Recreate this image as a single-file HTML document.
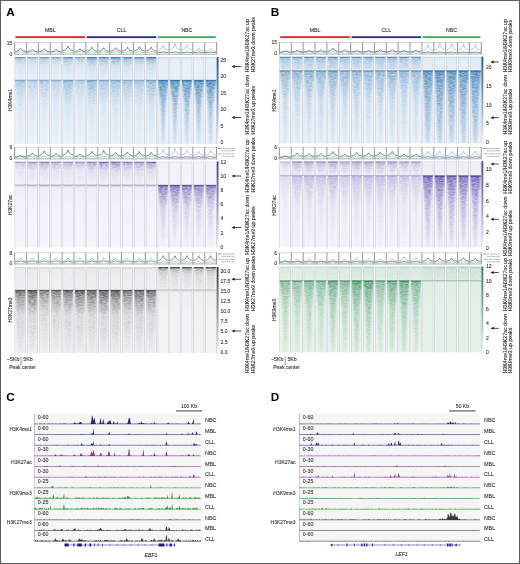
<!DOCTYPE html>
<html><head><meta charset="utf-8"><style>
html,body{margin:0;padding:0;background:#fff;}
svg{display:block;font-family:"Liberation Sans", sans-serif;will-change:transform;}
</style></head><body>
<svg xmlns="http://www.w3.org/2000/svg" width="520" height="564" viewBox="0 0 520 564">
<defs>
<filter id="blur1" x="-50%" y="-10%" width="200%" height="120%"><feGaussianBlur stdDeviation="0.9"/></filter>
<filter id="texmul" x="0" y="0" width="100%" height="100%"><feTurbulence type="fractalNoise" baseFrequency="0.32 0.85" numOctaves="2" seed="4" result="n"/><feColorMatrix in="n" type="matrix" values="0 0 0 0 0  0 0 0 0 0  0 0 0 0 0  1.0 0 0 0 0.25" result="na"/><feComposite in="SourceGraphic" in2="na" operator="in"/></filter>
<clipPath id="cp1"><rect x="14.60" y="57.00" width="201.96" height="87.00"/></clipPath><clipPath id="cc2"><rect x="14.60" y="57.00" width="11.88" height="23.00"/></clipPath><linearGradient id="l3" x2="0" y2="1"><stop offset="0" stop-color="rgb(35,110,170)" stop-opacity="0.54"/><stop offset="0.15" stop-color="rgb(35,110,170)" stop-opacity="0.34"/><stop offset="0.4" stop-color="rgb(35,110,170)" stop-opacity="0.14"/><stop offset="1" stop-color="rgb(35,110,170)" stop-opacity="0.04"/></linearGradient><clipPath id="cc4"><rect x="14.60" y="80.00" width="11.88" height="64.00"/></clipPath><linearGradient id="l5" x2="0" y2="1"><stop offset="0" stop-color="rgb(35,110,170)" stop-opacity="0.41"/><stop offset="0.15" stop-color="rgb(35,110,170)" stop-opacity="0.27"/><stop offset="0.4" stop-color="rgb(35,110,170)" stop-opacity="0.11"/><stop offset="1" stop-color="rgb(35,110,170)" stop-opacity="0.03"/></linearGradient><clipPath id="cc6"><rect x="26.48" y="57.00" width="11.88" height="23.00"/></clipPath><linearGradient id="l7" x2="0" y2="1"><stop offset="0" stop-color="rgb(35,110,170)" stop-opacity="0.43"/><stop offset="0.15" stop-color="rgb(35,110,170)" stop-opacity="0.27"/><stop offset="0.4" stop-color="rgb(35,110,170)" stop-opacity="0.11"/><stop offset="1" stop-color="rgb(35,110,170)" stop-opacity="0.03"/></linearGradient><clipPath id="cc8"><rect x="26.48" y="80.00" width="11.88" height="64.00"/></clipPath><linearGradient id="l9" x2="0" y2="1"><stop offset="0" stop-color="rgb(35,110,170)" stop-opacity="0.32"/><stop offset="0.15" stop-color="rgb(35,110,170)" stop-opacity="0.22"/><stop offset="0.4" stop-color="rgb(35,110,170)" stop-opacity="0.09"/><stop offset="1" stop-color="rgb(35,110,170)" stop-opacity="0.02"/></linearGradient><clipPath id="cc10"><rect x="38.36" y="57.00" width="11.88" height="23.00"/></clipPath><linearGradient id="l11" x2="0" y2="1"><stop offset="0" stop-color="rgb(35,110,170)" stop-opacity="0.51"/><stop offset="0.15" stop-color="rgb(35,110,170)" stop-opacity="0.32"/><stop offset="0.4" stop-color="rgb(35,110,170)" stop-opacity="0.13"/><stop offset="1" stop-color="rgb(35,110,170)" stop-opacity="0.04"/></linearGradient><clipPath id="cc12"><rect x="38.36" y="80.00" width="11.88" height="64.00"/></clipPath><linearGradient id="l13" x2="0" y2="1"><stop offset="0" stop-color="rgb(35,110,170)" stop-opacity="0.38"/><stop offset="0.15" stop-color="rgb(35,110,170)" stop-opacity="0.26"/><stop offset="0.4" stop-color="rgb(35,110,170)" stop-opacity="0.1"/><stop offset="1" stop-color="rgb(35,110,170)" stop-opacity="0.03"/></linearGradient><clipPath id="cc14"><rect x="50.24" y="57.00" width="11.88" height="23.00"/></clipPath><linearGradient id="l15" x2="0" y2="1"><stop offset="0" stop-color="rgb(35,110,170)" stop-opacity="0.46"/><stop offset="0.15" stop-color="rgb(35,110,170)" stop-opacity="0.29"/><stop offset="0.4" stop-color="rgb(35,110,170)" stop-opacity="0.11"/><stop offset="1" stop-color="rgb(35,110,170)" stop-opacity="0.03"/></linearGradient><clipPath id="cc16"><rect x="50.24" y="80.00" width="11.88" height="64.00"/></clipPath><linearGradient id="l17" x2="0" y2="1"><stop offset="0" stop-color="rgb(35,110,170)" stop-opacity="0.34"/><stop offset="0.15" stop-color="rgb(35,110,170)" stop-opacity="0.23"/><stop offset="0.4" stop-color="rgb(35,110,170)" stop-opacity="0.09"/><stop offset="1" stop-color="rgb(35,110,170)" stop-opacity="0.02"/></linearGradient><clipPath id="cc18"><rect x="62.12" y="57.00" width="11.88" height="23.00"/></clipPath><linearGradient id="l19" x2="0" y2="1"><stop offset="0" stop-color="rgb(35,110,170)" stop-opacity="0.68"/><stop offset="0.15" stop-color="rgb(35,110,170)" stop-opacity="0.42"/><stop offset="0.4" stop-color="rgb(35,110,170)" stop-opacity="0.17"/><stop offset="1" stop-color="rgb(35,110,170)" stop-opacity="0.05"/></linearGradient><clipPath id="cc20"><rect x="62.12" y="80.00" width="11.88" height="64.00"/></clipPath><linearGradient id="l21" x2="0" y2="1"><stop offset="0" stop-color="rgb(35,110,170)" stop-opacity="0.51"/><stop offset="0.15" stop-color="rgb(35,110,170)" stop-opacity="0.34"/><stop offset="0.4" stop-color="rgb(35,110,170)" stop-opacity="0.14"/><stop offset="1" stop-color="rgb(35,110,170)" stop-opacity="0.03"/></linearGradient><clipPath id="cc22"><rect x="74.00" y="57.00" width="11.88" height="23.00"/></clipPath><clipPath id="cc23"><rect x="74.00" y="80.00" width="11.88" height="64.00"/></clipPath><clipPath id="cc24"><rect x="85.88" y="57.00" width="11.88" height="23.00"/></clipPath><linearGradient id="l25" x2="0" y2="1"><stop offset="0" stop-color="rgb(35,110,170)" stop-opacity="0.81"/><stop offset="0.15" stop-color="rgb(35,110,170)" stop-opacity="0.52"/><stop offset="0.4" stop-color="rgb(35,110,170)" stop-opacity="0.21"/><stop offset="1" stop-color="rgb(35,110,170)" stop-opacity="0.06"/></linearGradient><clipPath id="cc26"><rect x="85.88" y="80.00" width="11.88" height="64.00"/></clipPath><linearGradient id="l27" x2="0" y2="1"><stop offset="0" stop-color="rgb(35,110,170)" stop-opacity="0.53"/><stop offset="0.15" stop-color="rgb(35,110,170)" stop-opacity="0.36"/><stop offset="0.4" stop-color="rgb(35,110,170)" stop-opacity="0.15"/><stop offset="1" stop-color="rgb(35,110,170)" stop-opacity="0.03"/></linearGradient><clipPath id="cc28"><rect x="97.76" y="57.00" width="11.88" height="23.00"/></clipPath><linearGradient id="l29" x2="0" y2="1"><stop offset="0" stop-color="rgb(35,110,170)" stop-opacity="0.68"/><stop offset="0.15" stop-color="rgb(35,110,170)" stop-opacity="0.43"/><stop offset="0.4" stop-color="rgb(35,110,170)" stop-opacity="0.18"/><stop offset="1" stop-color="rgb(35,110,170)" stop-opacity="0.05"/></linearGradient><clipPath id="cc30"><rect x="97.76" y="80.00" width="11.88" height="64.00"/></clipPath><linearGradient id="l31" x2="0" y2="1"><stop offset="0" stop-color="rgb(35,110,170)" stop-opacity="0.45"/><stop offset="0.15" stop-color="rgb(35,110,170)" stop-opacity="0.3"/><stop offset="0.4" stop-color="rgb(35,110,170)" stop-opacity="0.12"/><stop offset="1" stop-color="rgb(35,110,170)" stop-opacity="0.03"/></linearGradient><clipPath id="cc32"><rect x="109.64" y="57.00" width="11.88" height="23.00"/></clipPath><linearGradient id="l33" x2="0" y2="1"><stop offset="0" stop-color="rgb(35,110,170)" stop-opacity="0.78"/><stop offset="0.15" stop-color="rgb(35,110,170)" stop-opacity="0.5"/><stop offset="0.4" stop-color="rgb(35,110,170)" stop-opacity="0.2"/><stop offset="1" stop-color="rgb(35,110,170)" stop-opacity="0.06"/></linearGradient><clipPath id="cc34"><rect x="109.64" y="80.00" width="11.88" height="64.00"/></clipPath><clipPath id="cc35"><rect x="121.52" y="57.00" width="11.88" height="23.00"/></clipPath><clipPath id="cc36"><rect x="121.52" y="80.00" width="11.88" height="64.00"/></clipPath><clipPath id="cc37"><rect x="133.40" y="57.00" width="11.88" height="23.00"/></clipPath><linearGradient id="l38" x2="0" y2="1"><stop offset="0" stop-color="rgb(35,110,170)" stop-opacity="0.64"/><stop offset="0.15" stop-color="rgb(35,110,170)" stop-opacity="0.41"/><stop offset="0.4" stop-color="rgb(35,110,170)" stop-opacity="0.17"/><stop offset="1" stop-color="rgb(35,110,170)" stop-opacity="0.05"/></linearGradient><clipPath id="cc39"><rect x="133.40" y="80.00" width="11.88" height="64.00"/></clipPath><linearGradient id="l40" x2="0" y2="1"><stop offset="0" stop-color="rgb(35,110,170)" stop-opacity="0.42"/><stop offset="0.15" stop-color="rgb(35,110,170)" stop-opacity="0.28"/><stop offset="0.4" stop-color="rgb(35,110,170)" stop-opacity="0.12"/><stop offset="1" stop-color="rgb(35,110,170)" stop-opacity="0.03"/></linearGradient><clipPath id="cc41"><rect x="145.28" y="57.00" width="11.88" height="23.00"/></clipPath><clipPath id="cc42"><rect x="145.28" y="80.00" width="11.88" height="64.00"/></clipPath><clipPath id="cc43"><rect x="157.16" y="57.00" width="11.88" height="23.00"/></clipPath><linearGradient id="l44" x2="0" y2="1"><stop offset="0" stop-color="rgb(35,110,170)" stop-opacity="0.05"/><stop offset="0.15" stop-color="rgb(35,110,170)" stop-opacity="0.04"/><stop offset="0.4" stop-color="rgb(35,110,170)" stop-opacity="0.03"/><stop offset="1" stop-color="rgb(35,110,170)" stop-opacity="0.03"/></linearGradient><clipPath id="cc45"><rect x="157.16" y="80.00" width="11.88" height="64.00"/></clipPath><linearGradient id="l46" x2="0" y2="1"><stop offset="0" stop-color="rgb(35,110,170)" stop-opacity="0.84"/><stop offset="0.15" stop-color="rgb(35,110,170)" stop-opacity="0.7"/><stop offset="0.4" stop-color="rgb(35,110,170)" stop-opacity="0.51"/><stop offset="1" stop-color="rgb(35,110,170)" stop-opacity="0.18"/></linearGradient><clipPath id="cc47"><rect x="169.04" y="57.00" width="11.88" height="23.00"/></clipPath><clipPath id="cc48"><rect x="169.04" y="80.00" width="11.88" height="64.00"/></clipPath><clipPath id="cc49"><rect x="180.92" y="57.00" width="11.88" height="23.00"/></clipPath><clipPath id="cc50"><rect x="180.92" y="80.00" width="11.88" height="64.00"/></clipPath><clipPath id="cc51"><rect x="192.80" y="57.00" width="11.88" height="23.00"/></clipPath><clipPath id="cc52"><rect x="192.80" y="80.00" width="11.88" height="64.00"/></clipPath><clipPath id="cc53"><rect x="204.68" y="57.00" width="11.88" height="23.00"/></clipPath><clipPath id="cc54"><rect x="204.68" y="80.00" width="11.88" height="64.00"/></clipPath><linearGradient id="cb55" x1="0" y1="0" x2="0" y2="1"><stop offset="0" stop-color="rgb(40,80,140)"/><stop offset="0.5" stop-color="rgb(40,80,140)" stop-opacity="0.55"/><stop offset="1" stop-color="rgb(40,80,140)" stop-opacity="0.06"/></linearGradient><clipPath id="cp56"><rect x="14.60" y="161.50" width="201.96" height="86.00"/></clipPath><clipPath id="cc57"><rect x="14.60" y="161.50" width="11.88" height="23.50"/></clipPath><linearGradient id="l58" x2="0" y2="1"><stop offset="0" stop-color="rgb(80,62,162)" stop-opacity="0.41"/><stop offset="0.15" stop-color="rgb(80,62,162)" stop-opacity="0.27"/><stop offset="0.4" stop-color="rgb(80,62,162)" stop-opacity="0.11"/><stop offset="1" stop-color="rgb(80,62,162)" stop-opacity="0.03"/></linearGradient><clipPath id="cc59"><rect x="14.60" y="185.00" width="11.88" height="62.50"/></clipPath><linearGradient id="l60" x2="0" y2="1"><stop offset="0" stop-color="rgb(80,62,162)" stop-opacity="0.06"/><stop offset="0.15" stop-color="rgb(80,62,162)" stop-opacity="0.03"/><stop offset="0.4" stop-color="rgb(80,62,162)" stop-opacity="0.01"/><stop offset="1" stop-color="rgb(80,62,162)" stop-opacity="0.0"/></linearGradient><clipPath id="cc61"><rect x="26.48" y="161.50" width="11.88" height="23.50"/></clipPath><linearGradient id="l62" x2="0" y2="1"><stop offset="0" stop-color="rgb(80,62,162)" stop-opacity="0.51"/><stop offset="0.15" stop-color="rgb(80,62,162)" stop-opacity="0.34"/><stop offset="0.4" stop-color="rgb(80,62,162)" stop-opacity="0.14"/><stop offset="1" stop-color="rgb(80,62,162)" stop-opacity="0.04"/></linearGradient><clipPath id="cc63"><rect x="26.48" y="185.00" width="11.88" height="62.50"/></clipPath><linearGradient id="l64" x2="0" y2="1"><stop offset="0" stop-color="rgb(80,62,162)" stop-opacity="0.08"/><stop offset="0.15" stop-color="rgb(80,62,162)" stop-opacity="0.04"/><stop offset="0.4" stop-color="rgb(80,62,162)" stop-opacity="0.01"/><stop offset="1" stop-color="rgb(80,62,162)" stop-opacity="0.0"/></linearGradient><clipPath id="cc65"><rect x="38.36" y="161.50" width="11.88" height="23.50"/></clipPath><linearGradient id="l66" x2="0" y2="1"><stop offset="0" stop-color="rgb(80,62,162)" stop-opacity="0.59"/><stop offset="0.15" stop-color="rgb(80,62,162)" stop-opacity="0.39"/><stop offset="0.4" stop-color="rgb(80,62,162)" stop-opacity="0.16"/><stop offset="1" stop-color="rgb(80,62,162)" stop-opacity="0.05"/></linearGradient><clipPath id="cc67"><rect x="38.36" y="185.00" width="11.88" height="62.50"/></clipPath><linearGradient id="l68" x2="0" y2="1"><stop offset="0" stop-color="rgb(80,62,162)" stop-opacity="0.09"/><stop offset="0.15" stop-color="rgb(80,62,162)" stop-opacity="0.05"/><stop offset="0.4" stop-color="rgb(80,62,162)" stop-opacity="0.02"/><stop offset="1" stop-color="rgb(80,62,162)" stop-opacity="0.0"/></linearGradient><clipPath id="cc69"><rect x="50.24" y="161.50" width="11.88" height="23.50"/></clipPath><clipPath id="cc70"><rect x="50.24" y="185.00" width="11.88" height="62.50"/></clipPath><clipPath id="cc71"><rect x="62.12" y="161.50" width="11.88" height="23.50"/></clipPath><clipPath id="cc72"><rect x="62.12" y="185.00" width="11.88" height="62.50"/></clipPath><clipPath id="cc73"><rect x="74.00" y="161.50" width="11.88" height="23.50"/></clipPath><linearGradient id="l74" x2="0" y2="1"><stop offset="0" stop-color="rgb(80,62,162)" stop-opacity="0.46"/><stop offset="0.15" stop-color="rgb(80,62,162)" stop-opacity="0.3"/><stop offset="0.4" stop-color="rgb(80,62,162)" stop-opacity="0.12"/><stop offset="1" stop-color="rgb(80,62,162)" stop-opacity="0.04"/></linearGradient><clipPath id="cc75"><rect x="74.00" y="185.00" width="11.88" height="62.50"/></clipPath><linearGradient id="l76" x2="0" y2="1"><stop offset="0" stop-color="rgb(80,62,162)" stop-opacity="0.07"/><stop offset="0.15" stop-color="rgb(80,62,162)" stop-opacity="0.04"/><stop offset="0.4" stop-color="rgb(80,62,162)" stop-opacity="0.01"/><stop offset="1" stop-color="rgb(80,62,162)" stop-opacity="0.0"/></linearGradient><clipPath id="cc77"><rect x="85.88" y="161.50" width="11.88" height="23.50"/></clipPath><linearGradient id="l78" x2="0" y2="1"><stop offset="0" stop-color="rgb(80,62,162)" stop-opacity="0.68"/><stop offset="0.15" stop-color="rgb(80,62,162)" stop-opacity="0.43"/><stop offset="0.4" stop-color="rgb(80,62,162)" stop-opacity="0.18"/><stop offset="1" stop-color="rgb(80,62,162)" stop-opacity="0.04"/></linearGradient><clipPath id="cc79"><rect x="85.88" y="185.00" width="11.88" height="62.50"/></clipPath><clipPath id="cc80"><rect x="97.76" y="161.50" width="11.88" height="23.50"/></clipPath><linearGradient id="l81" x2="0" y2="1"><stop offset="0" stop-color="rgb(80,62,162)" stop-opacity="0.74"/><stop offset="0.15" stop-color="rgb(80,62,162)" stop-opacity="0.48"/><stop offset="0.4" stop-color="rgb(80,62,162)" stop-opacity="0.19"/><stop offset="1" stop-color="rgb(80,62,162)" stop-opacity="0.04"/></linearGradient><clipPath id="cc82"><rect x="97.76" y="185.00" width="11.88" height="62.50"/></clipPath><linearGradient id="l83" x2="0" y2="1"><stop offset="0" stop-color="rgb(80,62,162)" stop-opacity="0.09"/><stop offset="0.15" stop-color="rgb(80,62,162)" stop-opacity="0.04"/><stop offset="0.4" stop-color="rgb(80,62,162)" stop-opacity="0.01"/><stop offset="1" stop-color="rgb(80,62,162)" stop-opacity="0.0"/></linearGradient><clipPath id="cc84"><rect x="109.64" y="161.50" width="11.88" height="23.50"/></clipPath><linearGradient id="l85" x2="0" y2="1"><stop offset="0" stop-color="rgb(80,62,162)" stop-opacity="0.81"/><stop offset="0.15" stop-color="rgb(80,62,162)" stop-opacity="0.52"/><stop offset="0.4" stop-color="rgb(80,62,162)" stop-opacity="0.21"/><stop offset="1" stop-color="rgb(80,62,162)" stop-opacity="0.05"/></linearGradient><clipPath id="cc86"><rect x="109.64" y="185.00" width="11.88" height="62.50"/></clipPath><linearGradient id="l87" x2="0" y2="1"><stop offset="0" stop-color="rgb(80,62,162)" stop-opacity="0.1"/><stop offset="0.15" stop-color="rgb(80,62,162)" stop-opacity="0.05"/><stop offset="0.4" stop-color="rgb(80,62,162)" stop-opacity="0.02"/><stop offset="1" stop-color="rgb(80,62,162)" stop-opacity="0.0"/></linearGradient><clipPath id="cc88"><rect x="121.52" y="161.50" width="11.88" height="23.50"/></clipPath><clipPath id="cc89"><rect x="121.52" y="185.00" width="11.88" height="62.50"/></clipPath><clipPath id="cc90"><rect x="133.40" y="161.50" width="11.88" height="23.50"/></clipPath><clipPath id="cc91"><rect x="133.40" y="185.00" width="11.88" height="62.50"/></clipPath><clipPath id="cc92"><rect x="145.28" y="161.50" width="11.88" height="23.50"/></clipPath><clipPath id="cc93"><rect x="145.28" y="185.00" width="11.88" height="62.50"/></clipPath><clipPath id="cc94"><rect x="157.16" y="161.50" width="11.88" height="23.50"/></clipPath><linearGradient id="l95" x2="0" y2="1"><stop offset="0" stop-color="rgb(80,62,162)" stop-opacity="0.03"/><stop offset="0.15" stop-color="rgb(80,62,162)" stop-opacity="0.01"/><stop offset="0.4" stop-color="rgb(80,62,162)" stop-opacity="0.01"/><stop offset="1" stop-color="rgb(80,62,162)" stop-opacity="0.01"/></linearGradient><clipPath id="cc96"><rect x="157.16" y="185.00" width="11.88" height="62.50"/></clipPath><linearGradient id="l97" x2="0" y2="1"><stop offset="0" stop-color="rgb(80,62,162)" stop-opacity="0.85"/><stop offset="0.15" stop-color="rgb(80,62,162)" stop-opacity="0.54"/><stop offset="0.4" stop-color="rgb(80,62,162)" stop-opacity="0.26"/><stop offset="1" stop-color="rgb(80,62,162)" stop-opacity="0.04"/></linearGradient><clipPath id="cc98"><rect x="169.04" y="161.50" width="11.88" height="23.50"/></clipPath><clipPath id="cc99"><rect x="169.04" y="185.00" width="11.88" height="62.50"/></clipPath><linearGradient id="l100" x2="0" y2="1"><stop offset="0" stop-color="rgb(80,62,162)" stop-opacity="0.89"/><stop offset="0.15" stop-color="rgb(80,62,162)" stop-opacity="0.56"/><stop offset="0.4" stop-color="rgb(80,62,162)" stop-opacity="0.27"/><stop offset="1" stop-color="rgb(80,62,162)" stop-opacity="0.04"/></linearGradient><clipPath id="cc101"><rect x="180.92" y="161.50" width="11.88" height="23.50"/></clipPath><clipPath id="cc102"><rect x="180.92" y="185.00" width="11.88" height="62.50"/></clipPath><linearGradient id="l103" x2="0" y2="1"><stop offset="0" stop-color="rgb(80,62,162)" stop-opacity="0.81"/><stop offset="0.15" stop-color="rgb(80,62,162)" stop-opacity="0.51"/><stop offset="0.4" stop-color="rgb(80,62,162)" stop-opacity="0.24"/><stop offset="1" stop-color="rgb(80,62,162)" stop-opacity="0.04"/></linearGradient><clipPath id="cc104"><rect x="192.80" y="161.50" width="11.88" height="23.50"/></clipPath><clipPath id="cc105"><rect x="192.80" y="185.00" width="11.88" height="62.50"/></clipPath><linearGradient id="l106" x2="0" y2="1"><stop offset="0" stop-color="rgb(80,62,162)" stop-opacity="0.77"/><stop offset="0.15" stop-color="rgb(80,62,162)" stop-opacity="0.49"/><stop offset="0.4" stop-color="rgb(80,62,162)" stop-opacity="0.23"/><stop offset="1" stop-color="rgb(80,62,162)" stop-opacity="0.04"/></linearGradient><clipPath id="cc107"><rect x="204.68" y="161.50" width="11.88" height="23.50"/></clipPath><clipPath id="cc108"><rect x="204.68" y="185.00" width="11.88" height="62.50"/></clipPath><linearGradient id="cb109" x1="0" y1="0" x2="0" y2="1"><stop offset="0" stop-color="rgb(70,60,160)"/><stop offset="0.5" stop-color="rgb(70,60,160)" stop-opacity="0.55"/><stop offset="1" stop-color="rgb(70,60,160)" stop-opacity="0.06"/></linearGradient><clipPath id="cp110"><rect x="14.60" y="267.00" width="201.96" height="86.00"/></clipPath><clipPath id="cc111"><rect x="14.60" y="267.00" width="11.88" height="23.00"/></clipPath><linearGradient id="l112" x2="0" y2="1"><stop offset="0" stop-color="rgb(30,30,30)" stop-opacity="0.07"/><stop offset="0.15" stop-color="rgb(30,30,30)" stop-opacity="0.05"/><stop offset="0.4" stop-color="rgb(30,30,30)" stop-opacity="0.04"/><stop offset="1" stop-color="rgb(30,30,30)" stop-opacity="0.03"/></linearGradient><clipPath id="cc113"><rect x="14.60" y="290.00" width="11.88" height="63.00"/></clipPath><linearGradient id="l114" x2="0" y2="1"><stop offset="0" stop-color="rgb(30,30,30)" stop-opacity="0.78"/><stop offset="0.15" stop-color="rgb(30,30,30)" stop-opacity="0.47"/><stop offset="0.4" stop-color="rgb(30,30,30)" stop-opacity="0.18"/><stop offset="1" stop-color="rgb(30,30,30)" stop-opacity="0.05"/></linearGradient><clipPath id="cc115"><rect x="26.48" y="267.00" width="11.88" height="23.00"/></clipPath><linearGradient id="l116" x2="0" y2="1"><stop offset="0" stop-color="rgb(30,30,30)" stop-opacity="0.08"/><stop offset="0.15" stop-color="rgb(30,30,30)" stop-opacity="0.06"/><stop offset="0.4" stop-color="rgb(30,30,30)" stop-opacity="0.05"/><stop offset="1" stop-color="rgb(30,30,30)" stop-opacity="0.03"/></linearGradient><clipPath id="cc117"><rect x="26.48" y="290.00" width="11.88" height="63.00"/></clipPath><linearGradient id="l118" x2="0" y2="1"><stop offset="0" stop-color="rgb(30,30,30)" stop-opacity="0.9"/><stop offset="0.15" stop-color="rgb(30,30,30)" stop-opacity="0.54"/><stop offset="0.4" stop-color="rgb(30,30,30)" stop-opacity="0.2"/><stop offset="1" stop-color="rgb(30,30,30)" stop-opacity="0.05"/></linearGradient><clipPath id="cc119"><rect x="38.36" y="267.00" width="11.88" height="23.00"/></clipPath><linearGradient id="l120" x2="0" y2="1"><stop offset="0" stop-color="rgb(30,30,30)" stop-opacity="0.06"/><stop offset="0.15" stop-color="rgb(30,30,30)" stop-opacity="0.05"/><stop offset="0.4" stop-color="rgb(30,30,30)" stop-opacity="0.03"/><stop offset="1" stop-color="rgb(30,30,30)" stop-opacity="0.02"/></linearGradient><clipPath id="cc121"><rect x="38.36" y="290.00" width="11.88" height="63.00"/></clipPath><linearGradient id="l122" x2="0" y2="1"><stop offset="0" stop-color="rgb(30,30,30)" stop-opacity="0.67"/><stop offset="0.15" stop-color="rgb(30,30,30)" stop-opacity="0.4"/><stop offset="0.4" stop-color="rgb(30,30,30)" stop-opacity="0.15"/><stop offset="1" stop-color="rgb(30,30,30)" stop-opacity="0.04"/></linearGradient><clipPath id="cc123"><rect x="50.24" y="267.00" width="11.88" height="23.00"/></clipPath><linearGradient id="l124" x2="0" y2="1"><stop offset="0" stop-color="rgb(30,30,30)" stop-opacity="0.06"/><stop offset="0.15" stop-color="rgb(30,30,30)" stop-opacity="0.05"/><stop offset="0.4" stop-color="rgb(30,30,30)" stop-opacity="0.04"/><stop offset="1" stop-color="rgb(30,30,30)" stop-opacity="0.02"/></linearGradient><clipPath id="cc125"><rect x="50.24" y="290.00" width="11.88" height="63.00"/></clipPath><linearGradient id="l126" x2="0" y2="1"><stop offset="0" stop-color="rgb(30,30,30)" stop-opacity="0.7"/><stop offset="0.15" stop-color="rgb(30,30,30)" stop-opacity="0.43"/><stop offset="0.4" stop-color="rgb(30,30,30)" stop-opacity="0.16"/><stop offset="1" stop-color="rgb(30,30,30)" stop-opacity="0.04"/></linearGradient><clipPath id="cc127"><rect x="62.12" y="267.00" width="11.88" height="23.00"/></clipPath><clipPath id="cc128"><rect x="62.12" y="290.00" width="11.88" height="63.00"/></clipPath><clipPath id="cc129"><rect x="74.00" y="267.00" width="11.88" height="23.00"/></clipPath><linearGradient id="l130" x2="0" y2="1"><stop offset="0" stop-color="rgb(30,30,30)" stop-opacity="0.07"/><stop offset="0.15" stop-color="rgb(30,30,30)" stop-opacity="0.06"/><stop offset="0.4" stop-color="rgb(30,30,30)" stop-opacity="0.04"/><stop offset="1" stop-color="rgb(30,30,30)" stop-opacity="0.03"/></linearGradient><clipPath id="cc131"><rect x="74.00" y="290.00" width="11.88" height="63.00"/></clipPath><linearGradient id="l132" x2="0" y2="1"><stop offset="0" stop-color="rgb(30,30,30)" stop-opacity="0.86"/><stop offset="0.15" stop-color="rgb(30,30,30)" stop-opacity="0.52"/><stop offset="0.4" stop-color="rgb(30,30,30)" stop-opacity="0.19"/><stop offset="1" stop-color="rgb(30,30,30)" stop-opacity="0.05"/></linearGradient><clipPath id="cc133"><rect x="85.88" y="267.00" width="11.88" height="23.00"/></clipPath><clipPath id="cc134"><rect x="85.88" y="290.00" width="11.88" height="63.00"/></clipPath><linearGradient id="l135" x2="0" y2="1"><stop offset="0" stop-color="rgb(30,30,30)" stop-opacity="0.85"/><stop offset="0.15" stop-color="rgb(30,30,30)" stop-opacity="0.52"/><stop offset="0.4" stop-color="rgb(30,30,30)" stop-opacity="0.2"/><stop offset="1" stop-color="rgb(30,30,30)" stop-opacity="0.05"/></linearGradient><clipPath id="cc136"><rect x="97.76" y="267.00" width="11.88" height="23.00"/></clipPath><clipPath id="cc137"><rect x="97.76" y="290.00" width="11.88" height="63.00"/></clipPath><linearGradient id="l138" x2="0" y2="1"><stop offset="0" stop-color="rgb(30,30,30)" stop-opacity="0.89"/><stop offset="0.15" stop-color="rgb(30,30,30)" stop-opacity="0.55"/><stop offset="0.4" stop-color="rgb(30,30,30)" stop-opacity="0.21"/><stop offset="1" stop-color="rgb(30,30,30)" stop-opacity="0.05"/></linearGradient><clipPath id="cc139"><rect x="109.64" y="267.00" width="11.88" height="23.00"/></clipPath><clipPath id="cc140"><rect x="109.64" y="290.00" width="11.88" height="63.00"/></clipPath><clipPath id="cc141"><rect x="121.52" y="267.00" width="11.88" height="23.00"/></clipPath><linearGradient id="l142" x2="0" y2="1"><stop offset="0" stop-color="rgb(30,30,30)" stop-opacity="0.06"/><stop offset="0.15" stop-color="rgb(30,30,30)" stop-opacity="0.05"/><stop offset="0.4" stop-color="rgb(30,30,30)" stop-opacity="0.04"/><stop offset="1" stop-color="rgb(30,30,30)" stop-opacity="0.03"/></linearGradient><clipPath id="cc143"><rect x="121.52" y="290.00" width="11.88" height="63.00"/></clipPath><linearGradient id="l144" x2="0" y2="1"><stop offset="0" stop-color="rgb(30,30,30)" stop-opacity="0.77"/><stop offset="0.15" stop-color="rgb(30,30,30)" stop-opacity="0.47"/><stop offset="0.4" stop-color="rgb(30,30,30)" stop-opacity="0.18"/><stop offset="1" stop-color="rgb(30,30,30)" stop-opacity="0.04"/></linearGradient><clipPath id="cc145"><rect x="133.40" y="267.00" width="11.88" height="23.00"/></clipPath><clipPath id="cc146"><rect x="133.40" y="290.00" width="11.88" height="63.00"/></clipPath><clipPath id="cc147"><rect x="145.28" y="267.00" width="11.88" height="23.00"/></clipPath><clipPath id="cc148"><rect x="145.28" y="290.00" width="11.88" height="63.00"/></clipPath><clipPath id="cc149"><rect x="157.16" y="267.00" width="11.88" height="23.00"/></clipPath><linearGradient id="l150" x2="0" y2="1"><stop offset="0" stop-color="rgb(30,30,30)" stop-opacity="0.68"/><stop offset="0.15" stop-color="rgb(30,30,30)" stop-opacity="0.34"/><stop offset="0.4" stop-color="rgb(30,30,30)" stop-opacity="0.14"/><stop offset="1" stop-color="rgb(30,30,30)" stop-opacity="0.07"/></linearGradient><clipPath id="cc151"><rect x="157.16" y="290.00" width="11.88" height="63.00"/></clipPath><linearGradient id="l152" x2="0" y2="1"><stop offset="0" stop-color="rgb(30,30,30)" stop-opacity="0.04"/><stop offset="0.15" stop-color="rgb(30,30,30)" stop-opacity="0.03"/><stop offset="0.4" stop-color="rgb(30,30,30)" stop-opacity="0.01"/><stop offset="1" stop-color="rgb(30,30,30)" stop-opacity="0.01"/></linearGradient><clipPath id="cc153"><rect x="169.04" y="267.00" width="11.88" height="23.00"/></clipPath><clipPath id="cc154"><rect x="169.04" y="290.00" width="11.88" height="63.00"/></clipPath><clipPath id="cc155"><rect x="180.92" y="267.00" width="11.88" height="23.00"/></clipPath><clipPath id="cc156"><rect x="180.92" y="290.00" width="11.88" height="63.00"/></clipPath><clipPath id="cc157"><rect x="192.80" y="267.00" width="11.88" height="23.00"/></clipPath><clipPath id="cc158"><rect x="192.80" y="290.00" width="11.88" height="63.00"/></clipPath><clipPath id="cc159"><rect x="204.68" y="267.00" width="11.88" height="23.00"/></clipPath><clipPath id="cc160"><rect x="204.68" y="290.00" width="11.88" height="63.00"/></clipPath><linearGradient id="cb161" x1="0" y1="0" x2="0" y2="1"><stop offset="0" stop-color="rgb(60,60,60)"/><stop offset="0.5" stop-color="rgb(60,60,60)" stop-opacity="0.55"/><stop offset="1" stop-color="rgb(60,60,60)" stop-opacity="0.06"/></linearGradient><clipPath id="cp162"><rect x="279.40" y="56.60" width="201.89" height="86.90"/></clipPath><clipPath id="cc163"><rect x="279.40" y="56.60" width="11.88" height="14.00"/></clipPath><linearGradient id="l164" x2="0" y2="1"><stop offset="0" stop-color="rgb(35,110,170)" stop-opacity="0.61"/><stop offset="0.15" stop-color="rgb(35,110,170)" stop-opacity="0.47"/><stop offset="0.4" stop-color="rgb(35,110,170)" stop-opacity="0.34"/><stop offset="1" stop-color="rgb(35,110,170)" stop-opacity="0.19"/></linearGradient><clipPath id="cc165"><rect x="279.40" y="70.60" width="11.88" height="72.90"/></clipPath><linearGradient id="l166" x2="0" y2="1"><stop offset="0" stop-color="rgb(35,110,170)" stop-opacity="0.57"/><stop offset="0.15" stop-color="rgb(35,110,170)" stop-opacity="0.43"/><stop offset="0.4" stop-color="rgb(35,110,170)" stop-opacity="0.27"/><stop offset="1" stop-color="rgb(35,110,170)" stop-opacity="0.09"/></linearGradient><clipPath id="cc167"><rect x="291.28" y="56.60" width="11.88" height="14.00"/></clipPath><linearGradient id="l168" x2="0" y2="1"><stop offset="0" stop-color="rgb(35,110,170)" stop-opacity="0.58"/><stop offset="0.15" stop-color="rgb(35,110,170)" stop-opacity="0.45"/><stop offset="0.4" stop-color="rgb(35,110,170)" stop-opacity="0.32"/><stop offset="1" stop-color="rgb(35,110,170)" stop-opacity="0.18"/></linearGradient><clipPath id="cc169"><rect x="291.28" y="70.60" width="11.88" height="72.90"/></clipPath><linearGradient id="l170" x2="0" y2="1"><stop offset="0" stop-color="rgb(35,110,170)" stop-opacity="0.54"/><stop offset="0.15" stop-color="rgb(35,110,170)" stop-opacity="0.41"/><stop offset="0.4" stop-color="rgb(35,110,170)" stop-opacity="0.26"/><stop offset="1" stop-color="rgb(35,110,170)" stop-opacity="0.09"/></linearGradient><clipPath id="cc171"><rect x="303.15" y="56.60" width="11.88" height="14.00"/></clipPath><linearGradient id="l172" x2="0" y2="1"><stop offset="0" stop-color="rgb(35,110,170)" stop-opacity="0.64"/><stop offset="0.15" stop-color="rgb(35,110,170)" stop-opacity="0.5"/><stop offset="0.4" stop-color="rgb(35,110,170)" stop-opacity="0.35"/><stop offset="1" stop-color="rgb(35,110,170)" stop-opacity="0.2"/></linearGradient><clipPath id="cc173"><rect x="303.15" y="70.60" width="11.88" height="72.90"/></clipPath><linearGradient id="l174" x2="0" y2="1"><stop offset="0" stop-color="rgb(35,110,170)" stop-opacity="0.6"/><stop offset="0.15" stop-color="rgb(35,110,170)" stop-opacity="0.45"/><stop offset="0.4" stop-color="rgb(35,110,170)" stop-opacity="0.28"/><stop offset="1" stop-color="rgb(35,110,170)" stop-opacity="0.1"/></linearGradient><clipPath id="cc175"><rect x="315.03" y="56.60" width="11.88" height="14.00"/></clipPath><clipPath id="cc176"><rect x="315.03" y="70.60" width="11.88" height="72.90"/></clipPath><clipPath id="cc177"><rect x="326.90" y="56.60" width="11.88" height="14.00"/></clipPath><linearGradient id="l178" x2="0" y2="1"><stop offset="0" stop-color="rgb(35,110,170)" stop-opacity="0.67"/><stop offset="0.15" stop-color="rgb(35,110,170)" stop-opacity="0.52"/><stop offset="0.4" stop-color="rgb(35,110,170)" stop-opacity="0.37"/><stop offset="1" stop-color="rgb(35,110,170)" stop-opacity="0.21"/></linearGradient><clipPath id="cc179"><rect x="326.90" y="70.60" width="11.88" height="72.90"/></clipPath><linearGradient id="l180" x2="0" y2="1"><stop offset="0" stop-color="rgb(35,110,170)" stop-opacity="0.62"/><stop offset="0.15" stop-color="rgb(35,110,170)" stop-opacity="0.48"/><stop offset="0.4" stop-color="rgb(35,110,170)" stop-opacity="0.3"/><stop offset="1" stop-color="rgb(35,110,170)" stop-opacity="0.1"/></linearGradient><clipPath id="cc181"><rect x="338.78" y="56.60" width="11.88" height="14.00"/></clipPath><clipPath id="cc182"><rect x="338.78" y="70.60" width="11.88" height="72.90"/></clipPath><clipPath id="cc183"><rect x="350.66" y="56.60" width="11.88" height="14.00"/></clipPath><clipPath id="cc184"><rect x="350.66" y="70.60" width="11.88" height="72.90"/></clipPath><linearGradient id="l185" x2="0" y2="1"><stop offset="0" stop-color="rgb(35,110,170)" stop-opacity="0.54"/><stop offset="0.15" stop-color="rgb(35,110,170)" stop-opacity="0.42"/><stop offset="0.4" stop-color="rgb(35,110,170)" stop-opacity="0.26"/><stop offset="1" stop-color="rgb(35,110,170)" stop-opacity="0.09"/></linearGradient><clipPath id="cc186"><rect x="362.53" y="56.60" width="11.88" height="14.00"/></clipPath><clipPath id="cc187"><rect x="362.53" y="70.60" width="11.88" height="72.90"/></clipPath><linearGradient id="l188" x2="0" y2="1"><stop offset="0" stop-color="rgb(35,110,170)" stop-opacity="0.51"/><stop offset="0.15" stop-color="rgb(35,110,170)" stop-opacity="0.4"/><stop offset="0.4" stop-color="rgb(35,110,170)" stop-opacity="0.24"/><stop offset="1" stop-color="rgb(35,110,170)" stop-opacity="0.09"/></linearGradient><clipPath id="cc189"><rect x="374.41" y="56.60" width="11.88" height="14.00"/></clipPath><clipPath id="cc190"><rect x="374.41" y="70.60" width="11.88" height="72.90"/></clipPath><clipPath id="cc191"><rect x="386.28" y="56.60" width="11.88" height="14.00"/></clipPath><clipPath id="cc192"><rect x="386.28" y="70.60" width="11.88" height="72.90"/></clipPath><linearGradient id="l193" x2="0" y2="1"><stop offset="0" stop-color="rgb(35,110,170)" stop-opacity="0.57"/><stop offset="0.15" stop-color="rgb(35,110,170)" stop-opacity="0.44"/><stop offset="0.4" stop-color="rgb(35,110,170)" stop-opacity="0.27"/><stop offset="1" stop-color="rgb(35,110,170)" stop-opacity="0.1"/></linearGradient><clipPath id="cc194"><rect x="398.16" y="56.60" width="11.88" height="14.00"/></clipPath><clipPath id="cc195"><rect x="398.16" y="70.60" width="11.88" height="72.90"/></clipPath><clipPath id="cc196"><rect x="410.04" y="56.60" width="11.88" height="14.00"/></clipPath><clipPath id="cc197"><rect x="410.04" y="70.60" width="11.88" height="72.90"/></clipPath><clipPath id="cc198"><rect x="421.91" y="56.60" width="11.88" height="14.00"/></clipPath><linearGradient id="l199" x2="0" y2="1"><stop offset="0" stop-color="rgb(35,110,170)" stop-opacity="0.08"/><stop offset="0.15" stop-color="rgb(35,110,170)" stop-opacity="0.07"/><stop offset="0.4" stop-color="rgb(35,110,170)" stop-opacity="0.05"/><stop offset="1" stop-color="rgb(35,110,170)" stop-opacity="0.05"/></linearGradient><clipPath id="cc200"><rect x="421.91" y="70.60" width="11.88" height="72.90"/></clipPath><linearGradient id="l201" x2="0" y2="1"><stop offset="0" stop-color="rgb(35,110,170)" stop-opacity="0.84"/><stop offset="0.15" stop-color="rgb(35,110,170)" stop-opacity="0.7"/><stop offset="0.4" stop-color="rgb(35,110,170)" stop-opacity="0.54"/><stop offset="1" stop-color="rgb(35,110,170)" stop-opacity="0.24"/></linearGradient><clipPath id="cc202"><rect x="433.79" y="56.60" width="11.88" height="14.00"/></clipPath><linearGradient id="l203" x2="0" y2="1"><stop offset="0" stop-color="rgb(35,110,170)" stop-opacity="0.09"/><stop offset="0.15" stop-color="rgb(35,110,170)" stop-opacity="0.07"/><stop offset="0.4" stop-color="rgb(35,110,170)" stop-opacity="0.06"/><stop offset="1" stop-color="rgb(35,110,170)" stop-opacity="0.06"/></linearGradient><clipPath id="cc204"><rect x="433.79" y="70.60" width="11.88" height="72.90"/></clipPath><linearGradient id="l205" x2="0" y2="1"><stop offset="0" stop-color="rgb(35,110,170)" stop-opacity="0.88"/><stop offset="0.15" stop-color="rgb(35,110,170)" stop-opacity="0.74"/><stop offset="0.4" stop-color="rgb(35,110,170)" stop-opacity="0.57"/><stop offset="1" stop-color="rgb(35,110,170)" stop-opacity="0.26"/></linearGradient><clipPath id="cc206"><rect x="445.66" y="56.60" width="11.88" height="14.00"/></clipPath><clipPath id="cc207"><rect x="445.66" y="70.60" width="11.88" height="72.90"/></clipPath><clipPath id="cc208"><rect x="457.54" y="56.60" width="11.88" height="14.00"/></clipPath><clipPath id="cc209"><rect x="457.54" y="70.60" width="11.88" height="72.90"/></clipPath><clipPath id="cc210"><rect x="469.42" y="56.60" width="11.88" height="14.00"/></clipPath><clipPath id="cc211"><rect x="469.42" y="70.60" width="11.88" height="72.90"/></clipPath><linearGradient id="cb212" x1="0" y1="0" x2="0" y2="1"><stop offset="0" stop-color="rgb(40,80,140)"/><stop offset="0.5" stop-color="rgb(40,80,140)" stop-opacity="0.55"/><stop offset="1" stop-color="rgb(40,80,140)" stop-opacity="0.06"/></linearGradient><clipPath id="cp213"><rect x="279.40" y="161.20" width="201.89" height="86.30"/></clipPath><clipPath id="cc214"><rect x="279.40" y="161.20" width="11.88" height="14.30"/></clipPath><linearGradient id="l215" x2="0" y2="1"><stop offset="0" stop-color="rgb(80,62,162)" stop-opacity="0.31"/><stop offset="0.15" stop-color="rgb(80,62,162)" stop-opacity="0.24"/><stop offset="0.4" stop-color="rgb(80,62,162)" stop-opacity="0.15"/><stop offset="1" stop-color="rgb(80,62,162)" stop-opacity="0.05"/></linearGradient><clipPath id="cc216"><rect x="279.40" y="175.50" width="11.88" height="72.00"/></clipPath><linearGradient id="l217" x2="0" y2="1"><stop offset="0" stop-color="rgb(80,62,162)" stop-opacity="0.19"/><stop offset="0.15" stop-color="rgb(80,62,162)" stop-opacity="0.13"/><stop offset="0.4" stop-color="rgb(80,62,162)" stop-opacity="0.07"/><stop offset="1" stop-color="rgb(80,62,162)" stop-opacity="0.01"/></linearGradient><clipPath id="cc218"><rect x="291.28" y="161.20" width="11.88" height="14.30"/></clipPath><linearGradient id="l219" x2="0" y2="1"><stop offset="0" stop-color="rgb(80,62,162)" stop-opacity="0.6"/><stop offset="0.15" stop-color="rgb(80,62,162)" stop-opacity="0.45"/><stop offset="0.4" stop-color="rgb(80,62,162)" stop-opacity="0.28"/><stop offset="1" stop-color="rgb(80,62,162)" stop-opacity="0.1"/></linearGradient><clipPath id="cc220"><rect x="291.28" y="175.50" width="11.88" height="72.00"/></clipPath><linearGradient id="l221" x2="0" y2="1"><stop offset="0" stop-color="rgb(80,62,162)" stop-opacity="0.37"/><stop offset="0.15" stop-color="rgb(80,62,162)" stop-opacity="0.26"/><stop offset="0.4" stop-color="rgb(80,62,162)" stop-opacity="0.14"/><stop offset="1" stop-color="rgb(80,62,162)" stop-opacity="0.03"/></linearGradient><clipPath id="cc222"><rect x="303.15" y="161.20" width="11.88" height="14.30"/></clipPath><linearGradient id="l223" x2="0" y2="1"><stop offset="0" stop-color="rgb(80,62,162)" stop-opacity="0.62"/><stop offset="0.15" stop-color="rgb(80,62,162)" stop-opacity="0.48"/><stop offset="0.4" stop-color="rgb(80,62,162)" stop-opacity="0.3"/><stop offset="1" stop-color="rgb(80,62,162)" stop-opacity="0.1"/></linearGradient><clipPath id="cc224"><rect x="303.15" y="175.50" width="11.88" height="72.00"/></clipPath><linearGradient id="l225" x2="0" y2="1"><stop offset="0" stop-color="rgb(80,62,162)" stop-opacity="0.39"/><stop offset="0.15" stop-color="rgb(80,62,162)" stop-opacity="0.27"/><stop offset="0.4" stop-color="rgb(80,62,162)" stop-opacity="0.15"/><stop offset="1" stop-color="rgb(80,62,162)" stop-opacity="0.03"/></linearGradient><clipPath id="cc226"><rect x="315.03" y="161.20" width="11.88" height="14.30"/></clipPath><linearGradient id="l227" x2="0" y2="1"><stop offset="0" stop-color="rgb(80,62,162)" stop-opacity="0.57"/><stop offset="0.15" stop-color="rgb(80,62,162)" stop-opacity="0.43"/><stop offset="0.4" stop-color="rgb(80,62,162)" stop-opacity="0.27"/><stop offset="1" stop-color="rgb(80,62,162)" stop-opacity="0.09"/></linearGradient><clipPath id="cc228"><rect x="315.03" y="175.50" width="11.88" height="72.00"/></clipPath><linearGradient id="l229" x2="0" y2="1"><stop offset="0" stop-color="rgb(80,62,162)" stop-opacity="0.35"/><stop offset="0.15" stop-color="rgb(80,62,162)" stop-opacity="0.24"/><stop offset="0.4" stop-color="rgb(80,62,162)" stop-opacity="0.14"/><stop offset="1" stop-color="rgb(80,62,162)" stop-opacity="0.03"/></linearGradient><clipPath id="cc230"><rect x="326.90" y="161.20" width="11.88" height="14.30"/></clipPath><linearGradient id="l231" x2="0" y2="1"><stop offset="0" stop-color="rgb(80,62,162)" stop-opacity="0.68"/><stop offset="0.15" stop-color="rgb(80,62,162)" stop-opacity="0.52"/><stop offset="0.4" stop-color="rgb(80,62,162)" stop-opacity="0.32"/><stop offset="1" stop-color="rgb(80,62,162)" stop-opacity="0.11"/></linearGradient><clipPath id="cc232"><rect x="326.90" y="175.50" width="11.88" height="72.00"/></clipPath><linearGradient id="l233" x2="0" y2="1"><stop offset="0" stop-color="rgb(80,62,162)" stop-opacity="0.42"/><stop offset="0.15" stop-color="rgb(80,62,162)" stop-opacity="0.29"/><stop offset="0.4" stop-color="rgb(80,62,162)" stop-opacity="0.16"/><stop offset="1" stop-color="rgb(80,62,162)" stop-opacity="0.03"/></linearGradient><clipPath id="cc234"><rect x="338.78" y="161.20" width="11.88" height="14.30"/></clipPath><linearGradient id="l235" x2="0" y2="1"><stop offset="0" stop-color="rgb(80,62,162)" stop-opacity="0.51"/><stop offset="0.15" stop-color="rgb(80,62,162)" stop-opacity="0.39"/><stop offset="0.4" stop-color="rgb(80,62,162)" stop-opacity="0.24"/><stop offset="1" stop-color="rgb(80,62,162)" stop-opacity="0.09"/></linearGradient><clipPath id="cc236"><rect x="338.78" y="175.50" width="11.88" height="72.00"/></clipPath><linearGradient id="l237" x2="0" y2="1"><stop offset="0" stop-color="rgb(80,62,162)" stop-opacity="0.32"/><stop offset="0.15" stop-color="rgb(80,62,162)" stop-opacity="0.22"/><stop offset="0.4" stop-color="rgb(80,62,162)" stop-opacity="0.12"/><stop offset="1" stop-color="rgb(80,62,162)" stop-opacity="0.02"/></linearGradient><clipPath id="cc238"><rect x="350.66" y="161.20" width="11.88" height="14.30"/></clipPath><clipPath id="cc239"><rect x="350.66" y="175.50" width="11.88" height="72.00"/></clipPath><clipPath id="cc240"><rect x="362.53" y="161.20" width="11.88" height="14.30"/></clipPath><clipPath id="cc241"><rect x="362.53" y="175.50" width="11.88" height="72.00"/></clipPath><clipPath id="cc242"><rect x="374.41" y="161.20" width="11.88" height="14.30"/></clipPath><clipPath id="cc243"><rect x="374.41" y="175.50" width="11.88" height="72.00"/></clipPath><clipPath id="cc244"><rect x="386.28" y="161.20" width="11.88" height="14.30"/></clipPath><clipPath id="cc245"><rect x="386.28" y="175.50" width="11.88" height="72.00"/></clipPath><clipPath id="cc246"><rect x="398.16" y="161.20" width="11.88" height="14.30"/></clipPath><linearGradient id="l247" x2="0" y2="1"><stop offset="0" stop-color="rgb(80,62,162)" stop-opacity="0.54"/><stop offset="0.15" stop-color="rgb(80,62,162)" stop-opacity="0.41"/><stop offset="0.4" stop-color="rgb(80,62,162)" stop-opacity="0.26"/><stop offset="1" stop-color="rgb(80,62,162)" stop-opacity="0.09"/></linearGradient><clipPath id="cc248"><rect x="398.16" y="175.50" width="11.88" height="72.00"/></clipPath><linearGradient id="l249" x2="0" y2="1"><stop offset="0" stop-color="rgb(80,62,162)" stop-opacity="0.33"/><stop offset="0.15" stop-color="rgb(80,62,162)" stop-opacity="0.23"/><stop offset="0.4" stop-color="rgb(80,62,162)" stop-opacity="0.13"/><stop offset="1" stop-color="rgb(80,62,162)" stop-opacity="0.03"/></linearGradient><clipPath id="cc250"><rect x="410.04" y="161.20" width="11.88" height="14.30"/></clipPath><clipPath id="cc251"><rect x="410.04" y="175.50" width="11.88" height="72.00"/></clipPath><clipPath id="cc252"><rect x="421.91" y="161.20" width="11.88" height="14.30"/></clipPath><linearGradient id="l253" x2="0" y2="1"><stop offset="0" stop-color="rgb(80,62,162)" stop-opacity="0.04"/><stop offset="0.15" stop-color="rgb(80,62,162)" stop-opacity="0.03"/><stop offset="0.4" stop-color="rgb(80,62,162)" stop-opacity="0.03"/><stop offset="1" stop-color="rgb(80,62,162)" stop-opacity="0.03"/></linearGradient><clipPath id="cc254"><rect x="421.91" y="175.50" width="11.88" height="72.00"/></clipPath><linearGradient id="l255" x2="0" y2="1"><stop offset="0" stop-color="rgb(80,62,162)" stop-opacity="0.88"/><stop offset="0.15" stop-color="rgb(80,62,162)" stop-opacity="0.68"/><stop offset="0.4" stop-color="rgb(80,62,162)" stop-opacity="0.43"/><stop offset="1" stop-color="rgb(80,62,162)" stop-opacity="0.11"/></linearGradient><clipPath id="cc256"><rect x="433.79" y="161.20" width="11.88" height="14.30"/></clipPath><clipPath id="cc257"><rect x="433.79" y="175.50" width="11.88" height="72.00"/></clipPath><linearGradient id="l258" x2="0" y2="1"><stop offset="0" stop-color="rgb(80,62,162)" stop-opacity="0.92"/><stop offset="0.15" stop-color="rgb(80,62,162)" stop-opacity="0.71"/><stop offset="0.4" stop-color="rgb(80,62,162)" stop-opacity="0.45"/><stop offset="1" stop-color="rgb(80,62,162)" stop-opacity="0.11"/></linearGradient><clipPath id="cc259"><rect x="445.66" y="161.20" width="11.88" height="14.30"/></clipPath><clipPath id="cc260"><rect x="445.66" y="175.50" width="11.88" height="72.00"/></clipPath><clipPath id="cc261"><rect x="457.54" y="161.20" width="11.88" height="14.30"/></clipPath><clipPath id="cc262"><rect x="457.54" y="175.50" width="11.88" height="72.00"/></clipPath><clipPath id="cc263"><rect x="469.42" y="161.20" width="11.88" height="14.30"/></clipPath><clipPath id="cc264"><rect x="469.42" y="175.50" width="11.88" height="72.00"/></clipPath><linearGradient id="cb265" x1="0" y1="0" x2="0" y2="1"><stop offset="0" stop-color="rgb(70,60,160)"/><stop offset="0.5" stop-color="rgb(70,60,160)" stop-opacity="0.55"/><stop offset="1" stop-color="rgb(70,60,160)" stop-opacity="0.06"/></linearGradient><clipPath id="cp266"><rect x="279.40" y="266.40" width="201.89" height="86.10"/></clipPath><clipPath id="cc267"><rect x="279.40" y="266.40" width="11.88" height="14.10"/></clipPath><linearGradient id="l268" x2="0" y2="1"><stop offset="0" stop-color="rgb(45,138,82)" stop-opacity="0.16"/><stop offset="0.15" stop-color="rgb(45,138,82)" stop-opacity="0.13"/><stop offset="0.4" stop-color="rgb(45,138,82)" stop-opacity="0.11"/><stop offset="1" stop-color="rgb(45,138,82)" stop-opacity="0.09"/></linearGradient><clipPath id="cc269"><rect x="279.40" y="280.50" width="11.88" height="72.00"/></clipPath><linearGradient id="l270" x2="0" y2="1"><stop offset="0" stop-color="rgb(45,138,82)" stop-opacity="0.65"/><stop offset="0.15" stop-color="rgb(45,138,82)" stop-opacity="0.49"/><stop offset="0.4" stop-color="rgb(45,138,82)" stop-opacity="0.32"/><stop offset="1" stop-color="rgb(45,138,82)" stop-opacity="0.13"/></linearGradient><clipPath id="cc271"><rect x="291.28" y="266.40" width="11.88" height="14.10"/></clipPath><linearGradient id="l272" x2="0" y2="1"><stop offset="0" stop-color="rgb(45,138,82)" stop-opacity="0.15"/><stop offset="0.15" stop-color="rgb(45,138,82)" stop-opacity="0.12"/><stop offset="0.4" stop-color="rgb(45,138,82)" stop-opacity="0.1"/><stop offset="1" stop-color="rgb(45,138,82)" stop-opacity="0.08"/></linearGradient><clipPath id="cc273"><rect x="291.28" y="280.50" width="11.88" height="72.00"/></clipPath><linearGradient id="l274" x2="0" y2="1"><stop offset="0" stop-color="rgb(45,138,82)" stop-opacity="0.61"/><stop offset="0.15" stop-color="rgb(45,138,82)" stop-opacity="0.46"/><stop offset="0.4" stop-color="rgb(45,138,82)" stop-opacity="0.3"/><stop offset="1" stop-color="rgb(45,138,82)" stop-opacity="0.12"/></linearGradient><clipPath id="cc275"><rect x="303.15" y="266.40" width="11.88" height="14.10"/></clipPath><linearGradient id="l276" x2="0" y2="1"><stop offset="0" stop-color="rgb(45,138,82)" stop-opacity="0.17"/><stop offset="0.15" stop-color="rgb(45,138,82)" stop-opacity="0.14"/><stop offset="0.4" stop-color="rgb(45,138,82)" stop-opacity="0.11"/><stop offset="1" stop-color="rgb(45,138,82)" stop-opacity="0.09"/></linearGradient><clipPath id="cc277"><rect x="303.15" y="280.50" width="11.88" height="72.00"/></clipPath><linearGradient id="l278" x2="0" y2="1"><stop offset="0" stop-color="rgb(45,138,82)" stop-opacity="0.69"/><stop offset="0.15" stop-color="rgb(45,138,82)" stop-opacity="0.52"/><stop offset="0.4" stop-color="rgb(45,138,82)" stop-opacity="0.34"/><stop offset="1" stop-color="rgb(45,138,82)" stop-opacity="0.14"/></linearGradient><clipPath id="cc279"><rect x="315.03" y="266.40" width="11.88" height="14.10"/></clipPath><clipPath id="cc280"><rect x="315.03" y="280.50" width="11.88" height="72.00"/></clipPath><clipPath id="cc281"><rect x="326.90" y="266.40" width="11.88" height="14.10"/></clipPath><linearGradient id="l282" x2="0" y2="1"><stop offset="0" stop-color="rgb(45,138,82)" stop-opacity="0.2"/><stop offset="0.15" stop-color="rgb(45,138,82)" stop-opacity="0.16"/><stop offset="0.4" stop-color="rgb(45,138,82)" stop-opacity="0.14"/><stop offset="1" stop-color="rgb(45,138,82)" stop-opacity="0.11"/></linearGradient><clipPath id="cc283"><rect x="326.90" y="280.50" width="11.88" height="72.00"/></clipPath><linearGradient id="l284" x2="0" y2="1"><stop offset="0" stop-color="rgb(45,138,82)" stop-opacity="0.81"/><stop offset="0.15" stop-color="rgb(45,138,82)" stop-opacity="0.61"/><stop offset="0.4" stop-color="rgb(45,138,82)" stop-opacity="0.41"/><stop offset="1" stop-color="rgb(45,138,82)" stop-opacity="0.16"/></linearGradient><clipPath id="cc285"><rect x="338.78" y="266.40" width="11.88" height="14.10"/></clipPath><clipPath id="cc286"><rect x="338.78" y="280.50" width="11.88" height="72.00"/></clipPath><clipPath id="cc287"><rect x="350.66" y="266.40" width="11.88" height="14.10"/></clipPath><linearGradient id="l288" x2="0" y2="1"><stop offset="0" stop-color="rgb(45,138,82)" stop-opacity="0.22"/><stop offset="0.15" stop-color="rgb(45,138,82)" stop-opacity="0.18"/><stop offset="0.4" stop-color="rgb(45,138,82)" stop-opacity="0.15"/><stop offset="1" stop-color="rgb(45,138,82)" stop-opacity="0.12"/></linearGradient><clipPath id="cc289"><rect x="350.66" y="280.50" width="11.88" height="72.00"/></clipPath><linearGradient id="l290" x2="0" y2="1"><stop offset="0" stop-color="rgb(45,138,82)" stop-opacity="0.89"/><stop offset="0.15" stop-color="rgb(45,138,82)" stop-opacity="0.67"/><stop offset="0.4" stop-color="rgb(45,138,82)" stop-opacity="0.45"/><stop offset="1" stop-color="rgb(45,138,82)" stop-opacity="0.18"/></linearGradient><clipPath id="cc291"><rect x="362.53" y="266.40" width="11.88" height="14.10"/></clipPath><linearGradient id="l292" x2="0" y2="1"><stop offset="0" stop-color="rgb(45,138,82)" stop-opacity="0.23"/><stop offset="0.15" stop-color="rgb(45,138,82)" stop-opacity="0.19"/><stop offset="0.4" stop-color="rgb(45,138,82)" stop-opacity="0.16"/><stop offset="1" stop-color="rgb(45,138,82)" stop-opacity="0.12"/></linearGradient><clipPath id="cc293"><rect x="362.53" y="280.50" width="11.88" height="72.00"/></clipPath><linearGradient id="l294" x2="0" y2="1"><stop offset="0" stop-color="rgb(45,138,82)" stop-opacity="0.93"/><stop offset="0.15" stop-color="rgb(45,138,82)" stop-opacity="0.7"/><stop offset="0.4" stop-color="rgb(45,138,82)" stop-opacity="0.47"/><stop offset="1" stop-color="rgb(45,138,82)" stop-opacity="0.19"/></linearGradient><clipPath id="cc295"><rect x="374.41" y="266.40" width="11.88" height="14.10"/></clipPath><clipPath id="cc296"><rect x="374.41" y="280.50" width="11.88" height="72.00"/></clipPath><clipPath id="cc297"><rect x="386.28" y="266.40" width="11.88" height="14.10"/></clipPath><clipPath id="cc298"><rect x="386.28" y="280.50" width="11.88" height="72.00"/></clipPath><clipPath id="cc299"><rect x="398.16" y="266.40" width="11.88" height="14.10"/></clipPath><clipPath id="cc300"><rect x="398.16" y="280.50" width="11.88" height="72.00"/></clipPath><clipPath id="cc301"><rect x="410.04" y="266.40" width="11.88" height="14.10"/></clipPath><linearGradient id="l302" x2="0" y2="1"><stop offset="0" stop-color="rgb(45,138,82)" stop-opacity="0.18"/><stop offset="0.15" stop-color="rgb(45,138,82)" stop-opacity="0.15"/><stop offset="0.4" stop-color="rgb(45,138,82)" stop-opacity="0.12"/><stop offset="1" stop-color="rgb(45,138,82)" stop-opacity="0.1"/></linearGradient><clipPath id="cc303"><rect x="410.04" y="280.50" width="11.88" height="72.00"/></clipPath><linearGradient id="l304" x2="0" y2="1"><stop offset="0" stop-color="rgb(45,138,82)" stop-opacity="0.73"/><stop offset="0.15" stop-color="rgb(45,138,82)" stop-opacity="0.55"/><stop offset="0.4" stop-color="rgb(45,138,82)" stop-opacity="0.36"/><stop offset="1" stop-color="rgb(45,138,82)" stop-opacity="0.15"/></linearGradient><clipPath id="cc305"><rect x="421.91" y="266.40" width="11.88" height="14.10"/></clipPath><linearGradient id="l306" x2="0" y2="1"><stop offset="0" stop-color="rgb(45,138,82)" stop-opacity="0.3"/><stop offset="0.15" stop-color="rgb(45,138,82)" stop-opacity="0.22"/><stop offset="0.4" stop-color="rgb(45,138,82)" stop-opacity="0.16"/><stop offset="1" stop-color="rgb(45,138,82)" stop-opacity="0.14"/></linearGradient><clipPath id="cc307"><rect x="421.91" y="280.50" width="11.88" height="72.00"/></clipPath><linearGradient id="l308" x2="0" y2="1"><stop offset="0" stop-color="rgb(45,138,82)" stop-opacity="0.09"/><stop offset="0.15" stop-color="rgb(45,138,82)" stop-opacity="0.07"/><stop offset="0.4" stop-color="rgb(45,138,82)" stop-opacity="0.05"/><stop offset="1" stop-color="rgb(45,138,82)" stop-opacity="0.04"/></linearGradient><clipPath id="cc309"><rect x="433.79" y="266.40" width="11.88" height="14.10"/></clipPath><clipPath id="cc310"><rect x="433.79" y="280.50" width="11.88" height="72.00"/></clipPath><clipPath id="cc311"><rect x="445.66" y="266.40" width="11.88" height="14.10"/></clipPath><clipPath id="cc312"><rect x="445.66" y="280.50" width="11.88" height="72.00"/></clipPath><clipPath id="cc313"><rect x="457.54" y="266.40" width="11.88" height="14.10"/></clipPath><clipPath id="cc314"><rect x="457.54" y="280.50" width="11.88" height="72.00"/></clipPath><clipPath id="cc315"><rect x="469.42" y="266.40" width="11.88" height="14.10"/></clipPath><clipPath id="cc316"><rect x="469.42" y="280.50" width="11.88" height="72.00"/></clipPath><linearGradient id="cb317" x1="0" y1="0" x2="0" y2="1"><stop offset="0" stop-color="rgb(40,120,70)"/><stop offset="0.5" stop-color="rgb(40,120,70)" stop-opacity="0.55"/><stop offset="1" stop-color="rgb(40,120,70)" stop-opacity="0.06"/></linearGradient>
</defs>
<rect x="0" y="0" width="520" height="564" fill="#fff"/>
<text x="6.30" y="16.20" font-size="11.8" text-anchor="start" fill="#000" font-weight="bold" font-style="normal">A</text>
<rect x="15.40" y="36.2" width="69.68" height="1.9" fill="#d42a30"/>
<text x="50.24" y="32.20" font-size="5.2" text-anchor="middle" fill="#333" font-weight="normal" font-style="normal" stroke="#333" stroke-width="0.1">MBL</text>
<rect x="86.68" y="36.2" width="69.68" height="1.9" fill="#2e3187"/>
<text x="121.52" y="32.20" font-size="5.2" text-anchor="middle" fill="#333" font-weight="normal" font-style="normal" stroke="#333" stroke-width="0.1">CLL</text>
<rect x="157.96" y="36.2" width="57.80" height="1.9" fill="#3daa5c"/>
<text x="186.86" y="32.20" font-size="5.2" text-anchor="middle" fill="#333" font-weight="normal" font-style="normal" stroke="#333" stroke-width="0.1">NBC</text>
<rect x="14.60" y="42.20" width="201.96" height="12.40" fill="#fff"/>
<rect x="14.60" y="42.20" width="201.96" height="0.8" fill="#d9c9c9"/>
<polyline points="15.1,52.4 15.9,52.4 16.7,52.3 17.4,52.3 18.2,52.2 19.0,52.0 19.8,51.7 20.5,51.3 21.3,51.7 22.1,52.0 22.9,52.2 23.6,52.3 24.4,52.3 25.2,52.4 26.0,52.4" fill="none" stroke="#6cc08e" stroke-width="0.7" opacity="0.9"/>
<polyline points="15.1,51.4 15.9,51.3 16.7,51.2 17.4,51.0 18.2,50.7 19.0,50.2 19.8,49.4 20.5,48.2 21.3,49.4 22.1,50.2 22.9,50.7 23.6,51.0 24.4,51.2 25.2,51.3 26.0,51.4" fill="none" stroke="#38447a" stroke-width="0.75" opacity="0.9"/>
<polyline points="27.0,52.4 27.8,52.4 28.5,52.3 29.3,52.3 30.1,52.2 30.9,52.0 31.6,51.7 32.4,51.3 33.2,51.7 34.0,52.0 34.8,52.2 35.5,52.3 36.3,52.3 37.1,52.4 37.9,52.4" fill="none" stroke="#6cc08e" stroke-width="0.7" opacity="0.9"/>
<polyline points="27.0,51.7 27.8,51.6 28.5,51.5 29.3,51.4 30.1,51.2 30.9,50.8 31.6,50.2 32.4,49.3 33.2,50.2 34.0,50.8 34.8,51.2 35.5,51.4 36.3,51.5 37.1,51.6 37.9,51.7" fill="none" stroke="#38447a" stroke-width="0.75" opacity="0.9"/>
<polyline points="38.9,52.4 39.6,52.4 40.4,52.3 41.2,52.3 42.0,52.2 42.7,52.0 43.5,51.7 44.3,51.3 45.1,51.7 45.9,52.0 46.6,52.2 47.4,52.3 48.2,52.3 49.0,52.4 49.7,52.4" fill="none" stroke="#6cc08e" stroke-width="0.7" opacity="0.9"/>
<polyline points="38.9,51.5 39.6,51.5 40.4,51.4 41.2,51.2 42.0,50.9 42.7,50.5 43.5,49.8 44.3,48.7 45.1,49.8 45.9,50.5 46.6,50.9 47.4,51.2 48.2,51.4 49.0,51.5 49.7,51.5" fill="none" stroke="#38447a" stroke-width="0.75" opacity="0.9"/>
<polyline points="50.7,52.4 51.5,52.4 52.3,52.3 53.1,52.3 53.8,52.2 54.6,52.0 55.4,51.7 56.2,51.3 57.0,51.7 57.7,52.0 58.5,52.2 59.3,52.3 60.1,52.3 60.8,52.4 61.6,52.4" fill="none" stroke="#6cc08e" stroke-width="0.7" opacity="0.9"/>
<polyline points="50.7,51.7 51.5,51.6 52.3,51.5 53.1,51.4 53.8,51.2 54.6,50.8 55.4,50.2 56.2,49.3 57.0,50.2 57.7,50.8 58.5,51.2 59.3,51.4 60.1,51.5 60.8,51.6 61.6,51.7" fill="none" stroke="#38447a" stroke-width="0.75" opacity="0.9"/>
<polyline points="62.6,52.4 63.4,52.4 64.2,52.3 65.0,52.3 65.7,52.2 66.5,52.0 67.3,51.7 68.1,51.3 68.8,51.7 69.6,52.0 70.4,52.2 71.2,52.3 71.9,52.3 72.7,52.4 73.5,52.4" fill="none" stroke="#6cc08e" stroke-width="0.7" opacity="0.9"/>
<polyline points="62.6,50.7 63.4,50.6 64.2,50.4 65.0,50.1 65.7,49.7 66.5,49.0 67.3,47.9 68.1,46.1 68.8,47.9 69.6,49.0 70.4,49.7 71.2,50.1 71.9,50.4 72.7,50.6 73.5,50.7" fill="none" stroke="#38447a" stroke-width="0.75" opacity="0.9"/>
<polyline points="74.5,52.4 75.3,52.4 76.1,52.3 76.8,52.3 77.6,52.2 78.4,52.0 79.2,51.7 79.9,51.3 80.7,51.7 81.5,52.0 82.3,52.2 83.0,52.3 83.8,52.3 84.6,52.4 85.4,52.4" fill="none" stroke="#6cc08e" stroke-width="0.7" opacity="0.9"/>
<polyline points="74.5,51.5 75.3,51.5 76.1,51.4 76.8,51.2 77.6,50.9 78.4,50.5 79.2,49.8 79.9,48.7 80.7,49.8 81.5,50.5 82.3,50.9 83.0,51.2 83.8,51.4 84.6,51.5 85.4,51.5" fill="none" stroke="#38447a" stroke-width="0.75" opacity="0.9"/>
<polyline points="86.4,52.4 87.2,52.4 87.9,52.3 88.7,52.3 89.5,52.2 90.3,52.0 91.0,51.7 91.8,51.3 92.6,51.7 93.4,52.0 94.2,52.2 94.9,52.3 95.7,52.3 96.5,52.4 97.3,52.4" fill="none" stroke="#6cc08e" stroke-width="0.7" opacity="0.9"/>
<polyline points="86.4,51.0 87.2,50.9 87.9,50.8 88.7,50.5 89.5,50.2 90.3,49.6 91.0,48.7 91.8,47.2 92.6,48.7 93.4,49.6 94.2,50.2 94.9,50.5 95.7,50.8 96.5,50.9 97.3,51.0" fill="none" stroke="#38447a" stroke-width="0.75" opacity="0.9"/>
<polyline points="98.3,52.4 99.0,52.4 99.8,52.3 100.6,52.3 101.4,52.2 102.1,52.0 102.9,51.7 103.7,51.3 104.5,51.7 105.3,52.0 106.0,52.2 106.8,52.3 107.6,52.3 108.4,52.4 109.1,52.4" fill="none" stroke="#6cc08e" stroke-width="0.7" opacity="0.9"/>
<polyline points="98.3,51.2 99.0,51.1 99.8,51.0 100.6,50.8 101.4,50.4 102.1,49.9 102.9,49.0 103.7,47.7 104.5,49.0 105.3,49.9 106.0,50.4 106.8,50.8 107.6,51.0 108.4,51.1 109.1,51.2" fill="none" stroke="#38447a" stroke-width="0.75" opacity="0.9"/>
<polyline points="110.1,52.4 110.9,52.4 111.7,52.3 112.5,52.3 113.2,52.2 114.0,52.0 114.8,51.7 115.6,51.3 116.4,51.7 117.1,52.0 117.9,52.2 118.7,52.3 119.5,52.3 120.2,52.4 121.0,52.4" fill="none" stroke="#6cc08e" stroke-width="0.7" opacity="0.9"/>
<polyline points="110.1,51.2 110.9,51.1 111.7,51.0 112.5,50.8 113.2,50.4 114.0,49.9 114.8,49.0 115.6,47.7 116.4,49.0 117.1,49.9 117.9,50.4 118.7,50.8 119.5,51.0 120.2,51.1 121.0,51.2" fill="none" stroke="#38447a" stroke-width="0.75" opacity="0.9"/>
<polyline points="122.0,52.4 122.8,52.4 123.6,52.3 124.4,52.3 125.1,52.2 125.9,52.0 126.7,51.7 127.5,51.3 128.2,51.7 129.0,52.0 129.8,52.2 130.6,52.3 131.3,52.3 132.1,52.4 132.9,52.4" fill="none" stroke="#6cc08e" stroke-width="0.7" opacity="0.9"/>
<polyline points="122.0,51.0 122.8,50.9 123.6,50.8 124.4,50.5 125.1,50.2 125.9,49.6 126.7,48.7 127.5,47.2 128.2,48.7 129.0,49.6 129.8,50.2 130.6,50.5 131.3,50.8 132.1,50.9 132.9,51.0" fill="none" stroke="#38447a" stroke-width="0.75" opacity="0.9"/>
<polyline points="133.9,52.4 134.7,52.4 135.5,52.3 136.2,52.3 137.0,52.2 137.8,52.0 138.6,51.7 139.3,51.3 140.1,51.7 140.9,52.0 141.7,52.2 142.4,52.3 143.2,52.3 144.0,52.4 144.8,52.4" fill="none" stroke="#6cc08e" stroke-width="0.7" opacity="0.9"/>
<polyline points="133.9,50.9 134.7,50.7 135.5,50.6 136.2,50.3 137.0,49.9 137.8,49.3 138.6,48.3 139.3,46.7 140.1,48.3 140.9,49.3 141.7,49.9 142.4,50.3 143.2,50.6 144.0,50.7 144.8,50.9" fill="none" stroke="#38447a" stroke-width="0.75" opacity="0.9"/>
<polyline points="145.8,52.4 146.6,52.4 147.3,52.3 148.1,52.3 148.9,52.2 149.7,52.0 150.4,51.7 151.2,51.3 152.0,51.7 152.8,52.0 153.6,52.2 154.3,52.3 155.1,52.3 155.9,52.4 156.7,52.4" fill="none" stroke="#6cc08e" stroke-width="0.7" opacity="0.9"/>
<polyline points="145.8,51.0 146.6,50.9 147.3,50.8 148.1,50.5 148.9,50.2 149.7,49.6 150.4,48.7 151.2,47.2 152.0,48.7 152.8,49.6 153.6,50.2 154.3,50.5 155.1,50.8 155.9,50.9 156.7,51.0" fill="none" stroke="#38447a" stroke-width="0.75" opacity="0.9"/>
<polyline points="157.7,50.3 158.4,50.2 159.2,50.0 160.0,49.7 160.8,49.2 161.5,48.4 162.3,47.1 163.1,45.1 163.9,47.1 164.7,48.4 165.4,49.2 166.2,49.7 167.0,50.0 167.8,50.2 168.5,50.3" fill="none" stroke="#6cc08e" stroke-width="0.7" opacity="0.9"/>
<polyline points="157.7,52.6 158.4,52.5 159.2,52.5 160.0,52.5 160.8,52.4 161.5,52.3 162.3,52.1 163.1,51.9 163.9,52.1 164.7,52.3 165.4,52.4 166.2,52.5 167.0,52.5 167.8,52.5 168.5,52.6" fill="none" stroke="#38447a" stroke-width="0.75" opacity="0.9"/>
<polyline points="169.5,49.8 170.3,49.7 171.1,49.4 171.9,49.0 172.6,48.4 173.4,47.5 174.2,45.9 175.0,43.5 175.8,45.9 176.5,47.5 177.3,48.4 178.1,49.0 178.9,49.4 179.6,49.7 180.4,49.8" fill="none" stroke="#6cc08e" stroke-width="0.7" opacity="0.9"/>
<polyline points="169.5,52.6 170.3,52.5 171.1,52.5 171.9,52.5 172.6,52.4 173.4,52.3 174.2,52.1 175.0,51.9 175.8,52.1 176.5,52.3 177.3,52.4 178.1,52.5 178.9,52.5 179.6,52.5 180.4,52.6" fill="none" stroke="#38447a" stroke-width="0.75" opacity="0.9"/>
<polyline points="181.4,50.2 182.2,50.0 183.0,49.8 183.8,49.5 184.5,48.9 185.3,48.1 186.1,46.7 186.9,44.6 187.6,46.7 188.4,48.1 189.2,48.9 190.0,49.5 190.7,49.8 191.5,50.0 192.3,50.2" fill="none" stroke="#6cc08e" stroke-width="0.7" opacity="0.9"/>
<polyline points="181.4,52.6 182.2,52.5 183.0,52.5 183.8,52.5 184.5,52.4 185.3,52.3 186.1,52.1 186.9,51.9 187.6,52.1 188.4,52.3 189.2,52.4 190.0,52.5 190.7,52.5 191.5,52.5 192.3,52.6" fill="none" stroke="#38447a" stroke-width="0.75" opacity="0.9"/>
<polyline points="193.3,51.2 194.1,51.1 194.9,51.0 195.6,50.8 196.4,50.4 197.2,49.9 198.0,49.0 198.7,47.7 199.5,49.0 200.3,49.9 201.1,50.4 201.8,50.8 202.6,51.0 203.4,51.1 204.2,51.2" fill="none" stroke="#6cc08e" stroke-width="0.7" opacity="0.9"/>
<polyline points="193.3,52.6 194.1,52.5 194.9,52.5 195.6,52.5 196.4,52.4 197.2,52.3 198.0,52.1 198.7,51.9 199.5,52.1 200.3,52.3 201.1,52.4 201.8,52.5 202.6,52.5 203.4,52.5 204.2,52.6" fill="none" stroke="#38447a" stroke-width="0.75" opacity="0.9"/>
<polyline points="205.2,51.4 206.0,51.3 206.7,51.2 207.5,51.0 208.3,50.7 209.1,50.2 209.8,49.4 210.6,48.2 211.4,49.4 212.2,50.2 213.0,50.7 213.7,51.0 214.5,51.2 215.3,51.3 216.1,51.4" fill="none" stroke="#6cc08e" stroke-width="0.7" opacity="0.9"/>
<polyline points="205.2,52.6 206.0,52.5 206.7,52.5 207.5,52.5 208.3,52.4 209.1,52.3 209.8,52.1 210.6,51.9 211.4,52.1 212.2,52.3 213.0,52.4 213.7,52.5 214.5,52.5 215.3,52.5 216.1,52.6" fill="none" stroke="#38447a" stroke-width="0.75" opacity="0.9"/>
<rect x="14.05" y="42.20" width="1.1" height="12.40" fill="#a39d9d"/>
<rect x="25.93" y="42.20" width="1.1" height="12.40" fill="#a39d9d"/>
<rect x="37.81" y="42.20" width="1.1" height="12.40" fill="#a39d9d"/>
<rect x="49.69" y="42.20" width="1.1" height="12.40" fill="#a39d9d"/>
<rect x="61.57" y="42.20" width="1.1" height="12.40" fill="#a39d9d"/>
<rect x="73.45" y="42.20" width="1.1" height="12.40" fill="#a39d9d"/>
<rect x="85.33" y="42.20" width="1.1" height="12.40" fill="#a39d9d"/>
<rect x="97.21" y="42.20" width="1.1" height="12.40" fill="#a39d9d"/>
<rect x="109.09" y="42.20" width="1.1" height="12.40" fill="#a39d9d"/>
<rect x="120.97" y="42.20" width="1.1" height="12.40" fill="#a39d9d"/>
<rect x="132.85" y="42.20" width="1.1" height="12.40" fill="#a39d9d"/>
<rect x="144.73" y="42.20" width="1.1" height="12.40" fill="#a39d9d"/>
<rect x="156.61" y="42.20" width="1.1" height="12.40" fill="#a39d9d"/>
<rect x="168.49" y="42.20" width="1.1" height="12.40" fill="#a39d9d"/>
<rect x="180.37" y="42.20" width="1.1" height="12.40" fill="#a39d9d"/>
<rect x="192.25" y="42.20" width="1.1" height="12.40" fill="#a39d9d"/>
<rect x="204.13" y="42.20" width="1.1" height="12.40" fill="#a39d9d"/>
<rect x="216.01" y="42.20" width="1.1" height="12.40" fill="#a39d9d"/>
<rect x="14.60" y="53.70" width="201.96" height="0.9" fill="#a3aaa6"/>
<text x="12.30" y="44.50" font-size="5.0" text-anchor="end" fill="#333" font-weight="normal" font-style="normal" stroke="#333" stroke-width="0.1">15</text>
<text x="12.30" y="55.50" font-size="5.0" text-anchor="end" fill="#333" font-weight="normal" font-style="normal" stroke="#333" stroke-width="0.1">0</text>
<rect x="14.60" y="57.00" width="201.96" height="87.00" fill="rgb(237,243,250)"/>
<g clip-path="url(#cp1)"><g filter="url(#texmul)">
<g clip-path="url(#cc2)">
<polygon points="13.8,56.0 27.3,56.0 26.5,57.9 25.7,60.5 25.0,66.2 24.1,80.0 17.0,80.0 16.1,66.2 15.3,60.5 14.6,57.9" fill="url(#l3)" filter="url(#blur1)"/>
</g>
<g clip-path="url(#cc4)">
<polygon points="13.8,79.0 27.3,79.0 26.5,82.6 25.3,89.6 24.1,105.6 22.9,144.0 18.2,144.0 17.0,105.6 15.8,89.6 14.6,82.6" fill="url(#l5)" filter="url(#blur1)"/>
</g>
<g clip-path="url(#cc6)">
<polygon points="25.7,56.0 39.2,56.0 38.4,57.9 37.6,60.5 36.9,66.2 36.0,80.0 28.9,80.0 28.0,66.2 27.2,60.5 26.5,57.9" fill="url(#l7)" filter="url(#blur1)"/>
</g>
<g clip-path="url(#cc8)">
<polygon points="25.7,79.0 39.2,79.0 38.4,82.6 37.2,89.6 36.0,105.6 34.8,144.0 30.0,144.0 28.9,105.6 27.7,89.6 26.5,82.6" fill="url(#l9)" filter="url(#blur1)"/>
</g>
<g clip-path="url(#cc10)">
<polygon points="37.6,56.0 51.0,56.0 50.2,57.9 49.5,60.5 48.8,66.2 47.9,80.0 40.7,80.0 39.8,66.2 39.1,60.5 38.4,57.9" fill="url(#l11)" filter="url(#blur1)"/>
</g>
<g clip-path="url(#cc12)">
<polygon points="37.6,79.0 51.0,79.0 50.2,82.6 49.1,89.6 47.9,105.6 46.7,144.0 41.9,144.0 40.7,105.6 39.5,89.6 38.4,82.6" fill="url(#l13)" filter="url(#blur1)"/>
</g>
<g clip-path="url(#cc14)">
<polygon points="49.4,56.0 62.9,56.0 62.1,57.9 61.4,60.5 60.6,66.2 59.7,80.0 52.6,80.0 51.7,66.2 51.0,60.5 50.2,57.9" fill="url(#l15)" filter="url(#blur1)"/>
</g>
<g clip-path="url(#cc16)">
<polygon points="49.4,79.0 62.9,79.0 62.1,82.6 60.9,89.6 59.7,105.6 58.6,144.0 53.8,144.0 52.6,105.6 51.4,89.6 50.2,82.6" fill="url(#l17)" filter="url(#blur1)"/>
</g>
<g clip-path="url(#cc18)">
<polygon points="61.3,56.0 74.8,56.0 74.0,57.9 73.3,60.5 72.5,66.2 71.6,80.0 64.5,80.0 63.6,66.2 62.9,60.5 62.1,57.9" fill="url(#l19)" filter="url(#blur1)"/>
</g>
<g clip-path="url(#cc20)">
<polygon points="61.3,79.0 74.8,79.0 74.0,82.6 72.8,89.6 71.6,105.6 70.4,144.0 65.7,144.0 64.5,105.6 63.3,89.6 62.1,82.6" fill="url(#l21)" filter="url(#blur1)"/>
</g>
<g clip-path="url(#cc22)">
<polygon points="73.2,56.0 86.7,56.0 85.9,57.9 85.1,60.5 84.4,66.2 83.5,80.0 76.4,80.0 75.5,66.2 74.7,60.5 74.0,57.9" fill="url(#l15)" filter="url(#blur1)"/>
</g>
<g clip-path="url(#cc23)">
<polygon points="73.2,79.0 86.7,79.0 85.9,82.6 84.7,89.6 83.5,105.6 82.3,144.0 77.6,144.0 76.4,105.6 75.2,89.6 74.0,82.6" fill="url(#l17)" filter="url(#blur1)"/>
</g>
<g clip-path="url(#cc24)">
<polygon points="85.1,56.0 98.6,56.0 97.8,57.9 97.0,60.5 96.3,66.2 95.4,80.0 88.3,80.0 87.4,66.2 86.6,60.5 85.9,57.9" fill="url(#l25)" filter="url(#blur1)"/>
</g>
<g clip-path="url(#cc26)">
<polygon points="85.1,79.0 98.6,79.0 97.8,82.6 96.6,89.6 95.4,105.6 94.2,144.0 89.4,144.0 88.3,105.6 87.1,89.6 85.9,82.6" fill="url(#l27)" filter="url(#blur1)"/>
</g>
<g clip-path="url(#cc28)">
<polygon points="97.0,56.0 110.4,56.0 109.6,57.9 108.9,60.5 108.2,66.2 107.3,80.0 100.1,80.0 99.2,66.2 98.5,60.5 97.8,57.9" fill="url(#l29)" filter="url(#blur1)"/>
</g>
<g clip-path="url(#cc30)">
<polygon points="97.0,79.0 110.4,79.0 109.6,82.6 108.5,89.6 107.3,105.6 106.1,144.0 101.3,144.0 100.1,105.6 98.9,89.6 97.8,82.6" fill="url(#l31)" filter="url(#blur1)"/>
</g>
<g clip-path="url(#cc32)">
<polygon points="108.8,56.0 122.3,56.0 121.5,57.9 120.8,60.5 120.0,66.2 119.1,80.0 112.0,80.0 111.1,66.2 110.4,60.5 109.6,57.9" fill="url(#l33)" filter="url(#blur1)"/>
</g>
<g clip-path="url(#cc34)">
<polygon points="108.8,79.0 122.3,79.0 121.5,82.6 120.3,89.6 119.1,105.6 118.0,144.0 113.2,144.0 112.0,105.6 110.8,89.6 109.6,82.6" fill="url(#l21)" filter="url(#blur1)"/>
</g>
<g clip-path="url(#cc35)">
<polygon points="120.7,56.0 134.2,56.0 133.4,57.9 132.7,60.5 131.9,66.2 131.0,80.0 123.9,80.0 123.0,66.2 122.3,60.5 121.5,57.9" fill="url(#l29)" filter="url(#blur1)"/>
</g>
<g clip-path="url(#cc36)">
<polygon points="120.7,79.0 134.2,79.0 133.4,82.6 132.2,89.6 131.0,105.6 129.8,144.0 125.1,144.0 123.9,105.6 122.7,89.6 121.5,82.6" fill="url(#l31)" filter="url(#blur1)"/>
</g>
<g clip-path="url(#cc37)">
<polygon points="132.6,56.0 146.1,56.0 145.3,57.9 144.5,60.5 143.8,66.2 142.9,80.0 135.8,80.0 134.9,66.2 134.1,60.5 133.4,57.9" fill="url(#l38)" filter="url(#blur1)"/>
</g>
<g clip-path="url(#cc39)">
<polygon points="132.6,79.0 146.1,79.0 145.3,82.6 144.1,89.6 142.9,105.6 141.7,144.0 137.0,144.0 135.8,105.6 134.6,89.6 133.4,82.6" fill="url(#l40)" filter="url(#blur1)"/>
</g>
<g clip-path="url(#cc41)">
<polygon points="144.5,56.0 158.0,56.0 157.2,57.9 156.4,60.5 155.7,66.2 154.8,80.0 147.7,80.0 146.8,66.2 146.0,60.5 145.3,57.9" fill="url(#l25)" filter="url(#blur1)"/>
</g>
<g clip-path="url(#cc42)">
<polygon points="144.5,79.0 158.0,79.0 157.2,82.6 156.0,89.6 154.8,105.6 153.6,144.0 148.8,144.0 147.7,105.6 146.5,89.6 145.3,82.6" fill="url(#l27)" filter="url(#blur1)"/>
</g>
<g clip-path="url(#cc43)">
<polygon points="156.4,56.0 169.8,56.0 169.0,57.9 169.0,60.5 169.0,66.2 169.0,80.0 157.2,80.0 157.2,66.2 157.2,60.5 157.2,57.9" fill="url(#l44)" filter="url(#blur1)"/>
</g>
<g clip-path="url(#cc45)">
<polygon points="156.4,79.0 169.8,79.0 169.0,82.6 167.3,89.6 165.5,105.6 164.4,144.0 161.8,144.0 160.7,105.6 158.9,89.6 157.2,82.6" fill="url(#l46)" filter="url(#blur1)"/>
</g>
<g clip-path="url(#cc47)">
<polygon points="168.2,56.0 181.7,56.0 180.9,57.9 180.9,60.5 180.9,66.2 180.9,80.0 169.0,80.0 169.0,66.2 169.0,60.5 169.0,57.9" fill="url(#l44)" filter="url(#blur1)"/>
</g>
<g clip-path="url(#cc48)">
<polygon points="168.2,79.0 181.7,79.0 180.9,82.6 179.1,89.6 177.4,105.6 176.3,144.0 173.7,144.0 172.6,105.6 170.8,89.6 169.0,82.6" fill="url(#l46)" filter="url(#blur1)"/>
</g>
<g clip-path="url(#cc49)">
<polygon points="180.1,56.0 193.6,56.0 192.8,57.9 192.8,60.5 192.8,66.2 192.8,80.0 180.9,80.0 180.9,66.2 180.9,60.5 180.9,57.9" fill="url(#l44)" filter="url(#blur1)"/>
</g>
<g clip-path="url(#cc50)">
<polygon points="180.1,79.0 193.6,79.0 192.8,82.6 191.0,89.6 189.2,105.6 188.2,144.0 185.6,144.0 184.5,105.6 182.7,89.6 180.9,82.6" fill="url(#l46)" filter="url(#blur1)"/>
</g>
<g clip-path="url(#cc51)">
<polygon points="192.0,56.0 205.5,56.0 204.7,57.9 204.7,60.5 204.7,66.2 204.7,80.0 192.8,80.0 192.8,66.2 192.8,60.5 192.8,57.9" fill="url(#l44)" filter="url(#blur1)"/>
</g>
<g clip-path="url(#cc52)">
<polygon points="192.0,79.0 205.5,79.0 204.7,82.6 202.9,89.6 201.1,105.6 200.0,144.0 197.4,144.0 196.4,105.6 194.6,89.6 192.8,82.6" fill="url(#l46)" filter="url(#blur1)"/>
</g>
<g clip-path="url(#cc53)">
<polygon points="203.9,56.0 217.4,56.0 216.6,57.9 216.6,60.5 216.6,66.2 216.6,80.0 204.7,80.0 204.7,66.2 204.7,60.5 204.7,57.9" fill="url(#l44)" filter="url(#blur1)"/>
</g>
<g clip-path="url(#cc54)">
<polygon points="203.9,79.0 217.4,79.0 216.6,82.6 214.8,89.6 213.0,105.6 211.9,144.0 209.3,144.0 208.2,105.6 206.5,89.6 204.7,82.6" fill="url(#l46)" filter="url(#blur1)"/>
</g>
</g>
<rect x="14.60" y="57.00" width="11.88" height="1.3" fill="rgb(35,110,170)" opacity="0.45"/>
<rect x="14.60" y="80.00" width="11.88" height="1.3" fill="rgb(35,110,170)" opacity="0.30"/>
<rect x="26.48" y="57.00" width="11.88" height="1.3" fill="rgb(35,110,170)" opacity="0.36"/>
<rect x="26.48" y="80.00" width="11.88" height="1.3" fill="rgb(35,110,170)" opacity="0.24"/>
<rect x="38.36" y="57.00" width="11.88" height="1.3" fill="rgb(35,110,170)" opacity="0.43"/>
<rect x="38.36" y="80.00" width="11.88" height="1.3" fill="rgb(35,110,170)" opacity="0.28"/>
<rect x="50.24" y="57.00" width="11.88" height="1.3" fill="rgb(35,110,170)" opacity="0.38"/>
<rect x="50.24" y="80.00" width="11.88" height="1.3" fill="rgb(35,110,170)" opacity="0.26"/>
<rect x="62.12" y="57.00" width="11.88" height="1.3" fill="rgb(35,110,170)" opacity="0.56"/>
<rect x="62.12" y="80.00" width="11.88" height="1.3" fill="rgb(35,110,170)" opacity="0.38"/>
<rect x="74.00" y="57.00" width="11.88" height="1.3" fill="rgb(35,110,170)" opacity="0.38"/>
<rect x="74.00" y="80.00" width="11.88" height="1.3" fill="rgb(35,110,170)" opacity="0.26"/>
<rect x="85.88" y="57.00" width="11.88" height="1.3" fill="rgb(35,110,170)" opacity="0.72"/>
<rect x="85.88" y="80.00" width="11.88" height="1.3" fill="rgb(35,110,170)" opacity="0.38"/>
<rect x="97.76" y="57.00" width="11.88" height="1.3" fill="rgb(35,110,170)" opacity="0.60"/>
<rect x="97.76" y="80.00" width="11.88" height="1.3" fill="rgb(35,110,170)" opacity="0.32"/>
<rect x="109.64" y="57.00" width="11.88" height="1.3" fill="rgb(35,110,170)" opacity="0.69"/>
<rect x="109.64" y="80.00" width="11.88" height="1.3" fill="rgb(35,110,170)" opacity="0.37"/>
<rect x="121.52" y="57.00" width="11.88" height="1.3" fill="rgb(35,110,170)" opacity="0.60"/>
<rect x="121.52" y="80.00" width="11.88" height="1.3" fill="rgb(35,110,170)" opacity="0.32"/>
<rect x="133.40" y="57.00" width="11.88" height="1.3" fill="rgb(35,110,170)" opacity="0.57"/>
<rect x="133.40" y="80.00" width="11.88" height="1.3" fill="rgb(35,110,170)" opacity="0.30"/>
<rect x="145.28" y="57.00" width="11.88" height="1.3" fill="rgb(35,110,170)" opacity="0.72"/>
<rect x="145.28" y="80.00" width="11.88" height="1.3" fill="rgb(35,110,170)" opacity="0.38"/>
<rect x="157.16" y="57.00" width="11.88" height="1.3" fill="rgb(35,110,170)" opacity="0.15"/>
<rect x="157.16" y="80.00" width="11.88" height="1.3" fill="rgb(35,110,170)" opacity="0.85"/>
<rect x="169.04" y="57.00" width="11.88" height="1.3" fill="rgb(35,110,170)" opacity="0.15"/>
<rect x="169.04" y="80.00" width="11.88" height="1.3" fill="rgb(35,110,170)" opacity="0.85"/>
<rect x="180.92" y="57.00" width="11.88" height="1.3" fill="rgb(35,110,170)" opacity="0.15"/>
<rect x="180.92" y="80.00" width="11.88" height="1.3" fill="rgb(35,110,170)" opacity="0.85"/>
<rect x="192.80" y="57.00" width="11.88" height="1.3" fill="rgb(35,110,170)" opacity="0.15"/>
<rect x="192.80" y="80.00" width="11.88" height="1.3" fill="rgb(35,110,170)" opacity="0.85"/>
<rect x="204.68" y="57.00" width="11.88" height="1.3" fill="rgb(35,110,170)" opacity="0.15"/>
<rect x="204.68" y="80.00" width="11.88" height="1.3" fill="rgb(35,110,170)" opacity="0.85"/>
<rect x="14.10" y="57.00" width="1" height="87.00" fill="#c3c8d0"/>
<rect x="25.43" y="57.00" width="2.1" height="87.00" fill="#c3c8d0"/>
<rect x="25.93" y="57.00" width="1.1" height="87.00" fill="#f6f6f8"/>
<rect x="37.31" y="57.00" width="2.1" height="87.00" fill="#c3c8d0"/>
<rect x="37.81" y="57.00" width="1.1" height="87.00" fill="#f6f6f8"/>
<rect x="49.19" y="57.00" width="2.1" height="87.00" fill="#c3c8d0"/>
<rect x="49.69" y="57.00" width="1.1" height="87.00" fill="#f6f6f8"/>
<rect x="61.07" y="57.00" width="2.1" height="87.00" fill="#c3c8d0"/>
<rect x="61.57" y="57.00" width="1.1" height="87.00" fill="#f6f6f8"/>
<rect x="72.95" y="57.00" width="2.1" height="87.00" fill="#c3c8d0"/>
<rect x="73.45" y="57.00" width="1.1" height="87.00" fill="#f6f6f8"/>
<rect x="84.83" y="57.00" width="2.1" height="87.00" fill="#c3c8d0"/>
<rect x="85.33" y="57.00" width="1.1" height="87.00" fill="#f6f6f8"/>
<rect x="96.71" y="57.00" width="2.1" height="87.00" fill="#c3c8d0"/>
<rect x="97.21" y="57.00" width="1.1" height="87.00" fill="#f6f6f8"/>
<rect x="108.59" y="57.00" width="2.1" height="87.00" fill="#c3c8d0"/>
<rect x="109.09" y="57.00" width="1.1" height="87.00" fill="#f6f6f8"/>
<rect x="120.47" y="57.00" width="2.1" height="87.00" fill="#c3c8d0"/>
<rect x="120.97" y="57.00" width="1.1" height="87.00" fill="#f6f6f8"/>
<rect x="132.35" y="57.00" width="2.1" height="87.00" fill="#c3c8d0"/>
<rect x="132.85" y="57.00" width="1.1" height="87.00" fill="#f6f6f8"/>
<rect x="144.23" y="57.00" width="2.1" height="87.00" fill="#c3c8d0"/>
<rect x="144.73" y="57.00" width="1.1" height="87.00" fill="#f6f6f8"/>
<rect x="156.11" y="57.00" width="2.1" height="87.00" fill="#c3c8d0"/>
<rect x="156.61" y="57.00" width="1.1" height="87.00" fill="#f6f6f8"/>
<rect x="167.99" y="57.00" width="2.1" height="87.00" fill="#c3c8d0"/>
<rect x="168.49" y="57.00" width="1.1" height="87.00" fill="#f6f6f8"/>
<rect x="179.87" y="57.00" width="2.1" height="87.00" fill="#c3c8d0"/>
<rect x="180.37" y="57.00" width="1.1" height="87.00" fill="#f6f6f8"/>
<rect x="191.75" y="57.00" width="2.1" height="87.00" fill="#c3c8d0"/>
<rect x="192.25" y="57.00" width="1.1" height="87.00" fill="#f6f6f8"/>
<rect x="203.63" y="57.00" width="2.1" height="87.00" fill="#c3c8d0"/>
<rect x="204.13" y="57.00" width="1.1" height="87.00" fill="#f6f6f8"/>
<rect x="216.06" y="57.00" width="1" height="87.00" fill="#c3c8d0"/>
<rect x="14.60" y="79.50" width="201.96" height="0.8" fill="#7d8790" opacity="0.45"/>
</g>
<rect x="216.76" y="57.00" width="1.8" height="87.00" fill="url(#cb55)"/>
<text x="220.50" y="61.80" font-size="5.0" text-anchor="start" fill="#333" font-weight="normal" font-style="normal" stroke="#333" stroke-width="0.1">25</text>
<text x="220.50" y="78.24" font-size="5.0" text-anchor="start" fill="#333" font-weight="normal" font-style="normal" stroke="#333" stroke-width="0.1">20</text>
<text x="220.50" y="94.68" font-size="5.0" text-anchor="start" fill="#333" font-weight="normal" font-style="normal" stroke="#333" stroke-width="0.1">15</text>
<text x="220.50" y="111.12" font-size="5.0" text-anchor="start" fill="#333" font-weight="normal" font-style="normal" stroke="#333" stroke-width="0.1">10</text>
<text x="220.50" y="127.56" font-size="5.0" text-anchor="start" fill="#333" font-weight="normal" font-style="normal" stroke="#333" stroke-width="0.1">5</text>
<text x="220.50" y="144.00" font-size="5.0" text-anchor="start" fill="#333" font-weight="normal" font-style="normal" stroke="#333" stroke-width="0.1">0</text>
<text x="12.40" y="100.00" font-size="5.0" text-anchor="middle" fill="#333" font-weight="normal" font-style="normal" stroke="#333" stroke-width="0.1" transform="rotate(-90 12.40 100.00)">H3K4me1</text>
<rect x="233.40" y="66.10" width="7.90" height="0.8" fill="#222"/>
<path d="M231.40,66.50L235.00,65.00L234.40,66.50L235.00,68.00Z" fill="#111"/>
<rect x="233.40" y="117.00" width="7.90" height="0.8" fill="#222"/>
<path d="M231.40,117.40L235.00,115.90L234.40,117.40L235.00,118.90Z" fill="#111"/>
<text x="248.60" y="72.20" font-size="5.2" text-anchor="start" fill="#333" font-weight="normal" font-style="normal" stroke="#333" stroke-width="0.1" transform="rotate(-90 248.60 72.20)">H3K4me1/H3K27ac up</text>
<text x="254.80" y="72.20" font-size="5.2" text-anchor="start" fill="#333" font-weight="normal" font-style="normal" stroke="#333" stroke-width="0.1" transform="rotate(-90 254.80 72.20)">H3K27me3 down peaks</text>
<text x="248.60" y="134.40" font-size="5.2" text-anchor="start" fill="#333" font-weight="normal" font-style="normal" stroke="#333" stroke-width="0.1" transform="rotate(-90 248.60 134.40)">H3K4me1/H3K27ac down</text>
<text x="254.80" y="134.40" font-size="5.2" text-anchor="start" fill="#333" font-weight="normal" font-style="normal" stroke="#333" stroke-width="0.1" transform="rotate(-90 254.80 134.40)">H3K27me3 up peaks</text>
<rect x="14.60" y="146.90" width="201.96" height="12.40" fill="#fff"/>
<rect x="14.60" y="146.90" width="201.96" height="0.8" fill="#d9c9c9"/>
<polyline points="15.1,157.1 15.9,157.1 16.7,157.0 17.4,157.0 18.2,156.9 19.0,156.7 19.8,156.4 20.5,156.0 21.3,156.4 22.1,156.7 22.9,156.9 23.6,157.0 24.4,157.0 25.2,157.1 26.0,157.1" fill="none" stroke="#6cc08e" stroke-width="0.7" opacity="0.9"/>
<polyline points="15.1,156.9 15.9,156.9 16.7,156.8 17.4,156.7 18.2,156.6 19.0,156.4 19.8,156.1 20.5,155.5 21.3,156.1 22.1,156.4 22.9,156.6 23.6,156.7 24.4,156.8 25.2,156.9 26.0,156.9" fill="none" stroke="#38447a" stroke-width="0.75" opacity="0.9"/>
<polyline points="27.0,157.1 27.8,157.1 28.5,157.0 29.3,157.0 30.1,156.9 30.9,156.7 31.6,156.4 32.4,156.0 33.2,156.4 34.0,156.7 34.8,156.9 35.5,157.0 36.3,157.0 37.1,157.1 37.9,157.1" fill="none" stroke="#6cc08e" stroke-width="0.7" opacity="0.9"/>
<polyline points="27.0,156.1 27.8,156.0 28.5,155.9 29.3,155.7 30.1,155.4 30.9,154.9 31.6,154.1 32.4,152.9 33.2,154.1 34.0,154.9 34.8,155.4 35.5,155.7 36.3,155.9 37.1,156.0 37.9,156.1" fill="none" stroke="#38447a" stroke-width="0.75" opacity="0.9"/>
<polyline points="38.9,157.1 39.6,157.1 40.4,157.0 41.2,157.0 42.0,156.9 42.7,156.7 43.5,156.4 44.3,156.0 45.1,156.4 45.9,156.7 46.6,156.9 47.4,157.0 48.2,157.0 49.0,157.1 49.7,157.1" fill="none" stroke="#6cc08e" stroke-width="0.7" opacity="0.9"/>
<polyline points="38.9,155.4 39.6,155.3 40.4,155.1 41.2,154.8 42.0,154.4 42.7,153.7 43.5,152.6 44.3,150.8 45.1,152.6 45.9,153.7 46.6,154.4 47.4,154.8 48.2,155.1 49.0,155.3 49.7,155.4" fill="none" stroke="#38447a" stroke-width="0.75" opacity="0.9"/>
<polyline points="50.7,157.1 51.5,157.1 52.3,157.0 53.1,157.0 53.8,156.9 54.6,156.7 55.4,156.4 56.2,156.0 57.0,156.4 57.7,156.7 58.5,156.9 59.3,157.0 60.1,157.0 60.8,157.1 61.6,157.1" fill="none" stroke="#6cc08e" stroke-width="0.7" opacity="0.9"/>
<polyline points="50.7,156.2 51.5,156.2 52.3,156.1 53.1,155.9 53.8,155.6 54.6,155.2 55.4,154.5 56.2,153.4 57.0,154.5 57.7,155.2 58.5,155.6 59.3,155.9 60.1,156.1 60.8,156.2 61.6,156.2" fill="none" stroke="#38447a" stroke-width="0.75" opacity="0.9"/>
<polyline points="62.6,157.1 63.4,157.1 64.2,157.0 65.0,157.0 65.7,156.9 66.5,156.7 67.3,156.4 68.1,156.0 68.8,156.4 69.6,156.7 70.4,156.9 71.2,157.0 71.9,157.0 72.7,157.1 73.5,157.1" fill="none" stroke="#6cc08e" stroke-width="0.7" opacity="0.9"/>
<polyline points="62.6,155.0 63.4,154.9 64.2,154.7 65.0,154.4 65.7,153.9 66.5,153.1 67.3,151.8 68.1,149.8 68.8,151.8 69.6,153.1 70.4,153.9 71.2,154.4 71.9,154.7 72.7,154.9 73.5,155.0" fill="none" stroke="#38447a" stroke-width="0.75" opacity="0.9"/>
<polyline points="74.5,157.1 75.3,157.1 76.1,157.0 76.8,157.0 77.6,156.9 78.4,156.7 79.2,156.4 79.9,156.0 80.7,156.4 81.5,156.7 82.3,156.9 83.0,157.0 83.8,157.0 84.6,157.1 85.4,157.1" fill="none" stroke="#6cc08e" stroke-width="0.7" opacity="0.9"/>
<polyline points="74.5,156.4 75.3,156.3 76.1,156.2 76.8,156.1 77.6,155.9 78.4,155.5 79.2,154.9 79.9,154.0 80.7,154.9 81.5,155.5 82.3,155.9 83.0,156.1 83.8,156.2 84.6,156.3 85.4,156.4" fill="none" stroke="#38447a" stroke-width="0.75" opacity="0.9"/>
<polyline points="86.4,157.1 87.2,157.1 87.9,157.0 88.7,157.0 89.5,156.9 90.3,156.7 91.0,156.4 91.8,156.0 92.6,156.4 93.4,156.7 94.2,156.9 94.9,157.0 95.7,157.0 96.5,157.1 97.3,157.1" fill="none" stroke="#6cc08e" stroke-width="0.7" opacity="0.9"/>
<polyline points="86.4,155.6 87.2,155.4 87.9,155.3 88.7,155.0 89.5,154.6 90.3,154.0 91.0,153.0 91.8,151.4 92.6,153.0 93.4,154.0 94.2,154.6 94.9,155.0 95.7,155.3 96.5,155.4 97.3,155.6" fill="none" stroke="#38447a" stroke-width="0.75" opacity="0.9"/>
<polyline points="98.3,157.1 99.0,157.1 99.8,157.0 100.6,157.0 101.4,156.9 102.1,156.7 102.9,156.4 103.7,156.0 104.5,156.4 105.3,156.7 106.0,156.9 106.8,157.0 107.6,157.0 108.4,157.1 109.1,157.1" fill="none" stroke="#6cc08e" stroke-width="0.7" opacity="0.9"/>
<polyline points="98.3,155.2 99.0,155.1 99.8,154.9 100.6,154.6 101.4,154.1 102.1,153.4 102.9,152.2 103.7,150.3 104.5,152.2 105.3,153.4 106.0,154.1 106.8,154.6 107.6,154.9 108.4,155.1 109.1,155.2" fill="none" stroke="#38447a" stroke-width="0.75" opacity="0.9"/>
<polyline points="110.1,157.1 110.9,157.1 111.7,157.0 112.5,157.0 113.2,156.9 114.0,156.7 114.8,156.4 115.6,156.0 116.4,156.4 117.1,156.7 117.9,156.9 118.7,157.0 119.5,157.0 120.2,157.1 121.0,157.1" fill="none" stroke="#6cc08e" stroke-width="0.7" opacity="0.9"/>
<polyline points="110.1,155.9 110.9,155.8 111.7,155.7 112.5,155.5 113.2,155.1 114.0,154.6 114.8,153.7 115.6,152.4 116.4,153.7 117.1,154.6 117.9,155.1 118.7,155.5 119.5,155.7 120.2,155.8 121.0,155.9" fill="none" stroke="#38447a" stroke-width="0.75" opacity="0.9"/>
<polyline points="122.0,157.1 122.8,157.1 123.6,157.0 124.4,157.0 125.1,156.9 125.9,156.7 126.7,156.4 127.5,156.0 128.2,156.4 129.0,156.7 129.8,156.9 130.6,157.0 131.3,157.0 132.1,157.1 132.9,157.1" fill="none" stroke="#6cc08e" stroke-width="0.7" opacity="0.9"/>
<polyline points="122.0,155.7 122.8,155.6 123.6,155.5 124.4,155.2 125.1,154.9 125.9,154.3 126.7,153.4 127.5,151.9 128.2,153.4 129.0,154.3 129.8,154.9 130.6,155.2 131.3,155.5 132.1,155.6 132.9,155.7" fill="none" stroke="#38447a" stroke-width="0.75" opacity="0.9"/>
<polyline points="133.9,157.1 134.7,157.1 135.5,157.0 136.2,157.0 137.0,156.9 137.8,156.7 138.6,156.4 139.3,156.0 140.1,156.4 140.9,156.7 141.7,156.9 142.4,157.0 143.2,157.0 144.0,157.1 144.8,157.1" fill="none" stroke="#6cc08e" stroke-width="0.7" opacity="0.9"/>
<polyline points="133.9,155.6 134.7,155.4 135.5,155.3 136.2,155.0 137.0,154.6 137.8,154.0 138.6,153.0 139.3,151.4 140.1,153.0 140.9,154.0 141.7,154.6 142.4,155.0 143.2,155.3 144.0,155.4 144.8,155.6" fill="none" stroke="#38447a" stroke-width="0.75" opacity="0.9"/>
<polyline points="145.8,157.1 146.6,157.1 147.3,157.0 148.1,157.0 148.9,156.9 149.7,156.7 150.4,156.4 151.2,156.0 152.0,156.4 152.8,156.7 153.6,156.9 154.3,157.0 155.1,157.0 155.9,157.1 156.7,157.1" fill="none" stroke="#6cc08e" stroke-width="0.7" opacity="0.9"/>
<polyline points="145.8,155.9 146.6,155.8 147.3,155.7 148.1,155.5 148.9,155.1 149.7,154.6 150.4,153.7 151.2,152.4 152.0,153.7 152.8,154.6 153.6,155.1 154.3,155.5 155.1,155.7 155.9,155.8 156.7,155.9" fill="none" stroke="#38447a" stroke-width="0.75" opacity="0.9"/>
<polyline points="157.7,154.9 158.4,154.7 159.2,154.5 160.0,154.2 160.8,153.6 161.5,152.8 162.3,151.4 163.1,149.3 163.9,151.4 164.7,152.8 165.4,153.6 166.2,154.2 167.0,154.5 167.8,154.7 168.5,154.9" fill="none" stroke="#6cc08e" stroke-width="0.7" opacity="0.9"/>
<polyline points="157.7,157.3 158.4,157.2 159.2,157.2 160.0,157.2 160.8,157.1 161.5,157.0 162.3,156.8 163.1,156.6 163.9,156.8 164.7,157.0 165.4,157.1 166.2,157.2 167.0,157.2 167.8,157.2 168.5,157.3" fill="none" stroke="#38447a" stroke-width="0.75" opacity="0.9"/>
<polyline points="169.5,154.7 170.3,154.6 171.1,154.3 171.9,154.0 172.6,153.4 173.4,152.5 174.2,151.0 175.0,148.8 175.8,151.0 176.5,152.5 177.3,153.4 178.1,154.0 178.9,154.3 179.6,154.6 180.4,154.7" fill="none" stroke="#6cc08e" stroke-width="0.7" opacity="0.9"/>
<polyline points="169.5,157.3 170.3,157.2 171.1,157.2 171.9,157.2 172.6,157.1 173.4,157.0 174.2,156.8 175.0,156.6 175.8,156.8 176.5,157.0 177.3,157.1 178.1,157.2 178.9,157.2 179.6,157.2 180.4,157.3" fill="none" stroke="#38447a" stroke-width="0.75" opacity="0.9"/>
<polyline points="181.4,155.0 182.2,154.9 183.0,154.7 183.8,154.4 184.5,153.9 185.3,153.1 186.1,151.8 186.9,149.8 187.6,151.8 188.4,153.1 189.2,153.9 190.0,154.4 190.7,154.7 191.5,154.9 192.3,155.0" fill="none" stroke="#6cc08e" stroke-width="0.7" opacity="0.9"/>
<polyline points="181.4,157.3 182.2,157.2 183.0,157.2 183.8,157.2 184.5,157.1 185.3,157.0 186.1,156.8 186.9,156.6 187.6,156.8 188.4,157.0 189.2,157.1 190.0,157.2 190.7,157.2 191.5,157.2 192.3,157.3" fill="none" stroke="#38447a" stroke-width="0.75" opacity="0.9"/>
<polyline points="193.3,155.6 194.1,155.4 194.9,155.3 195.6,155.0 196.4,154.6 197.2,154.0 198.0,153.0 198.7,151.4 199.5,153.0 200.3,154.0 201.1,154.6 201.8,155.0 202.6,155.3 203.4,155.4 204.2,155.6" fill="none" stroke="#6cc08e" stroke-width="0.7" opacity="0.9"/>
<polyline points="193.3,157.3 194.1,157.2 194.9,157.2 195.6,157.2 196.4,157.1 197.2,157.0 198.0,156.8 198.7,156.6 199.5,156.8 200.3,157.0 201.1,157.1 201.8,157.2 202.6,157.2 203.4,157.2 204.2,157.3" fill="none" stroke="#38447a" stroke-width="0.75" opacity="0.9"/>
<polyline points="205.2,155.2 206.0,155.1 206.7,154.9 207.5,154.6 208.3,154.1 209.1,153.4 209.8,152.2 210.6,150.3 211.4,152.2 212.2,153.4 213.0,154.1 213.7,154.6 214.5,154.9 215.3,155.1 216.1,155.2" fill="none" stroke="#6cc08e" stroke-width="0.7" opacity="0.9"/>
<polyline points="205.2,157.3 206.0,157.2 206.7,157.2 207.5,157.2 208.3,157.1 209.1,157.0 209.8,156.8 210.6,156.6 211.4,156.8 212.2,157.0 213.0,157.1 213.7,157.2 214.5,157.2 215.3,157.2 216.1,157.3" fill="none" stroke="#38447a" stroke-width="0.75" opacity="0.9"/>
<rect x="14.05" y="146.90" width="1.1" height="12.40" fill="#a39d9d"/>
<rect x="25.93" y="146.90" width="1.1" height="12.40" fill="#a39d9d"/>
<rect x="37.81" y="146.90" width="1.1" height="12.40" fill="#a39d9d"/>
<rect x="49.69" y="146.90" width="1.1" height="12.40" fill="#a39d9d"/>
<rect x="61.57" y="146.90" width="1.1" height="12.40" fill="#a39d9d"/>
<rect x="73.45" y="146.90" width="1.1" height="12.40" fill="#a39d9d"/>
<rect x="85.33" y="146.90" width="1.1" height="12.40" fill="#a39d9d"/>
<rect x="97.21" y="146.90" width="1.1" height="12.40" fill="#a39d9d"/>
<rect x="109.09" y="146.90" width="1.1" height="12.40" fill="#a39d9d"/>
<rect x="120.97" y="146.90" width="1.1" height="12.40" fill="#a39d9d"/>
<rect x="132.85" y="146.90" width="1.1" height="12.40" fill="#a39d9d"/>
<rect x="144.73" y="146.90" width="1.1" height="12.40" fill="#a39d9d"/>
<rect x="156.61" y="146.90" width="1.1" height="12.40" fill="#a39d9d"/>
<rect x="168.49" y="146.90" width="1.1" height="12.40" fill="#a39d9d"/>
<rect x="180.37" y="146.90" width="1.1" height="12.40" fill="#a39d9d"/>
<rect x="192.25" y="146.90" width="1.1" height="12.40" fill="#a39d9d"/>
<rect x="204.13" y="146.90" width="1.1" height="12.40" fill="#a39d9d"/>
<rect x="216.01" y="146.90" width="1.1" height="12.40" fill="#a39d9d"/>
<rect x="14.60" y="158.40" width="201.96" height="0.9" fill="#a3aaa6"/>
<text x="12.30" y="149.20" font-size="5.0" text-anchor="end" fill="#333" font-weight="normal" font-style="normal" stroke="#333" stroke-width="0.1">6</text>
<text x="12.30" y="160.20" font-size="5.0" text-anchor="end" fill="#333" font-weight="normal" font-style="normal" stroke="#333" stroke-width="0.1">0</text>
<line x1="219.70" y1="148.45" x2="234.70" y2="148.45" stroke="#a4a8b0" stroke-width="1" stroke-dasharray="1.6 0.4 0.9 0.5 1.2 0.6"/>
<rect x="218.20" y="148.00" width="1.2" height="0.9" fill="#3b4a7a"/>
<line x1="221.70" y1="150.85" x2="234.70" y2="150.85" stroke="#a4a8b0" stroke-width="1" stroke-dasharray="1.6 0.4 0.9 0.5 1.2 0.6"/>
<line x1="219.70" y1="153.85" x2="234.70" y2="153.85" stroke="#a4a8b0" stroke-width="1" stroke-dasharray="1.6 0.4 0.9 0.5 1.2 0.6"/>
<rect x="218.20" y="153.40" width="1.2" height="0.9" fill="#66bb88"/>
<line x1="221.70" y1="156.35" x2="234.70" y2="156.35" stroke="#a4a8b0" stroke-width="1" stroke-dasharray="1.6 0.4 0.9 0.5 1.2 0.6"/>
<rect x="14.60" y="161.50" width="201.96" height="86.00" fill="rgb(246,245,251)"/>
<g clip-path="url(#cp56)"><g filter="url(#texmul)">
<g clip-path="url(#cc57)">
<polygon points="13.8,160.5 27.3,160.5 26.5,162.4 25.7,165.0 25.0,170.9 24.1,185.0 17.0,185.0 16.1,170.9 15.3,165.0 14.6,162.4" fill="url(#l58)" filter="url(#blur1)"/>
</g>
<g clip-path="url(#cc59)">
<polygon points="13.8,184.0 27.3,184.0 26.5,187.5 26.5,194.4 26.5,210.0 26.5,247.5 14.6,247.5 14.6,210.0 14.6,194.4 14.6,187.5" fill="url(#l60)" filter="url(#blur1)"/>
</g>
<g clip-path="url(#cc61)">
<polygon points="25.7,160.5 39.2,160.5 38.4,162.4 37.6,165.0 36.9,170.9 36.0,185.0 28.9,185.0 28.0,170.9 27.2,165.0 26.5,162.4" fill="url(#l62)" filter="url(#blur1)"/>
</g>
<g clip-path="url(#cc63)">
<polygon points="25.7,184.0 39.2,184.0 38.4,187.5 38.4,194.4 38.4,210.0 38.4,247.5 26.5,247.5 26.5,210.0 26.5,194.4 26.5,187.5" fill="url(#l64)" filter="url(#blur1)"/>
</g>
<g clip-path="url(#cc65)">
<polygon points="37.6,160.5 51.0,160.5 50.2,162.4 49.5,165.0 48.8,170.9 47.9,185.0 40.7,185.0 39.8,170.9 39.1,165.0 38.4,162.4" fill="url(#l66)" filter="url(#blur1)"/>
</g>
<g clip-path="url(#cc67)">
<polygon points="37.6,184.0 51.0,184.0 50.2,187.5 50.2,194.4 50.2,210.0 50.2,247.5 38.4,247.5 38.4,210.0 38.4,194.4 38.4,187.5" fill="url(#l68)" filter="url(#blur1)"/>
</g>
<g clip-path="url(#cc69)">
<polygon points="49.4,160.5 62.9,160.5 62.1,162.4 61.4,165.0 60.6,170.9 59.7,185.0 52.6,185.0 51.7,170.9 51.0,165.0 50.2,162.4" fill="url(#l62)" filter="url(#blur1)"/>
</g>
<g clip-path="url(#cc70)">
<polygon points="49.4,184.0 62.9,184.0 62.1,187.5 62.1,194.4 62.1,210.0 62.1,247.5 50.2,247.5 50.2,210.0 50.2,194.4 50.2,187.5" fill="url(#l64)" filter="url(#blur1)"/>
</g>
<g clip-path="url(#cc71)">
<polygon points="61.3,160.5 74.8,160.5 74.0,162.4 73.3,165.0 72.5,170.9 71.6,185.0 64.5,185.0 63.6,170.9 62.9,165.0 62.1,162.4" fill="url(#l62)" filter="url(#blur1)"/>
</g>
<g clip-path="url(#cc72)">
<polygon points="61.3,184.0 74.8,184.0 74.0,187.5 74.0,194.4 74.0,210.0 74.0,247.5 62.1,247.5 62.1,210.0 62.1,194.4 62.1,187.5" fill="url(#l64)" filter="url(#blur1)"/>
</g>
<g clip-path="url(#cc73)">
<polygon points="73.2,160.5 86.7,160.5 85.9,162.4 85.1,165.0 84.4,170.9 83.5,185.0 76.4,185.0 75.5,170.9 74.7,165.0 74.0,162.4" fill="url(#l74)" filter="url(#blur1)"/>
</g>
<g clip-path="url(#cc75)">
<polygon points="73.2,184.0 86.7,184.0 85.9,187.5 85.9,194.4 85.9,210.0 85.9,247.5 74.0,247.5 74.0,210.0 74.0,194.4 74.0,187.5" fill="url(#l76)" filter="url(#blur1)"/>
</g>
<g clip-path="url(#cc77)">
<polygon points="85.1,160.5 98.6,160.5 97.8,162.4 97.0,165.0 96.3,170.9 95.4,185.0 88.3,185.0 87.4,170.9 86.6,165.0 85.9,162.4" fill="url(#l78)" filter="url(#blur1)"/>
</g>
<g clip-path="url(#cc79)">
<polygon points="85.1,184.0 98.6,184.0 97.8,187.5 97.8,194.4 97.8,210.0 97.8,247.5 85.9,247.5 85.9,210.0 85.9,194.4 85.9,187.5" fill="url(#l64)" filter="url(#blur1)"/>
</g>
<g clip-path="url(#cc80)">
<polygon points="97.0,160.5 110.4,160.5 109.6,162.4 108.9,165.0 108.2,170.9 107.3,185.0 100.1,185.0 99.2,170.9 98.5,165.0 97.8,162.4" fill="url(#l81)" filter="url(#blur1)"/>
</g>
<g clip-path="url(#cc82)">
<polygon points="97.0,184.0 110.4,184.0 109.6,187.5 109.6,194.4 109.6,210.0 109.6,247.5 97.8,247.5 97.8,210.0 97.8,194.4 97.8,187.5" fill="url(#l83)" filter="url(#blur1)"/>
</g>
<g clip-path="url(#cc84)">
<polygon points="108.8,160.5 122.3,160.5 121.5,162.4 120.8,165.0 120.0,170.9 119.1,185.0 112.0,185.0 111.1,170.9 110.4,165.0 109.6,162.4" fill="url(#l85)" filter="url(#blur1)"/>
</g>
<g clip-path="url(#cc86)">
<polygon points="108.8,184.0 122.3,184.0 121.5,187.5 121.5,194.4 121.5,210.0 121.5,247.5 109.6,247.5 109.6,210.0 109.6,194.4 109.6,187.5" fill="url(#l87)" filter="url(#blur1)"/>
</g>
<g clip-path="url(#cc88)">
<polygon points="120.7,160.5 134.2,160.5 133.4,162.4 132.7,165.0 131.9,170.9 131.0,185.0 123.9,185.0 123.0,170.9 122.3,165.0 121.5,162.4" fill="url(#l78)" filter="url(#blur1)"/>
</g>
<g clip-path="url(#cc89)">
<polygon points="120.7,184.0 134.2,184.0 133.4,187.5 133.4,194.4 133.4,210.0 133.4,247.5 121.5,247.5 121.5,210.0 121.5,194.4 121.5,187.5" fill="url(#l64)" filter="url(#blur1)"/>
</g>
<g clip-path="url(#cc90)">
<polygon points="132.6,160.5 146.1,160.5 145.3,162.4 144.5,165.0 143.8,170.9 142.9,185.0 135.8,185.0 134.9,170.9 134.1,165.0 133.4,162.4" fill="url(#l78)" filter="url(#blur1)"/>
</g>
<g clip-path="url(#cc91)">
<polygon points="132.6,184.0 146.1,184.0 145.3,187.5 145.3,194.4 145.3,210.0 145.3,247.5 133.4,247.5 133.4,210.0 133.4,194.4 133.4,187.5" fill="url(#l64)" filter="url(#blur1)"/>
</g>
<g clip-path="url(#cc92)">
<polygon points="144.5,160.5 158.0,160.5 157.2,162.4 156.4,165.0 155.7,170.9 154.8,185.0 147.7,185.0 146.8,170.9 146.0,165.0 145.3,162.4" fill="url(#l81)" filter="url(#blur1)"/>
</g>
<g clip-path="url(#cc93)">
<polygon points="144.5,184.0 158.0,184.0 157.2,187.5 157.2,194.4 157.2,210.0 157.2,247.5 145.3,247.5 145.3,210.0 145.3,194.4 145.3,187.5" fill="url(#l83)" filter="url(#blur1)"/>
</g>
<g clip-path="url(#cc94)">
<polygon points="156.4,160.5 169.8,160.5 169.0,162.4 169.0,165.0 169.0,170.9 169.0,185.0 157.2,185.0 157.2,170.9 157.2,165.0 157.2,162.4" fill="url(#l95)" filter="url(#blur1)"/>
</g>
<g clip-path="url(#cc96)">
<polygon points="156.4,184.0 169.8,184.0 169.0,187.5 167.6,194.4 166.1,210.0 164.9,247.5 161.3,247.5 160.1,210.0 158.6,194.4 157.2,187.5" fill="url(#l97)" filter="url(#blur1)"/>
</g>
<g clip-path="url(#cc98)">
<polygon points="168.2,160.5 181.7,160.5 180.9,162.4 180.9,165.0 180.9,170.9 180.9,185.0 169.0,185.0 169.0,170.9 169.0,165.0 169.0,162.4" fill="url(#l95)" filter="url(#blur1)"/>
</g>
<g clip-path="url(#cc99)">
<polygon points="168.2,184.0 181.7,184.0 180.9,187.5 179.4,194.4 177.9,210.0 176.8,247.5 173.2,247.5 172.0,210.0 170.5,194.4 169.0,187.5" fill="url(#l100)" filter="url(#blur1)"/>
</g>
<g clip-path="url(#cc101)">
<polygon points="180.1,160.5 193.6,160.5 192.8,162.4 192.8,165.0 192.8,170.9 192.8,185.0 180.9,185.0 180.9,170.9 180.9,165.0 180.9,162.4" fill="url(#l95)" filter="url(#blur1)"/>
</g>
<g clip-path="url(#cc102)">
<polygon points="180.1,184.0 193.6,184.0 192.8,187.5 191.3,194.4 189.8,210.0 188.6,247.5 185.1,247.5 183.9,210.0 182.4,194.4 180.9,187.5" fill="url(#l103)" filter="url(#blur1)"/>
</g>
<g clip-path="url(#cc104)">
<polygon points="192.0,160.5 205.5,160.5 204.7,162.4 204.7,165.0 204.7,170.9 204.7,185.0 192.8,185.0 192.8,170.9 192.8,165.0 192.8,162.4" fill="url(#l95)" filter="url(#blur1)"/>
</g>
<g clip-path="url(#cc105)">
<polygon points="192.0,184.0 205.5,184.0 204.7,187.5 203.2,194.4 201.7,210.0 200.5,247.5 197.0,247.5 195.8,210.0 194.3,194.4 192.8,187.5" fill="url(#l106)" filter="url(#blur1)"/>
</g>
<g clip-path="url(#cc107)">
<polygon points="203.9,160.5 217.4,160.5 216.6,162.4 216.6,165.0 216.6,170.9 216.6,185.0 204.7,185.0 204.7,170.9 204.7,165.0 204.7,162.4" fill="url(#l95)" filter="url(#blur1)"/>
</g>
<g clip-path="url(#cc108)">
<polygon points="203.9,184.0 217.4,184.0 216.6,187.5 215.1,194.4 213.6,210.0 212.4,247.5 208.8,247.5 207.7,210.0 206.2,194.4 204.7,187.5" fill="url(#l103)" filter="url(#blur1)"/>
</g>
</g>
<rect x="14.60" y="161.50" width="11.88" height="1.3" fill="rgb(80,62,162)" opacity="0.36"/>
<rect x="14.60" y="185.00" width="11.88" height="1.3" fill="rgb(80,62,162)" opacity="0.24"/>
<rect x="26.48" y="161.50" width="11.88" height="1.3" fill="rgb(80,62,162)" opacity="0.45"/>
<rect x="26.48" y="185.00" width="11.88" height="1.3" fill="rgb(80,62,162)" opacity="0.30"/>
<rect x="38.36" y="161.50" width="11.88" height="1.3" fill="rgb(80,62,162)" opacity="0.52"/>
<rect x="38.36" y="185.00" width="11.88" height="1.3" fill="rgb(80,62,162)" opacity="0.34"/>
<rect x="50.24" y="161.50" width="11.88" height="1.3" fill="rgb(80,62,162)" opacity="0.45"/>
<rect x="50.24" y="185.00" width="11.88" height="1.3" fill="rgb(80,62,162)" opacity="0.30"/>
<rect x="62.12" y="161.50" width="11.88" height="1.3" fill="rgb(80,62,162)" opacity="0.45"/>
<rect x="62.12" y="185.00" width="11.88" height="1.3" fill="rgb(80,62,162)" opacity="0.30"/>
<rect x="74.00" y="161.50" width="11.88" height="1.3" fill="rgb(80,62,162)" opacity="0.41"/>
<rect x="74.00" y="185.00" width="11.88" height="1.3" fill="rgb(80,62,162)" opacity="0.27"/>
<rect x="85.88" y="161.50" width="11.88" height="1.3" fill="rgb(80,62,162)" opacity="0.55"/>
<rect x="85.88" y="185.00" width="11.88" height="1.3" fill="rgb(80,62,162)" opacity="0.30"/>
<rect x="97.76" y="161.50" width="11.88" height="1.3" fill="rgb(80,62,162)" opacity="0.61"/>
<rect x="97.76" y="185.00" width="11.88" height="1.3" fill="rgb(80,62,162)" opacity="0.33"/>
<rect x="109.64" y="161.50" width="11.88" height="1.3" fill="rgb(80,62,162)" opacity="0.66"/>
<rect x="109.64" y="185.00" width="11.88" height="1.3" fill="rgb(80,62,162)" opacity="0.36"/>
<rect x="121.52" y="161.50" width="11.88" height="1.3" fill="rgb(80,62,162)" opacity="0.55"/>
<rect x="121.52" y="185.00" width="11.88" height="1.3" fill="rgb(80,62,162)" opacity="0.30"/>
<rect x="133.40" y="161.50" width="11.88" height="1.3" fill="rgb(80,62,162)" opacity="0.55"/>
<rect x="133.40" y="185.00" width="11.88" height="1.3" fill="rgb(80,62,162)" opacity="0.30"/>
<rect x="145.28" y="161.50" width="11.88" height="1.3" fill="rgb(80,62,162)" opacity="0.61"/>
<rect x="145.28" y="185.00" width="11.88" height="1.3" fill="rgb(80,62,162)" opacity="0.33"/>
<rect x="157.16" y="161.50" width="11.88" height="1.3" fill="rgb(80,62,162)" opacity="0.08"/>
<rect x="157.16" y="185.00" width="11.88" height="1.3" fill="rgb(80,62,162)" opacity="0.84"/>
<rect x="169.04" y="161.50" width="11.88" height="1.3" fill="rgb(80,62,162)" opacity="0.09"/>
<rect x="169.04" y="185.00" width="11.88" height="1.3" fill="rgb(80,62,162)" opacity="0.88"/>
<rect x="180.92" y="161.50" width="11.88" height="1.3" fill="rgb(80,62,162)" opacity="0.08"/>
<rect x="180.92" y="185.00" width="11.88" height="1.3" fill="rgb(80,62,162)" opacity="0.80"/>
<rect x="192.80" y="161.50" width="11.88" height="1.3" fill="rgb(80,62,162)" opacity="0.08"/>
<rect x="192.80" y="185.00" width="11.88" height="1.3" fill="rgb(80,62,162)" opacity="0.76"/>
<rect x="204.68" y="161.50" width="11.88" height="1.3" fill="rgb(80,62,162)" opacity="0.08"/>
<rect x="204.68" y="185.00" width="11.88" height="1.3" fill="rgb(80,62,162)" opacity="0.80"/>
<rect x="14.10" y="161.50" width="1" height="86.00" fill="#c3c8d0"/>
<rect x="25.43" y="161.50" width="2.1" height="86.00" fill="#c3c8d0"/>
<rect x="25.93" y="161.50" width="1.1" height="86.00" fill="#f6f6f8"/>
<rect x="37.31" y="161.50" width="2.1" height="86.00" fill="#c3c8d0"/>
<rect x="37.81" y="161.50" width="1.1" height="86.00" fill="#f6f6f8"/>
<rect x="49.19" y="161.50" width="2.1" height="86.00" fill="#c3c8d0"/>
<rect x="49.69" y="161.50" width="1.1" height="86.00" fill="#f6f6f8"/>
<rect x="61.07" y="161.50" width="2.1" height="86.00" fill="#c3c8d0"/>
<rect x="61.57" y="161.50" width="1.1" height="86.00" fill="#f6f6f8"/>
<rect x="72.95" y="161.50" width="2.1" height="86.00" fill="#c3c8d0"/>
<rect x="73.45" y="161.50" width="1.1" height="86.00" fill="#f6f6f8"/>
<rect x="84.83" y="161.50" width="2.1" height="86.00" fill="#c3c8d0"/>
<rect x="85.33" y="161.50" width="1.1" height="86.00" fill="#f6f6f8"/>
<rect x="96.71" y="161.50" width="2.1" height="86.00" fill="#c3c8d0"/>
<rect x="97.21" y="161.50" width="1.1" height="86.00" fill="#f6f6f8"/>
<rect x="108.59" y="161.50" width="2.1" height="86.00" fill="#c3c8d0"/>
<rect x="109.09" y="161.50" width="1.1" height="86.00" fill="#f6f6f8"/>
<rect x="120.47" y="161.50" width="2.1" height="86.00" fill="#c3c8d0"/>
<rect x="120.97" y="161.50" width="1.1" height="86.00" fill="#f6f6f8"/>
<rect x="132.35" y="161.50" width="2.1" height="86.00" fill="#c3c8d0"/>
<rect x="132.85" y="161.50" width="1.1" height="86.00" fill="#f6f6f8"/>
<rect x="144.23" y="161.50" width="2.1" height="86.00" fill="#c3c8d0"/>
<rect x="144.73" y="161.50" width="1.1" height="86.00" fill="#f6f6f8"/>
<rect x="156.11" y="161.50" width="2.1" height="86.00" fill="#c3c8d0"/>
<rect x="156.61" y="161.50" width="1.1" height="86.00" fill="#f6f6f8"/>
<rect x="167.99" y="161.50" width="2.1" height="86.00" fill="#c3c8d0"/>
<rect x="168.49" y="161.50" width="1.1" height="86.00" fill="#f6f6f8"/>
<rect x="179.87" y="161.50" width="2.1" height="86.00" fill="#c3c8d0"/>
<rect x="180.37" y="161.50" width="1.1" height="86.00" fill="#f6f6f8"/>
<rect x="191.75" y="161.50" width="2.1" height="86.00" fill="#c3c8d0"/>
<rect x="192.25" y="161.50" width="1.1" height="86.00" fill="#f6f6f8"/>
<rect x="203.63" y="161.50" width="2.1" height="86.00" fill="#c3c8d0"/>
<rect x="204.13" y="161.50" width="1.1" height="86.00" fill="#f6f6f8"/>
<rect x="216.06" y="161.50" width="1" height="86.00" fill="#c3c8d0"/>
<rect x="14.60" y="184.50" width="201.96" height="0.8" fill="#7d8790" opacity="0.45"/>
</g>
<rect x="216.76" y="161.50" width="1.8" height="86.00" fill="url(#cb109)"/>
<text x="220.50" y="163.90" font-size="5.0" text-anchor="start" fill="#333" font-weight="normal" font-style="normal" stroke="#333" stroke-width="0.1">12</text>
<text x="220.50" y="178.03" font-size="5.0" text-anchor="start" fill="#333" font-weight="normal" font-style="normal" stroke="#333" stroke-width="0.1">10</text>
<text x="220.50" y="192.16" font-size="5.0" text-anchor="start" fill="#333" font-weight="normal" font-style="normal" stroke="#333" stroke-width="0.1">8</text>
<text x="220.50" y="206.29" font-size="5.0" text-anchor="start" fill="#333" font-weight="normal" font-style="normal" stroke="#333" stroke-width="0.1">6</text>
<text x="220.50" y="220.42" font-size="5.0" text-anchor="start" fill="#333" font-weight="normal" font-style="normal" stroke="#333" stroke-width="0.1">4</text>
<text x="220.50" y="234.55" font-size="5.0" text-anchor="start" fill="#333" font-weight="normal" font-style="normal" stroke="#333" stroke-width="0.1">2</text>
<text x="220.50" y="248.68" font-size="5.0" text-anchor="start" fill="#333" font-weight="normal" font-style="normal" stroke="#333" stroke-width="0.1">0</text>
<text x="12.40" y="205.00" font-size="5.0" text-anchor="middle" fill="#333" font-weight="normal" font-style="normal" stroke="#333" stroke-width="0.1" transform="rotate(-90 12.40 205.00)">H3K27ac</text>
<rect x="233.40" y="175.60" width="7.90" height="0.8" fill="#222"/>
<path d="M231.40,176.00L235.00,174.50L234.40,176.00L235.00,177.50Z" fill="#111"/>
<rect x="233.40" y="227.00" width="7.90" height="0.8" fill="#222"/>
<path d="M231.40,227.40L235.00,225.90L234.40,227.40L235.00,228.90Z" fill="#111"/>
<text x="248.60" y="192.60" font-size="5.2" text-anchor="start" fill="#333" font-weight="normal" font-style="normal" stroke="#333" stroke-width="0.1" transform="rotate(-90 248.60 192.60)">H3K4me1/H3K27ac up</text>
<text x="254.80" y="192.60" font-size="5.2" text-anchor="start" fill="#333" font-weight="normal" font-style="normal" stroke="#333" stroke-width="0.1" transform="rotate(-90 254.80 192.60)">H3K27me3 down peaks</text>
<text x="248.60" y="254.80" font-size="5.2" text-anchor="start" fill="#333" font-weight="normal" font-style="normal" stroke="#333" stroke-width="0.1" transform="rotate(-90 248.60 254.80)">H3K4me1/H3K27ac down</text>
<text x="254.80" y="254.80" font-size="5.2" text-anchor="start" fill="#333" font-weight="normal" font-style="normal" stroke="#333" stroke-width="0.1" transform="rotate(-90 254.80 254.80)">H3K27me3 up peaks</text>
<rect x="14.60" y="252.40" width="201.96" height="12.00" fill="#fff"/>
<rect x="14.60" y="252.40" width="201.96" height="0.8" fill="#d9c9c9"/>
<polyline points="15.1,261.1 15.9,261.0 16.7,260.8 17.4,260.6 18.2,260.3 19.0,259.8 19.8,259.0 20.5,257.7 21.3,259.0 22.1,259.8 22.9,260.3 23.6,260.6 24.4,260.8 25.2,261.0 26.0,261.1" fill="none" stroke="#6cc08e" stroke-width="0.7" opacity="0.9"/>
<polyline points="15.1,262.0 15.9,262.0 16.7,262.0 17.4,261.9 18.2,261.7 19.0,261.5 19.8,261.2 20.5,260.7 21.3,261.2 22.1,261.5 22.9,261.7 23.6,261.9 24.4,262.0 25.2,262.0 26.0,262.0" fill="none" stroke="#4a5a8a" stroke-width="0.75" opacity="0.9"/>
<polyline points="27.0,261.1 27.8,261.0 28.5,260.8 29.3,260.6 30.1,260.3 30.9,259.8 31.6,259.0 32.4,257.7 33.2,259.0 34.0,259.8 34.8,260.3 35.5,260.6 36.3,260.8 37.1,261.0 37.9,261.1" fill="none" stroke="#6cc08e" stroke-width="0.7" opacity="0.9"/>
<polyline points="27.0,262.0 27.8,262.0 28.5,262.0 29.3,261.9 30.1,261.7 30.9,261.5 31.6,261.2 32.4,260.7 33.2,261.2 34.0,261.5 34.8,261.7 35.5,261.9 36.3,262.0 37.1,262.0 37.9,262.0" fill="none" stroke="#4a5a8a" stroke-width="0.75" opacity="0.9"/>
<polyline points="38.9,261.1 39.6,261.0 40.4,260.8 41.2,260.6 42.0,260.3 42.7,259.8 43.5,259.0 44.3,257.7 45.1,259.0 45.9,259.8 46.6,260.3 47.4,260.6 48.2,260.8 49.0,261.0 49.7,261.1" fill="none" stroke="#6cc08e" stroke-width="0.7" opacity="0.9"/>
<polyline points="38.9,262.0 39.6,262.0 40.4,262.0 41.2,261.9 42.0,261.7 42.7,261.5 43.5,261.2 44.3,260.7 45.1,261.2 45.9,261.5 46.6,261.7 47.4,261.9 48.2,262.0 49.0,262.0 49.7,262.0" fill="none" stroke="#4a5a8a" stroke-width="0.75" opacity="0.9"/>
<polyline points="50.7,261.1 51.5,261.0 52.3,260.8 53.1,260.6 53.8,260.3 54.6,259.8 55.4,259.0 56.2,257.7 57.0,259.0 57.7,259.8 58.5,260.3 59.3,260.6 60.1,260.8 60.8,261.0 61.6,261.1" fill="none" stroke="#6cc08e" stroke-width="0.7" opacity="0.9"/>
<polyline points="50.7,262.0 51.5,262.0 52.3,262.0 53.1,261.9 53.8,261.7 54.6,261.5 55.4,261.2 56.2,260.7 57.0,261.2 57.7,261.5 58.5,261.7 59.3,261.9 60.1,262.0 60.8,262.0 61.6,262.0" fill="none" stroke="#4a5a8a" stroke-width="0.75" opacity="0.9"/>
<polyline points="62.6,261.1 63.4,261.0 64.2,260.8 65.0,260.6 65.7,260.3 66.5,259.8 67.3,259.0 68.1,257.7 68.8,259.0 69.6,259.8 70.4,260.3 71.2,260.6 71.9,260.8 72.7,261.0 73.5,261.1" fill="none" stroke="#6cc08e" stroke-width="0.7" opacity="0.9"/>
<polyline points="62.6,262.0 63.4,262.0 64.2,262.0 65.0,261.9 65.7,261.7 66.5,261.5 67.3,261.2 68.1,260.7 68.8,261.2 69.6,261.5 70.4,261.7 71.2,261.9 71.9,262.0 72.7,262.0 73.5,262.0" fill="none" stroke="#4a5a8a" stroke-width="0.75" opacity="0.9"/>
<polyline points="74.5,261.1 75.3,261.0 76.1,260.8 76.8,260.6 77.6,260.3 78.4,259.8 79.2,259.0 79.9,257.7 80.7,259.0 81.5,259.8 82.3,260.3 83.0,260.6 83.8,260.8 84.6,261.0 85.4,261.1" fill="none" stroke="#6cc08e" stroke-width="0.7" opacity="0.9"/>
<polyline points="74.5,262.0 75.3,262.0 76.1,262.0 76.8,261.9 77.6,261.7 78.4,261.5 79.2,261.2 79.9,260.7 80.7,261.2 81.5,261.5 82.3,261.7 83.0,261.9 83.8,262.0 84.6,262.0 85.4,262.0" fill="none" stroke="#4a5a8a" stroke-width="0.75" opacity="0.9"/>
<polyline points="86.4,261.1 87.2,261.0 87.9,260.8 88.7,260.6 89.5,260.3 90.3,259.8 91.0,259.0 91.8,257.7 92.6,259.0 93.4,259.8 94.2,260.3 94.9,260.6 95.7,260.8 96.5,261.0 97.3,261.1" fill="none" stroke="#6cc08e" stroke-width="0.7" opacity="0.9"/>
<polyline points="86.4,262.0 87.2,262.0 87.9,262.0 88.7,261.9 89.5,261.7 90.3,261.5 91.0,261.2 91.8,260.7 92.6,261.2 93.4,261.5 94.2,261.7 94.9,261.9 95.7,262.0 96.5,262.0 97.3,262.0" fill="none" stroke="#4a5a8a" stroke-width="0.75" opacity="0.9"/>
<polyline points="98.3,261.1 99.0,261.0 99.8,260.8 100.6,260.6 101.4,260.3 102.1,259.8 102.9,259.0 103.7,257.7 104.5,259.0 105.3,259.8 106.0,260.3 106.8,260.6 107.6,260.8 108.4,261.0 109.1,261.1" fill="none" stroke="#6cc08e" stroke-width="0.7" opacity="0.9"/>
<polyline points="98.3,262.0 99.0,262.0 99.8,262.0 100.6,261.9 101.4,261.7 102.1,261.5 102.9,261.2 103.7,260.7 104.5,261.2 105.3,261.5 106.0,261.7 106.8,261.9 107.6,262.0 108.4,262.0 109.1,262.0" fill="none" stroke="#4a5a8a" stroke-width="0.75" opacity="0.9"/>
<polyline points="110.1,261.1 110.9,261.0 111.7,260.8 112.5,260.6 113.2,260.3 114.0,259.8 114.8,259.0 115.6,257.7 116.4,259.0 117.1,259.8 117.9,260.3 118.7,260.6 119.5,260.8 120.2,261.0 121.0,261.1" fill="none" stroke="#6cc08e" stroke-width="0.7" opacity="0.9"/>
<polyline points="110.1,262.0 110.9,262.0 111.7,262.0 112.5,261.9 113.2,261.7 114.0,261.5 114.8,261.2 115.6,260.7 116.4,261.2 117.1,261.5 117.9,261.7 118.7,261.9 119.5,262.0 120.2,262.0 121.0,262.0" fill="none" stroke="#4a5a8a" stroke-width="0.75" opacity="0.9"/>
<polyline points="122.0,261.1 122.8,261.0 123.6,260.8 124.4,260.6 125.1,260.3 125.9,259.8 126.7,259.0 127.5,257.7 128.2,259.0 129.0,259.8 129.8,260.3 130.6,260.6 131.3,260.8 132.1,261.0 132.9,261.1" fill="none" stroke="#6cc08e" stroke-width="0.7" opacity="0.9"/>
<polyline points="122.0,262.0 122.8,262.0 123.6,262.0 124.4,261.9 125.1,261.7 125.9,261.5 126.7,261.2 127.5,260.7 128.2,261.2 129.0,261.5 129.8,261.7 130.6,261.9 131.3,262.0 132.1,262.0 132.9,262.0" fill="none" stroke="#4a5a8a" stroke-width="0.75" opacity="0.9"/>
<polyline points="133.9,261.1 134.7,261.0 135.5,260.8 136.2,260.6 137.0,260.3 137.8,259.8 138.6,259.0 139.3,257.7 140.1,259.0 140.9,259.8 141.7,260.3 142.4,260.6 143.2,260.8 144.0,261.0 144.8,261.1" fill="none" stroke="#6cc08e" stroke-width="0.7" opacity="0.9"/>
<polyline points="133.9,262.0 134.7,262.0 135.5,262.0 136.2,261.9 137.0,261.7 137.8,261.5 138.6,261.2 139.3,260.7 140.1,261.2 140.9,261.5 141.7,261.7 142.4,261.9 143.2,262.0 144.0,262.0 144.8,262.0" fill="none" stroke="#4a5a8a" stroke-width="0.75" opacity="0.9"/>
<polyline points="145.8,261.1 146.6,261.0 147.3,260.8 148.1,260.6 148.9,260.3 149.7,259.8 150.4,259.0 151.2,257.7 152.0,259.0 152.8,259.8 153.6,260.3 154.3,260.6 155.1,260.8 155.9,261.0 156.7,261.1" fill="none" stroke="#6cc08e" stroke-width="0.7" opacity="0.9"/>
<polyline points="145.8,262.0 146.6,262.0 147.3,262.0 148.1,261.9 148.9,261.7 149.7,261.5 150.4,261.2 151.2,260.7 152.0,261.2 152.8,261.5 153.6,261.7 154.3,261.9 155.1,262.0 155.9,262.0 156.7,262.0" fill="none" stroke="#4a5a8a" stroke-width="0.75" opacity="0.9"/>
<polyline points="157.7,262.3 158.4,262.3 159.2,262.3 160.0,262.2 160.8,262.1 161.5,262.0 162.3,261.8 163.1,261.5 163.9,261.8 164.7,262.0 165.4,262.1 166.2,262.2 167.0,262.3 167.8,262.3 168.5,262.3" fill="none" stroke="#6cc08e" stroke-width="0.7" opacity="0.9"/>
<polyline points="157.7,260.4 158.4,260.3 159.2,260.1 160.0,259.8 160.8,259.4 161.5,258.6 162.3,257.5 163.1,255.7 163.9,257.5 164.7,258.6 165.4,259.4 166.2,259.8 167.0,260.1 167.8,260.3 168.5,260.4" fill="none" stroke="#4a5a8a" stroke-width="0.75" opacity="0.9"/>
<polyline points="169.5,262.3 170.3,262.3 171.1,262.3 171.9,262.2 172.6,262.1 173.4,262.0 174.2,261.8 175.0,261.5 175.8,261.8 176.5,262.0 177.3,262.1 178.1,262.2 178.9,262.3 179.6,262.3 180.4,262.3" fill="none" stroke="#6cc08e" stroke-width="0.7" opacity="0.9"/>
<polyline points="169.5,260.4 170.3,260.3 171.1,260.1 171.9,259.8 172.6,259.4 173.4,258.6 174.2,257.5 175.0,255.7 175.8,257.5 176.5,258.6 177.3,259.4 178.1,259.8 178.9,260.1 179.6,260.3 180.4,260.4" fill="none" stroke="#4a5a8a" stroke-width="0.75" opacity="0.9"/>
<polyline points="181.4,262.3 182.2,262.3 183.0,262.3 183.8,262.2 184.5,262.1 185.3,262.0 186.1,261.8 186.9,261.5 187.6,261.8 188.4,262.0 189.2,262.1 190.0,262.2 190.7,262.3 191.5,262.3 192.3,262.3" fill="none" stroke="#6cc08e" stroke-width="0.7" opacity="0.9"/>
<polyline points="181.4,260.4 182.2,260.3 183.0,260.1 183.8,259.8 184.5,259.4 185.3,258.6 186.1,257.5 186.9,255.7 187.6,257.5 188.4,258.6 189.2,259.4 190.0,259.8 190.7,260.1 191.5,260.3 192.3,260.4" fill="none" stroke="#4a5a8a" stroke-width="0.75" opacity="0.9"/>
<polyline points="193.3,262.3 194.1,262.3 194.9,262.3 195.6,262.2 196.4,262.1 197.2,262.0 198.0,261.8 198.7,261.5 199.5,261.8 200.3,262.0 201.1,262.1 201.8,262.2 202.6,262.3 203.4,262.3 204.2,262.3" fill="none" stroke="#6cc08e" stroke-width="0.7" opacity="0.9"/>
<polyline points="193.3,260.4 194.1,260.3 194.9,260.1 195.6,259.8 196.4,259.4 197.2,258.6 198.0,257.5 198.7,255.7 199.5,257.5 200.3,258.6 201.1,259.4 201.8,259.8 202.6,260.1 203.4,260.3 204.2,260.4" fill="none" stroke="#4a5a8a" stroke-width="0.75" opacity="0.9"/>
<polyline points="205.2,262.3 206.0,262.3 206.7,262.3 207.5,262.2 208.3,262.1 209.1,262.0 209.8,261.8 210.6,261.5 211.4,261.8 212.2,262.0 213.0,262.1 213.7,262.2 214.5,262.3 215.3,262.3 216.1,262.3" fill="none" stroke="#6cc08e" stroke-width="0.7" opacity="0.9"/>
<polyline points="205.2,260.4 206.0,260.3 206.7,260.1 207.5,259.8 208.3,259.4 209.1,258.6 209.8,257.5 210.6,255.7 211.4,257.5 212.2,258.6 213.0,259.4 213.7,259.8 214.5,260.1 215.3,260.3 216.1,260.4" fill="none" stroke="#4a5a8a" stroke-width="0.75" opacity="0.9"/>
<rect x="14.05" y="252.40" width="1.1" height="12.00" fill="#a39d9d"/>
<rect x="25.93" y="252.40" width="1.1" height="12.00" fill="#a39d9d"/>
<rect x="37.81" y="252.40" width="1.1" height="12.00" fill="#a39d9d"/>
<rect x="49.69" y="252.40" width="1.1" height="12.00" fill="#a39d9d"/>
<rect x="61.57" y="252.40" width="1.1" height="12.00" fill="#a39d9d"/>
<rect x="73.45" y="252.40" width="1.1" height="12.00" fill="#a39d9d"/>
<rect x="85.33" y="252.40" width="1.1" height="12.00" fill="#a39d9d"/>
<rect x="97.21" y="252.40" width="1.1" height="12.00" fill="#a39d9d"/>
<rect x="109.09" y="252.40" width="1.1" height="12.00" fill="#a39d9d"/>
<rect x="120.97" y="252.40" width="1.1" height="12.00" fill="#a39d9d"/>
<rect x="132.85" y="252.40" width="1.1" height="12.00" fill="#a39d9d"/>
<rect x="144.73" y="252.40" width="1.1" height="12.00" fill="#a39d9d"/>
<rect x="156.61" y="252.40" width="1.1" height="12.00" fill="#a39d9d"/>
<rect x="168.49" y="252.40" width="1.1" height="12.00" fill="#a39d9d"/>
<rect x="180.37" y="252.40" width="1.1" height="12.00" fill="#a39d9d"/>
<rect x="192.25" y="252.40" width="1.1" height="12.00" fill="#a39d9d"/>
<rect x="204.13" y="252.40" width="1.1" height="12.00" fill="#a39d9d"/>
<rect x="216.01" y="252.40" width="1.1" height="12.00" fill="#a39d9d"/>
<rect x="14.60" y="263.50" width="201.96" height="0.9" fill="#a3aaa6"/>
<text x="12.30" y="254.70" font-size="5.0" text-anchor="end" fill="#333" font-weight="normal" font-style="normal" stroke="#333" stroke-width="0.1">8</text>
<text x="12.30" y="265.30" font-size="5.0" text-anchor="end" fill="#333" font-weight="normal" font-style="normal" stroke="#333" stroke-width="0.1">0</text>
<line x1="219.70" y1="253.95" x2="234.70" y2="253.95" stroke="#a4a8b0" stroke-width="1" stroke-dasharray="1.6 0.4 0.9 0.5 1.2 0.6"/>
<rect x="218.20" y="253.50" width="1.2" height="0.9" fill="#3b4a7a"/>
<line x1="221.70" y1="256.35" x2="234.70" y2="256.35" stroke="#a4a8b0" stroke-width="1" stroke-dasharray="1.6 0.4 0.9 0.5 1.2 0.6"/>
<line x1="219.70" y1="259.35" x2="234.70" y2="259.35" stroke="#a4a8b0" stroke-width="1" stroke-dasharray="1.6 0.4 0.9 0.5 1.2 0.6"/>
<rect x="218.20" y="258.90" width="1.2" height="0.9" fill="#66bb88"/>
<line x1="221.70" y1="261.85" x2="234.70" y2="261.85" stroke="#a4a8b0" stroke-width="1" stroke-dasharray="1.6 0.4 0.9 0.5 1.2 0.6"/>
<rect x="14.60" y="267.00" width="201.96" height="86.00" fill="rgb(245,245,245)"/>
<g clip-path="url(#cp110)"><g filter="url(#texmul)">
<g clip-path="url(#cc111)">
<polygon points="13.8,266.0 27.3,266.0 26.5,267.9 26.5,270.4 26.5,276.2 26.5,290.0 14.6,290.0 14.6,276.2 14.6,270.4 14.6,267.9" fill="url(#l112)" filter="url(#blur1)"/>
</g>
<g clip-path="url(#cc113)">
<polygon points="13.8,289.0 27.3,289.0 26.5,292.5 25.7,299.4 25.0,315.2 24.1,353.0 17.0,353.0 16.1,315.2 15.3,299.4 14.6,292.5" fill="url(#l114)" filter="url(#blur1)"/>
</g>
<g clip-path="url(#cc115)">
<polygon points="25.7,266.0 39.2,266.0 38.4,267.9 38.4,270.4 38.4,276.2 38.4,290.0 26.5,290.0 26.5,276.2 26.5,270.4 26.5,267.9" fill="url(#l116)" filter="url(#blur1)"/>
</g>
<g clip-path="url(#cc117)">
<polygon points="25.7,289.0 39.2,289.0 38.4,292.5 37.6,299.4 36.9,315.2 36.0,353.0 28.9,353.0 28.0,315.2 27.2,299.4 26.5,292.5" fill="url(#l118)" filter="url(#blur1)"/>
</g>
<g clip-path="url(#cc119)">
<polygon points="37.6,266.0 51.0,266.0 50.2,267.9 50.2,270.4 50.2,276.2 50.2,290.0 38.4,290.0 38.4,276.2 38.4,270.4 38.4,267.9" fill="url(#l120)" filter="url(#blur1)"/>
</g>
<g clip-path="url(#cc121)">
<polygon points="37.6,289.0 51.0,289.0 50.2,292.5 49.5,299.4 48.8,315.2 47.9,353.0 40.7,353.0 39.8,315.2 39.1,299.4 38.4,292.5" fill="url(#l122)" filter="url(#blur1)"/>
</g>
<g clip-path="url(#cc123)">
<polygon points="49.4,266.0 62.9,266.0 62.1,267.9 62.1,270.4 62.1,276.2 62.1,290.0 50.2,290.0 50.2,276.2 50.2,270.4 50.2,267.9" fill="url(#l124)" filter="url(#blur1)"/>
</g>
<g clip-path="url(#cc125)">
<polygon points="49.4,289.0 62.9,289.0 62.1,292.5 61.4,299.4 60.6,315.2 59.7,353.0 52.6,353.0 51.7,315.2 51.0,299.4 50.2,292.5" fill="url(#l126)" filter="url(#blur1)"/>
</g>
<g clip-path="url(#cc127)">
<polygon points="61.3,266.0 74.8,266.0 74.0,267.9 74.0,270.4 74.0,276.2 74.0,290.0 62.1,290.0 62.1,276.2 62.1,270.4 62.1,267.9" fill="url(#l112)" filter="url(#blur1)"/>
</g>
<g clip-path="url(#cc128)">
<polygon points="61.3,289.0 74.8,289.0 74.0,292.5 73.3,299.4 72.5,315.2 71.6,353.0 64.5,353.0 63.6,315.2 62.9,299.4 62.1,292.5" fill="url(#l114)" filter="url(#blur1)"/>
</g>
<g clip-path="url(#cc129)">
<polygon points="73.2,266.0 86.7,266.0 85.9,267.9 85.9,270.4 85.9,276.2 85.9,290.0 74.0,290.0 74.0,276.2 74.0,270.4 74.0,267.9" fill="url(#l130)" filter="url(#blur1)"/>
</g>
<g clip-path="url(#cc131)">
<polygon points="73.2,289.0 86.7,289.0 85.9,292.5 85.1,299.4 84.4,315.2 83.5,353.0 76.4,353.0 75.5,315.2 74.7,299.4 74.0,292.5" fill="url(#l132)" filter="url(#blur1)"/>
</g>
<g clip-path="url(#cc133)">
<polygon points="85.1,266.0 98.6,266.0 97.8,267.9 97.8,270.4 97.8,276.2 97.8,290.0 85.9,290.0 85.9,276.2 85.9,270.4 85.9,267.9" fill="url(#l130)" filter="url(#blur1)"/>
</g>
<g clip-path="url(#cc134)">
<polygon points="85.1,289.0 98.6,289.0 97.8,292.5 97.0,299.4 96.3,315.2 95.4,353.0 88.3,353.0 87.4,315.2 86.6,299.4 85.9,292.5" fill="url(#l135)" filter="url(#blur1)"/>
</g>
<g clip-path="url(#cc136)">
<polygon points="97.0,266.0 110.4,266.0 109.6,267.9 109.6,270.4 109.6,276.2 109.6,290.0 97.8,290.0 97.8,276.2 97.8,270.4 97.8,267.9" fill="url(#l130)" filter="url(#blur1)"/>
</g>
<g clip-path="url(#cc137)">
<polygon points="97.0,289.0 110.4,289.0 109.6,292.5 108.9,299.4 108.2,315.2 107.3,353.0 100.1,353.0 99.2,315.2 98.5,299.4 97.8,292.5" fill="url(#l138)" filter="url(#blur1)"/>
</g>
<g clip-path="url(#cc139)">
<polygon points="108.8,266.0 122.3,266.0 121.5,267.9 121.5,270.4 121.5,276.2 121.5,290.0 109.6,290.0 109.6,276.2 109.6,270.4 109.6,267.9" fill="url(#l130)" filter="url(#blur1)"/>
</g>
<g clip-path="url(#cc140)">
<polygon points="108.8,289.0 122.3,289.0 121.5,292.5 120.8,299.4 120.0,315.2 119.1,353.0 112.0,353.0 111.1,315.2 110.4,299.4 109.6,292.5" fill="url(#l138)" filter="url(#blur1)"/>
</g>
<g clip-path="url(#cc141)">
<polygon points="120.7,266.0 134.2,266.0 133.4,267.9 133.4,270.4 133.4,276.2 133.4,290.0 121.5,290.0 121.5,276.2 121.5,270.4 121.5,267.9" fill="url(#l142)" filter="url(#blur1)"/>
</g>
<g clip-path="url(#cc143)">
<polygon points="120.7,289.0 134.2,289.0 133.4,292.5 132.7,299.4 131.9,315.2 131.0,353.0 123.9,353.0 123.0,315.2 122.3,299.4 121.5,292.5" fill="url(#l144)" filter="url(#blur1)"/>
</g>
<g clip-path="url(#cc145)">
<polygon points="132.6,266.0 146.1,266.0 145.3,267.9 145.3,270.4 145.3,276.2 145.3,290.0 133.4,290.0 133.4,276.2 133.4,270.4 133.4,267.9" fill="url(#l130)" filter="url(#blur1)"/>
</g>
<g clip-path="url(#cc146)">
<polygon points="132.6,289.0 146.1,289.0 145.3,292.5 144.5,299.4 143.8,315.2 142.9,353.0 135.8,353.0 134.9,315.2 134.1,299.4 133.4,292.5" fill="url(#l135)" filter="url(#blur1)"/>
</g>
<g clip-path="url(#cc147)">
<polygon points="144.5,266.0 158.0,266.0 157.2,267.9 157.2,270.4 157.2,276.2 157.2,290.0 145.3,290.0 145.3,276.2 145.3,270.4 145.3,267.9" fill="url(#l142)" filter="url(#blur1)"/>
</g>
<g clip-path="url(#cc148)">
<polygon points="144.5,289.0 158.0,289.0 157.2,292.5 156.4,299.4 155.7,315.2 154.8,353.0 147.7,353.0 146.8,315.2 146.0,299.4 145.3,292.5" fill="url(#l144)" filter="url(#blur1)"/>
</g>
<g clip-path="url(#cc149)">
<polygon points="156.4,266.0 169.8,266.0 169.0,267.9 168.1,270.4 167.3,276.2 166.7,290.0 159.5,290.0 158.9,276.2 158.1,270.4 157.2,267.9" fill="url(#l150)" filter="url(#blur1)"/>
</g>
<g clip-path="url(#cc151)">
<polygon points="156.4,289.0 169.8,289.0 169.0,292.5 169.0,299.4 169.0,315.2 169.0,353.0 157.2,353.0 157.2,315.2 157.2,299.4 157.2,292.5" fill="url(#l152)" filter="url(#blur1)"/>
</g>
<g clip-path="url(#cc153)">
<polygon points="168.2,266.0 181.7,266.0 180.9,267.9 180.0,270.4 179.1,276.2 178.5,290.0 171.4,290.0 170.8,276.2 169.9,270.4 169.0,267.9" fill="url(#l150)" filter="url(#blur1)"/>
</g>
<g clip-path="url(#cc154)">
<polygon points="168.2,289.0 181.7,289.0 180.9,292.5 180.9,299.4 180.9,315.2 180.9,353.0 169.0,353.0 169.0,315.2 169.0,299.4 169.0,292.5" fill="url(#l152)" filter="url(#blur1)"/>
</g>
<g clip-path="url(#cc155)">
<polygon points="180.1,266.0 193.6,266.0 192.8,267.9 191.9,270.4 191.0,276.2 190.4,290.0 183.3,290.0 182.7,276.2 181.8,270.4 180.9,267.9" fill="url(#l150)" filter="url(#blur1)"/>
</g>
<g clip-path="url(#cc156)">
<polygon points="180.1,289.0 193.6,289.0 192.8,292.5 192.8,299.4 192.8,315.2 192.8,353.0 180.9,353.0 180.9,315.2 180.9,299.4 180.9,292.5" fill="url(#l152)" filter="url(#blur1)"/>
</g>
<g clip-path="url(#cc157)">
<polygon points="192.0,266.0 205.5,266.0 204.7,267.9 203.8,270.4 202.9,276.2 202.3,290.0 195.2,290.0 194.6,276.2 193.7,270.4 192.8,267.9" fill="url(#l150)" filter="url(#blur1)"/>
</g>
<g clip-path="url(#cc158)">
<polygon points="192.0,289.0 205.5,289.0 204.7,292.5 204.7,299.4 204.7,315.2 204.7,353.0 192.8,353.0 192.8,315.2 192.8,299.4 192.8,292.5" fill="url(#l152)" filter="url(#blur1)"/>
</g>
<g clip-path="url(#cc159)">
<polygon points="203.9,266.0 217.4,266.0 216.6,267.9 215.7,270.4 214.8,276.2 214.2,290.0 207.1,290.0 206.5,276.2 205.6,270.4 204.7,267.9" fill="url(#l150)" filter="url(#blur1)"/>
</g>
<g clip-path="url(#cc160)">
<polygon points="203.9,289.0 217.4,289.0 216.6,292.5 216.6,299.4 216.6,315.2 216.6,353.0 204.7,353.0 204.7,315.2 204.7,299.4 204.7,292.5" fill="url(#l152)" filter="url(#blur1)"/>
</g>
</g>
<rect x="14.60" y="267.00" width="11.88" height="1.3" fill="rgb(30,30,30)" opacity="0.10"/>
<rect x="14.60" y="290.00" width="11.88" height="1.3" fill="rgb(30,30,30)" opacity="0.55"/>
<rect x="26.48" y="267.00" width="11.88" height="1.3" fill="rgb(30,30,30)" opacity="0.11"/>
<rect x="26.48" y="290.00" width="11.88" height="1.3" fill="rgb(30,30,30)" opacity="0.63"/>
<rect x="38.36" y="267.00" width="11.88" height="1.3" fill="rgb(30,30,30)" opacity="0.09"/>
<rect x="38.36" y="290.00" width="11.88" height="1.3" fill="rgb(30,30,30)" opacity="0.47"/>
<rect x="50.24" y="267.00" width="11.88" height="1.3" fill="rgb(30,30,30)" opacity="0.09"/>
<rect x="50.24" y="290.00" width="11.88" height="1.3" fill="rgb(30,30,30)" opacity="0.50"/>
<rect x="62.12" y="267.00" width="11.88" height="1.3" fill="rgb(30,30,30)" opacity="0.10"/>
<rect x="62.12" y="290.00" width="11.88" height="1.3" fill="rgb(30,30,30)" opacity="0.55"/>
<rect x="74.00" y="267.00" width="11.88" height="1.3" fill="rgb(30,30,30)" opacity="0.11"/>
<rect x="74.00" y="290.00" width="11.88" height="1.3" fill="rgb(30,30,30)" opacity="0.61"/>
<rect x="85.88" y="267.00" width="11.88" height="1.3" fill="rgb(30,30,30)" opacity="0.11"/>
<rect x="85.88" y="290.00" width="11.88" height="1.3" fill="rgb(30,30,30)" opacity="0.58"/>
<rect x="97.76" y="267.00" width="11.88" height="1.3" fill="rgb(30,30,30)" opacity="0.11"/>
<rect x="97.76" y="290.00" width="11.88" height="1.3" fill="rgb(30,30,30)" opacity="0.61"/>
<rect x="109.64" y="267.00" width="11.88" height="1.3" fill="rgb(30,30,30)" opacity="0.11"/>
<rect x="109.64" y="290.00" width="11.88" height="1.3" fill="rgb(30,30,30)" opacity="0.61"/>
<rect x="121.52" y="267.00" width="11.88" height="1.3" fill="rgb(30,30,30)" opacity="0.10"/>
<rect x="121.52" y="290.00" width="11.88" height="1.3" fill="rgb(30,30,30)" opacity="0.52"/>
<rect x="133.40" y="267.00" width="11.88" height="1.3" fill="rgb(30,30,30)" opacity="0.11"/>
<rect x="133.40" y="290.00" width="11.88" height="1.3" fill="rgb(30,30,30)" opacity="0.58"/>
<rect x="145.28" y="267.00" width="11.88" height="1.3" fill="rgb(30,30,30)" opacity="0.10"/>
<rect x="145.28" y="290.00" width="11.88" height="1.3" fill="rgb(30,30,30)" opacity="0.52"/>
<rect x="157.16" y="267.00" width="11.88" height="1.3" fill="rgb(30,30,30)" opacity="0.60"/>
<rect x="157.16" y="290.00" width="11.88" height="1.3" fill="rgb(30,30,30)" opacity="0.10"/>
<rect x="169.04" y="267.00" width="11.88" height="1.3" fill="rgb(30,30,30)" opacity="0.60"/>
<rect x="169.04" y="290.00" width="11.88" height="1.3" fill="rgb(30,30,30)" opacity="0.10"/>
<rect x="180.92" y="267.00" width="11.88" height="1.3" fill="rgb(30,30,30)" opacity="0.60"/>
<rect x="180.92" y="290.00" width="11.88" height="1.3" fill="rgb(30,30,30)" opacity="0.10"/>
<rect x="192.80" y="267.00" width="11.88" height="1.3" fill="rgb(30,30,30)" opacity="0.60"/>
<rect x="192.80" y="290.00" width="11.88" height="1.3" fill="rgb(30,30,30)" opacity="0.10"/>
<rect x="204.68" y="267.00" width="11.88" height="1.3" fill="rgb(30,30,30)" opacity="0.60"/>
<rect x="204.68" y="290.00" width="11.88" height="1.3" fill="rgb(30,30,30)" opacity="0.10"/>
<rect x="14.10" y="267.00" width="1" height="86.00" fill="#c3c8d0"/>
<rect x="25.43" y="267.00" width="2.1" height="86.00" fill="#c3c8d0"/>
<rect x="25.93" y="267.00" width="1.1" height="86.00" fill="#f6f6f8"/>
<rect x="37.31" y="267.00" width="2.1" height="86.00" fill="#c3c8d0"/>
<rect x="37.81" y="267.00" width="1.1" height="86.00" fill="#f6f6f8"/>
<rect x="49.19" y="267.00" width="2.1" height="86.00" fill="#c3c8d0"/>
<rect x="49.69" y="267.00" width="1.1" height="86.00" fill="#f6f6f8"/>
<rect x="61.07" y="267.00" width="2.1" height="86.00" fill="#c3c8d0"/>
<rect x="61.57" y="267.00" width="1.1" height="86.00" fill="#f6f6f8"/>
<rect x="72.95" y="267.00" width="2.1" height="86.00" fill="#c3c8d0"/>
<rect x="73.45" y="267.00" width="1.1" height="86.00" fill="#f6f6f8"/>
<rect x="84.83" y="267.00" width="2.1" height="86.00" fill="#c3c8d0"/>
<rect x="85.33" y="267.00" width="1.1" height="86.00" fill="#f6f6f8"/>
<rect x="96.71" y="267.00" width="2.1" height="86.00" fill="#c3c8d0"/>
<rect x="97.21" y="267.00" width="1.1" height="86.00" fill="#f6f6f8"/>
<rect x="108.59" y="267.00" width="2.1" height="86.00" fill="#c3c8d0"/>
<rect x="109.09" y="267.00" width="1.1" height="86.00" fill="#f6f6f8"/>
<rect x="120.47" y="267.00" width="2.1" height="86.00" fill="#c3c8d0"/>
<rect x="120.97" y="267.00" width="1.1" height="86.00" fill="#f6f6f8"/>
<rect x="132.35" y="267.00" width="2.1" height="86.00" fill="#c3c8d0"/>
<rect x="132.85" y="267.00" width="1.1" height="86.00" fill="#f6f6f8"/>
<rect x="144.23" y="267.00" width="2.1" height="86.00" fill="#c3c8d0"/>
<rect x="144.73" y="267.00" width="1.1" height="86.00" fill="#f6f6f8"/>
<rect x="156.11" y="267.00" width="2.1" height="86.00" fill="#c3c8d0"/>
<rect x="156.61" y="267.00" width="1.1" height="86.00" fill="#f6f6f8"/>
<rect x="167.99" y="267.00" width="2.1" height="86.00" fill="#c3c8d0"/>
<rect x="168.49" y="267.00" width="1.1" height="86.00" fill="#f6f6f8"/>
<rect x="179.87" y="267.00" width="2.1" height="86.00" fill="#c3c8d0"/>
<rect x="180.37" y="267.00" width="1.1" height="86.00" fill="#f6f6f8"/>
<rect x="191.75" y="267.00" width="2.1" height="86.00" fill="#c3c8d0"/>
<rect x="192.25" y="267.00" width="1.1" height="86.00" fill="#f6f6f8"/>
<rect x="203.63" y="267.00" width="2.1" height="86.00" fill="#c3c8d0"/>
<rect x="204.13" y="267.00" width="1.1" height="86.00" fill="#f6f6f8"/>
<rect x="216.06" y="267.00" width="1" height="86.00" fill="#c3c8d0"/>
<rect x="14.60" y="289.50" width="201.96" height="0.8" fill="#7d8790" opacity="0.45"/>
</g>
<rect x="216.76" y="267.00" width="1.8" height="86.00" fill="url(#cb161)"/>
<text x="220.50" y="272.80" font-size="5.0" text-anchor="start" fill="#333" font-weight="normal" font-style="normal" stroke="#333" stroke-width="0.1">20.0</text>
<text x="220.50" y="282.90" font-size="5.0" text-anchor="start" fill="#333" font-weight="normal" font-style="normal" stroke="#333" stroke-width="0.1">17.5</text>
<text x="220.50" y="293.00" font-size="5.0" text-anchor="start" fill="#333" font-weight="normal" font-style="normal" stroke="#333" stroke-width="0.1">15.0</text>
<text x="220.50" y="303.10" font-size="5.0" text-anchor="start" fill="#333" font-weight="normal" font-style="normal" stroke="#333" stroke-width="0.1">12.5</text>
<text x="220.50" y="313.20" font-size="5.0" text-anchor="start" fill="#333" font-weight="normal" font-style="normal" stroke="#333" stroke-width="0.1">10.0</text>
<text x="220.50" y="323.30" font-size="5.0" text-anchor="start" fill="#333" font-weight="normal" font-style="normal" stroke="#333" stroke-width="0.1">7.5</text>
<text x="220.50" y="333.40" font-size="5.0" text-anchor="start" fill="#333" font-weight="normal" font-style="normal" stroke="#333" stroke-width="0.1">5.0</text>
<text x="220.50" y="343.50" font-size="5.0" text-anchor="start" fill="#333" font-weight="normal" font-style="normal" stroke="#333" stroke-width="0.1">2.5</text>
<text x="220.50" y="353.60" font-size="5.0" text-anchor="start" fill="#333" font-weight="normal" font-style="normal" stroke="#333" stroke-width="0.1">0.0</text>
<text x="12.40" y="310.00" font-size="5.0" text-anchor="middle" fill="#333" font-weight="normal" font-style="normal" stroke="#333" stroke-width="0.1" transform="rotate(-90 12.40 310.00)">H3K27me3</text>
<rect x="233.40" y="278.80" width="7.90" height="0.8" fill="#222"/>
<path d="M231.40,279.20L235.00,277.70L234.40,279.20L235.00,280.70Z" fill="#111"/>
<rect x="233.40" y="330.60" width="7.90" height="0.8" fill="#222"/>
<path d="M231.40,331.00L235.00,329.50L234.40,331.00L235.00,332.50Z" fill="#111"/>
<text x="248.60" y="311.00" font-size="5.2" text-anchor="start" fill="#333" font-weight="normal" font-style="normal" stroke="#333" stroke-width="0.1" transform="rotate(-90 248.60 311.00)">H3K4me1/H3K27ac up</text>
<text x="254.80" y="311.00" font-size="5.2" text-anchor="start" fill="#333" font-weight="normal" font-style="normal" stroke="#333" stroke-width="0.1" transform="rotate(-90 254.80 311.00)">H3K27me3 down peaks</text>
<text x="248.60" y="373.30" font-size="5.2" text-anchor="start" fill="#333" font-weight="normal" font-style="normal" stroke="#333" stroke-width="0.1" transform="rotate(-90 248.60 373.30)">H3K4me1/H3K27ac down</text>
<text x="254.80" y="373.30" font-size="5.2" text-anchor="start" fill="#333" font-weight="normal" font-style="normal" stroke="#333" stroke-width="0.1" transform="rotate(-90 254.80 373.30)">H3K27me3 up peaks</text>
<text x="19.40" y="361.40" font-size="5.3" text-anchor="end" fill="#333" font-weight="normal" font-style="normal" stroke="#333" stroke-width="0.1">−5Kb</text>
<text x="23.30" y="361.40" font-size="5.3" text-anchor="start" fill="#333" font-weight="normal" font-style="normal" stroke="#333" stroke-width="0.1">5Kb</text>
<rect x="20.70" y="356.8" width="0.6" height="8.4" fill="#444"/>
<text x="22.50" y="369.40" font-size="5.0" text-anchor="middle" fill="#333" font-weight="normal" font-style="normal" stroke="#333" stroke-width="0.1">Peak center</text>
<text x="270.70" y="16.20" font-size="11.8" text-anchor="start" fill="#000" font-weight="bold" font-style="normal">B</text>
<rect x="280.20" y="36.2" width="69.66" height="1.9" fill="#d42a30"/>
<text x="315.03" y="32.20" font-size="5.2" text-anchor="middle" fill="#333" font-weight="normal" font-style="normal" stroke="#333" stroke-width="0.1">MBL</text>
<rect x="351.46" y="36.2" width="69.66" height="1.9" fill="#2e3187"/>
<text x="386.28" y="32.20" font-size="5.2" text-anchor="middle" fill="#333" font-weight="normal" font-style="normal" stroke="#333" stroke-width="0.1">CLL</text>
<rect x="422.71" y="36.2" width="57.78" height="1.9" fill="#3daa5c"/>
<text x="451.60" y="32.20" font-size="5.2" text-anchor="middle" fill="#333" font-weight="normal" font-style="normal" stroke="#333" stroke-width="0.1">NBC</text>
<rect x="279.40" y="42.00" width="201.89" height="12.50" fill="#fff"/>
<rect x="279.40" y="42.00" width="201.89" height="0.8" fill="#d9c9c9"/>
<polyline points="279.9,52.4 280.7,52.4 281.5,52.3 282.2,52.3 283.0,52.2 283.8,52.1 284.6,51.9 285.3,51.5 286.1,51.9 286.9,52.1 287.7,52.2 288.4,52.3 289.2,52.3 290.0,52.4 290.8,52.4" fill="none" stroke="#6cc08e" stroke-width="0.7" opacity="0.9"/>
<polyline points="279.9,52.1 280.7,52.1 281.5,52.0 282.2,51.9 283.0,51.8 283.8,51.6 284.6,51.2 285.3,50.7 286.1,51.2 286.9,51.6 287.7,51.8 288.4,51.9 289.2,52.0 290.0,52.1 290.8,52.1" fill="none" stroke="#38447a" stroke-width="0.75" opacity="0.9"/>
<polyline points="291.8,52.4 292.6,52.4 293.3,52.3 294.1,52.3 294.9,52.2 295.7,52.1 296.4,51.9 297.2,51.5 298.0,51.9 298.8,52.1 299.5,52.2 300.3,52.3 301.1,52.3 301.9,52.4 302.7,52.4" fill="none" stroke="#6cc08e" stroke-width="0.7" opacity="0.9"/>
<polyline points="291.8,51.9 292.6,51.9 293.3,51.8 294.1,51.7 294.9,51.5 295.7,51.3 296.4,50.9 297.2,50.2 298.0,50.9 298.8,51.3 299.5,51.5 300.3,51.7 301.1,51.8 301.9,51.9 302.7,51.9" fill="none" stroke="#38447a" stroke-width="0.75" opacity="0.9"/>
<polyline points="303.7,52.4 304.4,52.4 305.2,52.3 306.0,52.3 306.8,52.2 307.5,52.1 308.3,51.9 309.1,51.5 309.9,51.9 310.6,52.1 311.4,52.2 312.2,52.3 313.0,52.3 313.8,52.4 314.5,52.4" fill="none" stroke="#6cc08e" stroke-width="0.7" opacity="0.9"/>
<polyline points="303.7,51.9 304.4,51.9 305.2,51.8 306.0,51.7 306.8,51.5 307.5,51.3 308.3,50.9 309.1,50.2 309.9,50.9 310.6,51.3 311.4,51.5 312.2,51.7 313.0,51.8 313.8,51.9 314.5,51.9" fill="none" stroke="#38447a" stroke-width="0.75" opacity="0.9"/>
<polyline points="315.5,52.4 316.3,52.4 317.1,52.3 317.9,52.3 318.6,52.2 319.4,52.1 320.2,51.9 321.0,51.5 321.7,51.9 322.5,52.1 323.3,52.2 324.1,52.3 324.9,52.3 325.6,52.4 326.4,52.4" fill="none" stroke="#6cc08e" stroke-width="0.7" opacity="0.9"/>
<polyline points="315.5,51.8 316.3,51.7 317.1,51.6 317.9,51.5 318.6,51.3 319.4,51.0 320.2,50.5 321.0,49.6 321.7,50.5 322.5,51.0 323.3,51.3 324.1,51.5 324.9,51.6 325.6,51.7 326.4,51.8" fill="none" stroke="#38447a" stroke-width="0.75" opacity="0.9"/>
<polyline points="327.4,52.4 328.2,52.4 329.0,52.3 329.7,52.3 330.5,52.2 331.3,52.1 332.1,51.9 332.8,51.5 333.6,51.9 334.4,52.1 335.2,52.2 335.9,52.3 336.7,52.3 337.5,52.4 338.3,52.4" fill="none" stroke="#6cc08e" stroke-width="0.7" opacity="0.9"/>
<polyline points="327.4,51.2 328.2,51.2 329.0,51.0 329.7,50.9 330.5,50.5 331.3,50.1 332.1,49.3 332.8,48.1 333.6,49.3 334.4,50.1 335.2,50.5 335.9,50.9 336.7,51.0 337.5,51.2 338.3,51.2" fill="none" stroke="#38447a" stroke-width="0.75" opacity="0.9"/>
<polyline points="339.3,52.4 340.1,52.4 340.8,52.3 341.6,52.3 342.4,52.2 343.2,52.1 343.9,51.9 344.7,51.5 345.5,51.9 346.3,52.1 347.0,52.2 347.8,52.3 348.6,52.3 349.4,52.4 350.2,52.4" fill="none" stroke="#6cc08e" stroke-width="0.7" opacity="0.9"/>
<polyline points="339.3,51.8 340.1,51.7 340.8,51.6 341.6,51.5 342.4,51.3 343.2,51.0 343.9,50.5 344.7,49.6 345.5,50.5 346.3,51.0 347.0,51.3 347.8,51.5 348.6,51.6 349.4,51.7 350.2,51.8" fill="none" stroke="#38447a" stroke-width="0.75" opacity="0.9"/>
<polyline points="351.2,52.4 351.9,52.4 352.7,52.3 353.5,52.3 354.3,52.2 355.0,52.1 355.8,51.9 356.6,51.5 357.4,51.9 358.1,52.1 358.9,52.2 359.7,52.3 360.5,52.3 361.3,52.4 362.0,52.4" fill="none" stroke="#6cc08e" stroke-width="0.7" opacity="0.9"/>
<polyline points="351.2,51.9 351.9,51.9 352.7,51.8 353.5,51.7 354.3,51.5 355.0,51.3 355.8,50.9 356.6,50.2 357.4,50.9 358.1,51.3 358.9,51.5 359.7,51.7 360.5,51.8 361.3,51.9 362.0,51.9" fill="none" stroke="#38447a" stroke-width="0.75" opacity="0.9"/>
<polyline points="363.0,52.4 363.8,52.4 364.6,52.3 365.4,52.3 366.1,52.2 366.9,52.1 367.7,51.9 368.5,51.5 369.2,51.9 370.0,52.1 370.8,52.2 371.6,52.3 372.4,52.3 373.1,52.4 373.9,52.4" fill="none" stroke="#6cc08e" stroke-width="0.7" opacity="0.9"/>
<polyline points="363.0,51.9 363.8,51.9 364.6,51.8 365.4,51.7 366.1,51.5 366.9,51.3 367.7,50.9 368.5,50.2 369.2,50.9 370.0,51.3 370.8,51.5 371.6,51.7 372.4,51.8 373.1,51.9 373.9,51.9" fill="none" stroke="#38447a" stroke-width="0.75" opacity="0.9"/>
<polyline points="374.9,52.4 375.7,52.4 376.5,52.3 377.2,52.3 378.0,52.2 378.8,52.1 379.6,51.9 380.3,51.5 381.1,51.9 381.9,52.1 382.7,52.2 383.5,52.3 384.2,52.3 385.0,52.4 385.8,52.4" fill="none" stroke="#6cc08e" stroke-width="0.7" opacity="0.9"/>
<polyline points="374.9,51.8 375.7,51.7 376.5,51.6 377.2,51.5 378.0,51.3 378.8,51.0 379.6,50.5 380.3,49.6 381.1,50.5 381.9,51.0 382.7,51.3 383.5,51.5 384.2,51.6 385.0,51.7 385.8,51.8" fill="none" stroke="#38447a" stroke-width="0.75" opacity="0.9"/>
<polyline points="386.8,52.4 387.6,52.4 388.3,52.3 389.1,52.3 389.9,52.2 390.7,52.1 391.4,51.9 392.2,51.5 393.0,51.9 393.8,52.1 394.6,52.2 395.3,52.3 396.1,52.3 396.9,52.4 397.7,52.4" fill="none" stroke="#6cc08e" stroke-width="0.7" opacity="0.9"/>
<polyline points="386.8,51.8 387.6,51.7 388.3,51.6 389.1,51.5 389.9,51.3 390.7,51.0 391.4,50.5 392.2,49.6 393.0,50.5 393.8,51.0 394.6,51.3 395.3,51.5 396.1,51.6 396.9,51.7 397.7,51.8" fill="none" stroke="#38447a" stroke-width="0.75" opacity="0.9"/>
<polyline points="398.7,52.4 399.4,52.4 400.2,52.3 401.0,52.3 401.8,52.2 402.5,52.1 403.3,51.9 404.1,51.5 404.9,51.9 405.7,52.1 406.4,52.2 407.2,52.3 408.0,52.3 408.8,52.4 409.5,52.4" fill="none" stroke="#6cc08e" stroke-width="0.7" opacity="0.9"/>
<polyline points="398.7,51.9 399.4,51.9 400.2,51.8 401.0,51.7 401.8,51.5 402.5,51.3 403.3,50.9 404.1,50.2 404.9,50.9 405.7,51.3 406.4,51.5 407.2,51.7 408.0,51.8 408.8,51.9 409.5,51.9" fill="none" stroke="#38447a" stroke-width="0.75" opacity="0.9"/>
<polyline points="410.5,52.4 411.3,52.4 412.1,52.3 412.9,52.3 413.6,52.2 414.4,52.1 415.2,51.9 416.0,51.5 416.8,51.9 417.5,52.1 418.3,52.2 419.1,52.3 419.9,52.3 420.6,52.4 421.4,52.4" fill="none" stroke="#6cc08e" stroke-width="0.7" opacity="0.9"/>
<polyline points="410.5,51.9 411.3,51.9 412.1,51.8 412.9,51.7 413.6,51.5 414.4,51.3 415.2,50.9 416.0,50.2 416.8,50.9 417.5,51.3 418.3,51.5 419.1,51.7 419.9,51.8 420.6,51.9 421.4,51.9" fill="none" stroke="#38447a" stroke-width="0.75" opacity="0.9"/>
<polyline points="422.4,50.2 423.2,50.1 424.0,49.9 424.7,49.6 425.5,49.0 426.3,48.2 427.1,47.0 427.8,44.9 428.6,47.0 429.4,48.2 430.2,49.0 431.0,49.6 431.7,49.9 432.5,50.1 433.3,50.2" fill="none" stroke="#6cc08e" stroke-width="0.7" opacity="0.9"/>
<polyline points="422.4,52.5 423.2,52.5 424.0,52.5 424.7,52.5 425.5,52.4 426.3,52.3 427.1,52.2 427.8,52.0 428.6,52.2 429.4,52.3 430.2,52.4 431.0,52.5 431.7,52.5 432.5,52.5 433.3,52.5" fill="none" stroke="#38447a" stroke-width="0.75" opacity="0.9"/>
<polyline points="434.3,49.7 435.1,49.5 435.8,49.3 436.6,48.9 437.4,48.3 438.2,47.3 438.9,45.8 439.7,43.3 440.5,45.8 441.3,47.3 442.1,48.3 442.8,48.9 443.6,49.3 444.4,49.5 445.2,49.7" fill="none" stroke="#6cc08e" stroke-width="0.7" opacity="0.9"/>
<polyline points="434.3,52.5 435.1,52.5 435.8,52.5 436.6,52.5 437.4,52.4 438.2,52.3 438.9,52.2 439.7,52.0 440.5,52.2 441.3,52.3 442.1,52.4 442.8,52.5 443.6,52.5 444.4,52.5 445.2,52.5" fill="none" stroke="#38447a" stroke-width="0.75" opacity="0.9"/>
<polyline points="446.2,49.9 446.9,49.7 447.7,49.5 448.5,49.1 449.3,48.5 450.0,47.6 450.8,46.2 451.6,43.9 452.4,46.2 453.2,47.6 453.9,48.5 454.7,49.1 455.5,49.5 456.3,49.7 457.0,49.9" fill="none" stroke="#6cc08e" stroke-width="0.7" opacity="0.9"/>
<polyline points="446.2,52.5 446.9,52.5 447.7,52.5 448.5,52.5 449.3,52.4 450.0,52.3 450.8,52.2 451.6,52.0 452.4,52.2 453.2,52.3 453.9,52.4 454.7,52.5 455.5,52.5 456.3,52.5 457.0,52.5" fill="none" stroke="#38447a" stroke-width="0.75" opacity="0.9"/>
<polyline points="458.0,50.0 458.8,49.9 459.6,49.7 460.4,49.3 461.1,48.8 461.9,47.9 462.7,46.6 463.5,44.4 464.3,46.6 465.0,47.9 465.8,48.8 466.6,49.3 467.4,49.7 468.1,49.9 468.9,50.0" fill="none" stroke="#6cc08e" stroke-width="0.7" opacity="0.9"/>
<polyline points="458.0,52.5 458.8,52.5 459.6,52.5 460.4,52.5 461.1,52.4 461.9,52.3 462.7,52.2 463.5,52.0 464.3,52.2 465.0,52.3 465.8,52.4 466.6,52.5 467.4,52.5 468.1,52.5 468.9,52.5" fill="none" stroke="#38447a" stroke-width="0.75" opacity="0.9"/>
<polyline points="469.9,50.0 470.7,49.9 471.5,49.7 472.2,49.3 473.0,48.8 473.8,47.9 474.6,46.6 475.4,44.4 476.1,46.6 476.9,47.9 477.7,48.8 478.5,49.3 479.2,49.7 480.0,49.9 480.8,50.0" fill="none" stroke="#6cc08e" stroke-width="0.7" opacity="0.9"/>
<polyline points="469.9,52.5 470.7,52.5 471.5,52.5 472.2,52.5 473.0,52.4 473.8,52.3 474.6,52.2 475.4,52.0 476.1,52.2 476.9,52.3 477.7,52.4 478.5,52.5 479.2,52.5 480.0,52.5 480.8,52.5" fill="none" stroke="#38447a" stroke-width="0.75" opacity="0.9"/>
<rect x="278.85" y="42.00" width="1.1" height="12.50" fill="#a39d9d"/>
<rect x="290.73" y="42.00" width="1.1" height="12.50" fill="#a39d9d"/>
<rect x="302.60" y="42.00" width="1.1" height="12.50" fill="#a39d9d"/>
<rect x="314.48" y="42.00" width="1.1" height="12.50" fill="#a39d9d"/>
<rect x="326.35" y="42.00" width="1.1" height="12.50" fill="#a39d9d"/>
<rect x="338.23" y="42.00" width="1.1" height="12.50" fill="#a39d9d"/>
<rect x="350.11" y="42.00" width="1.1" height="12.50" fill="#a39d9d"/>
<rect x="361.98" y="42.00" width="1.1" height="12.50" fill="#a39d9d"/>
<rect x="373.86" y="42.00" width="1.1" height="12.50" fill="#a39d9d"/>
<rect x="385.73" y="42.00" width="1.1" height="12.50" fill="#a39d9d"/>
<rect x="397.61" y="42.00" width="1.1" height="12.50" fill="#a39d9d"/>
<rect x="409.49" y="42.00" width="1.1" height="12.50" fill="#a39d9d"/>
<rect x="421.36" y="42.00" width="1.1" height="12.50" fill="#a39d9d"/>
<rect x="433.24" y="42.00" width="1.1" height="12.50" fill="#a39d9d"/>
<rect x="445.11" y="42.00" width="1.1" height="12.50" fill="#a39d9d"/>
<rect x="456.99" y="42.00" width="1.1" height="12.50" fill="#a39d9d"/>
<rect x="468.87" y="42.00" width="1.1" height="12.50" fill="#a39d9d"/>
<rect x="480.74" y="42.00" width="1.1" height="12.50" fill="#a39d9d"/>
<rect x="279.40" y="53.60" width="201.89" height="0.9" fill="#a3aaa6"/>
<text x="277.10" y="44.30" font-size="5.0" text-anchor="end" fill="#333" font-weight="normal" font-style="normal" stroke="#333" stroke-width="0.1">15</text>
<text x="277.10" y="55.40" font-size="5.0" text-anchor="end" fill="#333" font-weight="normal" font-style="normal" stroke="#333" stroke-width="0.1">0</text>
<rect x="279.40" y="56.60" width="201.89" height="86.90" fill="rgb(237,243,250)"/>
<g clip-path="url(#cp162)"><g filter="url(#texmul)">
<g clip-path="url(#cc163)">
<polygon points="278.6,55.6 292.1,55.6 291.3,57.2 290.8,58.7 290.4,62.2 289.5,70.6 281.2,70.6 280.3,62.2 279.8,58.7 279.4,57.2" fill="url(#l164)" filter="url(#blur1)"/>
</g>
<g clip-path="url(#cc165)">
<polygon points="278.6,69.6 292.1,69.6 291.3,73.5 289.6,81.5 288.0,99.8 287.1,143.5 283.6,143.5 282.7,99.8 281.0,81.5 279.4,73.5" fill="url(#l166)" filter="url(#blur1)"/>
</g>
<g clip-path="url(#cc167)">
<polygon points="290.5,55.6 304.0,55.6 303.2,57.2 302.7,58.7 302.3,62.2 301.4,70.6 293.1,70.6 292.2,62.2 291.7,58.7 291.3,57.2" fill="url(#l168)" filter="url(#blur1)"/>
</g>
<g clip-path="url(#cc169)">
<polygon points="290.5,69.6 304.0,69.6 303.2,73.5 301.5,81.5 299.9,99.8 299.0,143.5 295.4,143.5 294.5,99.8 292.9,81.5 291.3,73.5" fill="url(#l170)" filter="url(#blur1)"/>
</g>
<g clip-path="url(#cc171)">
<polygon points="302.4,55.6 315.8,55.6 315.0,57.2 314.6,58.7 314.1,62.2 313.2,70.6 304.9,70.6 304.0,62.2 303.6,58.7 303.2,57.2" fill="url(#l172)" filter="url(#blur1)"/>
</g>
<g clip-path="url(#cc173)">
<polygon points="302.4,69.6 315.8,69.6 315.0,73.5 313.4,81.5 311.8,99.8 310.9,143.5 307.3,143.5 306.4,99.8 304.8,81.5 303.2,73.5" fill="url(#l174)" filter="url(#blur1)"/>
</g>
<g clip-path="url(#cc175)">
<polygon points="314.2,55.6 327.7,55.6 326.9,57.2 326.5,58.7 326.0,62.2 325.1,70.6 316.8,70.6 315.9,62.2 315.5,58.7 315.0,57.2" fill="url(#l164)" filter="url(#blur1)"/>
</g>
<g clip-path="url(#cc176)">
<polygon points="314.2,69.6 327.7,69.6 326.9,73.5 325.3,81.5 323.6,99.8 322.7,143.5 319.2,143.5 318.3,99.8 316.7,81.5 315.0,73.5" fill="url(#l166)" filter="url(#blur1)"/>
</g>
<g clip-path="url(#cc177)">
<polygon points="326.1,55.6 339.6,55.6 338.8,57.2 338.3,58.7 337.9,62.2 337.0,70.6 328.7,70.6 327.8,62.2 327.3,58.7 326.9,57.2" fill="url(#l178)" filter="url(#blur1)"/>
</g>
<g clip-path="url(#cc179)">
<polygon points="326.1,69.6 339.6,69.6 338.8,73.5 337.1,81.5 335.5,99.8 334.6,143.5 331.1,143.5 330.2,99.8 328.5,81.5 326.9,73.5" fill="url(#l180)" filter="url(#blur1)"/>
</g>
<g clip-path="url(#cc181)">
<polygon points="338.0,55.6 351.5,55.6 350.7,57.2 350.2,58.7 349.8,62.2 348.9,70.6 340.6,70.6 339.7,62.2 339.2,58.7 338.8,57.2" fill="url(#l168)" filter="url(#blur1)"/>
</g>
<g clip-path="url(#cc182)">
<polygon points="338.0,69.6 351.5,69.6 350.7,73.5 349.0,81.5 347.4,99.8 346.5,143.5 342.9,143.5 342.0,99.8 340.4,81.5 338.8,73.5" fill="url(#l170)" filter="url(#blur1)"/>
</g>
<g clip-path="url(#cc183)">
<polygon points="349.9,55.6 363.3,55.6 362.5,57.2 362.1,58.7 361.6,62.2 360.8,70.6 352.4,70.6 351.5,62.2 351.1,58.7 350.7,57.2" fill="url(#l164)" filter="url(#blur1)"/>
</g>
<g clip-path="url(#cc184)">
<polygon points="349.9,69.6 363.3,69.6 362.5,73.5 360.9,81.5 359.3,99.8 358.4,143.5 354.8,143.5 353.9,99.8 352.3,81.5 350.7,73.5" fill="url(#l185)" filter="url(#blur1)"/>
</g>
<g clip-path="url(#cc186)">
<polygon points="361.7,55.6 375.2,55.6 374.4,57.2 374.0,58.7 373.5,62.2 372.6,70.6 364.3,70.6 363.4,62.2 363.0,58.7 362.5,57.2" fill="url(#l168)" filter="url(#blur1)"/>
</g>
<g clip-path="url(#cc187)">
<polygon points="361.7,69.6 375.2,69.6 374.4,73.5 372.8,81.5 371.1,99.8 370.3,143.5 366.7,143.5 365.8,99.8 364.2,81.5 362.5,73.5" fill="url(#l188)" filter="url(#blur1)"/>
</g>
<g clip-path="url(#cc189)">
<polygon points="373.6,55.6 387.1,55.6 386.3,57.2 385.8,58.7 385.4,62.2 384.5,70.6 376.2,70.6 375.3,62.2 374.9,58.7 374.4,57.2" fill="url(#l164)" filter="url(#blur1)"/>
</g>
<g clip-path="url(#cc190)">
<polygon points="373.6,69.6 387.1,69.6 386.3,73.5 384.7,81.5 383.0,99.8 382.1,143.5 378.6,143.5 377.7,99.8 376.0,81.5 374.4,73.5" fill="url(#l185)" filter="url(#blur1)"/>
</g>
<g clip-path="url(#cc191)">
<polygon points="385.5,55.6 399.0,55.6 398.2,57.2 397.7,58.7 397.3,62.2 396.4,70.6 388.1,70.6 387.2,62.2 386.7,58.7 386.3,57.2" fill="url(#l172)" filter="url(#blur1)"/>
</g>
<g clip-path="url(#cc192)">
<polygon points="385.5,69.6 399.0,69.6 398.2,73.5 396.5,81.5 394.9,99.8 394.0,143.5 390.4,143.5 389.5,99.8 387.9,81.5 386.3,73.5" fill="url(#l193)" filter="url(#blur1)"/>
</g>
<g clip-path="url(#cc194)">
<polygon points="397.4,55.6 410.8,55.6 410.0,57.2 409.6,58.7 409.1,62.2 408.3,70.6 399.9,70.6 399.1,62.2 398.6,58.7 398.2,57.2" fill="url(#l164)" filter="url(#blur1)"/>
</g>
<g clip-path="url(#cc195)">
<polygon points="397.4,69.6 410.8,69.6 410.0,73.5 408.4,81.5 406.8,99.8 405.9,143.5 402.3,143.5 401.4,99.8 399.8,81.5 398.2,73.5" fill="url(#l185)" filter="url(#blur1)"/>
</g>
<g clip-path="url(#cc196)">
<polygon points="409.2,55.6 422.7,55.6 421.9,57.2 421.5,58.7 421.0,62.2 420.1,70.6 411.8,70.6 410.9,62.2 410.5,58.7 410.0,57.2" fill="url(#l168)" filter="url(#blur1)"/>
</g>
<g clip-path="url(#cc197)">
<polygon points="409.2,69.6 422.7,69.6 421.9,73.5 420.3,81.5 418.6,99.8 417.8,143.5 414.2,143.5 413.3,99.8 411.7,81.5 410.0,73.5" fill="url(#l188)" filter="url(#blur1)"/>
</g>
<g clip-path="url(#cc198)">
<polygon points="421.1,55.6 434.6,55.6 433.8,57.2 433.8,58.7 433.8,62.2 433.8,70.6 421.9,70.6 421.9,62.2 421.9,58.7 421.9,57.2" fill="url(#l199)" filter="url(#blur1)"/>
</g>
<g clip-path="url(#cc200)">
<polygon points="421.1,69.6 434.6,69.6 433.8,73.5 432.6,81.5 431.4,99.8 429.9,143.5 425.8,143.5 424.3,99.8 423.1,81.5 421.9,73.5" fill="url(#l201)" filter="url(#blur1)"/>
</g>
<g clip-path="url(#cc202)">
<polygon points="433.0,55.6 446.5,55.6 445.7,57.2 445.7,58.7 445.7,62.2 445.7,70.6 433.8,70.6 433.8,62.2 433.8,58.7 433.8,57.2" fill="url(#l203)" filter="url(#blur1)"/>
</g>
<g clip-path="url(#cc204)">
<polygon points="433.0,69.6 446.5,69.6 445.7,73.5 444.5,81.5 443.3,99.8 441.8,143.5 437.6,143.5 436.2,99.8 435.0,81.5 433.8,73.5" fill="url(#l205)" filter="url(#blur1)"/>
</g>
<g clip-path="url(#cc206)">
<polygon points="444.9,55.6 458.3,55.6 457.5,57.2 457.5,58.7 457.5,62.2 457.5,70.6 445.7,70.6 445.7,62.2 445.7,58.7 445.7,57.2" fill="url(#l199)" filter="url(#blur1)"/>
</g>
<g clip-path="url(#cc207)">
<polygon points="444.9,69.6 458.3,69.6 457.5,73.5 456.4,81.5 455.2,99.8 453.7,143.5 449.5,143.5 448.0,99.8 446.9,81.5 445.7,73.5" fill="url(#l201)" filter="url(#blur1)"/>
</g>
<g clip-path="url(#cc208)">
<polygon points="456.7,55.6 470.2,55.6 469.4,57.2 469.4,58.7 469.4,62.2 469.4,70.6 457.5,70.6 457.5,62.2 457.5,58.7 457.5,57.2" fill="url(#l199)" filter="url(#blur1)"/>
</g>
<g clip-path="url(#cc209)">
<polygon points="456.7,69.6 470.2,69.6 469.4,73.5 468.2,81.5 467.0,99.8 465.6,143.5 461.4,143.5 459.9,99.8 458.7,81.5 457.5,73.5" fill="url(#l201)" filter="url(#blur1)"/>
</g>
<g clip-path="url(#cc210)">
<polygon points="468.6,55.6 482.1,55.6 481.3,57.2 481.3,58.7 481.3,62.2 481.3,70.6 469.4,70.6 469.4,62.2 469.4,58.7 469.4,57.2" fill="url(#l203)" filter="url(#blur1)"/>
</g>
<g clip-path="url(#cc211)">
<polygon points="468.6,69.6 482.1,69.6 481.3,73.5 480.1,81.5 478.9,99.8 477.4,143.5 473.3,143.5 471.8,99.8 470.6,81.5 469.4,73.5" fill="url(#l205)" filter="url(#blur1)"/>
</g>
</g>
<rect x="279.40" y="56.60" width="11.88" height="1.3" fill="rgb(35,110,170)" opacity="0.60"/>
<rect x="279.40" y="70.60" width="11.88" height="1.3" fill="rgb(35,110,170)" opacity="0.45"/>
<rect x="291.28" y="56.60" width="11.88" height="1.3" fill="rgb(35,110,170)" opacity="0.57"/>
<rect x="291.28" y="70.60" width="11.88" height="1.3" fill="rgb(35,110,170)" opacity="0.43"/>
<rect x="303.15" y="56.60" width="11.88" height="1.3" fill="rgb(35,110,170)" opacity="0.63"/>
<rect x="303.15" y="70.60" width="11.88" height="1.3" fill="rgb(35,110,170)" opacity="0.47"/>
<rect x="315.03" y="56.60" width="11.88" height="1.3" fill="rgb(35,110,170)" opacity="0.60"/>
<rect x="315.03" y="70.60" width="11.88" height="1.3" fill="rgb(35,110,170)" opacity="0.45"/>
<rect x="326.90" y="56.60" width="11.88" height="1.3" fill="rgb(35,110,170)" opacity="0.66"/>
<rect x="326.90" y="70.60" width="11.88" height="1.3" fill="rgb(35,110,170)" opacity="0.50"/>
<rect x="338.78" y="56.60" width="11.88" height="1.3" fill="rgb(35,110,170)" opacity="0.57"/>
<rect x="338.78" y="70.60" width="11.88" height="1.3" fill="rgb(35,110,170)" opacity="0.43"/>
<rect x="350.66" y="56.60" width="11.88" height="1.3" fill="rgb(35,110,170)" opacity="0.60"/>
<rect x="350.66" y="70.60" width="11.88" height="1.3" fill="rgb(35,110,170)" opacity="0.45"/>
<rect x="362.53" y="56.60" width="11.88" height="1.3" fill="rgb(35,110,170)" opacity="0.57"/>
<rect x="362.53" y="70.60" width="11.88" height="1.3" fill="rgb(35,110,170)" opacity="0.43"/>
<rect x="374.41" y="56.60" width="11.88" height="1.3" fill="rgb(35,110,170)" opacity="0.60"/>
<rect x="374.41" y="70.60" width="11.88" height="1.3" fill="rgb(35,110,170)" opacity="0.45"/>
<rect x="386.28" y="56.60" width="11.88" height="1.3" fill="rgb(35,110,170)" opacity="0.63"/>
<rect x="386.28" y="70.60" width="11.88" height="1.3" fill="rgb(35,110,170)" opacity="0.47"/>
<rect x="398.16" y="56.60" width="11.88" height="1.3" fill="rgb(35,110,170)" opacity="0.60"/>
<rect x="398.16" y="70.60" width="11.88" height="1.3" fill="rgb(35,110,170)" opacity="0.45"/>
<rect x="410.04" y="56.60" width="11.88" height="1.3" fill="rgb(35,110,170)" opacity="0.57"/>
<rect x="410.04" y="70.60" width="11.88" height="1.3" fill="rgb(35,110,170)" opacity="0.43"/>
<rect x="421.91" y="56.60" width="11.88" height="1.3" fill="rgb(35,110,170)" opacity="0.15"/>
<rect x="421.91" y="70.60" width="11.88" height="1.3" fill="rgb(35,110,170)" opacity="0.80"/>
<rect x="433.79" y="56.60" width="11.88" height="1.3" fill="rgb(35,110,170)" opacity="0.16"/>
<rect x="433.79" y="70.60" width="11.88" height="1.3" fill="rgb(35,110,170)" opacity="0.84"/>
<rect x="445.66" y="56.60" width="11.88" height="1.3" fill="rgb(35,110,170)" opacity="0.15"/>
<rect x="445.66" y="70.60" width="11.88" height="1.3" fill="rgb(35,110,170)" opacity="0.80"/>
<rect x="457.54" y="56.60" width="11.88" height="1.3" fill="rgb(35,110,170)" opacity="0.15"/>
<rect x="457.54" y="70.60" width="11.88" height="1.3" fill="rgb(35,110,170)" opacity="0.80"/>
<rect x="469.42" y="56.60" width="11.88" height="1.3" fill="rgb(35,110,170)" opacity="0.16"/>
<rect x="469.42" y="70.60" width="11.88" height="1.3" fill="rgb(35,110,170)" opacity="0.84"/>
<rect x="278.90" y="56.60" width="1" height="86.90" fill="#c3c8d0"/>
<rect x="290.23" y="56.60" width="2.1" height="86.90" fill="#c3c8d0"/>
<rect x="290.73" y="56.60" width="1.1" height="86.90" fill="#f6f6f8"/>
<rect x="302.10" y="56.60" width="2.1" height="86.90" fill="#c3c8d0"/>
<rect x="302.60" y="56.60" width="1.1" height="86.90" fill="#f6f6f8"/>
<rect x="313.98" y="56.60" width="2.1" height="86.90" fill="#c3c8d0"/>
<rect x="314.48" y="56.60" width="1.1" height="86.90" fill="#f6f6f8"/>
<rect x="325.85" y="56.60" width="2.1" height="86.90" fill="#c3c8d0"/>
<rect x="326.35" y="56.60" width="1.1" height="86.90" fill="#f6f6f8"/>
<rect x="337.73" y="56.60" width="2.1" height="86.90" fill="#c3c8d0"/>
<rect x="338.23" y="56.60" width="1.1" height="86.90" fill="#f6f6f8"/>
<rect x="349.61" y="56.60" width="2.1" height="86.90" fill="#c3c8d0"/>
<rect x="350.11" y="56.60" width="1.1" height="86.90" fill="#f6f6f8"/>
<rect x="361.48" y="56.60" width="2.1" height="86.90" fill="#c3c8d0"/>
<rect x="361.98" y="56.60" width="1.1" height="86.90" fill="#f6f6f8"/>
<rect x="373.36" y="56.60" width="2.1" height="86.90" fill="#c3c8d0"/>
<rect x="373.86" y="56.60" width="1.1" height="86.90" fill="#f6f6f8"/>
<rect x="385.23" y="56.60" width="2.1" height="86.90" fill="#c3c8d0"/>
<rect x="385.73" y="56.60" width="1.1" height="86.90" fill="#f6f6f8"/>
<rect x="397.11" y="56.60" width="2.1" height="86.90" fill="#c3c8d0"/>
<rect x="397.61" y="56.60" width="1.1" height="86.90" fill="#f6f6f8"/>
<rect x="408.99" y="56.60" width="2.1" height="86.90" fill="#c3c8d0"/>
<rect x="409.49" y="56.60" width="1.1" height="86.90" fill="#f6f6f8"/>
<rect x="420.86" y="56.60" width="2.1" height="86.90" fill="#c3c8d0"/>
<rect x="421.36" y="56.60" width="1.1" height="86.90" fill="#f6f6f8"/>
<rect x="432.74" y="56.60" width="2.1" height="86.90" fill="#c3c8d0"/>
<rect x="433.24" y="56.60" width="1.1" height="86.90" fill="#f6f6f8"/>
<rect x="444.61" y="56.60" width="2.1" height="86.90" fill="#c3c8d0"/>
<rect x="445.11" y="56.60" width="1.1" height="86.90" fill="#f6f6f8"/>
<rect x="456.49" y="56.60" width="2.1" height="86.90" fill="#c3c8d0"/>
<rect x="456.99" y="56.60" width="1.1" height="86.90" fill="#f6f6f8"/>
<rect x="468.37" y="56.60" width="2.1" height="86.90" fill="#c3c8d0"/>
<rect x="468.87" y="56.60" width="1.1" height="86.90" fill="#f6f6f8"/>
<rect x="480.79" y="56.60" width="1" height="86.90" fill="#c3c8d0"/>
<rect x="279.40" y="70.10" width="201.89" height="0.8" fill="#7d8790" opacity="0.45"/>
</g>
<rect x="481.49" y="56.60" width="1.8" height="86.90" fill="url(#cb212)"/>
<text x="485.90" y="69.00" font-size="5.0" text-anchor="start" fill="#333" font-weight="normal" font-style="normal" stroke="#333" stroke-width="0.1">20</text>
<text x="485.90" y="87.80" font-size="5.0" text-anchor="start" fill="#333" font-weight="normal" font-style="normal" stroke="#333" stroke-width="0.1">15</text>
<text x="485.90" y="106.60" font-size="5.0" text-anchor="start" fill="#333" font-weight="normal" font-style="normal" stroke="#333" stroke-width="0.1">10</text>
<text x="485.90" y="125.40" font-size="5.0" text-anchor="start" fill="#333" font-weight="normal" font-style="normal" stroke="#333" stroke-width="0.1">5</text>
<text x="485.90" y="144.20" font-size="5.0" text-anchor="start" fill="#333" font-weight="normal" font-style="normal" stroke="#333" stroke-width="0.1">0</text>
<text x="276.40" y="100.50" font-size="5.0" text-anchor="middle" fill="#333" font-weight="normal" font-style="normal" stroke="#333" stroke-width="0.1" transform="rotate(-90 276.40 100.50)">H3K4me1</text>
<rect x="492.40" y="61.60" width="6.40" height="0.8" fill="#222"/>
<path d="M490.40,62.00L494.00,60.50L493.40,62.00L494.00,63.50Z" fill="#111"/>
<rect x="492.40" y="117.30" width="6.40" height="0.8" fill="#222"/>
<path d="M490.40,117.70L494.00,116.20L493.40,117.70L494.00,119.20Z" fill="#111"/>
<text x="506.80" y="72.20" font-size="5.2" text-anchor="start" fill="#333" font-weight="normal" font-style="normal" stroke="#333" stroke-width="0.1" transform="rotate(-90 506.80 72.20)">H3K4me1/H3K27ac up</text>
<text x="511.90" y="72.20" font-size="5.2" text-anchor="start" fill="#333" font-weight="normal" font-style="normal" stroke="#333" stroke-width="0.1" transform="rotate(-90 511.90 72.20)">H3K9me3 down peaks</text>
<text x="506.80" y="134.40" font-size="5.2" text-anchor="start" fill="#333" font-weight="normal" font-style="normal" stroke="#333" stroke-width="0.1" transform="rotate(-90 506.80 134.40)">H3K4me1/H3K27ac down</text>
<text x="511.90" y="134.40" font-size="5.2" text-anchor="start" fill="#333" font-weight="normal" font-style="normal" stroke="#333" stroke-width="0.1" transform="rotate(-90 511.90 134.40)">H3K9me3 up peaks</text>
<rect x="279.40" y="146.90" width="201.89" height="12.40" fill="#fff"/>
<rect x="279.40" y="146.90" width="201.89" height="0.8" fill="#d9c9c9"/>
<polyline points="279.9,157.2 280.7,157.2 281.5,157.1 282.2,157.1 283.0,157.0 283.8,156.9 284.6,156.7 285.3,156.4 286.1,156.7 286.9,156.9 287.7,157.0 288.4,157.1 289.2,157.1 290.0,157.2 290.8,157.2" fill="none" stroke="#6cc08e" stroke-width="0.7" opacity="0.9"/>
<polyline points="279.9,157.1 280.7,157.1 281.5,157.0 282.2,157.0 283.0,156.9 283.8,156.7 284.6,156.4 285.3,156.0 286.1,156.4 286.9,156.7 287.7,156.9 288.4,157.0 289.2,157.0 290.0,157.1 290.8,157.1" fill="none" stroke="#38447a" stroke-width="0.75" opacity="0.9"/>
<polyline points="291.8,157.2 292.6,157.2 293.3,157.1 294.1,157.1 294.9,157.0 295.7,156.9 296.4,156.7 297.2,156.4 298.0,156.7 298.8,156.9 299.5,157.0 300.3,157.1 301.1,157.1 301.9,157.2 302.7,157.2" fill="none" stroke="#6cc08e" stroke-width="0.7" opacity="0.9"/>
<polyline points="291.8,156.1 292.6,156.0 293.3,155.9 294.1,155.7 294.9,155.4 295.7,154.9 296.4,154.1 297.2,152.9 298.0,154.1 298.8,154.9 299.5,155.4 300.3,155.7 301.1,155.9 301.9,156.0 302.7,156.1" fill="none" stroke="#38447a" stroke-width="0.75" opacity="0.9"/>
<polyline points="303.7,157.2 304.4,157.2 305.2,157.1 306.0,157.1 306.8,157.0 307.5,156.9 308.3,156.7 309.1,156.4 309.9,156.7 310.6,156.9 311.4,157.0 312.2,157.1 313.0,157.1 313.8,157.2 314.5,157.2" fill="none" stroke="#6cc08e" stroke-width="0.7" opacity="0.9"/>
<polyline points="303.7,156.2 304.4,156.2 305.2,156.1 306.0,155.9 306.8,155.6 307.5,155.2 308.3,154.5 309.1,153.4 309.9,154.5 310.6,155.2 311.4,155.6 312.2,155.9 313.0,156.1 313.8,156.2 314.5,156.2" fill="none" stroke="#38447a" stroke-width="0.75" opacity="0.9"/>
<polyline points="315.5,157.2 316.3,157.2 317.1,157.1 317.9,157.1 318.6,157.0 319.4,156.9 320.2,156.7 321.0,156.4 321.7,156.7 322.5,156.9 323.3,157.0 324.1,157.1 324.9,157.1 325.6,157.2 326.4,157.2" fill="none" stroke="#6cc08e" stroke-width="0.7" opacity="0.9"/>
<polyline points="315.5,156.2 316.3,156.2 317.1,156.1 317.9,155.9 318.6,155.6 319.4,155.2 320.2,154.5 321.0,153.4 321.7,154.5 322.5,155.2 323.3,155.6 324.1,155.9 324.9,156.1 325.6,156.2 326.4,156.2" fill="none" stroke="#38447a" stroke-width="0.75" opacity="0.9"/>
<polyline points="327.4,157.2 328.2,157.2 329.0,157.1 329.7,157.1 330.5,157.0 331.3,156.9 332.1,156.7 332.8,156.4 333.6,156.7 334.4,156.9 335.2,157.0 335.9,157.1 336.7,157.1 337.5,157.2 338.3,157.2" fill="none" stroke="#6cc08e" stroke-width="0.7" opacity="0.9"/>
<polyline points="327.4,155.6 328.2,155.4 329.0,155.3 329.7,155.0 330.5,154.6 331.3,154.0 332.1,153.0 332.8,151.4 333.6,153.0 334.4,154.0 335.2,154.6 335.9,155.0 336.7,155.3 337.5,155.4 338.3,155.6" fill="none" stroke="#38447a" stroke-width="0.75" opacity="0.9"/>
<polyline points="339.3,157.2 340.1,157.2 340.8,157.1 341.6,157.1 342.4,157.0 343.2,156.9 343.9,156.7 344.7,156.4 345.5,156.7 346.3,156.9 347.0,157.0 347.8,157.1 348.6,157.1 349.4,157.2 350.2,157.2" fill="none" stroke="#6cc08e" stroke-width="0.7" opacity="0.9"/>
<polyline points="339.3,156.4 340.1,156.3 340.8,156.2 341.6,156.1 342.4,155.9 343.2,155.5 343.9,154.9 344.7,154.0 345.5,154.9 346.3,155.5 347.0,155.9 347.8,156.1 348.6,156.2 349.4,156.3 350.2,156.4" fill="none" stroke="#38447a" stroke-width="0.75" opacity="0.9"/>
<polyline points="351.2,157.2 351.9,157.2 352.7,157.1 353.5,157.1 354.3,157.0 355.0,156.9 355.8,156.7 356.6,156.4 357.4,156.7 358.1,156.9 358.9,157.0 359.7,157.1 360.5,157.1 361.3,157.2 362.0,157.2" fill="none" stroke="#6cc08e" stroke-width="0.7" opacity="0.9"/>
<polyline points="351.2,155.9 351.9,155.8 352.7,155.7 353.5,155.5 354.3,155.1 355.0,154.6 355.8,153.7 356.6,152.4 357.4,153.7 358.1,154.6 358.9,155.1 359.7,155.5 360.5,155.7 361.3,155.8 362.0,155.9" fill="none" stroke="#38447a" stroke-width="0.75" opacity="0.9"/>
<polyline points="363.0,157.2 363.8,157.2 364.6,157.1 365.4,157.1 366.1,157.0 366.9,156.9 367.7,156.7 368.5,156.4 369.2,156.7 370.0,156.9 370.8,157.0 371.6,157.1 372.4,157.1 373.1,157.2 373.9,157.2" fill="none" stroke="#6cc08e" stroke-width="0.7" opacity="0.9"/>
<polyline points="363.0,156.1 363.8,156.0 364.6,155.9 365.4,155.7 366.1,155.4 366.9,154.9 367.7,154.1 368.5,152.9 369.2,154.1 370.0,154.9 370.8,155.4 371.6,155.7 372.4,155.9 373.1,156.0 373.9,156.1" fill="none" stroke="#38447a" stroke-width="0.75" opacity="0.9"/>
<polyline points="374.9,157.2 375.7,157.2 376.5,157.1 377.2,157.1 378.0,157.0 378.8,156.9 379.6,156.7 380.3,156.4 381.1,156.7 381.9,156.9 382.7,157.0 383.5,157.1 384.2,157.1 385.0,157.2 385.8,157.2" fill="none" stroke="#6cc08e" stroke-width="0.7" opacity="0.9"/>
<polyline points="374.9,155.7 375.7,155.6 376.5,155.5 377.2,155.2 378.0,154.9 378.8,154.3 379.6,153.4 380.3,151.9 381.1,153.4 381.9,154.3 382.7,154.9 383.5,155.2 384.2,155.5 385.0,155.6 385.8,155.7" fill="none" stroke="#38447a" stroke-width="0.75" opacity="0.9"/>
<polyline points="386.8,157.2 387.6,157.2 388.3,157.1 389.1,157.1 389.9,157.0 390.7,156.9 391.4,156.7 392.2,156.4 393.0,156.7 393.8,156.9 394.6,157.0 395.3,157.1 396.1,157.1 396.9,157.2 397.7,157.2" fill="none" stroke="#6cc08e" stroke-width="0.7" opacity="0.9"/>
<polyline points="386.8,155.6 387.6,155.4 388.3,155.3 389.1,155.0 389.9,154.6 390.7,154.0 391.4,153.0 392.2,151.4 393.0,153.0 393.8,154.0 394.6,154.6 395.3,155.0 396.1,155.3 396.9,155.4 397.7,155.6" fill="none" stroke="#38447a" stroke-width="0.75" opacity="0.9"/>
<polyline points="398.7,157.2 399.4,157.2 400.2,157.1 401.0,157.1 401.8,157.0 402.5,156.9 403.3,156.7 404.1,156.4 404.9,156.7 405.7,156.9 406.4,157.0 407.2,157.1 408.0,157.1 408.8,157.2 409.5,157.2" fill="none" stroke="#6cc08e" stroke-width="0.7" opacity="0.9"/>
<polyline points="398.7,156.4 399.4,156.3 400.2,156.2 401.0,156.1 401.8,155.9 402.5,155.5 403.3,154.9 404.1,154.0 404.9,154.9 405.7,155.5 406.4,155.9 407.2,156.1 408.0,156.2 408.8,156.3 409.5,156.4" fill="none" stroke="#38447a" stroke-width="0.75" opacity="0.9"/>
<polyline points="410.5,157.2 411.3,157.2 412.1,157.1 412.9,157.1 413.6,157.0 414.4,156.9 415.2,156.7 416.0,156.4 416.8,156.7 417.5,156.9 418.3,157.0 419.1,157.1 419.9,157.1 420.6,157.2 421.4,157.2" fill="none" stroke="#6cc08e" stroke-width="0.7" opacity="0.9"/>
<polyline points="410.5,156.4 411.3,156.3 412.1,156.2 412.9,156.1 413.6,155.9 414.4,155.5 415.2,154.9 416.0,154.0 416.8,154.9 417.5,155.5 418.3,155.9 419.1,156.1 419.9,156.2 420.6,156.3 421.4,156.4" fill="none" stroke="#38447a" stroke-width="0.75" opacity="0.9"/>
<polyline points="422.4,155.6 423.2,155.4 424.0,155.3 424.7,155.0 425.5,154.6 426.3,154.0 427.1,153.0 427.8,151.4 428.6,153.0 429.4,154.0 430.2,154.6 431.0,155.0 431.7,155.3 432.5,155.4 433.3,155.6" fill="none" stroke="#6cc08e" stroke-width="0.7" opacity="0.9"/>
<polyline points="422.4,157.3 423.2,157.2 424.0,157.2 424.7,157.2 425.5,157.1 426.3,157.0 427.1,156.8 427.8,156.6 428.6,156.8 429.4,157.0 430.2,157.1 431.0,157.2 431.7,157.2 432.5,157.2 433.3,157.3" fill="none" stroke="#38447a" stroke-width="0.75" opacity="0.9"/>
<polyline points="434.3,155.4 435.1,155.3 435.8,155.1 436.6,154.8 437.4,154.4 438.2,153.7 438.9,152.6 439.7,150.8 440.5,152.6 441.3,153.7 442.1,154.4 442.8,154.8 443.6,155.1 444.4,155.3 445.2,155.4" fill="none" stroke="#6cc08e" stroke-width="0.7" opacity="0.9"/>
<polyline points="434.3,157.3 435.1,157.2 435.8,157.2 436.6,157.2 437.4,157.1 438.2,157.0 438.9,156.8 439.7,156.6 440.5,156.8 441.3,157.0 442.1,157.1 442.8,157.2 443.6,157.2 444.4,157.2 445.2,157.3" fill="none" stroke="#38447a" stroke-width="0.75" opacity="0.9"/>
<polyline points="446.2,155.6 446.9,155.4 447.7,155.3 448.5,155.0 449.3,154.6 450.0,154.0 450.8,153.0 451.6,151.4 452.4,153.0 453.2,154.0 453.9,154.6 454.7,155.0 455.5,155.3 456.3,155.4 457.0,155.6" fill="none" stroke="#6cc08e" stroke-width="0.7" opacity="0.9"/>
<polyline points="446.2,157.3 446.9,157.2 447.7,157.2 448.5,157.2 449.3,157.1 450.0,157.0 450.8,156.8 451.6,156.6 452.4,156.8 453.2,157.0 453.9,157.1 454.7,157.2 455.5,157.2 456.3,157.2 457.0,157.3" fill="none" stroke="#38447a" stroke-width="0.75" opacity="0.9"/>
<polyline points="458.0,155.6 458.8,155.4 459.6,155.3 460.4,155.0 461.1,154.6 461.9,154.0 462.7,153.0 463.5,151.4 464.3,153.0 465.0,154.0 465.8,154.6 466.6,155.0 467.4,155.3 468.1,155.4 468.9,155.6" fill="none" stroke="#6cc08e" stroke-width="0.7" opacity="0.9"/>
<polyline points="458.0,157.3 458.8,157.2 459.6,157.2 460.4,157.2 461.1,157.1 461.9,157.0 462.7,156.8 463.5,156.6 464.3,156.8 465.0,157.0 465.8,157.1 466.6,157.2 467.4,157.2 468.1,157.2 468.9,157.3" fill="none" stroke="#38447a" stroke-width="0.75" opacity="0.9"/>
<polyline points="469.9,155.4 470.7,155.3 471.5,155.1 472.2,154.8 473.0,154.4 473.8,153.7 474.6,152.6 475.4,150.8 476.1,152.6 476.9,153.7 477.7,154.4 478.5,154.8 479.2,155.1 480.0,155.3 480.8,155.4" fill="none" stroke="#6cc08e" stroke-width="0.7" opacity="0.9"/>
<polyline points="469.9,157.3 470.7,157.2 471.5,157.2 472.2,157.2 473.0,157.1 473.8,157.0 474.6,156.8 475.4,156.6 476.1,156.8 476.9,157.0 477.7,157.1 478.5,157.2 479.2,157.2 480.0,157.2 480.8,157.3" fill="none" stroke="#38447a" stroke-width="0.75" opacity="0.9"/>
<rect x="278.85" y="146.90" width="1.1" height="12.40" fill="#a39d9d"/>
<rect x="290.73" y="146.90" width="1.1" height="12.40" fill="#a39d9d"/>
<rect x="302.60" y="146.90" width="1.1" height="12.40" fill="#a39d9d"/>
<rect x="314.48" y="146.90" width="1.1" height="12.40" fill="#a39d9d"/>
<rect x="326.35" y="146.90" width="1.1" height="12.40" fill="#a39d9d"/>
<rect x="338.23" y="146.90" width="1.1" height="12.40" fill="#a39d9d"/>
<rect x="350.11" y="146.90" width="1.1" height="12.40" fill="#a39d9d"/>
<rect x="361.98" y="146.90" width="1.1" height="12.40" fill="#a39d9d"/>
<rect x="373.86" y="146.90" width="1.1" height="12.40" fill="#a39d9d"/>
<rect x="385.73" y="146.90" width="1.1" height="12.40" fill="#a39d9d"/>
<rect x="397.61" y="146.90" width="1.1" height="12.40" fill="#a39d9d"/>
<rect x="409.49" y="146.90" width="1.1" height="12.40" fill="#a39d9d"/>
<rect x="421.36" y="146.90" width="1.1" height="12.40" fill="#a39d9d"/>
<rect x="433.24" y="146.90" width="1.1" height="12.40" fill="#a39d9d"/>
<rect x="445.11" y="146.90" width="1.1" height="12.40" fill="#a39d9d"/>
<rect x="456.99" y="146.90" width="1.1" height="12.40" fill="#a39d9d"/>
<rect x="468.87" y="146.90" width="1.1" height="12.40" fill="#a39d9d"/>
<rect x="480.74" y="146.90" width="1.1" height="12.40" fill="#a39d9d"/>
<rect x="279.40" y="158.40" width="201.89" height="0.9" fill="#a3aaa6"/>
<text x="277.10" y="149.20" font-size="5.0" text-anchor="end" fill="#333" font-weight="normal" font-style="normal" stroke="#333" stroke-width="0.1">6</text>
<text x="277.10" y="160.20" font-size="5.0" text-anchor="end" fill="#333" font-weight="normal" font-style="normal" stroke="#333" stroke-width="0.1">0</text>
<line x1="485.00" y1="148.45" x2="500.00" y2="148.45" stroke="#a4a8b0" stroke-width="1" stroke-dasharray="1.6 0.4 0.9 0.5 1.2 0.6"/>
<rect x="483.50" y="148.00" width="1.2" height="0.9" fill="#3b4a7a"/>
<line x1="487.00" y1="150.85" x2="500.00" y2="150.85" stroke="#a4a8b0" stroke-width="1" stroke-dasharray="1.6 0.4 0.9 0.5 1.2 0.6"/>
<line x1="485.00" y1="153.85" x2="500.00" y2="153.85" stroke="#a4a8b0" stroke-width="1" stroke-dasharray="1.6 0.4 0.9 0.5 1.2 0.6"/>
<rect x="483.50" y="153.40" width="1.2" height="0.9" fill="#66bb88"/>
<line x1="487.00" y1="156.35" x2="500.00" y2="156.35" stroke="#a4a8b0" stroke-width="1" stroke-dasharray="1.6 0.4 0.9 0.5 1.2 0.6"/>
<rect x="279.40" y="161.20" width="201.89" height="86.30" fill="rgb(246,245,251)"/>
<g clip-path="url(#cp213)"><g filter="url(#texmul)">
<g clip-path="url(#cc214)">
<polygon points="278.6,160.2 292.1,160.2 291.3,161.8 290.4,163.3 289.5,166.9 288.6,175.5 282.1,175.5 281.2,166.9 280.3,163.3 279.4,161.8" fill="url(#l215)" filter="url(#blur1)"/>
</g>
<g clip-path="url(#cc216)">
<polygon points="278.6,174.5 292.1,174.5 291.3,178.4 289.6,186.3 288.0,204.3 287.1,247.5 283.6,247.5 282.7,204.3 281.0,186.3 279.4,178.4" fill="url(#l217)" filter="url(#blur1)"/>
</g>
<g clip-path="url(#cc218)">
<polygon points="290.5,160.2 304.0,160.2 303.2,161.8 302.3,163.3 301.4,166.9 300.5,175.5 293.9,175.5 293.1,166.9 292.2,163.3 291.3,161.8" fill="url(#l219)" filter="url(#blur1)"/>
</g>
<g clip-path="url(#cc220)">
<polygon points="290.5,174.5 304.0,174.5 303.2,178.4 301.5,186.3 299.9,204.3 299.0,247.5 295.4,247.5 294.5,204.3 292.9,186.3 291.3,178.4" fill="url(#l221)" filter="url(#blur1)"/>
</g>
<g clip-path="url(#cc222)">
<polygon points="302.4,160.2 315.8,160.2 315.0,161.8 314.1,163.3 313.2,166.9 312.4,175.5 305.8,175.5 304.9,166.9 304.0,163.3 303.2,161.8" fill="url(#l223)" filter="url(#blur1)"/>
</g>
<g clip-path="url(#cc224)">
<polygon points="302.4,174.5 315.8,174.5 315.0,178.4 313.4,186.3 311.8,204.3 310.9,247.5 307.3,247.5 306.4,204.3 304.8,186.3 303.2,178.4" fill="url(#l225)" filter="url(#blur1)"/>
</g>
<g clip-path="url(#cc226)">
<polygon points="314.2,160.2 327.7,160.2 326.9,161.8 326.0,163.3 325.1,166.9 324.2,175.5 317.7,175.5 316.8,166.9 315.9,163.3 315.0,161.8" fill="url(#l227)" filter="url(#blur1)"/>
</g>
<g clip-path="url(#cc228)">
<polygon points="314.2,174.5 327.7,174.5 326.9,178.4 325.3,186.3 323.6,204.3 322.7,247.5 319.2,247.5 318.3,204.3 316.7,186.3 315.0,178.4" fill="url(#l229)" filter="url(#blur1)"/>
</g>
<g clip-path="url(#cc230)">
<polygon points="326.1,160.2 339.6,160.2 338.8,161.8 337.9,163.3 337.0,166.9 336.1,175.5 329.6,175.5 328.7,166.9 327.8,163.3 326.9,161.8" fill="url(#l231)" filter="url(#blur1)"/>
</g>
<g clip-path="url(#cc232)">
<polygon points="326.1,174.5 339.6,174.5 338.8,178.4 337.1,186.3 335.5,204.3 334.6,247.5 331.1,247.5 330.2,204.3 328.5,186.3 326.9,178.4" fill="url(#l233)" filter="url(#blur1)"/>
</g>
<g clip-path="url(#cc234)">
<polygon points="338.0,160.2 351.5,160.2 350.7,161.8 349.8,163.3 348.9,166.9 348.0,175.5 341.5,175.5 340.6,166.9 339.7,163.3 338.8,161.8" fill="url(#l235)" filter="url(#blur1)"/>
</g>
<g clip-path="url(#cc236)">
<polygon points="338.0,174.5 351.5,174.5 350.7,178.4 349.0,186.3 347.4,204.3 346.5,247.5 342.9,247.5 342.0,204.3 340.4,186.3 338.8,178.4" fill="url(#l237)" filter="url(#blur1)"/>
</g>
<g clip-path="url(#cc238)">
<polygon points="349.9,160.2 363.3,160.2 362.5,161.8 361.6,163.3 360.8,166.9 359.9,175.5 353.3,175.5 352.4,166.9 351.5,163.3 350.7,161.8" fill="url(#l223)" filter="url(#blur1)"/>
</g>
<g clip-path="url(#cc239)">
<polygon points="349.9,174.5 363.3,174.5 362.5,178.4 360.9,186.3 359.3,204.3 358.4,247.5 354.8,247.5 353.9,204.3 352.3,186.3 350.7,178.4" fill="url(#l225)" filter="url(#blur1)"/>
</g>
<g clip-path="url(#cc240)">
<polygon points="361.7,160.2 375.2,160.2 374.4,161.8 373.5,163.3 372.6,166.9 371.7,175.5 365.2,175.5 364.3,166.9 363.4,163.3 362.5,161.8" fill="url(#l219)" filter="url(#blur1)"/>
</g>
<g clip-path="url(#cc241)">
<polygon points="361.7,174.5 375.2,174.5 374.4,178.4 372.8,186.3 371.1,204.3 370.3,247.5 366.7,247.5 365.8,204.3 364.2,186.3 362.5,178.4" fill="url(#l221)" filter="url(#blur1)"/>
</g>
<g clip-path="url(#cc242)">
<polygon points="373.6,160.2 387.1,160.2 386.3,161.8 385.4,163.3 384.5,166.9 383.6,175.5 377.1,175.5 376.2,166.9 375.3,163.3 374.4,161.8" fill="url(#l223)" filter="url(#blur1)"/>
</g>
<g clip-path="url(#cc243)">
<polygon points="373.6,174.5 387.1,174.5 386.3,178.4 384.7,186.3 383.0,204.3 382.1,247.5 378.6,247.5 377.7,204.3 376.0,186.3 374.4,178.4" fill="url(#l225)" filter="url(#blur1)"/>
</g>
<g clip-path="url(#cc244)">
<polygon points="385.5,160.2 399.0,160.2 398.2,161.8 397.3,163.3 396.4,166.9 395.5,175.5 389.0,175.5 388.1,166.9 387.2,163.3 386.3,161.8" fill="url(#l219)" filter="url(#blur1)"/>
</g>
<g clip-path="url(#cc245)">
<polygon points="385.5,174.5 399.0,174.5 398.2,178.4 396.5,186.3 394.9,204.3 394.0,247.5 390.4,247.5 389.5,204.3 387.9,186.3 386.3,178.4" fill="url(#l221)" filter="url(#blur1)"/>
</g>
<g clip-path="url(#cc246)">
<polygon points="397.4,160.2 410.8,160.2 410.0,161.8 409.1,163.3 408.3,166.9 407.4,175.5 400.8,175.5 399.9,166.9 399.1,163.3 398.2,161.8" fill="url(#l247)" filter="url(#blur1)"/>
</g>
<g clip-path="url(#cc248)">
<polygon points="397.4,174.5 410.8,174.5 410.0,178.4 408.4,186.3 406.8,204.3 405.9,247.5 402.3,247.5 401.4,204.3 399.8,186.3 398.2,178.4" fill="url(#l249)" filter="url(#blur1)"/>
</g>
<g clip-path="url(#cc250)">
<polygon points="409.2,160.2 422.7,160.2 421.9,161.8 421.0,163.3 420.1,166.9 419.2,175.5 412.7,175.5 411.8,166.9 410.9,163.3 410.0,161.8" fill="url(#l235)" filter="url(#blur1)"/>
</g>
<g clip-path="url(#cc251)">
<polygon points="409.2,174.5 422.7,174.5 421.9,178.4 420.3,186.3 418.6,204.3 417.8,247.5 414.2,247.5 413.3,204.3 411.7,186.3 410.0,178.4" fill="url(#l237)" filter="url(#blur1)"/>
</g>
<g clip-path="url(#cc252)">
<polygon points="421.1,160.2 434.6,160.2 433.8,161.8 433.8,163.3 433.8,166.9 433.8,175.5 421.9,175.5 421.9,166.9 421.9,163.3 421.9,161.8" fill="url(#l253)" filter="url(#blur1)"/>
</g>
<g clip-path="url(#cc254)">
<polygon points="421.1,174.5 434.6,174.5 433.8,178.4 432.3,186.3 430.8,204.3 429.5,247.5 426.2,247.5 424.9,204.3 423.4,186.3 421.9,178.4" fill="url(#l255)" filter="url(#blur1)"/>
</g>
<g clip-path="url(#cc256)">
<polygon points="433.0,160.2 446.5,160.2 445.7,161.8 445.7,163.3 445.7,166.9 445.7,175.5 433.8,175.5 433.8,166.9 433.8,163.3 433.8,161.8" fill="url(#l253)" filter="url(#blur1)"/>
</g>
<g clip-path="url(#cc257)">
<polygon points="433.0,174.5 446.5,174.5 445.7,178.4 444.2,186.3 442.7,204.3 441.4,247.5 438.1,247.5 436.8,204.3 435.3,186.3 433.8,178.4" fill="url(#l258)" filter="url(#blur1)"/>
</g>
<g clip-path="url(#cc259)">
<polygon points="444.9,160.2 458.3,160.2 457.5,161.8 457.5,163.3 457.5,166.9 457.5,175.5 445.7,175.5 445.7,166.9 445.7,163.3 445.7,161.8" fill="url(#l253)" filter="url(#blur1)"/>
</g>
<g clip-path="url(#cc260)">
<polygon points="444.9,174.5 458.3,174.5 457.5,178.4 456.1,186.3 454.6,204.3 453.3,247.5 449.9,247.5 448.6,204.3 447.1,186.3 445.7,178.4" fill="url(#l255)" filter="url(#blur1)"/>
</g>
<g clip-path="url(#cc261)">
<polygon points="456.7,160.2 470.2,160.2 469.4,161.8 469.4,163.3 469.4,166.9 469.4,175.5 457.5,175.5 457.5,166.9 457.5,163.3 457.5,161.8" fill="url(#l253)" filter="url(#blur1)"/>
</g>
<g clip-path="url(#cc262)">
<polygon points="456.7,174.5 470.2,174.5 469.4,178.4 467.9,186.3 466.4,204.3 465.1,247.5 461.8,247.5 460.5,204.3 459.0,186.3 457.5,178.4" fill="url(#l255)" filter="url(#blur1)"/>
</g>
<g clip-path="url(#cc263)">
<polygon points="468.6,160.2 482.1,160.2 481.3,161.8 481.3,163.3 481.3,166.9 481.3,175.5 469.4,175.5 469.4,166.9 469.4,163.3 469.4,161.8" fill="url(#l253)" filter="url(#blur1)"/>
</g>
<g clip-path="url(#cc264)">
<polygon points="468.6,174.5 482.1,174.5 481.3,178.4 479.8,186.3 478.3,204.3 477.0,247.5 473.7,247.5 472.4,204.3 470.9,186.3 469.4,178.4" fill="url(#l258)" filter="url(#blur1)"/>
</g>
</g>
<rect x="279.40" y="161.20" width="11.88" height="1.3" fill="rgb(80,62,162)" opacity="0.19"/>
<rect x="279.40" y="175.50" width="11.88" height="1.3" fill="rgb(80,62,162)" opacity="0.11"/>
<rect x="291.28" y="161.20" width="11.88" height="1.3" fill="rgb(80,62,162)" opacity="0.37"/>
<rect x="291.28" y="175.50" width="11.88" height="1.3" fill="rgb(80,62,162)" opacity="0.21"/>
<rect x="303.15" y="161.20" width="11.88" height="1.3" fill="rgb(80,62,162)" opacity="0.39"/>
<rect x="303.15" y="175.50" width="11.88" height="1.3" fill="rgb(80,62,162)" opacity="0.22"/>
<rect x="315.03" y="161.20" width="11.88" height="1.3" fill="rgb(80,62,162)" opacity="0.35"/>
<rect x="315.03" y="175.50" width="11.88" height="1.3" fill="rgb(80,62,162)" opacity="0.20"/>
<rect x="326.90" y="161.20" width="11.88" height="1.3" fill="rgb(80,62,162)" opacity="0.42"/>
<rect x="326.90" y="175.50" width="11.88" height="1.3" fill="rgb(80,62,162)" opacity="0.24"/>
<rect x="338.78" y="161.20" width="11.88" height="1.3" fill="rgb(80,62,162)" opacity="0.32"/>
<rect x="338.78" y="175.50" width="11.88" height="1.3" fill="rgb(80,62,162)" opacity="0.18"/>
<rect x="350.66" y="161.20" width="11.88" height="1.3" fill="rgb(80,62,162)" opacity="0.39"/>
<rect x="350.66" y="175.50" width="11.88" height="1.3" fill="rgb(80,62,162)" opacity="0.22"/>
<rect x="362.53" y="161.20" width="11.88" height="1.3" fill="rgb(80,62,162)" opacity="0.37"/>
<rect x="362.53" y="175.50" width="11.88" height="1.3" fill="rgb(80,62,162)" opacity="0.21"/>
<rect x="374.41" y="161.20" width="11.88" height="1.3" fill="rgb(80,62,162)" opacity="0.39"/>
<rect x="374.41" y="175.50" width="11.88" height="1.3" fill="rgb(80,62,162)" opacity="0.22"/>
<rect x="386.28" y="161.20" width="11.88" height="1.3" fill="rgb(80,62,162)" opacity="0.37"/>
<rect x="386.28" y="175.50" width="11.88" height="1.3" fill="rgb(80,62,162)" opacity="0.21"/>
<rect x="398.16" y="161.20" width="11.88" height="1.3" fill="rgb(80,62,162)" opacity="0.33"/>
<rect x="398.16" y="175.50" width="11.88" height="1.3" fill="rgb(80,62,162)" opacity="0.19"/>
<rect x="410.04" y="161.20" width="11.88" height="1.3" fill="rgb(80,62,162)" opacity="0.32"/>
<rect x="410.04" y="175.50" width="11.88" height="1.3" fill="rgb(80,62,162)" opacity="0.18"/>
<rect x="421.91" y="161.20" width="11.88" height="1.3" fill="rgb(80,62,162)" opacity="0.08"/>
<rect x="421.91" y="175.50" width="11.88" height="1.3" fill="rgb(80,62,162)" opacity="0.85"/>
<rect x="433.79" y="161.20" width="11.88" height="1.3" fill="rgb(80,62,162)" opacity="0.08"/>
<rect x="433.79" y="175.50" width="11.88" height="1.3" fill="rgb(80,62,162)" opacity="0.89"/>
<rect x="445.66" y="161.20" width="11.88" height="1.3" fill="rgb(80,62,162)" opacity="0.08"/>
<rect x="445.66" y="175.50" width="11.88" height="1.3" fill="rgb(80,62,162)" opacity="0.85"/>
<rect x="457.54" y="161.20" width="11.88" height="1.3" fill="rgb(80,62,162)" opacity="0.08"/>
<rect x="457.54" y="175.50" width="11.88" height="1.3" fill="rgb(80,62,162)" opacity="0.85"/>
<rect x="469.42" y="161.20" width="11.88" height="1.3" fill="rgb(80,62,162)" opacity="0.08"/>
<rect x="469.42" y="175.50" width="11.88" height="1.3" fill="rgb(80,62,162)" opacity="0.89"/>
<rect x="278.90" y="161.20" width="1" height="86.30" fill="#c3c8d0"/>
<rect x="290.23" y="161.20" width="2.1" height="86.30" fill="#c3c8d0"/>
<rect x="290.73" y="161.20" width="1.1" height="86.30" fill="#f6f6f8"/>
<rect x="302.10" y="161.20" width="2.1" height="86.30" fill="#c3c8d0"/>
<rect x="302.60" y="161.20" width="1.1" height="86.30" fill="#f6f6f8"/>
<rect x="313.98" y="161.20" width="2.1" height="86.30" fill="#c3c8d0"/>
<rect x="314.48" y="161.20" width="1.1" height="86.30" fill="#f6f6f8"/>
<rect x="325.85" y="161.20" width="2.1" height="86.30" fill="#c3c8d0"/>
<rect x="326.35" y="161.20" width="1.1" height="86.30" fill="#f6f6f8"/>
<rect x="337.73" y="161.20" width="2.1" height="86.30" fill="#c3c8d0"/>
<rect x="338.23" y="161.20" width="1.1" height="86.30" fill="#f6f6f8"/>
<rect x="349.61" y="161.20" width="2.1" height="86.30" fill="#c3c8d0"/>
<rect x="350.11" y="161.20" width="1.1" height="86.30" fill="#f6f6f8"/>
<rect x="361.48" y="161.20" width="2.1" height="86.30" fill="#c3c8d0"/>
<rect x="361.98" y="161.20" width="1.1" height="86.30" fill="#f6f6f8"/>
<rect x="373.36" y="161.20" width="2.1" height="86.30" fill="#c3c8d0"/>
<rect x="373.86" y="161.20" width="1.1" height="86.30" fill="#f6f6f8"/>
<rect x="385.23" y="161.20" width="2.1" height="86.30" fill="#c3c8d0"/>
<rect x="385.73" y="161.20" width="1.1" height="86.30" fill="#f6f6f8"/>
<rect x="397.11" y="161.20" width="2.1" height="86.30" fill="#c3c8d0"/>
<rect x="397.61" y="161.20" width="1.1" height="86.30" fill="#f6f6f8"/>
<rect x="408.99" y="161.20" width="2.1" height="86.30" fill="#c3c8d0"/>
<rect x="409.49" y="161.20" width="1.1" height="86.30" fill="#f6f6f8"/>
<rect x="420.86" y="161.20" width="2.1" height="86.30" fill="#c3c8d0"/>
<rect x="421.36" y="161.20" width="1.1" height="86.30" fill="#f6f6f8"/>
<rect x="432.74" y="161.20" width="2.1" height="86.30" fill="#c3c8d0"/>
<rect x="433.24" y="161.20" width="1.1" height="86.30" fill="#f6f6f8"/>
<rect x="444.61" y="161.20" width="2.1" height="86.30" fill="#c3c8d0"/>
<rect x="445.11" y="161.20" width="1.1" height="86.30" fill="#f6f6f8"/>
<rect x="456.49" y="161.20" width="2.1" height="86.30" fill="#c3c8d0"/>
<rect x="456.99" y="161.20" width="1.1" height="86.30" fill="#f6f6f8"/>
<rect x="468.37" y="161.20" width="2.1" height="86.30" fill="#c3c8d0"/>
<rect x="468.87" y="161.20" width="1.1" height="86.30" fill="#f6f6f8"/>
<rect x="480.79" y="161.20" width="1" height="86.30" fill="#c3c8d0"/>
<rect x="279.40" y="175.00" width="201.89" height="0.8" fill="#7d8790" opacity="0.45"/>
</g>
<rect x="481.49" y="161.20" width="1.8" height="86.30" fill="url(#cb265)"/>
<text x="485.90" y="171.30" font-size="5.0" text-anchor="start" fill="#333" font-weight="normal" font-style="normal" stroke="#333" stroke-width="0.1">10</text>
<text x="485.90" y="186.94" font-size="5.0" text-anchor="start" fill="#333" font-weight="normal" font-style="normal" stroke="#333" stroke-width="0.1">8</text>
<text x="485.90" y="202.58" font-size="5.0" text-anchor="start" fill="#333" font-weight="normal" font-style="normal" stroke="#333" stroke-width="0.1">6</text>
<text x="485.90" y="218.22" font-size="5.0" text-anchor="start" fill="#333" font-weight="normal" font-style="normal" stroke="#333" stroke-width="0.1">4</text>
<text x="485.90" y="233.86" font-size="5.0" text-anchor="start" fill="#333" font-weight="normal" font-style="normal" stroke="#333" stroke-width="0.1">2</text>
<text x="485.90" y="249.50" font-size="5.0" text-anchor="start" fill="#333" font-weight="normal" font-style="normal" stroke="#333" stroke-width="0.1">0</text>
<text x="276.40" y="205.50" font-size="5.0" text-anchor="middle" fill="#333" font-weight="normal" font-style="normal" stroke="#333" stroke-width="0.1" transform="rotate(-90 276.40 205.50)">H3K27ac</text>
<rect x="492.40" y="163.60" width="6.40" height="0.8" fill="#222"/>
<path d="M490.40,164.00L494.00,162.50L493.40,164.00L494.00,165.50Z" fill="#111"/>
<rect x="492.40" y="218.90" width="6.40" height="0.8" fill="#222"/>
<path d="M490.40,219.30L494.00,217.80L493.40,219.30L494.00,220.80Z" fill="#111"/>
<text x="506.80" y="193.80" font-size="5.2" text-anchor="start" fill="#333" font-weight="normal" font-style="normal" stroke="#333" stroke-width="0.1" transform="rotate(-90 506.80 193.80)">H3K4me1/H3K27ac up</text>
<text x="511.90" y="193.80" font-size="5.2" text-anchor="start" fill="#333" font-weight="normal" font-style="normal" stroke="#333" stroke-width="0.1" transform="rotate(-90 511.90 193.80)">H3K9me3 down peaks</text>
<text x="506.80" y="256.00" font-size="5.2" text-anchor="start" fill="#333" font-weight="normal" font-style="normal" stroke="#333" stroke-width="0.1" transform="rotate(-90 506.80 256.00)">H3K4me1/H3K27ac down</text>
<text x="511.90" y="256.00" font-size="5.2" text-anchor="start" fill="#333" font-weight="normal" font-style="normal" stroke="#333" stroke-width="0.1" transform="rotate(-90 511.90 256.00)">H3K9me3 up peaks</text>
<rect x="279.40" y="252.40" width="201.89" height="12.00" fill="#fff"/>
<rect x="279.40" y="252.40" width="201.89" height="0.8" fill="#d9c9c9"/>
<polyline points="279.9,261.7 280.7,261.7 281.5,261.6 282.2,261.5 283.0,261.3 283.8,261.0 284.6,260.5 285.3,259.7 286.1,260.5 286.9,261.0 287.7,261.3 288.4,261.5 289.2,261.6 290.0,261.7 290.8,261.7" fill="none" stroke="#6cc08e" stroke-width="0.7" opacity="0.9"/>
<polyline points="279.9,262.2 280.7,262.2 281.5,262.1 282.2,262.1 283.0,262.0 283.8,261.8 284.6,261.6 285.3,261.2 286.1,261.6 286.9,261.8 287.7,262.0 288.4,262.1 289.2,262.1 290.0,262.2 290.8,262.2" fill="none" stroke="#38447a" stroke-width="0.75" opacity="0.9"/>
<polyline points="291.8,261.6 292.6,261.5 293.3,261.4 294.1,261.3 294.9,261.0 295.7,260.7 296.4,260.1 297.2,259.2 298.0,260.1 298.8,260.7 299.5,261.0 300.3,261.3 301.1,261.4 301.9,261.5 302.7,261.6" fill="none" stroke="#6cc08e" stroke-width="0.7" opacity="0.9"/>
<polyline points="291.8,262.2 292.6,262.2 293.3,262.1 294.1,262.1 294.9,262.0 295.7,261.8 296.4,261.6 297.2,261.2 298.0,261.6 298.8,261.8 299.5,262.0 300.3,262.1 301.1,262.1 301.9,262.2 302.7,262.2" fill="none" stroke="#38447a" stroke-width="0.75" opacity="0.9"/>
<polyline points="303.7,261.6 304.4,261.5 305.2,261.4 306.0,261.3 306.8,261.0 307.5,260.7 308.3,260.1 309.1,259.2 309.9,260.1 310.6,260.7 311.4,261.0 312.2,261.3 313.0,261.4 313.8,261.5 314.5,261.6" fill="none" stroke="#6cc08e" stroke-width="0.7" opacity="0.9"/>
<polyline points="303.7,262.2 304.4,262.2 305.2,262.1 306.0,262.1 306.8,262.0 307.5,261.8 308.3,261.6 309.1,261.2 309.9,261.6 310.6,261.8 311.4,262.0 312.2,262.1 313.0,262.1 313.8,262.2 314.5,262.2" fill="none" stroke="#38447a" stroke-width="0.75" opacity="0.9"/>
<polyline points="315.5,261.7 316.3,261.7 317.1,261.6 317.9,261.5 318.6,261.3 319.4,261.0 320.2,260.5 321.0,259.7 321.7,260.5 322.5,261.0 323.3,261.3 324.1,261.5 324.9,261.6 325.6,261.7 326.4,261.7" fill="none" stroke="#6cc08e" stroke-width="0.7" opacity="0.9"/>
<polyline points="315.5,262.2 316.3,262.2 317.1,262.1 317.9,262.1 318.6,262.0 319.4,261.8 320.2,261.6 321.0,261.2 321.7,261.6 322.5,261.8 323.3,262.0 324.1,262.1 324.9,262.1 325.6,262.2 326.4,262.2" fill="none" stroke="#38447a" stroke-width="0.75" opacity="0.9"/>
<polyline points="327.4,261.6 328.2,261.5 329.0,261.4 329.7,261.3 330.5,261.0 331.3,260.7 332.1,260.1 332.8,259.2 333.6,260.1 334.4,260.7 335.2,261.0 335.9,261.3 336.7,261.4 337.5,261.5 338.3,261.6" fill="none" stroke="#6cc08e" stroke-width="0.7" opacity="0.9"/>
<polyline points="327.4,262.2 328.2,262.2 329.0,262.1 329.7,262.1 330.5,262.0 331.3,261.8 332.1,261.6 332.8,261.2 333.6,261.6 334.4,261.8 335.2,262.0 335.9,262.1 336.7,262.1 337.5,262.2 338.3,262.2" fill="none" stroke="#38447a" stroke-width="0.75" opacity="0.9"/>
<polyline points="339.3,261.4 340.1,261.3 340.8,261.2 341.6,261.1 342.4,260.8 343.2,260.4 343.9,259.7 344.7,258.7 345.5,259.7 346.3,260.4 347.0,260.8 347.8,261.1 348.6,261.2 349.4,261.3 350.2,261.4" fill="none" stroke="#6cc08e" stroke-width="0.7" opacity="0.9"/>
<polyline points="339.3,262.2 340.1,262.2 340.8,262.1 341.6,262.1 342.4,262.0 343.2,261.8 343.9,261.6 344.7,261.2 345.5,261.6 346.3,261.8 347.0,262.0 347.8,262.1 348.6,262.1 349.4,262.2 350.2,262.2" fill="none" stroke="#38447a" stroke-width="0.75" opacity="0.9"/>
<polyline points="351.2,261.1 351.9,261.0 352.7,260.8 353.5,260.6 354.3,260.3 355.0,259.8 355.8,259.0 356.6,257.7 357.4,259.0 358.1,259.8 358.9,260.3 359.7,260.6 360.5,260.8 361.3,261.0 362.0,261.1" fill="none" stroke="#6cc08e" stroke-width="0.7" opacity="0.9"/>
<polyline points="351.2,262.2 351.9,262.2 352.7,262.1 353.5,262.1 354.3,262.0 355.0,261.8 355.8,261.6 356.6,261.2 357.4,261.6 358.1,261.8 358.9,262.0 359.7,262.1 360.5,262.1 361.3,262.2 362.0,262.2" fill="none" stroke="#38447a" stroke-width="0.75" opacity="0.9"/>
<polyline points="363.0,261.2 363.8,261.1 364.6,261.0 365.4,260.8 366.1,260.6 366.9,260.1 367.7,259.4 368.5,258.2 369.2,259.4 370.0,260.1 370.8,260.6 371.6,260.8 372.4,261.0 373.1,261.1 373.9,261.2" fill="none" stroke="#6cc08e" stroke-width="0.7" opacity="0.9"/>
<polyline points="363.0,262.2 363.8,262.2 364.6,262.1 365.4,262.1 366.1,262.0 366.9,261.8 367.7,261.6 368.5,261.2 369.2,261.6 370.0,261.8 370.8,262.0 371.6,262.1 372.4,262.1 373.1,262.2 373.9,262.2" fill="none" stroke="#38447a" stroke-width="0.75" opacity="0.9"/>
<polyline points="374.9,261.4 375.7,261.3 376.5,261.2 377.2,261.1 378.0,260.8 378.8,260.4 379.6,259.7 380.3,258.7 381.1,259.7 381.9,260.4 382.7,260.8 383.5,261.1 384.2,261.2 385.0,261.3 385.8,261.4" fill="none" stroke="#6cc08e" stroke-width="0.7" opacity="0.9"/>
<polyline points="374.9,262.2 375.7,262.2 376.5,262.1 377.2,262.1 378.0,262.0 378.8,261.8 379.6,261.6 380.3,261.2 381.1,261.6 381.9,261.8 382.7,262.0 383.5,262.1 384.2,262.1 385.0,262.2 385.8,262.2" fill="none" stroke="#38447a" stroke-width="0.75" opacity="0.9"/>
<polyline points="386.8,261.4 387.6,261.3 388.3,261.2 389.1,261.1 389.9,260.8 390.7,260.4 391.4,259.7 392.2,258.7 393.0,259.7 393.8,260.4 394.6,260.8 395.3,261.1 396.1,261.2 396.9,261.3 397.7,261.4" fill="none" stroke="#6cc08e" stroke-width="0.7" opacity="0.9"/>
<polyline points="386.8,262.2 387.6,262.2 388.3,262.1 389.1,262.1 389.9,262.0 390.7,261.8 391.4,261.6 392.2,261.2 393.0,261.6 393.8,261.8 394.6,262.0 395.3,262.1 396.1,262.1 396.9,262.2 397.7,262.2" fill="none" stroke="#38447a" stroke-width="0.75" opacity="0.9"/>
<polyline points="398.7,260.7 399.4,260.6 400.2,260.5 401.0,260.2 401.8,259.8 402.5,259.2 403.3,258.2 404.1,256.7 404.9,258.2 405.7,259.2 406.4,259.8 407.2,260.2 408.0,260.5 408.8,260.6 409.5,260.7" fill="none" stroke="#6cc08e" stroke-width="0.7" opacity="0.9"/>
<polyline points="398.7,262.2 399.4,262.2 400.2,262.1 401.0,262.1 401.8,262.0 402.5,261.8 403.3,261.6 404.1,261.2 404.9,261.6 405.7,261.8 406.4,262.0 407.2,262.1 408.0,262.1 408.8,262.2 409.5,262.2" fill="none" stroke="#38447a" stroke-width="0.75" opacity="0.9"/>
<polyline points="410.5,261.1 411.3,261.0 412.1,260.8 412.9,260.6 413.6,260.3 414.4,259.8 415.2,259.0 416.0,257.7 416.8,259.0 417.5,259.8 418.3,260.3 419.1,260.6 419.9,260.8 420.6,261.0 421.4,261.1" fill="none" stroke="#6cc08e" stroke-width="0.7" opacity="0.9"/>
<polyline points="410.5,262.2 411.3,262.2 412.1,262.1 412.9,262.1 413.6,262.0 414.4,261.8 415.2,261.6 416.0,261.2 416.8,261.6 417.5,261.8 418.3,262.0 419.1,262.1 419.9,262.1 420.6,262.2 421.4,262.2" fill="none" stroke="#38447a" stroke-width="0.75" opacity="0.9"/>
<polyline points="422.4,262.4 423.2,262.4 424.0,262.3 424.7,262.3 425.5,262.2 426.3,262.1 427.1,262.0 427.8,261.7 428.6,262.0 429.4,262.1 430.2,262.2 431.0,262.3 431.7,262.3 432.5,262.4 433.3,262.4" fill="none" stroke="#6cc08e" stroke-width="0.7" opacity="0.9"/>
<polyline points="422.4,261.2 423.2,261.1 424.0,261.0 424.7,260.8 425.5,260.6 426.3,260.1 427.1,259.4 427.8,258.2 428.6,259.4 429.4,260.1 430.2,260.6 431.0,260.8 431.7,261.0 432.5,261.1 433.3,261.2" fill="none" stroke="#38447a" stroke-width="0.75" opacity="0.9"/>
<polyline points="434.3,262.4 435.1,262.4 435.8,262.3 436.6,262.3 437.4,262.2 438.2,262.1 438.9,262.0 439.7,261.7 440.5,262.0 441.3,262.1 442.1,262.2 442.8,262.3 443.6,262.3 444.4,262.4 445.2,262.4" fill="none" stroke="#6cc08e" stroke-width="0.7" opacity="0.9"/>
<polyline points="434.3,261.2 435.1,261.1 435.8,261.0 436.6,260.8 437.4,260.6 438.2,260.1 438.9,259.4 439.7,258.2 440.5,259.4 441.3,260.1 442.1,260.6 442.8,260.8 443.6,261.0 444.4,261.1 445.2,261.2" fill="none" stroke="#38447a" stroke-width="0.75" opacity="0.9"/>
<polyline points="446.2,262.4 446.9,262.4 447.7,262.3 448.5,262.3 449.3,262.2 450.0,262.1 450.8,262.0 451.6,261.7 452.4,262.0 453.2,262.1 453.9,262.2 454.7,262.3 455.5,262.3 456.3,262.4 457.0,262.4" fill="none" stroke="#6cc08e" stroke-width="0.7" opacity="0.9"/>
<polyline points="446.2,261.2 446.9,261.1 447.7,261.0 448.5,260.8 449.3,260.6 450.0,260.1 450.8,259.4 451.6,258.2 452.4,259.4 453.2,260.1 453.9,260.6 454.7,260.8 455.5,261.0 456.3,261.1 457.0,261.2" fill="none" stroke="#38447a" stroke-width="0.75" opacity="0.9"/>
<polyline points="458.0,262.4 458.8,262.4 459.6,262.3 460.4,262.3 461.1,262.2 461.9,262.1 462.7,262.0 463.5,261.7 464.3,262.0 465.0,262.1 465.8,262.2 466.6,262.3 467.4,262.3 468.1,262.4 468.9,262.4" fill="none" stroke="#6cc08e" stroke-width="0.7" opacity="0.9"/>
<polyline points="458.0,261.1 458.8,261.0 459.6,260.8 460.4,260.6 461.1,260.3 461.9,259.8 462.7,259.0 463.5,257.7 464.3,259.0 465.0,259.8 465.8,260.3 466.6,260.6 467.4,260.8 468.1,261.0 468.9,261.1" fill="none" stroke="#38447a" stroke-width="0.75" opacity="0.9"/>
<polyline points="469.9,262.4 470.7,262.4 471.5,262.3 472.2,262.3 473.0,262.2 473.8,262.1 474.6,262.0 475.4,261.7 476.1,262.0 476.9,262.1 477.7,262.2 478.5,262.3 479.2,262.3 480.0,262.4 480.8,262.4" fill="none" stroke="#6cc08e" stroke-width="0.7" opacity="0.9"/>
<polyline points="469.9,261.2 470.7,261.1 471.5,261.0 472.2,260.8 473.0,260.6 473.8,260.1 474.6,259.4 475.4,258.2 476.1,259.4 476.9,260.1 477.7,260.6 478.5,260.8 479.2,261.0 480.0,261.1 480.8,261.2" fill="none" stroke="#38447a" stroke-width="0.75" opacity="0.9"/>
<rect x="278.85" y="252.40" width="1.1" height="12.00" fill="#a39d9d"/>
<rect x="290.73" y="252.40" width="1.1" height="12.00" fill="#a39d9d"/>
<rect x="302.60" y="252.40" width="1.1" height="12.00" fill="#a39d9d"/>
<rect x="314.48" y="252.40" width="1.1" height="12.00" fill="#a39d9d"/>
<rect x="326.35" y="252.40" width="1.1" height="12.00" fill="#a39d9d"/>
<rect x="338.23" y="252.40" width="1.1" height="12.00" fill="#a39d9d"/>
<rect x="350.11" y="252.40" width="1.1" height="12.00" fill="#a39d9d"/>
<rect x="361.98" y="252.40" width="1.1" height="12.00" fill="#a39d9d"/>
<rect x="373.86" y="252.40" width="1.1" height="12.00" fill="#a39d9d"/>
<rect x="385.73" y="252.40" width="1.1" height="12.00" fill="#a39d9d"/>
<rect x="397.61" y="252.40" width="1.1" height="12.00" fill="#a39d9d"/>
<rect x="409.49" y="252.40" width="1.1" height="12.00" fill="#a39d9d"/>
<rect x="421.36" y="252.40" width="1.1" height="12.00" fill="#a39d9d"/>
<rect x="433.24" y="252.40" width="1.1" height="12.00" fill="#a39d9d"/>
<rect x="445.11" y="252.40" width="1.1" height="12.00" fill="#a39d9d"/>
<rect x="456.99" y="252.40" width="1.1" height="12.00" fill="#a39d9d"/>
<rect x="468.87" y="252.40" width="1.1" height="12.00" fill="#a39d9d"/>
<rect x="480.74" y="252.40" width="1.1" height="12.00" fill="#a39d9d"/>
<rect x="279.40" y="263.50" width="201.89" height="0.9" fill="#a3aaa6"/>
<text x="277.10" y="254.70" font-size="5.0" text-anchor="end" fill="#333" font-weight="normal" font-style="normal" stroke="#333" stroke-width="0.1">6</text>
<text x="277.10" y="265.30" font-size="5.0" text-anchor="end" fill="#333" font-weight="normal" font-style="normal" stroke="#333" stroke-width="0.1">0</text>
<line x1="485.00" y1="253.95" x2="500.00" y2="253.95" stroke="#a4a8b0" stroke-width="1" stroke-dasharray="1.6 0.4 0.9 0.5 1.2 0.6"/>
<rect x="483.50" y="253.50" width="1.2" height="0.9" fill="#3b4a7a"/>
<line x1="487.00" y1="256.35" x2="500.00" y2="256.35" stroke="#a4a8b0" stroke-width="1" stroke-dasharray="1.6 0.4 0.9 0.5 1.2 0.6"/>
<line x1="485.00" y1="259.35" x2="500.00" y2="259.35" stroke="#a4a8b0" stroke-width="1" stroke-dasharray="1.6 0.4 0.9 0.5 1.2 0.6"/>
<rect x="483.50" y="258.90" width="1.2" height="0.9" fill="#66bb88"/>
<line x1="487.00" y1="261.85" x2="500.00" y2="261.85" stroke="#a4a8b0" stroke-width="1" stroke-dasharray="1.6 0.4 0.9 0.5 1.2 0.6"/>
<rect x="279.40" y="266.40" width="201.89" height="86.10" fill="rgb(236,245,238)"/>
<g clip-path="url(#cp266)"><g filter="url(#texmul)">
<g clip-path="url(#cc267)">
<polygon points="278.6,265.4 292.1,265.4 291.3,267.0 291.3,268.5 291.3,272.0 291.3,280.5 279.4,280.5 279.4,272.0 279.4,268.5 279.4,267.0" fill="url(#l268)" filter="url(#blur1)"/>
</g>
<g clip-path="url(#cc269)">
<polygon points="278.6,279.5 292.1,279.5 291.3,283.4 289.8,291.3 288.3,309.3 287.4,352.5 283.3,352.5 282.4,309.3 280.9,291.3 279.4,283.4" fill="url(#l270)" filter="url(#blur1)"/>
</g>
<g clip-path="url(#cc271)">
<polygon points="290.5,265.4 304.0,265.4 303.2,267.0 303.2,268.5 303.2,272.0 303.2,280.5 291.3,280.5 291.3,272.0 291.3,268.5 291.3,267.0" fill="url(#l272)" filter="url(#blur1)"/>
</g>
<g clip-path="url(#cc273)">
<polygon points="290.5,279.5 304.0,279.5 303.2,283.4 301.7,291.3 300.2,309.3 299.3,352.5 295.1,352.5 294.2,309.3 292.8,291.3 291.3,283.4" fill="url(#l274)" filter="url(#blur1)"/>
</g>
<g clip-path="url(#cc275)">
<polygon points="302.4,265.4 315.8,265.4 315.0,267.0 315.0,268.5 315.0,272.0 315.0,280.5 303.2,280.5 303.2,272.0 303.2,268.5 303.2,267.0" fill="url(#l276)" filter="url(#blur1)"/>
</g>
<g clip-path="url(#cc277)">
<polygon points="302.4,279.5 315.8,279.5 315.0,283.4 313.5,291.3 312.1,309.3 311.2,352.5 307.0,352.5 306.1,309.3 304.6,291.3 303.2,283.4" fill="url(#l278)" filter="url(#blur1)"/>
</g>
<g clip-path="url(#cc279)">
<polygon points="314.2,265.4 327.7,265.4 326.9,267.0 326.9,268.5 326.9,272.0 326.9,280.5 315.0,280.5 315.0,272.0 315.0,268.5 315.0,267.0" fill="url(#l268)" filter="url(#blur1)"/>
</g>
<g clip-path="url(#cc280)">
<polygon points="314.2,279.5 327.7,279.5 326.9,283.4 325.4,291.3 323.9,309.3 323.0,352.5 318.9,352.5 318.0,309.3 316.5,291.3 315.0,283.4" fill="url(#l270)" filter="url(#blur1)"/>
</g>
<g clip-path="url(#cc281)">
<polygon points="326.1,265.4 339.6,265.4 338.8,267.0 338.8,268.5 338.8,272.0 338.8,280.5 326.9,280.5 326.9,272.0 326.9,268.5 326.9,267.0" fill="url(#l282)" filter="url(#blur1)"/>
</g>
<g clip-path="url(#cc283)">
<polygon points="326.1,279.5 339.6,279.5 338.8,283.4 337.3,291.3 335.8,309.3 334.9,352.5 330.8,352.5 329.9,309.3 328.4,291.3 326.9,283.4" fill="url(#l284)" filter="url(#blur1)"/>
</g>
<g clip-path="url(#cc285)">
<polygon points="338.0,265.4 351.5,265.4 350.7,267.0 350.7,268.5 350.7,272.0 350.7,280.5 338.8,280.5 338.8,272.0 338.8,268.5 338.8,267.0" fill="url(#l276)" filter="url(#blur1)"/>
</g>
<g clip-path="url(#cc286)">
<polygon points="338.0,279.5 351.5,279.5 350.7,283.4 349.2,291.3 347.7,309.3 346.8,352.5 342.6,352.5 341.7,309.3 340.3,291.3 338.8,283.4" fill="url(#l278)" filter="url(#blur1)"/>
</g>
<g clip-path="url(#cc287)">
<polygon points="349.9,265.4 363.3,265.4 362.5,267.0 362.5,268.5 362.5,272.0 362.5,280.5 350.7,280.5 350.7,272.0 350.7,268.5 350.7,267.0" fill="url(#l288)" filter="url(#blur1)"/>
</g>
<g clip-path="url(#cc289)">
<polygon points="349.9,279.5 363.3,279.5 362.5,283.4 361.0,291.3 359.6,309.3 358.7,352.5 354.5,352.5 353.6,309.3 352.1,291.3 350.7,283.4" fill="url(#l290)" filter="url(#blur1)"/>
</g>
<g clip-path="url(#cc291)">
<polygon points="361.7,265.4 375.2,265.4 374.4,267.0 374.4,268.5 374.4,272.0 374.4,280.5 362.5,280.5 362.5,272.0 362.5,268.5 362.5,267.0" fill="url(#l292)" filter="url(#blur1)"/>
</g>
<g clip-path="url(#cc293)">
<polygon points="361.7,279.5 375.2,279.5 374.4,283.4 372.9,291.3 371.4,309.3 370.5,352.5 366.4,352.5 365.5,309.3 364.0,291.3 362.5,283.4" fill="url(#l294)" filter="url(#blur1)"/>
</g>
<g clip-path="url(#cc295)">
<polygon points="373.6,265.4 387.1,265.4 386.3,267.0 386.3,268.5 386.3,272.0 386.3,280.5 374.4,280.5 374.4,272.0 374.4,268.5 374.4,267.0" fill="url(#l268)" filter="url(#blur1)"/>
</g>
<g clip-path="url(#cc296)">
<polygon points="373.6,279.5 387.1,279.5 386.3,283.4 384.8,291.3 383.3,309.3 382.4,352.5 378.3,352.5 377.4,309.3 375.9,291.3 374.4,283.4" fill="url(#l270)" filter="url(#blur1)"/>
</g>
<g clip-path="url(#cc297)">
<polygon points="385.5,265.4 399.0,265.4 398.2,267.0 398.2,268.5 398.2,272.0 398.2,280.5 386.3,280.5 386.3,272.0 386.3,268.5 386.3,267.0" fill="url(#l282)" filter="url(#blur1)"/>
</g>
<g clip-path="url(#cc298)">
<polygon points="385.5,279.5 399.0,279.5 398.2,283.4 396.7,291.3 395.2,309.3 394.3,352.5 390.1,352.5 389.3,309.3 387.8,291.3 386.3,283.4" fill="url(#l284)" filter="url(#blur1)"/>
</g>
<g clip-path="url(#cc299)">
<polygon points="397.4,265.4 410.8,265.4 410.0,267.0 410.0,268.5 410.0,272.0 410.0,280.5 398.2,280.5 398.2,272.0 398.2,268.5 398.2,267.0" fill="url(#l288)" filter="url(#blur1)"/>
</g>
<g clip-path="url(#cc300)">
<polygon points="397.4,279.5 410.8,279.5 410.0,283.4 408.6,291.3 407.1,309.3 406.2,352.5 402.0,352.5 401.1,309.3 399.6,291.3 398.2,283.4" fill="url(#l290)" filter="url(#blur1)"/>
</g>
<g clip-path="url(#cc301)">
<polygon points="409.2,265.4 422.7,265.4 421.9,267.0 421.9,268.5 421.9,272.0 421.9,280.5 410.0,280.5 410.0,272.0 410.0,268.5 410.0,267.0" fill="url(#l302)" filter="url(#blur1)"/>
</g>
<g clip-path="url(#cc303)">
<polygon points="409.2,279.5 422.7,279.5 421.9,283.4 420.4,291.3 418.9,309.3 418.1,352.5 413.9,352.5 413.0,309.3 411.5,291.3 410.0,283.4" fill="url(#l304)" filter="url(#blur1)"/>
</g>
<g clip-path="url(#cc305)">
<polygon points="421.1,265.4 434.6,265.4 433.8,267.0 433.8,268.5 433.8,272.0 433.8,280.5 421.9,280.5 421.9,272.0 421.9,268.5 421.9,267.0" fill="url(#l306)" filter="url(#blur1)"/>
</g>
<g clip-path="url(#cc307)">
<polygon points="421.1,279.5 434.6,279.5 433.8,283.4 433.8,291.3 433.8,309.3 433.8,352.5 421.9,352.5 421.9,309.3 421.9,291.3 421.9,283.4" fill="url(#l308)" filter="url(#blur1)"/>
</g>
<g clip-path="url(#cc309)">
<polygon points="433.0,265.4 446.5,265.4 445.7,267.0 445.7,268.5 445.7,272.0 445.7,280.5 433.8,280.5 433.8,272.0 433.8,268.5 433.8,267.0" fill="url(#l306)" filter="url(#blur1)"/>
</g>
<g clip-path="url(#cc310)">
<polygon points="433.0,279.5 446.5,279.5 445.7,283.4 445.7,291.3 445.7,309.3 445.7,352.5 433.8,352.5 433.8,309.3 433.8,291.3 433.8,283.4" fill="url(#l308)" filter="url(#blur1)"/>
</g>
<g clip-path="url(#cc311)">
<polygon points="444.9,265.4 458.3,265.4 457.5,267.0 457.5,268.5 457.5,272.0 457.5,280.5 445.7,280.5 445.7,272.0 445.7,268.5 445.7,267.0" fill="url(#l306)" filter="url(#blur1)"/>
</g>
<g clip-path="url(#cc312)">
<polygon points="444.9,279.5 458.3,279.5 457.5,283.4 457.5,291.3 457.5,309.3 457.5,352.5 445.7,352.5 445.7,309.3 445.7,291.3 445.7,283.4" fill="url(#l308)" filter="url(#blur1)"/>
</g>
<g clip-path="url(#cc313)">
<polygon points="456.7,265.4 470.2,265.4 469.4,267.0 469.4,268.5 469.4,272.0 469.4,280.5 457.5,280.5 457.5,272.0 457.5,268.5 457.5,267.0" fill="url(#l306)" filter="url(#blur1)"/>
</g>
<g clip-path="url(#cc314)">
<polygon points="456.7,279.5 470.2,279.5 469.4,283.4 469.4,291.3 469.4,309.3 469.4,352.5 457.5,352.5 457.5,309.3 457.5,291.3 457.5,283.4" fill="url(#l308)" filter="url(#blur1)"/>
</g>
<g clip-path="url(#cc315)">
<polygon points="468.6,265.4 482.1,265.4 481.3,267.0 481.3,268.5 481.3,272.0 481.3,280.5 469.4,280.5 469.4,272.0 469.4,268.5 469.4,267.0" fill="url(#l306)" filter="url(#blur1)"/>
</g>
<g clip-path="url(#cc316)">
<polygon points="468.6,279.5 482.1,279.5 481.3,283.4 481.3,291.3 481.3,309.3 481.3,352.5 469.4,352.5 469.4,309.3 469.4,291.3 469.4,283.4" fill="url(#l308)" filter="url(#blur1)"/>
</g>
</g>
<rect x="279.40" y="266.40" width="11.88" height="1.3" fill="rgb(45,138,82)" opacity="0.16"/>
<rect x="279.40" y="280.50" width="11.88" height="1.3" fill="rgb(45,138,82)" opacity="0.60"/>
<rect x="291.28" y="266.40" width="11.88" height="1.3" fill="rgb(45,138,82)" opacity="0.15"/>
<rect x="291.28" y="280.50" width="11.88" height="1.3" fill="rgb(45,138,82)" opacity="0.56"/>
<rect x="303.15" y="266.40" width="11.88" height="1.3" fill="rgb(45,138,82)" opacity="0.17"/>
<rect x="303.15" y="280.50" width="11.88" height="1.3" fill="rgb(45,138,82)" opacity="0.64"/>
<rect x="315.03" y="266.40" width="11.88" height="1.3" fill="rgb(45,138,82)" opacity="0.16"/>
<rect x="315.03" y="280.50" width="11.88" height="1.3" fill="rgb(45,138,82)" opacity="0.60"/>
<rect x="326.90" y="266.40" width="11.88" height="1.3" fill="rgb(45,138,82)" opacity="0.20"/>
<rect x="326.90" y="280.50" width="11.88" height="1.3" fill="rgb(45,138,82)" opacity="0.75"/>
<rect x="338.78" y="266.40" width="11.88" height="1.3" fill="rgb(45,138,82)" opacity="0.17"/>
<rect x="338.78" y="280.50" width="11.88" height="1.3" fill="rgb(45,138,82)" opacity="0.64"/>
<rect x="350.66" y="266.40" width="11.88" height="1.3" fill="rgb(45,138,82)" opacity="0.22"/>
<rect x="350.66" y="280.50" width="11.88" height="1.3" fill="rgb(45,138,82)" opacity="0.83"/>
<rect x="362.53" y="266.40" width="11.88" height="1.3" fill="rgb(45,138,82)" opacity="0.23"/>
<rect x="362.53" y="280.50" width="11.88" height="1.3" fill="rgb(45,138,82)" opacity="0.86"/>
<rect x="374.41" y="266.40" width="11.88" height="1.3" fill="rgb(45,138,82)" opacity="0.16"/>
<rect x="374.41" y="280.50" width="11.88" height="1.3" fill="rgb(45,138,82)" opacity="0.60"/>
<rect x="386.28" y="266.40" width="11.88" height="1.3" fill="rgb(45,138,82)" opacity="0.20"/>
<rect x="386.28" y="280.50" width="11.88" height="1.3" fill="rgb(45,138,82)" opacity="0.75"/>
<rect x="398.16" y="266.40" width="11.88" height="1.3" fill="rgb(45,138,82)" opacity="0.22"/>
<rect x="398.16" y="280.50" width="11.88" height="1.3" fill="rgb(45,138,82)" opacity="0.83"/>
<rect x="410.04" y="266.40" width="11.88" height="1.3" fill="rgb(45,138,82)" opacity="0.18"/>
<rect x="410.04" y="280.50" width="11.88" height="1.3" fill="rgb(45,138,82)" opacity="0.68"/>
<rect x="421.91" y="266.40" width="11.88" height="1.3" fill="rgb(45,138,82)" opacity="0.25"/>
<rect x="421.91" y="280.50" width="11.88" height="1.3" fill="rgb(45,138,82)" opacity="0.20"/>
<rect x="433.79" y="266.40" width="11.88" height="1.3" fill="rgb(45,138,82)" opacity="0.25"/>
<rect x="433.79" y="280.50" width="11.88" height="1.3" fill="rgb(45,138,82)" opacity="0.20"/>
<rect x="445.66" y="266.40" width="11.88" height="1.3" fill="rgb(45,138,82)" opacity="0.25"/>
<rect x="445.66" y="280.50" width="11.88" height="1.3" fill="rgb(45,138,82)" opacity="0.20"/>
<rect x="457.54" y="266.40" width="11.88" height="1.3" fill="rgb(45,138,82)" opacity="0.25"/>
<rect x="457.54" y="280.50" width="11.88" height="1.3" fill="rgb(45,138,82)" opacity="0.20"/>
<rect x="469.42" y="266.40" width="11.88" height="1.3" fill="rgb(45,138,82)" opacity="0.25"/>
<rect x="469.42" y="280.50" width="11.88" height="1.3" fill="rgb(45,138,82)" opacity="0.20"/>
<rect x="278.90" y="266.40" width="1" height="86.10" fill="#c3c8d0"/>
<rect x="290.23" y="266.40" width="2.1" height="86.10" fill="#c3c8d0"/>
<rect x="290.73" y="266.40" width="1.1" height="86.10" fill="#f6f6f8"/>
<rect x="302.10" y="266.40" width="2.1" height="86.10" fill="#c3c8d0"/>
<rect x="302.60" y="266.40" width="1.1" height="86.10" fill="#f6f6f8"/>
<rect x="313.98" y="266.40" width="2.1" height="86.10" fill="#c3c8d0"/>
<rect x="314.48" y="266.40" width="1.1" height="86.10" fill="#f6f6f8"/>
<rect x="325.85" y="266.40" width="2.1" height="86.10" fill="#c3c8d0"/>
<rect x="326.35" y="266.40" width="1.1" height="86.10" fill="#f6f6f8"/>
<rect x="337.73" y="266.40" width="2.1" height="86.10" fill="#c3c8d0"/>
<rect x="338.23" y="266.40" width="1.1" height="86.10" fill="#f6f6f8"/>
<rect x="349.61" y="266.40" width="2.1" height="86.10" fill="#c3c8d0"/>
<rect x="350.11" y="266.40" width="1.1" height="86.10" fill="#f6f6f8"/>
<rect x="361.48" y="266.40" width="2.1" height="86.10" fill="#c3c8d0"/>
<rect x="361.98" y="266.40" width="1.1" height="86.10" fill="#f6f6f8"/>
<rect x="373.36" y="266.40" width="2.1" height="86.10" fill="#c3c8d0"/>
<rect x="373.86" y="266.40" width="1.1" height="86.10" fill="#f6f6f8"/>
<rect x="385.23" y="266.40" width="2.1" height="86.10" fill="#c3c8d0"/>
<rect x="385.73" y="266.40" width="1.1" height="86.10" fill="#f6f6f8"/>
<rect x="397.11" y="266.40" width="2.1" height="86.10" fill="#c3c8d0"/>
<rect x="397.61" y="266.40" width="1.1" height="86.10" fill="#f6f6f8"/>
<rect x="408.99" y="266.40" width="2.1" height="86.10" fill="#c3c8d0"/>
<rect x="409.49" y="266.40" width="1.1" height="86.10" fill="#f6f6f8"/>
<rect x="420.86" y="266.40" width="2.1" height="86.10" fill="#c3c8d0"/>
<rect x="421.36" y="266.40" width="1.1" height="86.10" fill="#f6f6f8"/>
<rect x="432.74" y="266.40" width="2.1" height="86.10" fill="#c3c8d0"/>
<rect x="433.24" y="266.40" width="1.1" height="86.10" fill="#f6f6f8"/>
<rect x="444.61" y="266.40" width="2.1" height="86.10" fill="#c3c8d0"/>
<rect x="445.11" y="266.40" width="1.1" height="86.10" fill="#f6f6f8"/>
<rect x="456.49" y="266.40" width="2.1" height="86.10" fill="#c3c8d0"/>
<rect x="456.99" y="266.40" width="1.1" height="86.10" fill="#f6f6f8"/>
<rect x="468.37" y="266.40" width="2.1" height="86.10" fill="#c3c8d0"/>
<rect x="468.87" y="266.40" width="1.1" height="86.10" fill="#f6f6f8"/>
<rect x="480.79" y="266.40" width="1" height="86.10" fill="#c3c8d0"/>
<rect x="279.40" y="280.00" width="201.89" height="0.8" fill="#7d8790" opacity="0.45"/>
</g>
<rect x="481.49" y="266.40" width="1.8" height="86.10" fill="url(#cb317)"/>
<text x="485.90" y="268.40" font-size="5.0" text-anchor="start" fill="#333" font-weight="normal" font-style="normal" stroke="#333" stroke-width="0.1">12</text>
<text x="485.90" y="282.63" font-size="5.0" text-anchor="start" fill="#333" font-weight="normal" font-style="normal" stroke="#333" stroke-width="0.1">10</text>
<text x="485.90" y="296.86" font-size="5.0" text-anchor="start" fill="#333" font-weight="normal" font-style="normal" stroke="#333" stroke-width="0.1">8</text>
<text x="485.90" y="311.09" font-size="5.0" text-anchor="start" fill="#333" font-weight="normal" font-style="normal" stroke="#333" stroke-width="0.1">6</text>
<text x="485.90" y="325.32" font-size="5.0" text-anchor="start" fill="#333" font-weight="normal" font-style="normal" stroke="#333" stroke-width="0.1">4</text>
<text x="485.90" y="339.55" font-size="5.0" text-anchor="start" fill="#333" font-weight="normal" font-style="normal" stroke="#333" stroke-width="0.1">2</text>
<text x="485.90" y="353.78" font-size="5.0" text-anchor="start" fill="#333" font-weight="normal" font-style="normal" stroke="#333" stroke-width="0.1">0</text>
<text x="276.40" y="310.00" font-size="5.0" text-anchor="middle" fill="#333" font-weight="normal" font-style="normal" stroke="#333" stroke-width="0.1" transform="rotate(-90 276.40 310.00)">H3K9me3</text>
<rect x="492.40" y="272.20" width="6.40" height="0.8" fill="#222"/>
<path d="M490.40,272.60L494.00,271.10L493.40,272.60L494.00,274.10Z" fill="#111"/>
<rect x="492.40" y="327.90" width="6.40" height="0.8" fill="#222"/>
<path d="M490.40,328.30L494.00,326.80L493.40,328.30L494.00,329.80Z" fill="#111"/>
<text x="506.80" y="311.00" font-size="5.2" text-anchor="start" fill="#333" font-weight="normal" font-style="normal" stroke="#333" stroke-width="0.1" transform="rotate(-90 506.80 311.00)">H3K4me1/H3K27ac up</text>
<text x="511.90" y="311.00" font-size="5.2" text-anchor="start" fill="#333" font-weight="normal" font-style="normal" stroke="#333" stroke-width="0.1" transform="rotate(-90 511.90 311.00)">H3K9me3 down peaks</text>
<text x="506.80" y="373.30" font-size="5.2" text-anchor="start" fill="#333" font-weight="normal" font-style="normal" stroke="#333" stroke-width="0.1" transform="rotate(-90 506.80 373.30)">H3K4me1/H3K27ac down</text>
<text x="511.90" y="373.30" font-size="5.2" text-anchor="start" fill="#333" font-weight="normal" font-style="normal" stroke="#333" stroke-width="0.1" transform="rotate(-90 511.90 373.30)">H3K9me3 up peaks</text>
<text x="283.50" y="361.40" font-size="5.3" text-anchor="end" fill="#333" font-weight="normal" font-style="normal" stroke="#333" stroke-width="0.1">−5Kb</text>
<text x="287.40" y="361.40" font-size="5.3" text-anchor="start" fill="#333" font-weight="normal" font-style="normal" stroke="#333" stroke-width="0.1">5Kb</text>
<rect x="284.80" y="356.8" width="0.6" height="8.4" fill="#444"/>
<text x="286.60" y="369.40" font-size="5.0" text-anchor="middle" fill="#333" font-weight="normal" font-style="normal" stroke="#333" stroke-width="0.1">Peak center</text>
<text x="6.30" y="401.30" font-size="11.8" text-anchor="start" fill="#000" font-weight="bold" font-style="normal">C</text>
<rect x="176.00" y="410.3" width="26.00" height="1.2" fill="#5a5a5a"/>
<text x="189.00" y="408.20" font-size="5.0" text-anchor="middle" fill="#333" font-weight="normal" font-style="normal" stroke="#333" stroke-width="0.1">100 Kb</text>
<rect x="34.60" y="413.60" width="166.20" height="127.92" fill="#f5f5f6"/>
<text x="37.80" y="419.20" font-size="5.3" text-anchor="start" fill="#3a3a3a" font-weight="normal" font-style="normal" stroke="#3a3a3a" stroke-width="0.1">0-60</text>
<text x="205.00" y="422.35" font-size="5.4" text-anchor="start" fill="#333" font-weight="normal" font-style="normal" stroke="#333" stroke-width="0.1">NBC</text>
<path d="M34.6,424.0L34.6,424L39.9,424L40.6,423.7L41.3,423.8L41.9,424L43.3,424L43.9,423.9L44.6,423.6L45.3,424L47.9,424L48.6,423.8L49.3,423.6L50,424L52,424L52.6,423.5L53.3,424L54.6,424L55.3,423.9L56,423.4L56.6,424L59.3,424L60,423.5L60.6,424L62,424L62.6,423.8L64,423.8L64.6,423.6L65.3,424L66,423.4L66.6,424L70.6,424L71.3,423.5L72,424L72.6,424L73.3,423.7L74,422.7L74.6,422.4L75.3,422.8L76,423.6L76.7,424L77.3,423.5L78,423.3L78.7,423.4L79.3,422.5L80,421.9L80.7,422L81.3,422.4L82,423.4L82.7,423.9L83.3,424L85.3,424L86,423.7L86.7,424L89.3,424L90,423.4L90.7,423.9L91.3,420.5L92,415.2L92.7,416.5L93.3,421.1L94,418.4L94.7,418.1L95.3,422.8L96,424L98,424L98.7,423.8L99.3,423.7L100,421.1L100.7,416.9L101.3,423L102,424L102.7,421.2L103.3,418.3L104,423.5L104.7,423.4L105.4,424L106,424L106.7,423.9L107.4,422.5L108,421.1L108.7,422.3L109.4,420.8L110,419.8L110.7,421.6L111.4,423.5L112,424L112.7,424L113.4,420.9L114,422L114.7,423.4L115.4,423.5L116,424L116.7,423.3L117.4,421.5L118,423.7L118.7,424L119.4,424L120,423.9L120.7,423.5L121.4,424L122,424L122.7,423.4L123.4,424L124.7,424L125.4,423.6L126,424L126.7,423.5L127.4,423.5L128,421.8L128.7,418.3L129.4,418.4L130,417.9L130.7,423.8L131.4,424L135.4,424L136.1,423.9L136.7,423.7L137.4,424L138.1,423.6L138.7,423.4L139.4,422.4L140.1,424L140.7,423.3L141.4,420.9L142.1,423.3L142.7,422.7L143.4,423L144.1,424L144.7,423.4L145.4,423.6L146.1,423.7L146.7,423.8L147.4,424L150.1,424L150.7,423L151.4,423.4L152.1,424L152.7,424L153.4,423.9L154.1,421L154.7,423.2L155.4,423.7L156.1,424L156.7,423.4L157.4,424L158.7,424L159.4,423.9L160.1,424L166.1,424L166.8,423.5L167.4,423.8L168.1,422.3L168.8,423.3L169.4,424L170.1,423.6L170.8,424L171.4,424L172.1,423.7L172.8,424L173.4,424L174.1,423.8L174.8,424L175.4,424L176.1,423.5L176.8,424L177.4,424L178.1,423.4L178.8,424L186.1,424L186.8,423.9L187.5,423.4L188.1,422.2L188.8,421.8L189.5,423.8L190.1,424L192.1,424L192.8,422L193.5,418.1L194.1,423.9L194.8,424L197.5,424L198.1,423.6L198.8,424L199.5,423.8L200.1,424L200.8,424L200.8,424.0Z" fill="#27287a"/>
<rect x="34.60" y="423.46" width="166.20" height="0.9" fill="#27287a" opacity="0.6"/>
<text x="37.80" y="429.86" font-size="5.3" text-anchor="start" fill="#3a3a3a" font-weight="normal" font-style="normal" stroke="#3a3a3a" stroke-width="0.1">0-60</text>
<text x="205.00" y="433.15" font-size="5.4" text-anchor="start" fill="#333" font-weight="normal" font-style="normal" stroke="#333" stroke-width="0.1">MBL</text>
<path d="M34.6,434.6L34.6,434.6L35.3,434.2L35.9,434.6L39.3,434.6L39.9,434.3L40.6,434.3L41.3,434.6L44.6,434.6L45.3,434.4L45.9,434.6L46.6,434.6L47.3,434.2L47.9,434.6L53.3,434.6L54,434.5L54.6,434.6L55.3,434.2L56.6,434.2L57.3,434.6L58,434.1L58.6,434.6L60,434.6L60.6,434.3L61.3,434.3L62,434.6L62.6,434.6L63.3,434.3L64,434.4L64.6,434.6L72.6,434.6L73.3,434.2L74,434.6L74.6,434.6L75.3,434.5L76,434.6L77.3,434.6L78,434.3L78.7,434.6L80,434.6L80.7,434.2L81.3,433.9L82,433.7L82.7,434.6L83.3,434.2L84,434.6L90,434.6L90.7,434.5L91.3,434.1L92,432.4L92.7,434.1L93.3,428.2L94,433.5L94.7,434.6L100,434.6L100.7,434.5L101.3,434.6L102,434.6L102.7,434.2L103.3,434.6L108,434.6L108.7,432.9L109.4,431.7L110,434.4L110.7,434.6L112,434.6L112.7,434.3L113.4,434.6L114.7,434.6L115.4,434.2L116,434.5L116.7,434.6L117.4,434.6L118,434.2L118.7,434.6L121.4,434.6L122,434.2L122.7,434.6L124.7,434.6L125.4,434.1L126,434.5L126.7,434.2L127.4,434.6L128,434.2L128.7,433.6L129.4,433.7L130,434L130.7,434.6L132.1,434.6L132.7,434.4L133.4,434.6L134.7,434.6L135.4,434.3L136.1,434.3L136.7,434.2L137.4,434.6L138.7,434.6L139.4,434.2L140.1,434.6L145.4,434.6L146.1,434.5L146.7,434.2L147.4,434.6L148.1,434.5L148.7,434.6L149.4,434.6L150.1,434.3L150.7,434.5L151.4,434.5L152.1,434.6L152.7,434.4L153.4,434.6L158.1,434.6L158.7,434.3L159.4,434.6L162.1,434.6L162.8,434.4L163.4,434.6L164.1,434.2L164.8,434.6L165.4,434.3L166.1,433.7L166.8,433L167.4,434.6L168.8,434.6L169.4,434.4L170.1,434.6L174.1,434.6L174.8,434.4L175.4,434.6L176.8,434.6L177.4,434.4L178.1,434.6L180.1,434.6L180.8,434.2L181.4,434.2L182.1,433.1L182.8,434.6L183.4,434.6L184.1,434.5L184.8,434.6L186.1,434.6L186.8,434.4L187.5,434.6L188.1,433.7L188.8,432.7L189.5,434.6L191.5,434.6L192.1,432.6L192.8,432.5L193.5,434.5L194.1,434.6L194.8,434.2L195.5,434.6L196.1,431.4L196.8,431.9L197.5,434.6L198.1,434.6L198.8,434.3L199.5,434.3L200.1,434.6L200.8,434.4L200.8,434.6Z" fill="#27287a"/>
<rect x="34.60" y="434.12" width="166.20" height="0.9" fill="#27287a" opacity="0.6"/>
<text x="37.80" y="440.52" font-size="5.3" text-anchor="start" fill="#3a3a3a" font-weight="normal" font-style="normal" stroke="#3a3a3a" stroke-width="0.1">0-60</text>
<text x="205.00" y="443.95" font-size="5.4" text-anchor="start" fill="#333" font-weight="normal" font-style="normal" stroke="#333" stroke-width="0.1">CLL</text>
<path d="M34.6,445.3L34.6,445.3L35.9,445.3L36.6,444.9L37.3,445.3L37.9,445.3L38.6,445.1L39.3,445.3L39.9,445.1L40.6,445L41.3,445L41.9,445.3L47.3,445.3L47.9,445.2L48.6,445.3L51.3,445.3L52,445L52.6,445.3L54.6,445.3L55.3,444.9L56,445.1L56.6,445.3L57.3,444.8L58,445.3L62,445.3L62.6,445L63.3,445.3L64,445.3L64.6,445L65.3,445.3L66,445.2L66.6,445.3L67.3,445.3L68,444.8L68.6,445.1L69.3,445.3L72.6,445.3L73.3,445.1L74,445.2L74.6,445.1L75.3,445.3L76,445.3L76.7,444.9L77.3,444.8L78,445L78.7,445.3L80.7,445.3L81.3,443.7L82,443.3L82.7,445.1L83.3,445.3L84,445L84.7,445.3L86.7,445.3L87.3,445.2L88,445L88.7,445.1L89.3,445.3L90,444.9L90.7,445.3L91.3,443L92,444.3L92.7,444.1L93.3,440.9L94,444.9L94.7,445.3L95.3,445.3L96,444.9L96.7,445L97.3,445.3L99.3,445.3L100,444.9L100.7,444.3L101.3,445.2L102,445.1L102.7,445.3L103.3,445.1L104,445.3L104.7,445.1L105.4,445.3L106,445.3L106.7,444.8L107.4,445.3L108,445.2L108.7,444.5L109.4,444.2L110,444.7L110.7,445.3L115.4,445.3L116,445L116.7,445.3L120.7,445.3L121.4,444.9L122,445.3L123.4,445.3L124,445.2L124.7,445.1L125.4,445.3L132.7,445.3L133.4,445.2L134.1,445.3L138.7,445.3L139.4,444.9L140.1,445.2L140.7,445L141.4,445.3L142.1,445.2L142.7,445.3L143.4,445.3L144.1,445L144.7,445.3L145.4,445.1L146.1,445.1L146.7,445.3L147.4,444.9L148.1,445.3L150.7,445.3L151.4,445.1L152.1,444.9L152.7,445.3L153.4,444.8L154.1,445.3L155.4,445.3L156.1,444.8L156.7,445.2L157.4,445.3L160.1,445.3L160.8,445L161.4,445.3L165.4,445.3L166.1,442.6L166.8,441.7L167.4,445.3L168.1,445.3L168.8,444.8L169.4,445.2L170.1,445.3L173.4,445.3L174.1,445.1L174.8,445.3L175.4,445.3L176.1,445L176.8,445.3L180.1,445.3L180.8,445L181.4,445.3L182.8,445.3L183.4,445.1L184.1,445.1L184.8,445.3L185.4,445.3L186.1,445.1L186.8,445.3L187.5,445.3L188.1,445L188.8,445.3L190.8,445.3L191.5,444.8L192.1,445.3L192.8,445.2L193.5,444.3L194.1,443.1L194.8,443.8L195.5,444.8L196.1,443.8L196.8,444.9L197.5,445.1L198.1,445.3L200.8,445.3L200.8,445.3Z" fill="#27287a"/>
<rect x="34.60" y="444.78" width="166.20" height="0.9" fill="#27287a" opacity="0.6"/>
<text x="31.70" y="431.20" font-size="5.0" text-anchor="end" fill="#333" font-weight="normal" font-style="normal" stroke="#333" stroke-width="0.1">H3K4me1</text>
<rect x="34.00" y="413.60" width="1" height="31.98" fill="#27287a" opacity="0.3"/>
<text x="37.80" y="451.18" font-size="5.3" text-anchor="start" fill="#3a3a3a" font-weight="normal" font-style="normal" stroke="#3a3a3a" stroke-width="0.1">0-30</text>
<text x="205.00" y="454.75" font-size="5.4" text-anchor="start" fill="#333" font-weight="normal" font-style="normal" stroke="#333" stroke-width="0.1">NBC</text>
<path d="M34.6,455.9L34.6,455.4L35.3,455.9L37.3,455.9L37.9,455.4L38.6,455.9L41.9,455.9L42.6,455.2L43.3,455.9L44.6,455.9L45.3,455.2L45.9,455.9L47.9,455.9L48.6,455.5L49.3,455.9L50,455.9L50.6,455.4L51.3,455.7L52,455.9L54,455.9L54.6,455.2L55.3,453.7L56,455.5L56.6,455.3L57.3,455.9L59.3,455.9L60,455.6L60.6,455L61.3,454.4L62,454.6L62.6,455.7L63.3,455.7L64,455.8L64.6,455.9L65.3,455.3L66,455.9L67.3,455.9L68,455.4L68.6,455.9L70.6,455.9L71.3,455.7L72,455.9L72.6,455.9L73.3,455.4L74,454.5L74.6,454.6L75.3,455.8L76,455.9L76.7,455.5L77.3,455.9L79.3,455.9L80,455L80.7,453.3L81.3,453.5L82,455L82.7,455.2L83.3,455.9L84,455.9L84.7,455.4L85.3,455.8L86,455.8L86.7,455.9L87.3,455.9L88,455.4L88.7,455.6L89.3,455.9L90,455.6L90.7,454.1L91.3,451L92,452.7L92.7,453.7L93.3,449.7L94,451.6L94.7,455.3L95.3,455.9L96,455.9L96.7,455.6L97.3,455.8L98,455.6L98.7,455.9L99.3,455.9L100,454.3L100.7,452.4L101.3,453.2L102,455.8L102.7,455.7L103.3,455.9L104,455.5L104.7,455.9L106,455.9L106.7,455.2L107.4,455.6L108,454L108.7,450.9L109.4,452L110,455.2L110.7,455.2L111.4,455.9L113.4,455.9L114,455.1L114.7,452.4L115.4,455.8L116,455.9L117.4,455.9L118,455.8L118.7,455.9L119.4,455.6L120,455.7L120.7,455.7L121.4,455.9L124,455.9L124.7,455.5L125.4,455.9L126.7,455.9L127.4,455.3L128,455.9L128.7,449.7L129.4,449L130,454.9L130.7,455.9L131.4,455.4L132.1,455.9L133.4,455.9L134.1,455.7L134.7,455.9L135.4,455.9L136.1,455.5L136.7,455.9L140.7,455.9L141.4,455.5L142.1,455.9L142.7,454.4L143.4,448.7L144.1,455.3L144.7,455.9L147.4,455.9L148.1,455.4L148.7,455.9L149.4,455.9L150.1,455.2L150.7,455.9L151.4,455.2L152.1,455.9L153.4,455.9L154.1,452.1L154.7,453.9L155.4,455.2L156.1,455.9L156.7,455.7L157.4,455.4L158.1,455.9L159.4,455.9L160.1,455.7L160.8,455.9L162.1,455.9L162.8,455.5L163.4,455.9L165.4,455.9L166.1,451.6L166.8,452.5L167.4,455.9L168.1,455.2L168.8,455.9L171.4,455.9L172.1,455.5L172.8,455.9L174.1,455.9L174.8,455.4L175.4,455.9L176.1,455.9L176.8,455.5L177.4,455.9L178.1,455.9L178.8,455.7L179.4,455.9L180.1,455.5L180.8,455.9L181.4,455.9L182.1,455.6L182.8,455.3L183.4,455.9L185.4,455.9L186.1,455.2L186.8,455.9L187.5,455.8L188.1,454.4L188.8,453.9L189.5,454.5L190.1,455.9L190.8,455.7L191.5,455.9L192.8,455.9L193.5,454L194.1,454.7L194.8,455.9L196.8,455.9L197.5,455.4L198.1,455.3L198.8,455.7L199.5,455.9L200.8,455.9L200.8,455.9Z" fill="#8c2f8c"/>
<rect x="34.60" y="455.44" width="166.20" height="0.9" fill="#8c2f8c" opacity="0.6"/>
<text x="37.80" y="461.84" font-size="5.3" text-anchor="start" fill="#3a3a3a" font-weight="normal" font-style="normal" stroke="#3a3a3a" stroke-width="0.1">0-30</text>
<text x="205.00" y="465.55" font-size="5.4" text-anchor="start" fill="#333" font-weight="normal" font-style="normal" stroke="#333" stroke-width="0.1">MBL</text>
<path d="M34.6,466.6L34.6,466.6L35.9,466.6L36.6,466.2L37.3,466.6L39.3,466.6L39.9,466.5L40.6,466.6L41.3,466.5L41.9,466.6L43.3,466.6L43.9,466L44.6,466L45.3,466.3L45.9,466.6L46.6,465.8L47.3,465.8L47.9,466.1L48.6,466.6L53.3,466.6L54,466L54.6,466.6L56,466.6L56.6,466L57.3,466.6L58.6,466.6L59.3,466.1L60,464.6L60.6,466.5L61.3,466.5L62,466.6L65.3,466.6L66,466.5L66.6,466.5L67.3,466.6L69.3,466.6L70,466.4L70.6,466.6L71.3,466.6L72,465.6L72.6,466.6L73.3,465.8L74,466.4L74.6,466.6L76.7,466.6L77.3,466.5L78,466.6L78.7,466.6L79.3,465.9L80,466.5L80.7,466.6L82.7,466.6L83.3,466.2L84,465.9L84.7,465.8L85.3,465.7L86,466.6L88,466.6L88.7,466.5L89.3,466.4L90,466.6L90.7,465.8L91.3,466.6L92.7,466.6L93.3,466.3L94,465.9L94.7,466.6L97.3,466.6L98,465.1L98.7,466.6L100.7,466.6L101.3,465.7L102,466.6L102.7,466.6L103.3,466L104,466.6L104.7,466.6L105.4,466.4L106,466.1L106.7,466.6L110.7,466.6L111.4,465.8L112,466.6L113.4,466.6L114,466.1L114.7,466L115.4,466.6L116,466.6L116.7,466.4L117.4,466.2L118,466.6L119.4,466.6L120,465.5L120.7,466.6L122,466.6L122.7,466.5L123.4,466L124,466.6L124.7,466.5L125.4,466.6L126,466.3L126.7,466L127.4,466.5L128,466L128.7,466.6L129.4,466.2L130,466.6L130.7,466.5L131.4,466.6L132.7,466.6L133.4,466.1L134.1,466.6L134.7,465.8L135.4,466.6L139.4,466.6L140.1,465.6L140.7,466.2L141.4,466.5L142.1,465.9L142.7,466.3L143.4,466.6L152.1,466.6L152.7,465.7L153.4,466.6L156.7,466.6L157.4,466.3L158.1,466.6L158.7,466.6L159.4,465.8L160.1,466.6L160.8,466.6L161.4,466.5L162.1,466.6L162.8,466.6L163.4,466L164.1,466.6L164.8,466.4L165.4,466.6L166.1,466.4L166.8,466.6L168.8,466.6L169.4,465.8L170.1,466.6L172.1,466.6L172.8,465.8L173.4,466.6L174.1,466L174.8,466.6L175.4,465.7L176.1,466.6L176.8,466.6L177.4,466.5L178.1,466.6L178.8,466.1L179.4,466.4L180.1,466.6L182.8,466.6L183.4,466.2L184.1,466.6L186.1,466.6L186.8,466.2L187.5,466.3L188.1,466.6L188.8,466.6L189.5,466.4L190.1,466.6L191.5,466.6L192.1,466.5L192.8,466.6L200.8,466.6L200.8,466.6Z" fill="#8c2f8c"/>
<rect x="34.60" y="466.10" width="166.20" height="0.9" fill="#8c2f8c" opacity="0.6"/>
<text x="37.80" y="472.50" font-size="5.3" text-anchor="start" fill="#3a3a3a" font-weight="normal" font-style="normal" stroke="#3a3a3a" stroke-width="0.1">0-30</text>
<text x="205.00" y="476.35" font-size="5.4" text-anchor="start" fill="#333" font-weight="normal" font-style="normal" stroke="#333" stroke-width="0.1">CLL</text>
<path d="M34.6,477.3L34.6,477.3L35.3,477.3L35.9,476.9L36.6,477.3L39.3,477.3L39.9,477.1L40.6,477.3L41.3,476.9L41.9,477.3L42.6,477L43.3,477.3L43.9,476.8L44.6,477.3L45.9,477.3L46.6,476.9L47.3,477.3L47.9,477.3L48.6,476.8L49.3,477.3L50,477.2L50.6,477.3L51.3,477.3L52,477.2L52.6,477.3L53.3,477.2L54,477.3L55.3,477.3L56,477L56.6,477.3L68,477.3L68.6,476.7L69.3,477.3L71.3,477.3L72,476.6L72.6,477.3L73.3,477.1L74,477.3L78,477.3L78.7,477.1L79.3,477.3L84.7,477.3L85.3,476.6L86,476.8L86.7,476.6L87.3,477.1L88,477.3L90,477.3L90.7,476.7L91.3,477.3L92,476.8L92.7,477.3L94,477.3L94.7,476.9L95.3,476.8L96,477.3L98,477.3L98.7,476.9L99.3,476.6L100,476.7L100.7,477.3L101.3,477.1L102,477.3L104,477.3L104.7,476.5L105.4,476.5L106,477.3L106.7,477.1L107.4,477.3L108,477.3L108.7,477.1L109.4,477.2L110,477.1L110.7,477.3L111.4,476.6L112,477.3L112.7,477.3L113.4,476.6L114,477.3L114.7,476.7L115.4,477.3L119.4,477.3L120,476.7L120.7,477L121.4,477.3L122,477.1L122.7,477.1L123.4,477.3L124,477.3L124.7,476.9L125.4,476.9L126,477.3L126.7,477.3L127.4,476.8L128,477.3L128.7,477L129.4,477.3L136.7,477.3L137.4,476.9L138.1,477.3L138.7,477.2L139.4,476.6L140.1,477.3L140.7,477.2L141.4,477.3L142.1,477.2L142.7,477.3L143.4,476.6L144.1,477.3L144.7,477.3L145.4,477L146.1,477.3L148.1,477.3L148.7,476.9L149.4,477.3L150.1,477.3L150.7,476.8L151.4,476.8L152.1,477.3L152.7,477.2L153.4,477.3L154.1,476.8L154.7,477.3L155.4,476.6L156.1,477.3L158.1,477.3L158.7,476.6L159.4,477.3L160.1,476.7L160.8,477.3L161.4,476.6L162.1,477.3L165.4,477.3L166.1,476.6L166.8,477.3L168.1,477.3L168.8,477L169.4,477.3L170.8,477.3L171.4,477L172.1,476.7L172.8,477.3L173.4,477L174.1,477.3L174.8,477.3L175.4,476.7L176.1,476.6L176.8,477.3L177.4,476.6L178.1,477.3L179.4,477.3L180.1,476.8L180.8,476.6L181.4,476.7L182.1,477.3L182.8,477.3L183.4,476.8L184.1,477.3L185.4,477.3L186.1,476.7L186.8,477.3L188.1,477.3L188.8,477L189.5,476.8L190.1,475.6L190.8,477.2L191.5,477.3L192.1,477.3L192.8,476.7L193.5,474.3L194.1,474.7L194.8,477.3L195.5,476.7L196.1,477.3L197.5,477.3L198.1,476.7L198.8,477L199.5,477.3L200.1,477.3L200.8,477L200.8,477.3Z" fill="#8c2f8c"/>
<rect x="34.60" y="476.76" width="166.20" height="0.9" fill="#8c2f8c" opacity="0.6"/>
<text x="31.70" y="464.00" font-size="5.0" text-anchor="end" fill="#333" font-weight="normal" font-style="normal" stroke="#333" stroke-width="0.1">H3K27ac</text>
<rect x="34.00" y="445.58" width="1" height="31.98" fill="#8c2f8c" opacity="0.3"/>
<text x="37.80" y="483.16" font-size="5.3" text-anchor="start" fill="#3a3a3a" font-weight="normal" font-style="normal" stroke="#3a3a3a" stroke-width="0.1">0-25</text>
<text x="205.00" y="487.15" font-size="5.4" text-anchor="start" fill="#333" font-weight="normal" font-style="normal" stroke="#333" stroke-width="0.1">NBC</text>
<path d="M34.6,487.9L34.6,487.9L35.3,487.8L35.9,487.7L36.6,487.9L37.3,487.9L37.9,487.4L38.6,487.7L39.3,487.6L39.9,487.9L40.6,487.5L41.3,487.9L41.9,487.7L42.6,487.5L43.3,487.9L43.9,487.9L44.6,487.7L45.3,487.9L45.9,487.6L46.6,487.9L47.9,487.9L48.6,487.4L49.3,487.9L50,487.7L50.6,487.9L51.3,487L52,485.8L52.6,485.7L53.3,487.3L54,487.9L57.3,487.9L58,487.7L58.6,487.9L59.3,487.9L60,487.4L60.6,487.9L61.3,487.8L62,487.6L62.6,487.9L64,487.9L64.6,487.7L65.3,487.3L66,487.7L66.6,487.9L67.3,487.4L68,487.9L70.6,487.9L71.3,487.8L72,487.5L72.6,487.5L73.3,487.9L81.3,487.9L82,487.5L82.7,487.9L83.3,487.5L84,487.9L85.3,487.9L86,487.5L86.7,487.9L87.3,487.8L88,487.9L88.7,487.9L89.3,487.4L90,487.3L90.7,487.9L91.3,487.4L92,487.9L92.7,487.9L93.3,487.7L94,487.8L94.7,487.9L95.3,487.9L96,487.4L96.7,487.9L99.3,487.9L100,487.6L100.7,487.3L101.3,487.9L106,487.9L106.7,487.7L107.4,487.9L108,487.9L108.7,487.7L109.4,487.8L110,487.9L110.7,487.4L111.4,487.9L112.7,487.9L113.4,487.8L114,487.6L114.7,487.4L115.4,487.9L116,487.9L116.7,487.5L117.4,487.6L118,487.6L118.7,487.9L120,487.9L120.7,487.8L121.4,487.9L122,487.9L122.7,487.5L123.4,487.6L124,487.9L124.7,487.9L125.4,487.7L126,487.9L129.4,487.9L130,487.3L130.7,487.9L131.4,487.7L132.1,487.9L132.7,487.6L133.4,487.9L136.1,487.9L136.7,487.5L137.4,487.9L142.1,487.9L142.7,487.4L143.4,487.9L144.1,487.7L144.7,487.9L149.4,487.9L150.1,487.7L150.7,484.3L151.4,487.8L152.1,487.9L154.7,487.9L155.4,487.7L156.1,487.9L156.7,487.8L157.4,487.9L158.1,487.7L158.7,487.9L159.4,487.9L160.1,487.3L160.8,487.9L161.4,487.5L162.1,487.9L163.4,487.9L164.1,487.8L164.8,487.9L165.4,487.9L166.1,487.7L166.8,487.8L167.4,487.9L173.4,487.9L174.1,487.6L174.8,487.9L175.4,487.4L176.1,487.9L176.8,487.4L177.4,487.9L178.1,487.9L178.8,487.8L179.4,487.9L180.1,487.9L180.8,487.6L181.4,487.9L182.8,487.9L183.4,487.6L184.1,487.9L184.8,487.9L185.4,487.5L186.1,487.9L186.8,487.5L187.5,487.7L188.1,487.9L190.8,487.9L191.5,487.7L192.1,487.4L192.8,487.9L196.8,487.9L197.5,487.8L198.1,487.9L199.5,487.9L200.1,487.5L200.8,487.9L200.8,487.9Z" fill="#2f9a3a"/>
<rect x="34.60" y="487.42" width="166.20" height="0.9" fill="#2f9a3a" opacity="0.6"/>
<text x="37.80" y="493.82" font-size="5.3" text-anchor="start" fill="#3a3a3a" font-weight="normal" font-style="normal" stroke="#3a3a3a" stroke-width="0.1">0-25</text>
<text x="205.00" y="497.95" font-size="5.4" text-anchor="start" fill="#333" font-weight="normal" font-style="normal" stroke="#333" stroke-width="0.1">MBL</text>
<path d="M34.6,498.6L34.6,497.9L35.3,497.8L35.9,497.7L36.6,497L37.3,496.9L37.9,497.3L38.6,498.6L39.3,497.1L39.9,498.3L40.6,497.7L41.3,498.6L41.9,498.6L42.6,497.6L43.3,498.3L43.9,498.6L44.6,497.2L45.3,498.4L45.9,497.5L46.6,498.6L47.3,497.5L47.9,498.2L48.6,498.6L49.3,497.3L50,496.9L50.6,497.8L51.3,498.6L52,498.4L52.6,497.4L53.3,493.9L54,496.2L54.6,498.6L55.3,498.6L56,498.5L56.6,497.1L57.3,496.7L58,498.6L58.6,498.2L59.3,497.4L60,497.8L60.6,498L61.3,497.5L62,497.7L62.6,498.6L63.3,497.2L64,492.7L64.6,498.1L65.3,498.6L66,498.3L66.6,497.2L67.3,497L68,498.3L68.6,498.6L69.3,498.2L70,497.7L70.6,498.6L71.3,498.4L72,498.6L72.6,498.6L73.3,498.4L74,498.6L74.6,498.4L75.3,498.6L76,497.1L76.7,497.7L77.3,498L78,497.1L78.7,498.5L79.3,497.3L80,497.6L80.7,498.6L81.3,498.6L82,497.6L82.7,497L83.3,498.6L84,498.1L84.7,497.6L85.3,498.6L86,498.6L86.7,498.4L87.3,498.6L88,498.6L88.7,498L89.3,497.1L90,498.6L90.7,498L91.3,498.6L92,498.1L92.7,498.6L93.3,497.5L94,497.8L94.7,497.4L95.3,498.4L96,498.6L96.7,497L97.3,497.4L98,498L98.7,497.8L99.3,497.6L100,498.1L100.7,498.5L101.3,498.2L102,497.5L102.7,497.2L103.3,498.6L104,497.1L104.7,498.6L105.4,497.7L106,497.5L106.7,497.7L107.4,498.6L108,498L108.7,497L109.4,498.6L112,498.6L112.7,497.4L113.4,498.6L114,497.3L114.7,497.9L115.4,498.6L116.7,498.6L117.4,498.2L118,498.2L118.7,498.4L119.4,497.1L120,498.6L120.7,497.8L121.4,498.6L122,496.9L122.7,497.4L123.4,497.8L124,497.6L124.7,497.4L125.4,497.3L126,497.2L126.7,498.3L127.4,496L128,496.1L128.7,496.4L129.4,497.2L130,498.4L130.7,497L131.4,498.4L132.1,498.5L132.7,498.6L133.4,498.1L134.1,498.6L134.7,498.5L135.4,497.5L136.1,498.6L136.7,497.7L137.4,498.6L138.7,498.6L139.4,498.2L140.1,498.6L140.7,498.6L141.4,497.5L142.1,497.6L142.7,498.5L143.4,498.6L144.1,498.6L144.7,498.5L145.4,498.6L146.1,496.9L146.7,497.5L147.4,498.6L148.1,498.1L148.7,497.2L149.4,497.6L150.1,498.6L150.7,497.7L151.4,498.6L152.1,498.5L152.7,498.5L153.4,498.3L154.1,498.6L154.7,497L155.4,497L156.1,498.6L156.7,497.3L157.4,498.6L158.1,496.9L158.7,497.9L159.4,497.8L160.1,498L160.8,498.6L161.4,497.7L162.1,497.2L162.8,497L163.4,497.7L164.1,497.8L164.8,497.8L165.4,498.2L166.1,498.3L166.8,497.8L167.4,494.8L168.1,498.4L168.8,497.3L169.4,498.6L170.8,498.6L171.4,497.8L172.1,491L172.8,497.6L173.4,498.3L174.1,498.6L174.8,498.6L175.4,497.7L176.1,498.5L176.8,497.5L177.4,498.1L178.1,497.1L178.8,497.8L179.4,494.3L180.1,497.9L180.8,497.9L181.4,498.2L182.1,498.6L182.8,497.8L183.4,497.8L184.1,497.1L184.8,498.4L185.4,497.4L186.1,497.3L186.8,498.6L187.5,498.6L188.1,498.3L188.8,497.7L189.5,497.7L190.1,497.1L190.8,496.9L191.5,498.6L192.1,498.1L192.8,498.6L193.5,498.6L194.1,497.2L194.8,497.6L195.5,497L196.1,497.7L196.8,498.5L197.5,496.9L198.1,498.3L198.8,497.5L199.5,497.2L200.1,498.4L200.8,498.6L200.8,498.6Z" fill="#2f9a3a"/>
<rect x="34.60" y="498.08" width="166.20" height="0.9" fill="#2f9a3a" opacity="0.6"/>
<text x="37.80" y="504.48" font-size="5.3" text-anchor="start" fill="#3a3a3a" font-weight="normal" font-style="normal" stroke="#3a3a3a" stroke-width="0.1">0-25</text>
<text x="205.00" y="508.75" font-size="5.4" text-anchor="start" fill="#333" font-weight="normal" font-style="normal" stroke="#333" stroke-width="0.1">CLL</text>
<path d="M34.6,509.2L34.6,507.6L35.3,507.7L35.9,507.6L36.6,509.1L37.3,508.4L37.9,509.2L38.6,508.5L39.3,508.2L39.9,507.9L40.6,507.9L41.3,508.7L41.9,508.8L42.6,507.6L43.3,509.2L43.9,509.2L44.6,507.8L45.3,508.9L45.9,509.2L46.6,508.2L47.3,508.9L47.9,508.8L48.6,507.8L49.3,509.2L50,509L50.6,505.1L51.3,509.2L53.3,509.2L54,509L54.6,508.5L55.3,509.2L56,507.8L56.6,509.2L57.3,508.6L58,509.2L58.6,508.9L59.3,508.5L60,508.6L60.6,508.5L61.3,509.2L62,509.2L62.6,508.7L63.3,507.5L64,502.6L64.6,508.5L65.3,507.8L66,509.2L66.6,507.9L67.3,508.8L68,507.8L68.6,509.2L69.3,509.2L70,508.2L70.6,509.2L71.3,508.1L72,509.2L72.6,509.2L73.3,508.1L74,509.2L74.6,508.7L75.3,508.5L76,509.2L76.7,508.1L77.3,508.8L78,508L78.7,509.2L79.3,508.6L80,509.2L80.7,508.2L81.3,507.8L82,508L82.7,508.6L83.3,509.2L84,507.6L84.7,509.2L85.3,508.6L86,507.8L86.7,509.2L87.3,508L88,508L88.7,509L89.3,508.4L90,509.2L90.7,508.2L91.3,509.2L92,508.1L92.7,509.2L93.3,507.9L94,507.6L94.7,509.2L95.3,509.2L96,507.6L96.7,508.6L97.3,509.2L98,507.7L98.7,508L99.3,507.6L100,509.2L100.7,508.4L101.3,507.7L102,508.1L102.7,508.3L103.3,508L104,508.2L104.7,509.1L105.4,509L106,507.8L106.7,508.6L107.4,508.7L108,508.6L108.7,509.2L109.4,508.7L110,508L110.7,508.8L111.4,509.2L112,509.2L112.7,508.2L113.4,509.2L114,509.2L114.7,507.8L115.4,507.6L116,508.4L116.7,507.9L117.4,508.2L118,508.4L118.7,509.2L119.4,508.5L120,507.9L120.7,507.9L121.4,509.1L122,508.9L122.7,508.3L123.4,509.2L124,509.2L124.7,508.5L125.4,509.2L126,507.8L126.7,508.9L127.4,508.3L128,509.2L128.7,508.1L129.4,509.2L130,507.9L130.7,508.8L131.4,509.2L132.1,508.4L132.7,509.2L133.4,508.8L134.1,509.2L134.7,508.1L135.4,507.9L136.1,508.8L136.7,509.2L137.4,509.2L138.1,507.9L138.7,508.4L139.4,509L140.1,508L140.7,508.3L141.4,508.8L142.1,508.3L142.7,508.3L143.4,508L144.1,508.1L144.7,509.2L145.4,509.2L146.1,509L146.7,509.2L147.4,509.2L148.1,508.6L148.7,508.7L149.4,508.3L150.1,508.6L150.7,507.6L151.4,507.9L152.1,508.9L152.7,508.1L153.4,509.2L154.1,509.2L154.7,508.9L155.4,509.1L156.1,509.2L156.7,508.8L157.4,508L158.1,509.2L158.7,508.4L159.4,508.1L160.1,508.3L160.8,509L161.4,509.2L162.1,507.8L162.8,509.2L163.4,508.6L164.1,509L164.8,508.9L165.4,507.9L166.1,507.5L166.8,507L167.4,505.3L168.1,509.2L168.8,507.8L169.4,508.1L170.1,507.6L170.8,507.7L171.4,509.2L172.1,503.3L172.8,508.3L173.4,509.1L174.1,508.8L174.8,509.2L175.4,509.2L176.1,508.1L176.8,508.2L177.4,508L178.1,508L178.8,508.9L179.4,505.4L180.1,507.8L180.8,508.8L181.4,508.3L182.1,509.2L182.8,507.7L183.4,508.2L184.1,508L184.8,509.2L185.4,508.1L186.1,508.8L186.8,509.2L187.5,508.4L188.1,507.9L188.8,507.9L189.5,509.2L190.1,507.9L190.8,508.7L191.5,509L192.1,509.2L192.8,507.6L193.5,508.7L194.1,507.7L194.8,507.8L195.5,509.1L196.1,508.3L196.8,507.6L197.5,508.3L198.1,509.1L198.8,509.2L200.8,509.2L200.8,509.2Z" fill="#2f9a3a"/>
<rect x="34.60" y="508.74" width="166.20" height="0.9" fill="#2f9a3a" opacity="0.6"/>
<text x="31.70" y="495.00" font-size="5.0" text-anchor="end" fill="#333" font-weight="normal" font-style="normal" stroke="#333" stroke-width="0.1">H3K9me3</text>
<rect x="34.00" y="477.56" width="1" height="31.98" fill="#2f9a3a" opacity="0.3"/>
<text x="37.80" y="515.14" font-size="5.3" text-anchor="start" fill="#3a3a3a" font-weight="normal" font-style="normal" stroke="#3a3a3a" stroke-width="0.1">0-60</text>
<text x="205.00" y="519.55" font-size="5.4" text-anchor="start" fill="#333" font-weight="normal" font-style="normal" stroke="#333" stroke-width="0.1">NBC</text>
<path d="M34.6,519.9L34.6,519.9L37.9,519.9L38.6,519.8L39.3,519.9L40.6,519.9L41.3,519.8L41.9,519.9L42.6,519.9L43.3,519.7L43.9,519.8L44.6,519.8L45.3,519.9L48.6,519.9L49.3,519.6L50,519.9L52,519.9L52.6,519.6L53.3,519.9L54,519.7L54.6,519.7L55.3,519.9L56,519.9L56.6,519.6L57.3,519.9L58,519.9L58.6,519.8L59.3,519.9L60.6,519.9L61.3,519.7L62,519.9L62.6,519.7L63.3,519.9L68.6,519.9L69.3,519.6L70,519.9L73.3,519.9L74,519.8L74.6,519.9L76.7,519.9L77.3,519.6L78,519.9L78.7,519.8L79.3,519.9L80,519.9L80.7,519.6L81.3,519.9L82,519.9L82.7,519.8L83.3,519.9L84.7,519.9L85.3,519.6L86,519.9L86.7,519.9L87.3,519.8L88,519.9L89.3,519.9L90,519.8L90.7,519.9L100,519.9L100.7,519.8L101.3,519.9L102,519.6L102.7,519.9L108.7,519.9L109.4,519.8L110,519.7L110.7,519.9L114.7,519.9L115.4,519.8L116,519.9L119.4,519.9L120,519.7L120.7,519.9L122.7,519.9L123.4,519.7L124,519.9L125.4,519.9L126,519.7L126.7,519.9L127.4,519.9L128,519.8L128.7,519.9L129.4,519.9L130,519.8L130.7,519.9L131.4,519.6L132.1,519.8L132.7,519.8L133.4,519.6L134.1,519.9L135.4,519.9L136.1,519.6L136.7,519.9L137.4,519.6L138.1,519.9L138.7,519.7L139.4,519.7L140.1,519.8L140.7,519.9L142.7,519.9L143.4,519.8L144.1,519.9L145.4,519.9L146.1,519.7L146.7,519.9L148.7,519.9L149.4,519.8L150.1,519.9L150.7,519.8L151.4,519.9L152.1,519.7L152.7,519.7L153.4,519.9L156.7,519.9L157.4,519.8L158.1,519.9L167.4,519.9L168.1,519.8L168.8,519.7L169.4,519.7L170.1,518.7L170.8,519.9L171.4,519.8L172.1,519.9L174.8,519.9L175.4,519.8L176.1,519.9L176.8,519.6L177.4,519.9L178.1,519.9L178.8,519.6L179.4,519.9L182.1,519.9L182.8,519.7L183.4,519.7L184.1,519.9L184.8,519.7L185.4,519.9L188.1,519.9L188.8,519.8L189.5,519.7L190.1,519.8L190.8,519.9L192.8,519.9L193.5,519.7L194.1,519.9L198.8,519.9L199.5,519.7L200.1,519.8L200.8,519.9L200.8,519.9Z" fill="#3a3a3a"/>
<rect x="34.60" y="519.40" width="166.20" height="0.9" fill="#3a3a3a" opacity="0.6"/>
<text x="37.80" y="525.80" font-size="5.3" text-anchor="start" fill="#3a3a3a" font-weight="normal" font-style="normal" stroke="#3a3a3a" stroke-width="0.1">0-60</text>
<text x="205.00" y="530.35" font-size="5.4" text-anchor="start" fill="#333" font-weight="normal" font-style="normal" stroke="#333" stroke-width="0.1">MBL</text>
<path d="M34.6,530.6L34.6,530.4L35.3,530.6L37.9,530.6L38.6,530L39.3,530.6L39.9,529.8L40.6,530.3L41.3,529.6L41.9,530.6L43.3,530.6L43.9,529.3L44.6,530.6L45.9,530.6L46.6,529.9L47.3,530.4L47.9,530.6L48.6,529.8L49.3,530.6L51.3,530.6L52,530.5L52.6,530.6L53.3,529.4L54,530.3L54.6,529L55.3,529.2L56,530.4L56.6,529.9L57.3,530.6L58,529.3L58.6,530.1L59.3,530.5L60,529.9L60.6,529.8L61.3,529.5L62,528.8L62.6,529.5L63.3,530.4L64,530.5L64.6,530.5L65.3,530.6L66,530.1L66.6,529.4L67.3,530.6L68,529.4L68.6,529.6L69.3,530.6L70,530.6L70.6,530.4L71.3,529.7L72,530.6L72.6,530L73.3,529.7L74,529.1L74.6,528.3L75.3,528.6L76,530L76.7,530.5L77.3,530.6L78,529.4L78.7,529.3L79.3,530.6L80,530L80.7,530L81.3,530.6L84,530.6L84.7,529.9L85.3,530L86,529.9L86.7,530.6L87.3,529.3L88,529.9L88.7,530.6L89.3,529.6L90,530.3L90.7,530.3L91.3,529.5L92,530.4L92.7,530.6L93.3,530.1L94,530.6L94.7,529.8L95.3,529.9L96,530.6L96.7,530L97.3,530.1L98,529.5L98.7,529.7L99.3,529.1L100,528.5L100.7,527.8L101.3,529.2L102,529.2L102.7,530L103.3,530L104,530.3L104.7,530.2L105.4,530.6L106,529.7L106.7,530.4L107.4,529.3L108,530.3L108.7,530.6L109.4,529.9L110,530L110.7,530.2L111.4,530.6L113.4,530.6L114,530.2L114.7,530.4L115.4,530.4L116,530.6L116.7,529.5L117.4,530.5L118,529.5L118.7,530.5L119.4,530.6L120,529.7L120.7,530.6L121.4,529.8L122,529.5L122.7,530.4L123.4,530L124,529.7L124.7,529L125.4,529.2L126,529.3L126.7,529.7L127.4,530.5L128,529.4L128.7,530.6L129.4,529.3L130,530.4L130.7,529.6L131.4,530.6L132.1,529.3L132.7,530.6L133.4,530.6L134.1,529.9L134.7,530.6L135.4,530.3L136.1,529.5L136.7,530.6L137.4,530.2L138.1,530.3L138.7,529.4L139.4,529.6L140.1,530.3L140.7,529.9L141.4,530.6L142.1,529.4L142.7,530.2L143.4,530.1L144.1,530.6L144.7,530.2L145.4,530.2L146.1,530.6L146.7,530.6L147.4,529.7L148.1,530.6L148.7,529.6L149.4,528.6L150.1,528.1L150.7,529.5L151.4,530L152.1,529.3L152.7,530.3L153.4,530.6L155.4,530.6L156.1,529.8L156.7,530.5L157.4,530.6L158.1,530.6L158.7,530L159.4,530.6L160.1,530.6L160.8,529.5L161.4,530.2L162.1,530.2L162.8,530.3L163.4,530L164.1,530.6L164.8,530.3L165.4,530.1L166.1,526.8L166.8,526.3L167.4,529.8L168.1,530.3L168.8,527L169.4,528L170.1,529.8L170.8,530.1L171.4,530.3L172.1,530.2L172.8,530.6L173.4,530.3L174.1,529.8L174.8,530.6L176.1,530.6L176.8,529.4L177.4,530.6L178.1,530.5L178.8,530.5L179.4,529.9L180.1,530.4L180.8,530.6L181.4,530.5L182.1,529.6L182.8,529.6L183.4,529.9L184.1,530.6L184.8,530.6L185.4,529.3L186.1,530.6L186.8,529.9L187.5,530L188.1,530.6L189.5,530.6L190.1,530.2L190.8,529.6L191.5,529.5L192.1,530.6L192.8,529.8L193.5,530.6L194.1,530.6L194.8,530.5L195.5,530.6L196.1,530.4L196.8,529.3L197.5,530.6L198.1,529.9L198.8,529.8L199.5,529.4L200.1,530.6L200.8,529.7L200.8,530.6Z" fill="#3a3a3a"/>
<rect x="34.60" y="530.06" width="166.20" height="0.9" fill="#3a3a3a" opacity="0.6"/>
<text x="37.80" y="536.46" font-size="5.3" text-anchor="start" fill="#3a3a3a" font-weight="normal" font-style="normal" stroke="#3a3a3a" stroke-width="0.1">0-60</text>
<text x="205.00" y="541.15" font-size="5.4" text-anchor="start" fill="#333" font-weight="normal" font-style="normal" stroke="#333" stroke-width="0.1">CLL</text>
<path d="M34.6,541.2L34.6,540.8L35.3,540.1L35.9,540.4L36.6,541.2L37.3,539.9L37.9,540.2L38.6,541.2L39.3,541.2L39.9,541.1L40.6,540.8L41.3,540.5L41.9,540.1L42.6,540.4L43.3,541.2L43.9,540.6L44.6,541L45.3,540.1L45.9,541.2L46.6,540.6L47.3,541.2L47.9,540.8L48.6,541.1L49.3,540.6L50,541.1L50.6,541.2L52,541.2L52.6,540.9L53.3,541.2L54,539.9L54.6,540.2L55.3,538.1L56,539.5L56.6,540.6L57.3,540.1L58,540.4L58.6,541.2L59.3,540L60,541.2L60.6,541.2L61.3,540.8L62,540.1L62.6,539L63.3,539L64,540.3L64.6,541.1L65.3,540L66,540.1L66.6,541.2L67.3,541.2L68,540.4L68.6,540.6L69.3,539.4L70,539.7L70.6,540.1L71.3,540.9L72,541L72.6,541.2L74,541.2L74.6,541L75.3,541.2L76,541.2L76.7,540.7L77.3,541.2L78,540.3L78.7,539.4L79.3,538.3L80,539.7L80.7,539.5L81.3,539.6L82,539.8L82.7,539.8L83.3,540.4L84,540.3L84.7,540.7L85.3,540.4L86,539.8L86.7,541.2L87.3,541.2L88,540.3L88.7,541.2L89.3,541.1L90,540.6L90.7,541.2L91.3,541.2L92,540.9L92.7,541.1L93.3,540.5L94,541.2L94.7,540.4L95.3,540.5L96,540.2L96.7,540.1L97.3,541.2L98,540.7L98.7,539.9L99.3,541.2L100,540L100.7,540L101.3,541.2L102,540.3L102.7,541.2L103.3,541.1L104,541.2L104.7,540L105.4,540.1L106,540.2L106.7,539.7L107.4,539.9L108,541.1L108.7,539.8L109.4,540.7L110,541.2L110.7,540.3L111.4,541.1L112,539.8L112.7,541.2L113.4,539.9L114,541.2L114.7,540.1L115.4,541.2L118,541.2L118.7,540.9L119.4,541.1L120,540.2L120.7,540.6L121.4,540.6L122,540.3L122.7,540.5L123.4,540.8L124,541.2L124.7,540.3L125.4,540.6L126,539.6L126.7,538L127.4,539.4L128,541L128.7,540.4L129.4,540L130,541.2L130.7,541L131.4,540.8L132.1,540.2L132.7,541.1L133.4,541.2L134.7,541.2L135.4,540.8L136.1,540.6L136.7,541.2L137.4,540.1L138.1,540.9L138.7,541.2L139.4,541.1L140.1,540.4L140.7,541L141.4,538.5L142.1,538.6L142.7,539L143.4,541.1L144.1,541.2L144.7,540.9L145.4,540.3L146.1,539.8L146.7,541.2L148.7,541.2L149.4,540.8L150.1,541.2L150.7,540.3L151.4,539.9L152.1,540.3L152.7,541.2L153.4,539.9L154.1,538.1L154.7,539.6L155.4,540.5L156.1,540.9L156.7,541.2L157.4,541L158.1,540.3L158.7,540.6L159.4,540.2L160.1,540.4L160.8,540L161.4,540L162.1,540.1L162.8,541L163.4,541.2L164.1,539.8L164.8,540.5L165.4,540.9L166.1,535.2L166.8,535.5L167.4,541.2L168.1,541L168.8,537.4L169.4,538.4L170.1,541.2L170.8,541.2L171.4,540.3L172.1,540.2L172.8,540.1L173.4,541.2L174.8,541.2L175.4,541.1L176.1,540.2L176.8,540.9L177.4,539.6L178.1,538.4L178.8,539.6L179.4,540.6L180.1,540.1L180.8,540.2L181.4,541.2L182.8,541.2L183.4,540.8L184.1,540.4L184.8,541L185.4,541.2L186.1,540.5L186.8,540.8L187.5,541.2L188.1,540.9L188.8,540.6L189.5,541.2L190.1,539.8L190.8,540.9L191.5,541L192.1,541.1L192.8,539.8L193.5,539.9L194.1,540.6L194.8,541.2L195.5,540L196.1,540.4L196.8,541.2L197.5,539.9L198.1,541.2L198.8,540.5L199.5,541.2L200.1,540.6L200.8,540.1L200.8,541.2Z" fill="#3a3a3a"/>
<rect x="34.60" y="540.72" width="166.20" height="0.9" fill="#3a3a3a" opacity="0.6"/>
<text x="31.70" y="524.20" font-size="5.0" text-anchor="end" fill="#333" font-weight="normal" font-style="normal" stroke="#333" stroke-width="0.1">H3K27me3</text>
<rect x="34.00" y="509.54" width="1" height="31.98" fill="#3a3a3a" opacity="0.3"/>
<rect x="64.20" y="544.70" width="111.30" height="0.6" fill="#4848a0"/>
<rect x="64.60" y="543.50" width="4.00" height="3" fill="#1f1f80"/>
<rect x="73.30" y="543.50" width="1.10" height="3" fill="#1f1f80"/>
<rect x="77.30" y="543.50" width="4.60" height="3" fill="#1f1f80"/>
<rect x="84.80" y="543.50" width="1.20" height="3" fill="#1f1f80"/>
<rect x="89.40" y="543.50" width="1.70" height="3" fill="#1f1f80"/>
<rect x="94.40" y="543.50" width="0.60" height="3" fill="#1f1f80"/>
<rect x="97.80" y="543.50" width="0.60" height="3" fill="#1f1f80"/>
<rect x="101.90" y="543.50" width="0.70" height="3" fill="#1f1f80"/>
<rect x="158.60" y="543.50" width="5.80" height="3" fill="#1f1f80"/>
<rect x="166.50" y="543.50" width="0.90" height="3" fill="#1f1f80"/>
<rect x="169.60" y="543.50" width="2.30" height="3" fill="#1f1f80"/>
<rect x="174.00" y="543.50" width="0.80" height="3" fill="#1f1f80"/>
<path d="M110.70,543.90 L109.40,545.00 L110.70,546.10" fill="none" stroke="#3a3a8a" stroke-width="0.45"/>
<path d="M117.70,543.90 L116.40,545.00 L117.70,546.10" fill="none" stroke="#3a3a8a" stroke-width="0.45"/>
<path d="M124.70,543.90 L123.40,545.00 L124.70,546.10" fill="none" stroke="#3a3a8a" stroke-width="0.45"/>
<path d="M131.70,543.90 L130.40,545.00 L131.70,546.10" fill="none" stroke="#3a3a8a" stroke-width="0.45"/>
<path d="M138.70,543.90 L137.40,545.00 L138.70,546.10" fill="none" stroke="#3a3a8a" stroke-width="0.45"/>
<path d="M145.70,543.90 L144.40,545.00 L145.70,546.10" fill="none" stroke="#3a3a8a" stroke-width="0.45"/>
<path d="M152.70,543.90 L151.40,545.00 L152.70,546.10" fill="none" stroke="#3a3a8a" stroke-width="0.45"/>
<text x="151.00" y="556.50" font-size="5.2" text-anchor="middle" fill="#333" font-weight="normal" font-style="italic" stroke="#333" stroke-width="0.1">EBF1</text>
<text x="270.70" y="401.30" font-size="11.8" text-anchor="start" fill="#000" font-weight="bold" font-style="normal">D</text>
<rect x="449.30" y="410.3" width="26.20" height="1.2" fill="#5a5a5a"/>
<text x="462.40" y="408.20" font-size="5.0" text-anchor="middle" fill="#333" font-weight="normal" font-style="normal" stroke="#333" stroke-width="0.1">50 Kb</text>
<rect x="299.60" y="413.60" width="180.30" height="127.92" fill="#f5f5f6"/>
<text x="302.80" y="419.20" font-size="5.3" text-anchor="start" fill="#3a3a3a" font-weight="normal" font-style="normal" stroke="#3a3a3a" stroke-width="0.1">0-60</text>
<text x="484.10" y="422.35" font-size="5.4" text-anchor="start" fill="#333" font-weight="normal" font-style="normal" stroke="#333" stroke-width="0.1">NBC</text>
<path d="M299.6,424.0L299.6,424L300.3,424L300.9,423.7L301.6,424L304.9,424L305.6,423.9L306.3,424L314.3,424L315,423.9L315.6,424L316.3,423.8L317,423.9L317.6,423.7L318.3,423.7L319,424L319.6,423.9L320.3,424L321,423.7L321.6,423.9L322.3,424L325,424L325.6,423.7L326.3,424L327,424L327.6,423.8L328.3,424L329,423.7L329.7,424L330.3,423.7L331,424L332.3,424L333,423.9L333.7,424L337,424L337.7,423.8L338.3,424L339,424L339.7,423.7L340.3,423.8L341,424L344.3,424L345,423.7L345.7,423.8L346.3,424L353.7,424L354.4,423.8L355,423.8L355.7,424L356.4,424L357,423.7L357.7,424L358.4,424L359,423.9L359.7,423.9L360.4,423.7L361,424L362.4,424L363,423.8L363.7,424L364.4,423.9L365,423.8L365.7,424L370.4,424L371.1,423.7L371.7,424L372.4,424L373.1,423.9L373.7,423.8L374.4,423.7L375.1,424L375.7,423.7L377.1,423.7L377.7,424L379.7,424L380.4,423.8L381.1,424L382.4,424L383.1,423.9L383.7,424L387.1,424L387.7,423.8L388.4,424L391.8,424L392.4,423.9L393.1,424L393.8,424L394.4,423.8L395.1,423L395.8,423.9L396.4,424L397.1,423.9L397.8,422.6L398.4,423.8L399.1,424L402.4,424L403.1,423.7L403.8,424L404.4,424L405.1,423.9L405.8,424L406.4,423.7L407.1,424L407.8,424L408.4,423.8L409.1,424L411.1,424L411.8,423.8L412.5,423.7L413.1,423.8L413.8,424L414.5,423.8L415.1,424L420.5,424L421.1,423.8L421.8,424L422.5,423.8L423.1,423.9L423.8,424L424.5,424L425.1,423.8L425.8,423.9L426.5,424L435.8,424L436.5,423.8L437.2,424L437.8,424L438.5,423.7L439.2,424L440.5,424L441.2,423.9L441.8,424L442.5,423.7L443.2,424L446.5,424L447.2,423.8L447.8,422L448.5,422.8L449.2,423.9L449.9,422.3L450.5,421.3L451.2,422.6L451.9,423.9L452.5,422.7L453.2,421.8L453.9,423.9L454.5,424L455.2,422.1L455.9,423.3L456.5,424L457.2,424L457.9,423.8L458.5,423.8L459.2,423.7L459.9,424L462.5,424L463.2,423.8L463.9,423.8L464.5,424L465.2,423.7L465.9,424L469.2,424L469.9,423.9L470.6,423.9L471.2,423.7L471.9,424L472.6,423.9L473.2,424L473.9,423.9L474.6,424L477.9,424L478.6,423.7L479.2,424L479.9,424L479.9,424.0Z" fill="#27287a"/>
<rect x="299.60" y="423.46" width="180.30" height="0.9" fill="#27287a" opacity="0.6"/>
<text x="302.80" y="429.86" font-size="5.3" text-anchor="start" fill="#3a3a3a" font-weight="normal" font-style="normal" stroke="#3a3a3a" stroke-width="0.1">0-60</text>
<text x="484.10" y="433.15" font-size="5.4" text-anchor="start" fill="#333" font-weight="normal" font-style="normal" stroke="#333" stroke-width="0.1">MBL</text>
<path d="M299.6,434.6L299.6,434.6L301.6,434.6L302.3,434.2L302.9,434.6L306.3,434.6L306.9,434.1L307.6,434.3L308.3,434.6L309.6,434.6L310.3,434.1L311,433.5L311.6,434.3L312.3,434.3L313,434.6L314.3,434.6L315,434.4L315.6,434.6L316.3,434.5L317,433L317.6,432.5L318.3,434.1L319,434.4L319.6,434.1L320.3,434.6L324.3,434.6L325,434.1L325.6,434.5L326.3,434.6L328.3,434.6L329,434.2L329.7,434.6L330.3,434.3L331,434.6L331.7,434.2L332.3,434.6L336.3,434.6L337,434.3L337.7,434.6L339,434.6L339.7,434.1L340.3,434.2L341,434.6L343.7,434.6L344.3,434.4L345,434.6L351.7,434.6L352.4,434.5L353,433.3L353.7,433.2L354.4,434.6L356.4,434.6L357,434.2L357.7,434.6L361.7,434.6L362.4,434.4L363,434.6L363.7,434.1L364.4,434.6L365,434.3L365.7,434.6L366.4,434.4L367,434.6L367.7,434.3L368.4,434.6L369.7,434.6L370.4,434.3L371.1,434.6L371.7,434.6L372.4,434.1L373.1,434.6L375.1,434.6L375.7,434L376.4,434.6L378.4,434.6L379.1,434.5L379.7,434.6L380.4,434.5L381.1,434.6L381.7,434L382.4,434.6L383.1,434L383.7,434.6L385.1,434.6L385.7,434.4L386.4,434.6L387.1,434.6L387.7,434.3L388.4,434.4L389.1,434.1L389.8,434.6L391.8,434.6L392.4,434.5L393.1,434.6L393.8,434L394.4,433.3L395.1,432.7L395.8,433.8L396.4,434.6L397.1,434.4L397.8,434.6L398.4,432.8L399.1,433.5L399.8,434.6L400.4,434.1L401.1,434.6L403.1,434.6L403.8,434.5L404.4,434.6L407.1,434.6L407.8,434.2L408.4,434.6L410.5,434.6L411.1,434.3L411.8,434.6L412.5,434.3L413.1,434.3L413.8,434.2L414.5,434.6L415.1,434.5L415.8,434.6L416.5,434.2L417.1,434.4L417.8,433.7L418.5,433.9L419.1,434.6L420.5,434.6L421.1,434.2L421.8,434.2L422.5,434.1L423.1,434.6L426.5,434.6L427.1,434.2L427.8,434.6L428.5,434.3L429.1,434.6L429.8,434.6L430.5,434L431.2,434.6L432.5,434.6L433.2,434.4L433.8,434.6L436.5,434.6L437.2,434.3L437.8,434.6L439.8,434.6L440.5,434.5L441.2,434.6L441.8,434.5L442.5,433.5L443.2,434.2L443.8,434.6L444.5,434.1L445.2,434.6L445.8,434.6L446.5,434.1L447.2,434.6L449.9,434.6L450.5,434.1L451.2,434.6L451.9,434.5L452.5,434.6L459.9,434.6L460.5,434.2L461.2,434.6L463.2,434.6L463.9,434.1L464.5,434.6L465.9,434.6L466.5,434.2L467.2,434.6L471.2,434.6L471.9,434.5L472.6,434.3L473.2,434.6L475.2,434.6L475.9,434.5L476.6,434.6L479.2,434.6L479.9,434.2L479.9,434.6Z" fill="#27287a"/>
<rect x="299.60" y="434.12" width="180.30" height="0.9" fill="#27287a" opacity="0.6"/>
<text x="302.80" y="440.52" font-size="5.3" text-anchor="start" fill="#3a3a3a" font-weight="normal" font-style="normal" stroke="#3a3a3a" stroke-width="0.1">0-60</text>
<text x="484.10" y="443.95" font-size="5.4" text-anchor="start" fill="#333" font-weight="normal" font-style="normal" stroke="#333" stroke-width="0.1">CLL</text>
<path d="M299.6,445.3L299.6,445.3L300.3,444.7L300.9,445.3L302.9,445.3L303.6,445.2L304.3,445.3L306.9,445.3L307.6,444.9L308.3,445.1L308.9,445.3L310.3,445.3L311,443.8L311.6,443.6L312.3,445.3L313,445.3L313.6,444.8L314.3,445.3L315.6,445.3L316.3,442.1L317,443.7L317.6,444.6L318.3,441.9L319,444.4L319.6,445.3L320.3,445.1L321,445.3L321.6,445.3L322.3,444.6L323,445.2L323.6,445.3L325,445.3L325.6,445L326.3,444.6L327,445.3L327.6,445.3L328.3,445L329,445.3L331,445.3L331.7,444.6L332.3,444.7L333,445.3L333.7,444.8L334.3,445.3L337.7,445.3L338.3,444.6L339,445.1L339.7,445.3L342.3,445.3L343,444.7L343.7,445L344.3,444.7L345,445.3L345.7,445.3L346.3,444.9L347,445.3L347.7,444.8L348.3,445.3L349.7,445.3L350.4,445L351,445.3L353,445.3L353.7,444.8L354.4,441.9L355,445.1L355.7,445.3L356.4,445.1L357,445.3L357.7,445.2L358.4,445.3L359.7,445.3L360.4,445L361,445.3L361.7,445.3L362.4,444.7L363,444.6L363.7,445.3L365,445.3L365.7,445.1L366.4,445.3L367,445.3L367.7,445.2L368.4,444.6L369,445.3L369.7,445L370.4,445.3L371.1,445.2L371.7,445.3L372.4,445.3L373.1,444.7L373.7,445.3L375.7,445.3L376.4,445L377.1,445.3L378.4,445.3L379.1,445.1L379.7,444.7L380.4,444.9L381.1,445.3L381.7,445.3L382.4,445.1L383.1,445.3L385.7,445.3L386.4,444.8L387.1,444.9L387.7,445.3L388.4,443.5L389.1,443.6L389.8,445.3L390.4,445.3L391.1,442.7L391.8,443.1L392.4,445.3L393.8,445.3L394.4,444.3L395.1,440.8L395.8,445.1L396.4,445.3L397.8,445.3L398.4,440.5L399.1,441.5L399.8,445.1L400.4,442L401.1,444.6L401.8,445.2L402.4,445.3L405.1,445.3L405.8,444.9L406.4,445.3L407.8,445.3L408.4,444.6L409.1,445.3L410.5,445.3L411.1,445L411.8,445.3L412.5,445.3L413.1,444.6L413.8,445.3L416.5,445.3L417.1,444.8L417.8,445.3L418.5,445.3L419.1,444.9L419.8,444.7L420.5,445.3L422.5,445.3L423.1,445.2L423.8,445.3L424.5,444.9L425.1,445.1L425.8,445.3L430.5,445.3L431.2,444.8L431.8,445.3L433.2,445.3L433.8,444.9L434.5,445.3L436.5,445.3L437.2,444.9L437.8,444.7L438.5,445.3L440.5,445.3L441.2,444L441.8,442.8L442.5,445.1L443.2,445.3L443.8,445.3L444.5,444.6L445.2,445.3L445.8,444.8L446.5,445.3L447.2,445L447.8,445.3L448.5,444.6L449.2,445.3L449.9,445.3L450.5,444.8L451.2,444.9L451.9,445.3L452.5,444.8L453.2,445.3L457.9,445.3L458.5,444.8L459.2,445.3L463.2,445.3L463.9,445.2L464.5,444.9L465.2,445.3L466.5,445.3L467.2,445L467.9,445.3L471.2,445.3L471.9,444.7L472.6,445L473.2,445.3L477.2,445.3L477.9,445L478.6,445.3L479.9,445.3L479.9,445.3Z" fill="#27287a"/>
<rect x="299.60" y="444.78" width="180.30" height="0.9" fill="#27287a" opacity="0.6"/>
<text x="295.60" y="431.20" font-size="5.0" text-anchor="end" fill="#333" font-weight="normal" font-style="normal" stroke="#333" stroke-width="0.1">H3K4me1</text>
<rect x="299.00" y="413.60" width="1" height="31.98" fill="#27287a" opacity="0.3"/>
<text x="302.80" y="451.18" font-size="5.3" text-anchor="start" fill="#3a3a3a" font-weight="normal" font-style="normal" stroke="#3a3a3a" stroke-width="0.1">0-30</text>
<text x="484.10" y="454.75" font-size="5.4" text-anchor="start" fill="#333" font-weight="normal" font-style="normal" stroke="#333" stroke-width="0.1">NBC</text>
<path d="M299.6,455.9L299.6,455.9L307.6,455.9L308.3,455.7L308.9,455.8L309.6,455.9L315.6,455.9L316.3,455.7L317,455.9L317.6,455.9L318.3,455.7L319,455.9L322.3,455.9L323,455.8L323.6,455.9L324.3,455.9L325,455.7L325.6,455.8L326.3,455.9L327.6,455.9L328.3,455.8L329,455.8L329.7,455.9L331,455.9L331.7,455.7L332.3,455.9L335,455.9L335.7,455.7L336.3,455.9L338.3,455.9L339,455.6L339.7,455.9L343,455.9L343.7,455.8L344.3,455.9L345.7,455.9L346.3,455.8L347,455.9L347.7,455.9L348.3,455.8L349,455.9L349.7,455.7L350.4,455.8L351,455.9L353,455.9L353.7,455.7L354.4,455.9L357,455.9L357.7,455.8L358.4,455.9L367,455.9L367.7,455.7L368.4,455.9L369,455.7L369.7,455.9L370.4,455.9L371.1,455.7L371.7,455.9L372.4,455.9L373.1,455.7L373.7,455.8L374.4,455.7L375.1,455.7L375.7,455.9L377.7,455.9L378.4,455.7L379.1,455.9L384.4,455.9L385.1,455.7L385.7,455.9L388.4,455.9L389.1,455.7L389.8,455.9L390.4,455.8L391.1,455.9L391.8,455.8L392.4,455.9L397.8,455.9L398.4,455.7L399.1,455.8L399.8,455.9L400.4,455.9L401.1,455.7L401.8,455.9L405.8,455.9L406.4,455.7L407.1,455.9L413.1,455.9L413.8,455.7L414.5,455.7L415.1,455.9L415.8,455.9L416.5,455.8L417.1,455.9L417.8,455.9L418.5,455.7L419.1,455.9L421.8,455.9L422.5,455.8L423.1,455.9L425.1,455.9L425.8,455.8L426.5,455.9L427.1,455.7L427.8,455.8L428.5,455.9L429.1,455.9L429.8,455.7L430.5,455.9L431.2,455.8L431.8,455.9L435.2,455.9L435.8,455.7L436.5,455.9L439.2,455.9L439.8,455.8L440.5,455.9L441.2,455.8L441.8,455.9L443.8,455.9L444.5,455.8L445.2,455.8L445.8,455.9L446.5,455.8L447.2,455.9L447.8,455.8L448.5,455.8L449.2,455.9L453.9,455.9L454.5,455.7L455.2,455.7L455.9,455.9L459.2,455.9L459.9,455.6L460.5,455.9L465.2,455.9L465.9,455.8L466.5,455.9L467.2,455.7L467.9,455.9L468.5,455.8L469.2,455.9L469.9,455.7L470.6,455.9L472.6,455.9L473.2,455.8L473.9,455.9L475.9,455.9L476.6,455.6L477.2,455.7L477.9,455.9L478.6,455.8L479.2,455.7L479.9,455.7L479.9,455.9Z" fill="#8c2f8c"/>
<rect x="299.60" y="455.44" width="180.30" height="0.9" fill="#8c2f8c" opacity="0.6"/>
<text x="302.80" y="461.84" font-size="5.3" text-anchor="start" fill="#3a3a3a" font-weight="normal" font-style="normal" stroke="#3a3a3a" stroke-width="0.1">0-30</text>
<text x="484.10" y="465.55" font-size="5.4" text-anchor="start" fill="#333" font-weight="normal" font-style="normal" stroke="#333" stroke-width="0.1">MBL</text>
<path d="M299.6,466.6L299.6,466.6L304.3,466.6L304.9,466.2L305.6,466.6L308.3,466.6L308.9,466.3L309.6,466.6L310.3,466.6L311,466.1L311.6,466.6L314.3,466.6L315,466.3L315.6,466.6L316.3,466.6L317,466.3L317.6,465.9L318.3,465.8L319,466.6L321.6,466.6L322.3,466.1L323,466.6L323.6,466.5L324.3,466.3L325,466.1L325.6,466.6L329,466.6L329.7,466.4L330.3,466.6L331.7,466.6L332.3,466.1L333,466.6L335,466.6L335.7,466L336.3,466.6L337,466.2L337.7,466.6L342.3,466.6L343,466.3L343.7,466.6L344.3,466.5L345,466.1L345.7,466.6L346.3,466.6L347,466L347.7,466.6L355,466.6L355.7,466L356.4,466.2L357,466.6L357.7,466.6L358.4,466.3L359,466.6L363.7,466.6L364.4,466L365,466.5L365.7,466L366.4,466.6L367.7,466.6L368.4,466.3L369,466.6L369.7,466.6L370.4,466.4L371.1,466.6L373.7,466.6L374.4,466.5L375.1,466.6L375.7,466.2L376.4,466L377.1,466.6L377.7,466.3L378.4,466.6L379.1,466L379.7,466.6L380.4,466.6L381.1,466.4L381.7,466.6L383.1,466.6L383.7,466.3L384.4,466.6L385.1,466.6L385.7,466.2L386.4,466.6L389.8,466.6L390.4,466.2L391.1,466.6L391.8,466.6L392.4,466.5L393.1,466.1L393.8,466.6L394.4,466.1L395.1,466.5L395.8,466.6L396.4,465.8L397.1,465.3L397.8,466.1L398.4,466.6L399.1,466.6L399.8,466.2L400.4,466.4L401.1,466.5L401.8,466.6L403.1,466.6L403.8,466L404.4,466.3L405.1,466.6L406.4,466.6L407.1,466.4L407.8,466L408.4,466.1L409.1,466.1L409.8,466.6L411.8,466.6L412.5,466L413.1,466.6L413.8,466.2L414.5,466.6L415.8,466.6L416.5,466.1L417.1,466.6L418.5,466.6L419.1,466.4L419.8,466.6L421.1,466.6L421.8,466L422.5,466.6L423.1,466.2L423.8,466.6L424.5,466.4L425.1,466.6L425.8,466.5L426.5,466.6L427.1,466.6L427.8,466.2L428.5,466.5L429.1,466.6L429.8,466.6L430.5,466.2L431.2,466.6L431.8,466.4L432.5,466.6L433.2,466.5L433.8,466.3L434.5,466.4L435.2,466.6L436.5,466.6L437.2,466.4L437.8,466L438.5,466.6L439.2,466L439.8,466.6L440.5,466.6L441.2,466.3L441.8,466.6L442.5,466L443.2,466.6L443.8,466.5L444.5,465.7L445.2,465.7L445.8,466.3L446.5,466.2L447.2,466.6L447.8,466.6L448.5,466L449.2,466.6L449.9,466.6L450.5,466.2L451.2,466.6L453.9,466.6L454.5,466.5L455.2,466.6L455.9,466.6L456.5,466.1L457.2,466.6L460.5,466.6L461.2,466.4L461.9,466.4L462.5,466.6L463.2,466.6L463.9,466.5L464.5,466.6L465.2,466.5L465.9,466.6L466.5,466.6L467.2,466.5L467.9,466.6L468.5,466.5L469.2,466.6L469.9,466.6L470.6,466.1L471.2,466.6L472.6,466.6L473.2,466.5L473.9,466.6L474.6,466.4L475.2,466.6L478.6,466.6L479.2,466.5L479.9,466.4L479.9,466.6Z" fill="#8c2f8c"/>
<rect x="299.60" y="466.10" width="180.30" height="0.9" fill="#8c2f8c" opacity="0.6"/>
<text x="302.80" y="472.50" font-size="5.3" text-anchor="start" fill="#3a3a3a" font-weight="normal" font-style="normal" stroke="#3a3a3a" stroke-width="0.1">0-30</text>
<text x="484.10" y="476.35" font-size="5.4" text-anchor="start" fill="#333" font-weight="normal" font-style="normal" stroke="#333" stroke-width="0.1">CLL</text>
<path d="M299.6,477.3L299.6,477.3L301.6,477.3L302.3,476.8L302.9,477.3L303.6,476.5L304.3,477.3L304.9,477L305.6,477.3L308.9,477.3L309.6,476.5L310.3,477.3L311,476.9L311.6,476.8L312.3,477.3L315,477.3L315.6,476.6L316.3,477.3L317,477L317.6,475.9L318.3,475.2L319,477.3L321.6,477.3L322.3,477.2L323,476.6L323.6,477.3L324.3,477.3L325,476.7L325.6,477.3L327,477.3L327.6,476.6L328.3,477.1L329,477.3L331,477.3L331.7,477.2L332.3,475.4L333,477.2L333.7,476.9L334.3,477.3L339.7,477.3L340.3,476.7L341,477.3L341.7,477.3L342.3,476.8L343,477.3L343.7,477.3L344.3,476.5L345,477.3L345.7,477.3L346.3,476.9L347,477.3L349,477.3L349.7,477L350.4,477.2L351,477.3L351.7,476.5L352.4,477.3L353,477.3L353.7,477.2L354.4,471.4L355,476.9L355.7,477.3L357.7,477.3L358.4,476.8L359,477.3L359.7,476.8L360.4,477.3L362.4,477.3L363,477.2L363.7,477.3L365,477.3L365.7,476.6L366.4,477.3L367.7,477.3L368.4,476.9L369,477L369.7,476.6L370.4,477.3L371.1,477.2L371.7,477.2L372.4,477.3L379.7,477.3L380.4,476.9L381.1,477L381.7,477.3L384.4,477.3L385.1,476.6L385.7,477.3L387.1,477.3L387.7,477.1L388.4,477.3L389.1,476.5L389.8,477.2L390.4,475.2L391.1,476.8L391.8,476.7L392.4,476.7L393.1,477.3L393.8,476.7L394.4,476.3L395.1,473.3L395.8,477.1L396.4,477.3L397.1,476.5L397.8,477.3L398.4,472.7L399.1,474.8L399.8,477.3L401.1,477.3L401.8,476.7L402.4,477.3L404.4,477.3L405.1,476.6L405.8,477.3L407.1,477.3L407.8,477.1L408.4,477.3L409.1,477.3L409.8,476.9L410.5,477.3L411.1,477.3L411.8,476.8L412.5,477.3L413.1,476.6L413.8,476.7L414.5,477.3L415.1,477.3L415.8,476.8L416.5,477.3L417.8,477.3L418.5,476.9L419.1,477.1L419.8,477.3L423.1,477.3L423.8,477L424.5,477.3L425.8,477.3L426.5,476.9L427.1,477.3L428.5,477.3L429.1,477L429.8,477.3L430.5,476.9L431.2,477.3L431.8,477.3L432.5,476.6L433.2,477.3L433.8,477.3L434.5,476.7L435.2,476.6L435.8,477.3L436.5,476.6L437.2,477.3L437.8,476.9L438.5,477.3L439.2,476.7L439.8,477.3L442.5,477.3L443.2,476.7L443.8,477.3L446.5,477.3L447.2,476.7L447.8,474.4L448.5,476.2L449.2,477.2L449.9,473.1L450.5,475.9L451.2,477.3L452.5,477.3L453.2,477.1L453.9,476.9L454.5,473.6L455.2,477L455.9,476.7L456.5,476.6L457.2,477.3L457.9,477.3L458.5,477.1L459.2,477.3L461.9,477.3L462.5,476.6L463.2,477.3L465.2,477.3L465.9,476.5L466.5,477.3L470.6,477.3L471.2,476.5L471.9,477.3L472.6,477.3L473.2,477.2L473.9,477.3L475.9,477.3L476.6,477L477.2,477.3L477.9,477.1L478.6,477.1L479.2,477.3L479.9,477.3L479.9,477.3Z" fill="#8c2f8c"/>
<rect x="299.60" y="476.76" width="180.30" height="0.9" fill="#8c2f8c" opacity="0.6"/>
<text x="295.60" y="464.00" font-size="5.0" text-anchor="end" fill="#333" font-weight="normal" font-style="normal" stroke="#333" stroke-width="0.1">H3K27ac</text>
<rect x="299.00" y="445.58" width="1" height="31.98" fill="#8c2f8c" opacity="0.3"/>
<text x="302.80" y="483.16" font-size="5.3" text-anchor="start" fill="#3a3a3a" font-weight="normal" font-style="normal" stroke="#3a3a3a" stroke-width="0.1">0-25</text>
<text x="484.10" y="487.15" font-size="5.4" text-anchor="start" fill="#333" font-weight="normal" font-style="normal" stroke="#333" stroke-width="0.1">NBC</text>
<path d="M299.6,487.9L299.6,487.4L300.3,487.7L300.9,487.2L301.6,487.9L302.9,487.9L303.6,487.5L304.3,487.9L304.9,487.7L305.6,487.7L306.3,487.8L306.9,487.9L309.6,487.9L310.3,487.6L311,487.9L312.3,487.9L313,487.4L313.6,487.7L314.3,487.7L315,487.9L316.3,487.9L317,487.8L317.6,487.9L318.3,487.5L319,487.9L319.6,487.3L320.3,487.9L321.6,487.9L322.3,487.3L323,487.8L323.6,487.9L324.3,487.4L325,487.4L325.6,487.5L326.3,487.2L327,487.9L327.6,487.8L328.3,487.9L329,487.9L329.7,487.7L330.3,487.8L331,487.9L332.3,487.9L333,487.4L333.7,487.9L334.3,487.9L335,487.5L335.7,487.6L336.3,487.9L337,487.7L337.7,487.9L338.3,487.5L339,487.9L339.7,487.4L340.3,487.9L343,487.9L343.7,487.4L344.3,487.4L345,487.6L345.7,487.9L346.3,487.6L347,487.9L347.7,487.5L348.3,487.9L349.7,487.9L350.4,487.3L351,487.5L351.7,487.5L352.4,487.9L353,487.8L353.7,487.4L354.4,487.9L355,487.9L355.7,487.4L356.4,487.6L357,487.6L357.7,487.4L358.4,487.5L359,487.9L359.7,487.8L360.4,487.9L361.7,487.9L362.4,487.8L363,487.4L363.7,487.9L364.4,487.9L365,487.6L365.7,487.5L366.4,487.5L367,487.6L367.7,487.9L368.4,487.9L369,487.6L369.7,487.9L370.4,487.5L371.1,487.9L371.7,487.8L372.4,487.3L373.1,487.8L373.7,487.7L374.4,487.3L375.1,487.9L375.7,487.7L376.4,487.9L377.1,487.9L377.7,487.7L378.4,487.9L379.7,487.9L380.4,487.8L381.1,487.9L381.7,487.3L382.4,487.9L383.7,487.9L384.4,487.3L385.1,487.4L385.7,487.2L386.4,487.9L387.1,487.4L387.7,487.7L388.4,487.9L389.1,487.5L389.8,487.3L390.4,487.3L391.1,487.6L391.8,487.9L392.4,487.6L393.1,487.3L393.8,487.9L399.8,487.9L400.4,487.4L401.1,487.7L401.8,487.3L402.4,487.9L403.1,487.6L403.8,487.9L406.4,487.9L407.1,487.6L407.8,487.9L408.4,487.9L409.1,487.6L409.8,487.9L411.8,487.9L412.5,487.7L413.1,487.3L413.8,487.3L414.5,487.5L415.1,487.9L416.5,487.9L417.1,487.8L417.8,487.9L418.5,487.7L419.1,487.9L419.8,487.9L420.5,487.3L421.1,487.9L421.8,487.6L422.5,487.7L423.1,487.9L423.8,487.8L424.5,487.9L425.1,487.9L425.8,487.3L426.5,487.2L427.1,487.7L427.8,487.9L428.5,487.7L429.1,487.4L429.8,487.9L430.5,487.9L431.2,487.4L431.8,487.5L432.5,487.9L433.2,487.6L433.8,487.9L434.5,487.9L435.2,487.5L435.8,487.9L436.5,487.7L437.2,487.9L439.2,487.9L439.8,487.6L440.5,487.8L441.2,487.4L441.8,487.9L442.5,487.8L443.2,487.6L443.8,487.9L444.5,487.5L445.2,487.5L445.8,487.9L446.5,487.9L447.2,487.8L447.8,486.1L448.5,487.3L449.2,487.7L449.9,487.5L450.5,487L451.2,486.1L451.9,487.8L452.5,487.9L453.2,487.8L453.9,486.6L454.5,487.3L455.2,487.9L455.9,487.9L456.5,487.3L457.2,486.8L457.9,487.9L463.2,487.9L463.9,487.4L464.5,487.7L465.2,487.9L465.9,487.3L466.5,487.9L467.2,487.9L467.9,487.5L468.5,487.9L469.2,487.8L469.9,487.9L472.6,487.9L473.2,487.8L473.9,487.4L474.6,487.9L475.2,487.7L475.9,487.7L476.6,487.9L477.2,487.7L477.9,487.5L478.6,487.9L479.2,487.4L479.9,487.9L479.9,487.9Z" fill="#2f9a3a"/>
<rect x="299.60" y="487.42" width="180.30" height="0.9" fill="#2f9a3a" opacity="0.6"/>
<text x="302.80" y="493.82" font-size="5.3" text-anchor="start" fill="#3a3a3a" font-weight="normal" font-style="normal" stroke="#3a3a3a" stroke-width="0.1">0-25</text>
<text x="484.10" y="497.95" font-size="5.4" text-anchor="start" fill="#333" font-weight="normal" font-style="normal" stroke="#333" stroke-width="0.1">MBL</text>
<path d="M299.6,498.6L299.6,498.6L300.3,498.6L300.9,497.9L301.6,498.6L302.3,498.6L302.9,498.3L303.6,497.8L304.3,498.6L304.9,498.1L305.6,497.9L306.3,498.5L306.9,497.8L307.6,497.8L308.3,498.6L308.9,498.5L309.6,497.9L310.3,498.6L311,498.6L311.6,498.2L312.3,497.8L313,498.1L313.6,498.2L314.3,498.6L315,498.6L315.6,497.8L316.3,497.7L317,497.9L317.6,498.5L318.3,498.6L319,498.6L319.6,498.1L320.3,498L321,498.6L321.6,497.7L322.3,498.5L323,498.1L323.6,498L324.3,498.6L325,497.8L325.6,498.4L326.3,498.3L327,498.6L327.6,497.9L328.3,497.8L329,498.6L329.7,498.5L330.3,498.6L331,498.2L331.7,497.8L332.3,498.6L333,497.8L333.7,497.8L334.3,498.6L335,498.6L335.7,498.5L336.3,498.2L337,498.6L337.7,498L338.3,498.6L339,498L339.7,497.8L340.3,498.6L341,497.8L341.7,498.6L343.7,498.6L344.3,498.5L345,498.5L345.7,498.2L346.3,498.2L347,498.6L347.7,497.9L348.3,498.4L349,498L349.7,498.6L350.4,498.3L351,498L351.7,498.4L352.4,498.4L353,498.6L353.7,498.6L354.4,498.4L355,498.4L355.7,498.6L359,498.6L359.7,497.8L360.4,497.4L361,498.3L361.7,498.2L362.4,498.6L363,497.9L363.7,498.6L364.4,498.2L365,498.6L365.7,498.2L366.4,498.6L367,498.5L367.7,497.9L368.4,497.9L369,498.6L369.7,497.9L370.4,498.1L371.1,498.6L371.7,498.1L372.4,498.6L373.1,498.3L373.7,498.6L375.1,498.6L375.7,498.1L376.4,497.8L377.1,498.6L377.7,497.7L378.4,497.7L379.1,497.9L379.7,498.4L380.4,498.4L381.1,498.2L381.7,498.4L382.4,498.3L383.1,498.5L383.7,498.6L384.4,498.6L385.1,498L385.7,498.5L386.4,498.6L387.1,498.3L387.7,498.6L388.4,498.2L389.1,498.5L389.8,498.4L390.4,498.6L391.1,498.3L391.8,498.6L392.4,498.6L393.1,497.8L393.8,498.6L394.4,498.6L395.1,497.7L395.8,498.6L396.4,498.4L397.1,497.7L397.8,498.6L398.4,497.7L399.1,498.2L399.8,498.6L400.4,498.4L401.1,497.8L401.8,498.3L402.4,498.6L403.1,498.6L403.8,497.7L404.4,498.3L405.1,498.3L405.8,498.6L406.4,498.6L407.1,497.8L407.8,498.2L408.4,498.6L410.5,498.6L411.1,498.1L411.8,498L412.5,498.6L413.1,498.4L413.8,498.6L414.5,497.8L415.1,498.2L415.8,497.7L416.5,498.6L417.8,498.6L418.5,498.2L419.1,497.9L419.8,498.6L420.5,498.5L421.1,498.3L421.8,498.1L422.5,498.1L423.1,497.9L423.8,498.1L424.5,497.7L425.1,497.8L425.8,498.6L426.5,498.4L427.1,498.5L427.8,497.8L428.5,498.6L429.1,498.5L429.8,498.3L430.5,497.8L431.2,498.6L431.8,498.2L432.5,498.6L433.2,497.8L433.8,498.5L434.5,497.9L435.2,497.8L435.8,498.1L436.5,497.8L437.2,498.6L437.8,498.4L438.5,498.6L441.2,498.6L441.8,498.2L442.5,498.3L443.2,497.9L443.8,498.6L444.5,497.9L445.2,498.6L445.8,498.2L446.5,498.3L447.2,498.6L449.9,498.6L450.5,498.1L451.2,498.3L451.9,498.6L452.5,498.3L453.2,498.6L453.9,498.2L454.5,498.3L455.2,498.6L455.9,497.7L456.5,498.3L457.2,498.6L459.9,498.6L460.5,498.1L461.2,498.6L461.9,498L462.5,498.6L463.2,498.4L463.9,497.8L464.5,498.4L465.2,498.1L465.9,498.2L466.5,498.3L467.2,497.9L467.9,497.8L468.5,498.6L469.2,498.6L469.9,498.4L470.6,498L471.2,498.5L471.9,498.1L472.6,498.6L473.2,498L473.9,498.5L474.6,498.6L475.2,498.4L475.9,498.6L476.6,498.6L477.2,498L477.9,498.6L478.6,498.5L479.2,498.6L479.9,498.6L479.9,498.6Z" fill="#2f9a3a"/>
<rect x="299.60" y="498.08" width="180.30" height="0.9" fill="#2f9a3a" opacity="0.6"/>
<text x="302.80" y="504.48" font-size="5.3" text-anchor="start" fill="#3a3a3a" font-weight="normal" font-style="normal" stroke="#3a3a3a" stroke-width="0.1">0-25</text>
<text x="484.10" y="508.75" font-size="5.4" text-anchor="start" fill="#333" font-weight="normal" font-style="normal" stroke="#333" stroke-width="0.1">CLL</text>
<path d="M299.6,509.2L299.6,508.6L300.3,508.8L300.9,508.7L301.6,509L302.3,509.2L305.6,509.2L306.3,508.7L306.9,509.2L308.3,509.2L308.9,509L309.6,508.4L310.3,509.2L311,509.2L311.6,508.6L313,508.6L313.6,509.2L314.3,509.2L315,508.5L315.6,508.6L316.3,509.2L317,509.2L317.6,508.8L318.3,508.4L319,509.2L319.6,508.7L320.3,509.2L321,509.2L321.6,508.4L322.3,507.6L323,509.1L323.6,509.2L325,509.2L325.6,508L326.3,508.3L327,508.8L327.6,509.2L328.3,509.2L329,508.4L329.7,508.9L330.3,509.2L331,508.8L331.7,509.2L332.3,509L333,509.2L334.3,509.2L335,508.6L335.7,509.2L337.7,509.2L338.3,508.7L339,509.2L339.7,509.2L340.3,508.6L341,509L341.7,508.9L342.3,508.7L343,508.5L343.7,509.2L344.3,508.8L345,509.2L345.7,508.4L346.3,509.2L347.7,509.2L348.3,509.1L349,509L349.7,509.2L350.4,509.2L351,508.7L351.7,508.3L352.4,509.2L355,509.2L355.7,508.9L356.4,508.5L357,509.2L357.7,508.8L358.4,509.2L359,509.1L359.7,509.2L360.4,508.9L361,509.2L361.7,508.8L362.4,508.9L363,509.2L363.7,509.2L364.4,508.5L365,508.8L365.7,509L366.4,509.2L367,508.8L367.7,509.1L368.4,508.5L369,509.2L370.4,509.2L371.1,509L371.7,508.4L372.4,509.2L375.1,509.2L375.7,508.8L376.4,509.2L377.1,509.2L377.7,509.1L378.4,508.7L379.1,508.5L379.7,508.6L380.4,509.2L381.1,509.2L381.7,508.8L382.4,508.4L383.1,509.2L383.7,509.2L384.4,508.8L385.1,509L385.7,509.2L386.4,509.2L387.1,509.1L387.7,508.5L388.4,509.2L389.8,509.2L390.4,509L391.1,509.2L392.4,509.2L393.1,508.8L393.8,508.5L394.4,509.2L395.1,509L395.8,509.1L396.4,509.2L397.1,509L397.8,509.2L398.4,508.8L399.1,508.4L399.8,509.2L400.4,509.2L401.1,509.1L401.8,509.1L402.4,509.2L403.8,509.2L404.4,508.4L405.1,509.2L405.8,509.1L406.4,509L407.1,508.4L407.8,509.2L408.4,508.3L409.1,508.7L409.8,508.9L410.5,509.1L411.1,509.2L411.8,509.1L412.5,509.2L413.1,509.2L413.8,508.5L414.5,508.4L415.1,509L415.8,509.2L416.5,508.8L417.1,508.9L417.8,509.2L418.5,509.2L419.1,509L419.8,509.2L420.5,509.1L421.1,508.4L421.8,508.4L422.5,509.2L423.1,508.4L423.8,508.9L424.5,509.2L425.1,508.8L425.8,509.2L426.5,508.7L427.1,509.2L427.8,509.2L428.5,508.8L429.1,509.2L429.8,508.7L430.5,508.7L431.2,509.2L431.8,509L432.5,508.5L433.2,509.2L435.2,509.2L435.8,508.7L436.5,508.4L437.2,509.2L437.8,509.2L438.5,508.9L439.2,509.1L439.8,508.5L440.5,508.9L441.2,508.4L441.8,509.2L442.5,509L443.2,509.2L443.8,508.8L444.5,508.9L445.2,509.2L445.8,509.2L446.5,508.8L447.2,509L447.8,509.2L448.5,509.2L449.2,508.5L449.9,508.9L450.5,508.8L451.2,509L451.9,509.2L453.9,509.2L454.5,509.1L455.2,508.4L455.9,509.2L456.5,509.2L457.2,509.1L457.9,509.2L458.5,508.8L459.2,509.2L459.9,509.1L460.5,509.2L461.2,508.8L461.9,509.2L462.5,508.4L463.2,509.2L463.9,508.9L464.5,509L465.2,508.7L465.9,508.9L466.5,509L467.2,509.2L467.9,509.2L468.5,508.8L469.2,508.7L469.9,508.9L470.6,509.2L471.2,509.2L471.9,508.4L472.6,509.2L473.2,509.2L473.9,508.8L474.6,509.2L475.2,508.9L475.9,508.4L476.6,508.8L477.2,509.2L477.9,509.2L478.6,508.4L479.2,508.8L479.9,509.2L479.9,509.2Z" fill="#2f9a3a"/>
<rect x="299.60" y="508.74" width="180.30" height="0.9" fill="#2f9a3a" opacity="0.6"/>
<text x="295.60" y="495.00" font-size="5.0" text-anchor="end" fill="#333" font-weight="normal" font-style="normal" stroke="#333" stroke-width="0.1">H3K9me3</text>
<rect x="299.00" y="477.56" width="1" height="31.98" fill="#2f9a3a" opacity="0.3"/>
<text x="302.80" y="515.14" font-size="5.3" text-anchor="start" fill="#3a3a3a" font-weight="normal" font-style="normal" stroke="#3a3a3a" stroke-width="0.1">0-60</text>
<text x="484.10" y="519.55" font-size="5.4" text-anchor="start" fill="#333" font-weight="normal" font-style="normal" stroke="#333" stroke-width="0.1">NBC</text>
<path d="M299.6,519.9L299.6,519.9L300.3,519.5L300.9,519.9L301.6,519.6L302.3,519.9L302.9,519.9L303.6,519.5L304.3,519.9L304.9,519.2L305.6,519.9L306.9,519.9L307.6,519.7L308.3,519.9L308.9,519.3L309.6,519.9L310.3,519.3L311,519.7L311.6,519.6L312.3,519.9L313,519.9L313.6,519.4L314.3,519.9L315.6,519.9L316.3,519.4L317,519.9L317.6,519.9L318.3,519.8L319,519.9L319.6,519.3L320.3,519.9L322.3,519.9L323,519.3L323.6,519.9L324.3,519.7L325,519.9L325.6,519.3L326.3,519.6L327,519.9L329,519.9L329.7,519.4L330.3,519.9L331,519.9L331.7,519.2L332.3,519.7L333,519.6L333.7,519.9L335,519.9L335.7,519.6L336.3,519.9L337,519.9L337.7,519.7L338.3,519.2L339,519.8L339.7,519.4L340.3,519.9L341,519.7L341.7,519.6L342.3,519.5L343,519.9L344.3,519.9L345,519.7L345.7,519.7L346.3,519.9L347,519.9L347.7,519.7L348.3,519.9L349,519.9L349.7,519.7L350.4,519.5L351,519.3L351.7,519.9L352.4,519.3L353,519.9L353.7,519.4L354.4,519.6L355,519.4L355.7,519.9L356.4,519.9L357,519.5L357.7,519.9L363,519.9L363.7,519.5L364.4,519.5L365,519.9L365.7,519.9L366.4,519.5L367,519.9L367.7,519.9L368.4,519.4L369,519.5L369.7,519.6L370.4,519.9L371.1,519.7L371.7,519.9L372.4,519.9L373.1,519.4L373.7,519.9L374.4,519.6L375.1,519.9L377.1,519.9L377.7,519.3L378.4,519.5L379.1,519.7L379.7,519.8L380.4,519.2L381.1,519.9L381.7,519.5L382.4,519.9L383.1,519.7L383.7,519.6L384.4,519.5L385.1,519.9L385.7,519.9L386.4,519.2L387.1,519.9L387.7,519.9L388.4,519.6L389.1,519.4L389.8,519.9L390.4,519.8L391.1,519.9L393.8,519.9L394.4,519.3L395.1,519.9L395.8,519.7L396.4,519.6L397.1,519.9L399.1,519.9L399.8,519.3L400.4,519.9L403.1,519.9L403.8,519.7L404.4,519.6L405.1,519.2L405.8,519.2L406.4,519.9L407.1,519.8L407.8,519.9L409.1,519.9L409.8,519.3L410.5,519.8L411.1,519.9L411.8,519.5L412.5,519.9L413.1,519.9L413.8,519.5L414.5,519.9L417.8,519.9L418.5,519.5L419.1,519.6L419.8,519.7L420.5,519.9L421.1,519.7L421.8,519.9L424.5,519.9L425.1,519.3L425.8,519.6L426.5,519.3L427.1,519.9L427.8,519.9L428.5,519.5L429.1,519.2L429.8,519.9L430.5,519.8L431.2,519.7L431.8,519.9L432.5,519.5L433.2,519.9L433.8,519.9L434.5,519.4L435.2,519.3L435.8,519.9L437.2,519.9L437.8,519.7L438.5,519.6L439.2,519.9L439.8,518.5L440.5,518.7L441.2,519.9L441.8,519.2L442.5,518L443.2,519.3L443.8,519.2L444.5,518.8L445.2,519.5L445.8,519.4L446.5,518.8L447.2,518.2L447.8,514.6L448.5,513.8L449.2,516.5L449.9,516.4L450.5,512.2L451.2,512.7L451.9,515.5L452.5,516L453.2,516.4L453.9,514.9L454.5,513L455.2,514.3L455.9,517.2L456.5,516.7L457.2,515.4L457.9,518L458.5,519.2L459.2,518.8L459.9,518.9L460.5,519.8L461.2,519.7L461.9,519.9L462.5,519.6L463.2,519.9L463.9,519.5L464.5,519.6L465.2,519.7L465.9,519.9L466.5,519.5L467.2,519.9L469.2,519.9L469.9,519.8L470.6,519.9L473.2,519.9L473.9,519.4L474.6,519.7L475.2,519.4L475.9,519.7L476.6,519.9L477.2,519.9L477.9,519.4L478.6,519.9L479.2,519.7L479.9,519.9L479.9,519.9Z" fill="#3a3a3a"/>
<rect x="299.60" y="519.40" width="180.30" height="0.9" fill="#3a3a3a" opacity="0.6"/>
<text x="302.80" y="525.80" font-size="5.3" text-anchor="start" fill="#3a3a3a" font-weight="normal" font-style="normal" stroke="#3a3a3a" stroke-width="0.1">0-60</text>
<text x="484.10" y="530.35" font-size="5.4" text-anchor="start" fill="#333" font-weight="normal" font-style="normal" stroke="#333" stroke-width="0.1">MBL</text>
<path d="M299.6,530.6L299.6,530.6L300.3,530.6L300.9,530.4L301.6,530.5L302.3,530.6L302.9,530.3L303.6,530.5L304.3,530.6L305.6,530.6L306.3,530.4L306.9,530.6L307.6,530.5L308.3,530.6L308.9,530.5L309.6,530.6L311.6,530.6L312.3,530.3L313,530.6L313.6,530.5L314.3,530.6L322.3,530.6L323,530.4L323.6,530.6L324.3,530.6L325,530.4L325.6,530.6L327.6,530.6L328.3,530.3L329,530.6L329.7,530.5L330.3,530.6L331,530.3L331.7,530.6L332.3,530.5L333,530.6L333.7,530.6L334.3,530.5L335,530.6L335.7,530.3L336.3,530.5L337,530.6L337.7,530.6L338.3,530.3L339,530.6L339.7,530.6L340.3,530.5L341,530.6L343,530.6L343.7,530.5L344.3,530.6L346.3,530.6L347,530.4L347.7,530.6L348.3,530.5L349,530.6L352.4,530.6L353,530.5L353.7,530.5L354.4,530.6L355,530.6L355.7,530.4L356.4,530.6L357,530.5L357.7,530.5L358.4,530.6L361.7,530.6L362.4,530.5L363,530.4L363.7,530.6L364.4,530.6L365,530.5L365.7,530.6L366.4,530.6L367,530.4L367.7,530.3L368.4,530.6L369.7,530.6L370.4,530.3L371.1,530.6L373.1,530.6L373.7,530.5L374.4,530.6L375.1,530.6L375.7,530.5L376.4,530.4L377.1,530.3L377.7,530.4L378.4,530.6L381.1,530.6L381.7,530.3L382.4,530.6L385.1,530.6L385.7,530.5L386.4,530.3L387.1,530.6L387.7,530.4L388.4,530.6L389.1,530.3L389.8,530.5L390.4,530.5L391.1,530.6L393.1,530.6L393.8,530.5L394.4,530.6L397.1,530.6L397.8,530.4L398.4,530.6L399.1,530.5L399.8,530.6L400.4,530.5L401.1,530.6L401.8,530.5L402.4,530.6L404.4,530.6L405.1,530.5L405.8,530.6L406.4,530.6L407.1,530.4L407.8,530.5L408.4,530.4L409.1,530.6L411.8,530.6L412.5,530.4L413.1,530.5L413.8,530.6L414.5,530.4L415.1,530.6L418.5,530.6L419.1,530.5L419.8,530.6L422.5,530.6L423.1,530.3L423.8,530.4L424.5,530.6L427.8,530.6L428.5,530.5L429.1,530.3L429.8,530.6L430.5,530.6L431.2,530.3L431.8,530.6L433.2,530.6L433.8,530.4L434.5,530.6L439.8,530.6L440.5,530.4L441.2,530.3L441.8,530.6L447.8,530.6L448.5,530.4L449.2,530.6L449.9,530.6L450.5,530.5L451.2,530.6L451.9,530.6L452.5,530.4L453.2,530.6L455.9,530.6L456.5,530.3L457.2,530.5L457.9,530.6L459.2,530.6L459.9,530.4L460.5,530.6L461.2,530.6L461.9,530.3L462.5,530.3L463.2,530.6L464.5,530.6L465.2,530.5L465.9,530.6L466.5,530.5L467.2,530.6L467.9,530.3L468.5,530.6L469.2,530.3L469.9,530.3L470.6,530.4L471.2,530.6L472.6,530.6L473.2,530.5L473.9,530.3L474.6,530.3L475.2,530.6L475.9,530.6L476.6,530.5L477.2,530.6L479.9,530.6L479.9,530.6Z" fill="#3a3a3a"/>
<rect x="299.60" y="530.06" width="180.30" height="0.9" fill="#3a3a3a" opacity="0.6"/>
<text x="302.80" y="536.46" font-size="5.3" text-anchor="start" fill="#3a3a3a" font-weight="normal" font-style="normal" stroke="#3a3a3a" stroke-width="0.1">0-60</text>
<text x="484.10" y="541.15" font-size="5.4" text-anchor="start" fill="#333" font-weight="normal" font-style="normal" stroke="#333" stroke-width="0.1">CLL</text>
<path d="M299.6,541.2L299.6,541.1L300.3,541L300.9,541.2L301.6,540.9L302.3,541.2L304.9,541.2L305.6,541L306.3,541.2L306.9,541.1L307.6,541L308.3,541.1L308.9,541.2L329,541.2L329.7,541.1L330.3,541.2L331,541.2L331.7,541.1L332.3,541.2L334.3,541.2L335,541.1L335.7,541.2L336.3,541.2L337,541L337.7,541.2L340.3,541.2L341,540.9L341.7,541.2L342.3,541.2L343,541L343.7,541.2L344.3,541L345,541.1L345.7,541.2L346.3,541.2L347,541L347.7,540.9L348.3,541.2L351.7,541.2L352.4,540.9L353,541.2L355,541.2L355.7,541.1L356.4,541.2L357,541L357.7,541.2L361.7,541.2L362.4,541.1L363,541L363.7,541L364.4,540.9L365,541.2L365.7,541.2L366.4,541L367,541.2L371.1,541.2L371.7,540.9L372.4,541.2L375.1,541.2L375.7,541L376.4,541L377.1,541.2L383.1,541.2L383.7,541.1L384.4,541.1L385.1,541.2L385.7,541.2L386.4,541.1L387.1,541.2L387.7,541.2L388.4,541.1L389.1,541.2L391.1,541.2L391.8,541L392.4,541.2L395.8,541.2L396.4,541.1L397.1,541.2L398.4,541.2L399.1,541.1L399.8,541.2L402.4,541.2L403.1,540.9L403.8,540.9L404.4,541.2L405.1,541.1L405.8,541.2L416.5,541.2L417.1,540.9L417.8,540.9L418.5,541.2L424.5,541.2L425.1,541.1L425.8,541.1L426.5,541.2L429.1,541.2L429.8,540.9L430.5,541.1L431.2,541.2L431.8,541.2L432.5,541.1L433.2,541.2L434.5,541.2L435.2,541L435.8,541.2L437.2,541.2L437.8,541L438.5,541.2L442.5,541.2L443.2,541.1L443.8,541.2L447.8,541.2L448.5,541.1L449.2,541.2L449.9,541.1L450.5,541.2L457.2,541.2L457.9,541.1L458.5,541.2L461.9,541.2L462.5,540.9L463.2,541.2L463.9,541L464.5,541.2L465.2,541L465.9,541.2L466.5,541.1L467.2,541.2L469.2,541.2L469.9,541.1L470.6,541.2L473.9,541.2L474.6,541.1L475.2,541.2L477.2,541.2L477.9,540.9L478.6,541.2L479.2,541L479.9,541.2L479.9,541.2Z" fill="#3a3a3a"/>
<rect x="299.60" y="540.72" width="180.30" height="0.9" fill="#3a3a3a" opacity="0.6"/>
<text x="295.60" y="524.20" font-size="5.0" text-anchor="end" fill="#333" font-weight="normal" font-style="normal" stroke="#333" stroke-width="0.1">H3K27me3</text>
<rect x="299.00" y="509.54" width="1" height="31.98" fill="#3a3a3a" opacity="0.3"/>
<rect x="330.60" y="544.70" width="129.90" height="0.6" fill="#4848a0"/>
<rect x="346.50" y="543.50" width="1.00" height="3" fill="#1f1f80"/>
<rect x="354.00" y="543.50" width="0.70" height="3" fill="#1f1f80"/>
<rect x="361.30" y="543.50" width="1.20" height="3" fill="#1f1f80"/>
<rect x="363.80" y="543.50" width="1.20" height="3" fill="#1f1f80"/>
<rect x="366.30" y="543.50" width="1.20" height="3" fill="#1f1f80"/>
<rect x="372.00" y="543.50" width="0.90" height="3" fill="#1f1f80"/>
<rect x="447.00" y="543.50" width="1.50" height="3" fill="#1f1f80"/>
<rect x="449.30" y="543.50" width="1.50" height="3" fill="#1f1f80"/>
<rect x="451.50" y="543.50" width="1.00" height="3" fill="#1f1f80"/>
<path d="M338.70,543.90 L337.40,545.00 L338.70,546.10" fill="none" stroke="#3a3a8a" stroke-width="0.45"/>
<path d="M385.20,543.90 L383.90,545.00 L385.20,546.10" fill="none" stroke="#3a3a8a" stroke-width="0.45"/>
<path d="M394.00,543.90 L392.70,545.00 L394.00,546.10" fill="none" stroke="#3a3a8a" stroke-width="0.45"/>
<path d="M402.10,543.90 L400.80,545.00 L402.10,546.10" fill="none" stroke="#3a3a8a" stroke-width="0.45"/>
<path d="M409.50,543.90 L408.20,545.00 L409.50,546.10" fill="none" stroke="#3a3a8a" stroke-width="0.45"/>
<path d="M417.60,543.90 L416.30,545.00 L417.60,546.10" fill="none" stroke="#3a3a8a" stroke-width="0.45"/>
<path d="M425.00,543.90 L423.70,545.00 L425.00,546.10" fill="none" stroke="#3a3a8a" stroke-width="0.45"/>
<path d="M433.00,543.90 L431.70,545.00 L433.00,546.10" fill="none" stroke="#3a3a8a" stroke-width="0.45"/>
<path d="M441.10,543.90 L439.80,545.00 L441.10,546.10" fill="none" stroke="#3a3a8a" stroke-width="0.45"/>
<path d="M460.70,543.90 L459.40,545.00 L460.70,546.10" fill="none" stroke="#3a3a8a" stroke-width="0.45"/>
<path d="M330.30,545.00 L332.50,543.60 L332.50,546.40Z" fill="#1f1f80"/>
<path d="M454.60,545.00 L456.80,543.60 L456.80,546.40Z" fill="#1f1f80"/>
<text x="401.70" y="555.60" font-size="5.2" text-anchor="middle" fill="#333" font-weight="normal" font-style="italic" stroke="#333" stroke-width="0.1">LEF1</text>
<rect x="0.5" y="0.5" width="519" height="563" fill="none" stroke="#5a5a5a" stroke-width="1"/>
</svg>
</body></html>
